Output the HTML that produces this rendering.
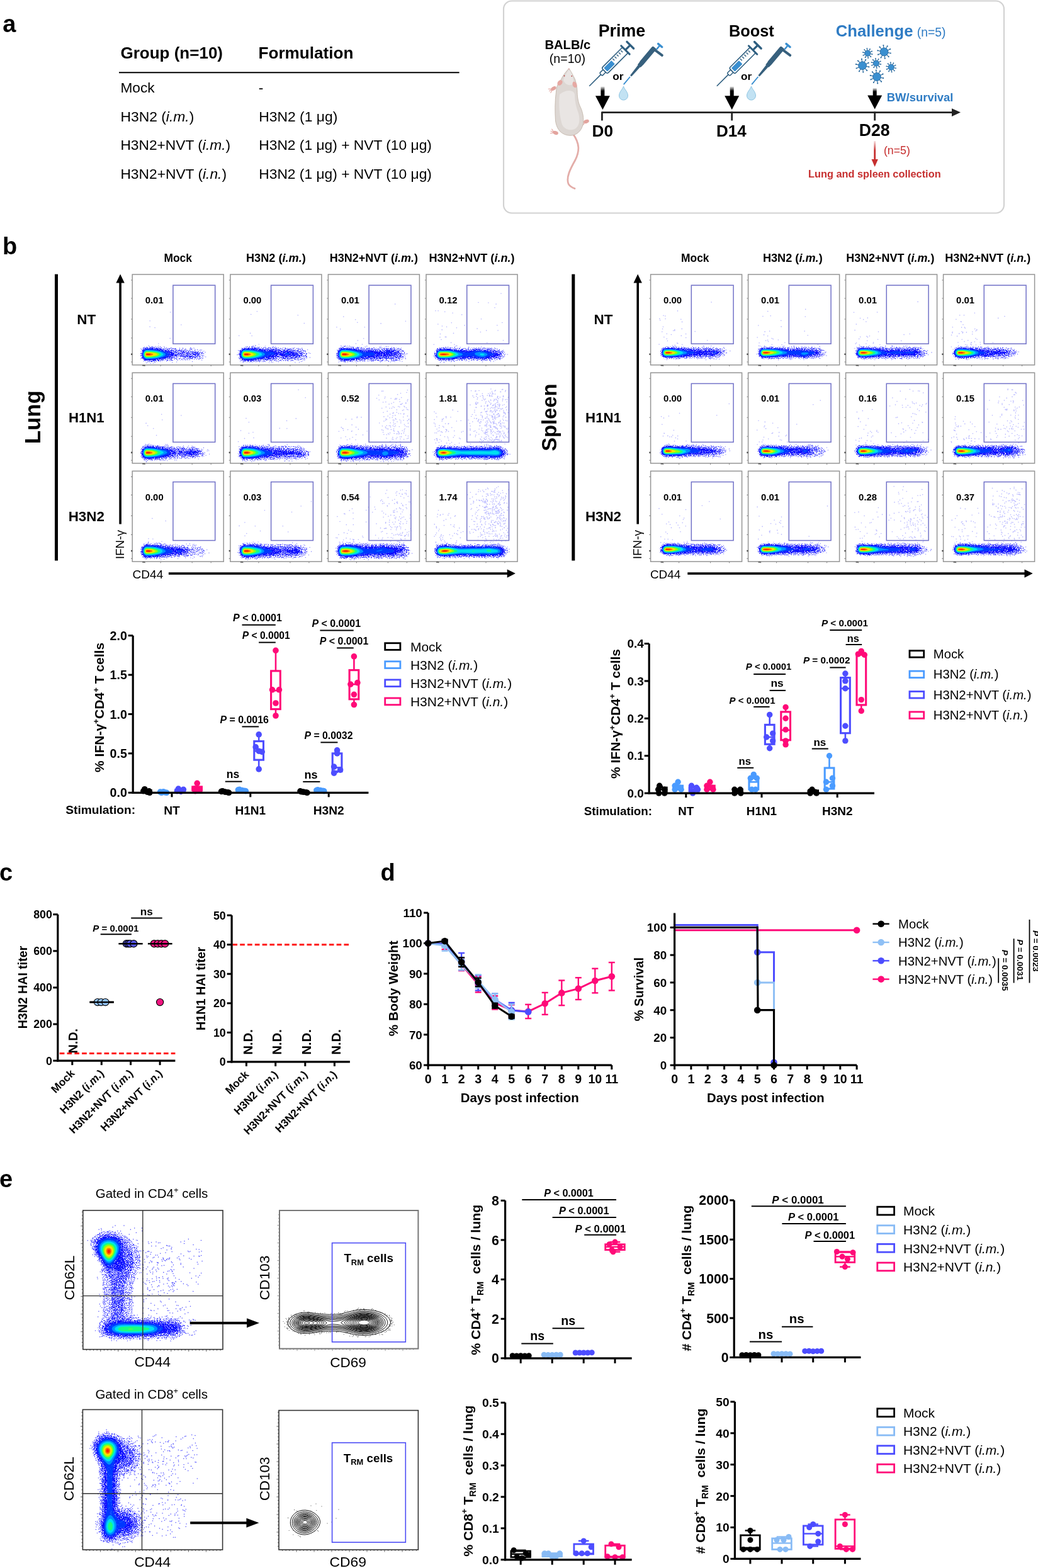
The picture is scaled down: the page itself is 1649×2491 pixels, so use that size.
<!DOCTYPE html>
<html><head><meta charset="utf-8"><title>Figure</title>
<style>html,body{margin:0;padding:0;background:#fff;}svg{display:block;}</style></head>
<body>
<svg width="1649" height="2491" viewBox="0 0 1649 2491" font-family="&quot;Liberation Sans&quot;, Arial, Helvetica, sans-serif">
<defs>
<linearGradient id="fadeDown" x1="0" y1="0" x2="0" y2="1"><stop offset="0" stop-color="#000" stop-opacity="0.1"/><stop offset="0.45" stop-color="#000" stop-opacity="1"/></linearGradient>
<linearGradient id="fadeRed" x1="0" y1="0" x2="0" y2="1"><stop offset="0" stop-color="#c62f2f" stop-opacity="0.15"/><stop offset="0.5" stop-color="#c62f2f" stop-opacity="1"/></linearGradient>
<filter id="spkA" x="0" y="0" width="1" height="1"><feTurbulence type="fractalNoise" baseFrequency="0.75" numOctaves="2" seed="5" result="n"/><feColorMatrix in="n" type="matrix" values="0 0 0 0 0 0 0 0 0 0 0 0 0 0 0 14 0 0 0 -7.6" result="m"/><feComposite in="SourceGraphic" in2="m" operator="in"/></filter>
<filter id="spkB" x="0" y="0" width="1" height="1"><feTurbulence type="fractalNoise" baseFrequency="0.75" numOctaves="2" seed="9" result="n"/><feColorMatrix in="n" type="matrix" values="0 0 0 0 0 0 0 0 0 0 0 0 0 0 0 14 0 0 0 -6.6" result="m"/><feComposite in="SourceGraphic" in2="m" operator="in"/></filter>
<filter id="spkC" x="0" y="0" width="1" height="1"><feTurbulence type="fractalNoise" baseFrequency="0.75" numOctaves="2" seed="13" result="n"/><feColorMatrix in="n" type="matrix" values="0 0 0 0 0 0 0 0 0 0 0 0 0 0 0 14 0 0 0 -5.6" result="m"/><feComposite in="SourceGraphic" in2="m" operator="in"/></filter>
<filter id="soft" x="-10%" y="-10%" width="120%" height="120%"><feGaussianBlur stdDeviation="0.6"/></filter>
</defs>
<rect width="1649" height="2491" fill="#fff"/>
<text x="4.2" y="51" font-size="38" font-weight="bold">a</text>
<text x="191.5" y="93" font-size="26.01" font-weight="bold">Group (n=10)</text>
<text x="410.5" y="93" font-size="26.11" font-weight="bold">Formulation</text>
<line x1="189" y1="115.3" x2="729.6" y2="115.3" stroke="#000" stroke-width="2"/>
<text x="191.4" y="146.5" font-size="22.7">Mock</text>
<text x="410.8" y="146.5" font-size="22.8">-</text>
<text x="191.4" y="192.5" font-size="22.89">H3N2 (<tspan font-style="italic">i.m.</tspan>)</text>
<text x="411.3" y="192.5" font-size="22.86">H3N2 (1 μg)</text>
<text x="191.4" y="238.4" font-size="22.75">H3N2+NVT (<tspan font-style="italic">i.m.</tspan>)</text>
<text x="411.3" y="238.4" font-size="22.79">H3N2 (1 μg) + NVT (10 μg)</text>
<text x="191.4" y="284.4" font-size="22.79">H3N2+NVT (<tspan font-style="italic">i.n.</tspan>)</text>
<text x="411.3" y="284.4" font-size="22.79">H3N2 (1 μg) + NVT (10 μg)</text>
<rect x="800" y="1.5" width="795" height="337" rx="13" fill="#fff" stroke="#d2d2d2" stroke-width="2.2"/>
<line x1="956.4" y1="178.6" x2="1514" y2="178.6" stroke="#222" stroke-width="2.8"/>
<path d="M1512 172.3 L1526 178.6 L1512 184.9 Z" fill="#222"/>
<line x1="956.4" y1="177.5" x2="956.4" y2="191.5" stroke="#222" stroke-width="2.8"/>
<line x1="1162.7" y1="177.5" x2="1162.7" y2="191.5" stroke="#222" stroke-width="2.8"/>
<line x1="1389.7" y1="177.5" x2="1389.7" y2="191.5" stroke="#222" stroke-width="2.8"/>
<text x="957.3" y="216.6" font-size="26.23" font-weight="bold" text-anchor="middle">D0</text>
<text x="1161.8" y="216.6" font-size="26.05" font-weight="bold" text-anchor="middle">D14</text>
<text x="1389.2" y="216.2" font-size="26.72" font-weight="bold" text-anchor="middle">D28</text>
<rect x="954.4" y="137.5" width="6" height="15.8" fill="url(#fadeDown)"/>
<path d="M945.9 152.3L968.9 152.3L957.4 174.3Z" fill="#000"/>
<rect x="1159.7" y="137.5" width="6" height="15.8" fill="url(#fadeDown)"/>
<path d="M1151.2 152.3L1174.2 152.3L1162.7 174.3Z" fill="#000"/>
<rect x="1386.7" y="140" width="6" height="12.6" fill="url(#fadeDown)"/>
<path d="M1378.2 151.6L1401.2 151.6L1389.7 173.6Z" fill="#000"/>
<text x="987.9" y="57.7" font-size="26.81" font-weight="bold" text-anchor="middle">Prime</text>
<text x="1193.8" y="57.7" font-size="25.35" font-weight="bold" text-anchor="middle">Boost</text>
<text x="1327.8" y="58.3" font-size="25.66" font-weight="bold" fill="#2f7cc4">Challenge</text>
<text x="1456.8" y="58.3" font-size="19.39" fill="#2f7cc4">(n=5)</text>
<text x="1408.8" y="160.7" font-size="18.47" font-weight="bold" fill="#2f7cc4">BW/survival</text>
<text x="901.9" y="78" font-size="20.14" font-weight="bold" text-anchor="middle">BALB/c</text>
<text x="901.4" y="100.4" font-size="19.57" text-anchor="middle">(n=10)</text>
<text x="981.8" y="127.2" font-size="17.23" font-weight="bold" text-anchor="middle">or</text>
<text x="1185.5" y="127.2" font-size="17.23" font-weight="bold" text-anchor="middle">or</text>
<rect x="1388.3" y="224" width="2.8" height="30" fill="url(#fadeRed)"/>
<path d="M1384.5 253 L1394.9 253 L1389.7 265 Z" fill="#c62f2f"/>
<text x="1403.9" y="244.8" font-size="17.74" fill="#c62f2f">(n=5)</text>
<text x="1389.3" y="281.8" font-size="16.35" font-weight="bold" text-anchor="middle" fill="#c62f2f">Lung and spleen collection</text>
<g transform="translate(936.2 136.7) rotate(-45)">
<line x1="0" y1="0" x2="26" y2="0" stroke="#2f5f80" stroke-width="1.6"/>
<rect x="26" y="-3" width="8" height="6" rx="1.5" fill="#fff" stroke="#2f5f80" stroke-width="1.5"/>
<rect x="34" y="-6.3" width="47" height="12.6" rx="2.5" fill="#fff" stroke="#2f5f80" stroke-width="1.6"/>
<rect x="36.5" y="-4" width="17" height="8" rx="1" fill="#3a8fd0"/>
<line x1="57" y1="-4.6" x2="57" y2="-0.5" stroke="#2f5f80" stroke-width="1.4"/>
<line x1="61.6" y1="-4.6" x2="61.6" y2="-0.5" stroke="#2f5f80" stroke-width="1.4"/>
<line x1="66.2" y1="-4.6" x2="66.2" y2="-0.5" stroke="#2f5f80" stroke-width="1.4"/>
<line x1="70.8" y1="-4.6" x2="70.8" y2="-0.5" stroke="#2f5f80" stroke-width="1.4"/>
<line x1="75.4" y1="-4.6" x2="75.4" y2="-0.5" stroke="#2f5f80" stroke-width="1.4"/>
<line x1="81" y1="-9.5" x2="81" y2="9.5" stroke="#2f5f80" stroke-width="3" stroke-linecap="round"/>
<line x1="81" y1="0" x2="92" y2="0" stroke="#2f5f80" stroke-width="3.2"/>
<line x1="92" y1="-7.5" x2="92" y2="7.5" stroke="#2f5f80" stroke-width="3.4" stroke-linecap="round"/>
</g>
<g transform="translate(1138.8 136.8) rotate(-45)">
<line x1="0" y1="0" x2="26" y2="0" stroke="#2f5f80" stroke-width="1.6"/>
<rect x="26" y="-3" width="8" height="6" rx="1.5" fill="#fff" stroke="#2f5f80" stroke-width="1.5"/>
<rect x="34" y="-6.3" width="47" height="12.6" rx="2.5" fill="#fff" stroke="#2f5f80" stroke-width="1.6"/>
<rect x="36.5" y="-4" width="17" height="8" rx="1" fill="#3a8fd0"/>
<line x1="57" y1="-4.6" x2="57" y2="-0.5" stroke="#2f5f80" stroke-width="1.4"/>
<line x1="61.6" y1="-4.6" x2="61.6" y2="-0.5" stroke="#2f5f80" stroke-width="1.4"/>
<line x1="66.2" y1="-4.6" x2="66.2" y2="-0.5" stroke="#2f5f80" stroke-width="1.4"/>
<line x1="70.8" y1="-4.6" x2="70.8" y2="-0.5" stroke="#2f5f80" stroke-width="1.4"/>
<line x1="75.4" y1="-4.6" x2="75.4" y2="-0.5" stroke="#2f5f80" stroke-width="1.4"/>
<line x1="81" y1="-9.5" x2="81" y2="9.5" stroke="#2f5f80" stroke-width="3" stroke-linecap="round"/>
<line x1="81" y1="0" x2="92" y2="0" stroke="#2f5f80" stroke-width="3.2"/>
<line x1="92" y1="-7.5" x2="92" y2="7.5" stroke="#2f5f80" stroke-width="3.4" stroke-linecap="round"/>
</g>
<g transform="translate(990.9 134) rotate(-50)">
<line x1="0.5" y1="0" x2="15" y2="0" stroke="#3a8fd0" stroke-width="1.9" stroke-linecap="round"/>
<path d="M17.5 -1.5 L38.5 -2.4 L38.5 2.4 L17.5 1.5 Z" fill="#37607d"/>
<path d="M38 -3.2 L44 -3.6 L44 -3.9 L74 -3.9 Q76.5 -3.9 76.5 -1.5 L76.5 3.9 L44 3.9 L38 3.2 Z" fill="#37607d"/>
<line x1="73.5" y1="2" x2="74.5" y2="17" stroke="#37607d" stroke-width="4" stroke-linecap="round"/>
<line x1="76" y1="4.2" x2="83.5" y2="4.2" stroke="#3a8fd0" stroke-width="2.6"/>
<line x1="84.5" y1="0.5" x2="84.5" y2="8.5" stroke="#3a8fd0" stroke-width="3.4" stroke-linecap="round"/>
</g>
<g transform="translate(1194.3 134) rotate(-50)">
<line x1="0.5" y1="0" x2="15" y2="0" stroke="#3a8fd0" stroke-width="1.9" stroke-linecap="round"/>
<path d="M17.5 -1.5 L38.5 -2.4 L38.5 2.4 L17.5 1.5 Z" fill="#37607d"/>
<path d="M38 -3.2 L44 -3.6 L44 -3.9 L74 -3.9 Q76.5 -3.9 76.5 -1.5 L76.5 3.9 L44 3.9 L38 3.2 Z" fill="#37607d"/>
<line x1="73.5" y1="2" x2="74.5" y2="17" stroke="#37607d" stroke-width="4" stroke-linecap="round"/>
<line x1="76" y1="4.2" x2="83.5" y2="4.2" stroke="#3a8fd0" stroke-width="2.6"/>
<line x1="84.5" y1="0.5" x2="84.5" y2="8.5" stroke="#3a8fd0" stroke-width="3.4" stroke-linecap="round"/>
</g>
<path d="M990.5 137 C989 142 983.5 146 983.5 152 A7 7 0 0 0 997.5 152 C997.5 146 992 142 990.5 137 Z" fill="#c2e2f3" stroke="#8fc5e2" stroke-width="1"/>
<path d="M1193.5 137 C1192 142 1186.5 146 1186.5 152 A7 7 0 0 0 1200.5 152 C1200.5 146 1195 142 1193.5 137 Z" fill="#c2e2f3" stroke="#8fc5e2" stroke-width="1"/>
<path d="M1382.6 85.5L1385.7 86.1M1381.3 87.8L1383.4 90.2M1378.8 89L1379.2 92.2M1376.1 88.4L1374.6 91.2M1374.3 86.4L1371.4 87.8M1374 83.7L1370.9 83.1M1375.3 81.4L1373.2 79M1377.8 80.2L1377.4 77M1380.5 80.8L1382 78M1382.3 82.8L1385.2 81.4" stroke="#2a6a9e" stroke-width="1.1"/>
<circle cx="1385.7" cy="86.1" r="0.9" fill="#2a6a9e"/>
<circle cx="1383.4" cy="90.2" r="0.9" fill="#2a6a9e"/>
<circle cx="1379.2" cy="92.2" r="0.9" fill="#2a6a9e"/>
<circle cx="1374.6" cy="91.2" r="0.9" fill="#2a6a9e"/>
<circle cx="1371.4" cy="87.8" r="0.9" fill="#2a6a9e"/>
<circle cx="1370.9" cy="83.1" r="0.9" fill="#2a6a9e"/>
<circle cx="1373.2" cy="79" r="0.9" fill="#2a6a9e"/>
<circle cx="1377.4" cy="77" r="0.9" fill="#2a6a9e"/>
<circle cx="1382" cy="78" r="0.9" fill="#2a6a9e"/>
<circle cx="1385.2" cy="81.4" r="0.9" fill="#2a6a9e"/>
<circle cx="1378.3" cy="84.6" r="4.6" fill="#3a8fd0" stroke="#2a6a9e" stroke-width="0.9"/>
<path d="M1410.5 83.6L1414.8 84.5M1408.7 86.9L1411.7 90.1M1405.3 88.4L1405.8 92.8M1401.6 87.7L1399.5 91.5M1399.1 84.9L1395.1 86.7M1398.7 81.2L1394.4 80.3M1400.5 77.9L1397.5 74.7M1403.9 76.4L1403.4 72M1407.6 77.1L1409.7 73.3M1410.1 79.9L1414.1 78.1" stroke="#2a6a9e" stroke-width="1.1"/>
<circle cx="1414.8" cy="84.5" r="1.1" fill="#2a6a9e"/>
<circle cx="1411.7" cy="90.1" r="1.1" fill="#2a6a9e"/>
<circle cx="1405.8" cy="92.8" r="1.1" fill="#2a6a9e"/>
<circle cx="1399.5" cy="91.5" r="1.1" fill="#2a6a9e"/>
<circle cx="1395.1" cy="86.7" r="1.1" fill="#2a6a9e"/>
<circle cx="1394.4" cy="80.3" r="1.1" fill="#2a6a9e"/>
<circle cx="1397.5" cy="74.7" r="1.1" fill="#2a6a9e"/>
<circle cx="1403.4" cy="72" r="1.1" fill="#2a6a9e"/>
<circle cx="1409.7" cy="73.3" r="1.1" fill="#2a6a9e"/>
<circle cx="1414.1" cy="78.1" r="1.1" fill="#2a6a9e"/>
<circle cx="1404.6" cy="82.4" r="6.4" fill="#3a8fd0" stroke="#2a6a9e" stroke-width="0.9"/>
<path d="M1376 105.4L1380.3 106.3M1374.2 108.7L1377.2 111.9M1370.8 110.2L1371.3 114.6M1367.1 109.5L1365 113.3M1364.6 106.7L1360.6 108.5M1364.2 103L1359.9 102.1M1366 99.7L1363 96.5M1369.4 98.2L1368.9 93.8M1373.1 98.9L1375.2 95.1M1375.6 101.7L1379.6 99.9" stroke="#2a6a9e" stroke-width="1.1"/>
<circle cx="1380.3" cy="106.3" r="1.1" fill="#2a6a9e"/>
<circle cx="1377.2" cy="111.9" r="1.1" fill="#2a6a9e"/>
<circle cx="1371.3" cy="114.6" r="1.1" fill="#2a6a9e"/>
<circle cx="1365" cy="113.3" r="1.1" fill="#2a6a9e"/>
<circle cx="1360.6" cy="108.5" r="1.1" fill="#2a6a9e"/>
<circle cx="1359.9" cy="102.1" r="1.1" fill="#2a6a9e"/>
<circle cx="1363" cy="96.5" r="1.1" fill="#2a6a9e"/>
<circle cx="1368.9" cy="93.8" r="1.1" fill="#2a6a9e"/>
<circle cx="1375.2" cy="95.1" r="1.1" fill="#2a6a9e"/>
<circle cx="1379.6" cy="99.9" r="1.1" fill="#2a6a9e"/>
<circle cx="1370.1" cy="104.2" r="6.4" fill="#3a8fd0" stroke="#2a6a9e" stroke-width="0.9"/>
<path d="M1396.2 101.5L1399.3 102.1M1394.9 103.8L1397 106.2M1392.4 105L1392.8 108.2M1389.7 104.4L1388.2 107.2M1387.9 102.4L1385 103.8M1387.6 99.7L1384.5 99.1M1388.9 97.4L1386.8 95M1391.4 96.2L1391 93M1394.1 96.8L1395.6 94M1395.9 98.8L1398.8 97.4" stroke="#2a6a9e" stroke-width="1.1"/>
<circle cx="1399.3" cy="102.1" r="0.9" fill="#2a6a9e"/>
<circle cx="1397" cy="106.2" r="0.9" fill="#2a6a9e"/>
<circle cx="1392.8" cy="108.2" r="0.9" fill="#2a6a9e"/>
<circle cx="1388.2" cy="107.2" r="0.9" fill="#2a6a9e"/>
<circle cx="1385" cy="103.8" r="0.9" fill="#2a6a9e"/>
<circle cx="1384.5" cy="99.1" r="0.9" fill="#2a6a9e"/>
<circle cx="1386.8" cy="95" r="0.9" fill="#2a6a9e"/>
<circle cx="1391" cy="93" r="0.9" fill="#2a6a9e"/>
<circle cx="1395.6" cy="94" r="0.9" fill="#2a6a9e"/>
<circle cx="1398.8" cy="97.4" r="0.9" fill="#2a6a9e"/>
<circle cx="1391.9" cy="100.6" r="4.6" fill="#3a8fd0" stroke="#2a6a9e" stroke-width="0.9"/>
<path d="M1420 107.7L1423.1 108.3M1418.7 110L1420.8 112.4M1416.2 111.2L1416.6 114.4M1413.5 110.6L1412 113.4M1411.7 108.6L1408.8 110M1411.4 105.9L1408.3 105.3M1412.7 103.6L1410.6 101.2M1415.2 102.4L1414.8 99.2M1417.9 103L1419.4 100.2M1419.7 105L1422.6 103.6" stroke="#2a6a9e" stroke-width="1.1"/>
<circle cx="1423.1" cy="108.3" r="0.9" fill="#2a6a9e"/>
<circle cx="1420.8" cy="112.4" r="0.9" fill="#2a6a9e"/>
<circle cx="1416.6" cy="114.4" r="0.9" fill="#2a6a9e"/>
<circle cx="1412" cy="113.4" r="0.9" fill="#2a6a9e"/>
<circle cx="1408.8" cy="110" r="0.9" fill="#2a6a9e"/>
<circle cx="1408.3" cy="105.3" r="0.9" fill="#2a6a9e"/>
<circle cx="1410.6" cy="101.2" r="0.9" fill="#2a6a9e"/>
<circle cx="1414.8" cy="99.2" r="0.9" fill="#2a6a9e"/>
<circle cx="1419.4" cy="100.2" r="0.9" fill="#2a6a9e"/>
<circle cx="1422.6" cy="103.6" r="0.9" fill="#2a6a9e"/>
<circle cx="1415.7" cy="106.8" r="4.6" fill="#3a8fd0" stroke="#2a6a9e" stroke-width="0.9"/>
<path d="M1398.9 123.2L1403.2 124.1M1397.1 126.5L1400.1 129.7M1393.7 128L1394.2 132.4M1390 127.3L1387.9 131.1M1387.5 124.5L1383.5 126.3M1387.1 120.8L1382.8 119.9M1388.9 117.5L1385.9 114.3M1392.3 116L1391.8 111.6M1396 116.7L1398.1 112.9M1398.5 119.5L1402.5 117.7" stroke="#2a6a9e" stroke-width="1.1"/>
<circle cx="1403.2" cy="124.1" r="1.1" fill="#2a6a9e"/>
<circle cx="1400.1" cy="129.7" r="1.1" fill="#2a6a9e"/>
<circle cx="1394.2" cy="132.4" r="1.1" fill="#2a6a9e"/>
<circle cx="1387.9" cy="131.1" r="1.1" fill="#2a6a9e"/>
<circle cx="1383.5" cy="126.3" r="1.1" fill="#2a6a9e"/>
<circle cx="1382.8" cy="119.9" r="1.1" fill="#2a6a9e"/>
<circle cx="1385.9" cy="114.3" r="1.1" fill="#2a6a9e"/>
<circle cx="1391.8" cy="111.6" r="1.1" fill="#2a6a9e"/>
<circle cx="1398.1" cy="112.9" r="1.1" fill="#2a6a9e"/>
<circle cx="1402.5" cy="117.7" r="1.1" fill="#2a6a9e"/>
<circle cx="1393" cy="122" r="6.4" fill="#3a8fd0" stroke="#2a6a9e" stroke-width="0.9"/>
<path d="M910.5 213 C921 228 921 240 914 254 C906 268 899 282 903 292 C905 296 909 298 913 299.5" fill="none" stroke="#dc9d98" stroke-width="2.6" stroke-linecap="round"/>
<path d="M910.5 213 C921 228 921 240 914 254 C906 268 899 282 903 292 C905 296 909 298 913 299.5" fill="none" stroke="#efc4c0" stroke-width="0.8"/>
<g transform="translate(879.5 140.5) rotate(-30)">
<ellipse cx="0" cy="0" rx="4.5" ry="2.8" fill="#e3a49e"/>
<path d="M-4 -1 L-7.5 -3.5 M-4 0.5 L-8 0 M-4 1.8 L-7.5 3.5" stroke="#e3a49e" stroke-width="1.1" stroke-linecap="round"/>
</g>
<g transform="translate(882.5 211) rotate(20)">
<ellipse cx="0" cy="0" rx="4.5" ry="2.8" fill="#e3a49e"/>
<path d="M-4 -1 L-7.5 -3.5 M-4 0.5 L-8 0 M-4 1.8 L-7.5 3.5" stroke="#e3a49e" stroke-width="1.1" stroke-linecap="round"/>
</g>
<g transform="translate(931.5 193) rotate(-20)">
<ellipse cx="0" cy="0" rx="4.5" ry="2.8" fill="#e3a49e"/>
<path d="M-4 -1 L-7.5 -3.5 M-4 0.5 L-8 0 M-4 1.8 L-7.5 3.5" stroke="#e3a49e" stroke-width="1.1" stroke-linecap="round"/>
</g>
<path d="M903.8 108.8 C899 114 894 120 891 127 C887 131 884 137 883.5 146 C881.5 160 881.5 178 882.5 192 C884 203 889 210 896 213 C902 216 910 216 915 213 C921 210 925 204 926.5 196 C927.5 188 926 178 922 170 C918 162 917 152 917 145 C917 138 915 131 913.5 126 C910 119 907 113 903.8 108.8 Z" fill="#ddd7d3" stroke="#c4b7ac" stroke-width="0.9"/>
<path d="M889 150 C887 165 889 185 893 198 C897 206 906 208 913 205 C920 201 922 192 919 180 C915 170 913 160 913 150 C912 143 900 141 889 150 Z" fill="#e9e5e3"/>
<path d="M903.8 110.5 C900 116 897 121 895 127 C897 134 904 137 910 134 C912 130 911 124 908.5 118 C907 114 905.5 112 903.8 110.5 Z" fill="#e9e5e3"/>
<ellipse cx="889.5" cy="131.5" rx="3.5" ry="4.8" fill="#e6a9a3" transform="rotate(40 889.5 131.5)"/>
<ellipse cx="913" cy="134.5" rx="3.3" ry="5" fill="#e6a9a3" transform="rotate(-20 913 134.5)"/>
<circle cx="896.5" cy="120.5" r="0.9" fill="#b03030"/>
<circle cx="908.3" cy="120.8" r="0.9" fill="#b03030"/>
<circle cx="903.8" cy="109.5" r="0.9" fill="#e0a0a0"/>
<text x="3.9" y="404.3" font-size="38" font-weight="bold">b</text>
<text x="282.7" y="415.8" font-size="17.43" font-weight="bold" text-anchor="middle">Mock</text>
<text x="438.4" y="415.8" font-size="18.15" font-weight="bold" text-anchor="middle">H3N2 (<tspan font-style="italic">i.m.</tspan>)</text>
<text x="593.9" y="415.8" font-size="17.97" font-weight="bold" text-anchor="middle">H3N2+NVT (<tspan font-style="italic">i.m.</tspan>)</text>
<text x="749.5" y="415.8" font-size="18.07" font-weight="bold" text-anchor="middle">H3N2+NVT (<tspan font-style="italic">i.n.</tspan>)</text>
<text x="1104.3" y="415.8" font-size="17.43" font-weight="bold" text-anchor="middle">Mock</text>
<text x="1259.3" y="415.8" font-size="18.15" font-weight="bold" text-anchor="middle">H3N2 (<tspan font-style="italic">i.m.</tspan>)</text>
<text x="1414.3" y="415.8" font-size="17.97" font-weight="bold" text-anchor="middle">H3N2+NVT (<tspan font-style="italic">i.m.</tspan>)</text>
<text x="1569.3" y="415.8" font-size="18.07" font-weight="bold" text-anchor="middle">H3N2+NVT (<tspan font-style="italic">i.n.</tspan>)</text>
<text x="137.3" y="515" font-size="22.46" font-weight="bold" text-anchor="middle">NT</text>
<text x="137.3" y="671.3" font-size="22.22" font-weight="bold" text-anchor="middle">H1N1</text>
<text x="137.3" y="827.6" font-size="22.33" font-weight="bold" text-anchor="middle">H3N2</text>
<text x="958.5" y="515" font-size="22.46" font-weight="bold" text-anchor="middle">NT</text>
<text x="958.5" y="671.3" font-size="22.22" font-weight="bold" text-anchor="middle">H1N1</text>
<text x="958.5" y="827.6" font-size="22.33" font-weight="bold" text-anchor="middle">H3N2</text>
<rect x="87" y="435.6" width="5" height="455" fill="#000"/>
<rect x="908.3" y="435.6" width="5" height="455" fill="#000"/>
<text x="63.6" y="662.7" font-size="34.81" font-weight="bold" text-anchor="middle" transform="rotate(-90 63.6 662.7)">Lung</text>
<text x="884" y="663.2" font-size="32.72" font-weight="bold" text-anchor="middle" transform="rotate(-90 884 663.2)">Spleen</text>
<rect x="189.3" y="447" width="3.6" height="385.6" fill="#000"/>
<path d="M191.1 435.6L184.4 449.5L197.8 449.5Z" fill="#000"/>
<text x="196.9" y="865.2" font-size="18.95" text-anchor="middle" transform="rotate(-90 196.9 865.2)">IFN-γ</text>
<rect x="1011.4" y="447" width="3.6" height="385.6" fill="#000"/>
<path d="M1013.2 435.6L1006.5 449.5L1019.9 449.5Z" fill="#000"/>
<text x="1019" y="865.2" font-size="18.95" text-anchor="middle" transform="rotate(-90 1019 865.2)">IFN-γ</text>
<text x="210.6" y="918.7" font-size="19.02">CD44</text>
<rect x="267.9" y="909.3" width="540" height="3.6" fill="#000"/>
<path d="M805.7 904.5L818.9 911.1L805.7 917.7Z" fill="#000"/>
<text x="1033" y="918.7" font-size="18.86">CD44</text>
<rect x="1092.3" y="909.3" width="536" height="3.6" fill="#000"/>
<path d="M1627.5 904.5L1640.7 911.1L1627.5 917.7Z" fill="#000"/>
<g>
<path d="M246.7 575.5L231.7 575.7L228.2 574.3L225.7 572L223.4 567.5L222.8 561.5L224.4 556L227.2 552.5L229.2 551.2L231.7 550.3L240.2 550.2L275.2 553L309.2 554.4L314.7 555.3L320.2 557.2L323.7 559.5L325.5 562.5L325 565L322.2 567.7L318.2 569.7L312.2 571.2L298.2 572.3L282.2 572.3L246.7 575.5Z" fill="#3c3cff" filter="url(#spkA)"/>
<path d="M246.7 573.5L232.2 573.8L229.7 573L227.6 571.5L225 567.5L224.2 563L225 558.5L227.6 554.5L229.2 553.2L231.7 552.2L241.7 552.2L254.2 553.2L282.7 557.2L310.2 558L315.3 559.5L317.1 561L317.9 562.5L317.5 564.5L316.2 565.9L314.2 567L311.2 567.9L292.7 567.9L289.7 567.3L285.2 565.4L283.2 565.3L281.2 566L277.2 568.5L273.7 569.6L258.7 572.2L246.7 573.5Z" fill="#1e1eff" filter="url(#spkB)"/>
<path d="M237.2 572.5L232.2 572.4L230.2 571.8L227.5 569.5L225.9 566.5L225.4 562.5L226.3 558.5L228.4 555.5L231.2 553.8L242.7 553.7L256.7 555.3L272.2 559.2L275.4 560.5L276.7 562L276 564L273.5 566L263.7 569.3L249.7 571.7L237.2 572.5ZM310.2 564.1L307.2 564L306 563L307.3 562L310.2 561.9L311.5 563L310.2 564.1Z" fill="#0808ff" filter="url(#spkC)"/>
<path d="M243.7 571L232.7 571.3L230.7 570.7L228.9 569.5L227 566.5L226.4 563L227 559.5L228.7 556.7L230.7 555.3L232.7 554.7L241.2 554.8L250.7 555.7L256.7 556.9L262.7 558.6L266.6 560.5L268.5 562.5L268.5 563.5L267.3 565L261.7 567.9L253.2 569.8L243.7 571Z" fill="#0038ff"/>
<path d="M240.7 570L232.2 570L229.2 568.3L227.7 565.5L227.3 562.5L228 559.5L229.7 557.2L231.7 556.1L234.2 555.8L241.7 556L249.7 556.9L254.7 557.9L259.2 559.5L261.9 561L263 562.5L262.9 564L262.1 565L258.3 567L250.7 568.9L240.7 570Z" fill="#0090ff"/>
<path d="M241.2 569L232.7 569.2L230.1 568L228.7 566L228.1 563.5L228.5 560.5L229.7 558.4L231.2 557.3L233.2 556.8L239.7 556.9L247.7 557.7L255.2 559.5L258 561L259.3 562.5L259.4 563.5L258.7 564.5L254.7 566.6L249.2 568L241.2 569Z" fill="#00e0f0"/>
<path d="M241.2 568L232.7 568.2L230.7 567.3L229.3 565.5L228.9 563.5L229 561.5L229.9 559.5L231.2 558.3L232.7 557.8L244.2 558.3L252.2 559.9L254.5 561L255.8 562.5L255.8 563.5L255 564.5L252.3 566L247.7 567.2L241.2 568Z" fill="#18ff80"/>
<path d="M240.7 567L234.7 567.3L231.7 566.9L230.3 565.5L229.7 564L229.7 562L230.3 560.5L231.2 559.4L232.7 558.8L240.7 558.9L249.2 560.3L251.7 561.5L252.5 562.5L252.1 564L249.7 565.4L240.7 567Z" fill="#90ff10"/>
<path d="M240.2 566.1L232.2 566.1L231.2 565.3L230.6 564L230.7 561.5L231.7 560.2L232.7 559.8L237.7 559.7L246.2 561L249.1 562.5L249.1 563.5L247.5 564.5L240.2 566.1Z" fill="#ffe000"/>
<path d="M237.2 565L232.2 564.7L231.5 563.5L231.7 562L232.7 561.1L237.7 561L242.4 562L243.5 563L241.7 564.2L237.2 565Z" fill="#ff7000"/>
<path d="M237.2 564.1L233.1 564L232.4 563.5L232.4 562.5L233.2 562L236.7 561.9L239.2 562.4L239.7 563L237.2 564.1Z" fill="#ff2000"/>
<path d="M271.8 557.5h0M246.8 550.4h0M311.4 559.6h0M316.5 565.8h0M280.6 575h0M291.3 559.7h0M297.5 569.5h0M326.3 559.6h0M255.7 551.8h0M288.6 566.5h0M309.7 559.1h0M320.7 571.9h0M273.1 553.6h0M261.2 554h0M321.6 559.9h0M312.8 568.7h0M321.3 568.9h0M291.9 558.1h0M290.4 552.9h0M270.9 573h0M285.8 563.9h0M298.2 560.8h0M273.9 575.5h0M265.6 573.1h0M254.4 553.8h0M234.4 552.9h0M254.3 550.6h0M315.1 562.3h0M248 553.1h0M278.7 565.6h0M282 560.5h0M227.3 553.1h0M271.9 552.4h0M269 572.1h0M320.4 561.1h0M301.5 567.5h0M238.9 577.3h0M274.7 553.9h0M280.6 564.2h0M304.7 567.8h0M305.1 554.1h0M254.9 553.5h0M254.3 572.4h0M324 557.8h0M308 552.9h0M289.9 558.8h0M224 553.9h0M296.6 566.6h0M289.6 563.3h0M287.1 561.6h0M270.6 571.5h0M275.6 558.1h0M256 554.1h0M285.1 569.7h0M288.7 562h0M243.3 576.9h0M300.3 566.1h0M251.7 549.9h0M302.6 552.5h0M322.5 569.2h0M296.4 561h0M303.8 566.4h0M301.7 568.5h0M316.8 570.2h0M243.4 552.2h0M223.3 570h0M301.3 569.9h0M321.1 560.8h0M275.6 554.8h0M267.8 569.5h0M225.7 568.6h0M289.4 560.9h0M276.9 567.4h0M281.7 572.7h0M299.8 558.1h0M317.6 569.4h0M320.8 560h0M262.6 571.8h0M274.6 568.4h0M242.6 550.7h0M298.5 571.6h0M282.3 563.8h0M295 571.9h0M266.7 570.6h0M316.7 567.5h0M308 566.4h0M310.2 555.9h0M224.2 562.5h0M320.6 556.1h0M223.6 564.3h0M290.5 561h0M315.8 571.1h0M225.5 555.7h0M260.9 550.6h0M290 554.5h0M299 560.2h0M246.9 575.5h0M273.2 555.5h0M298.9 568.5h0M302.6 553.4h0M236.2 549.4h0M279.9 565.7h0M232.8 551.8h0M239.4 552.4h0M248.7 553.1h0M318.8 557.9h0M316.9 561h0M277.8 565.4h0M237.2 574.6h0M305.1 569.8h0M301.5 565.8h0M295.2 556.9h0M232.7 576.6h0M278 569.5h0M299 560.4h0M321.5 568.8h0M288.9 562.8h0M286.9 567.4h0M305.6 574.3h0M318.8 555.6h0M316.7 562.1h0M289.5 564.4h0M285.5 552.8h0M292.9 570.2h0M303.3 552.7h0M295.7 554.9h0M300.9 557.4h0M301.9 568h0M326.8 566.9h0M268.2 555.8h0" stroke="#2a2aff" stroke-width="1.2" stroke-linecap="round" stroke-opacity="0.75"/>
<path d="M276.5 560.1h0M298.8 564.1h0M262.6 554.9h0M267.1 561.4h0M267.9 566.3h0M272.3 561.7h0M270.3 564.7h0M277.8 558.5h0M268.9 560.2h0M270.9 557.8h0M242.4 573h0M234.6 552.4h0M264 558.9h0M304.4 560.8h0M268.5 560.9h0M264.2 566.9h0M281.7 562.9h0M226.9 559.2h0M279.6 559.4h0M295.7 568h0M264.3 570.6h0M239.9 553.6h0M285.3 563.5h0M316.5 561.8h0M259 554.1h0M237.8 554.5h0M226.6 563.9h0M264.3 560h0M266 564.2h0M303.2 558.9h0M257.9 572.1h0M252.2 553.6h0M302.5 558.1h0M225.1 567.7h0M266.7 566.2h0M299.7 564.9h0M229 569.9h0M290.7 567.6h0M225.3 564.8h0M310.7 559h0" stroke="#4a7aff" stroke-width="1.1" stroke-linecap="round" stroke-opacity="0.9"/>
</g>
<path d="M287.9 516h0M238.1 519.1h0M251.9 546h0M246.1 520.6h0M238.2 509.7h0M270.2 537.6h0M270.7 496h0" stroke="#8c8cff" stroke-width="1.6" stroke-linecap="round" stroke-opacity="0.65"/>
<rect x="210.2" y="436" width="145" height="143.8" fill="none" stroke="#959595" stroke-width="1.5"/>
<path d="M210.2 445h-2.2M210.2 474h-2.2M210.2 507h-2.2M210.2 537h-2.2M210.2 562.5h-2.2M210.2 575h-2.2M230.2 579.8v2.2M255.2 579.8v2.2M305.2 579.8v2.2M335.2 579.8v2.2" stroke="#8c8c8c" stroke-width="1.1"/>
<rect x="208" y="561.5" width="2.2" height="2.5" fill="#555"/>
<rect x="226.2" y="579.8" width="4" height="1.6" fill="#555"/>
<rect x="274.9" y="453.2" width="66.8" height="93" fill="none" stroke="#7272c8" stroke-width="1.5"/>
<text x="230.7" y="482.2" font-size="15" font-weight="bold" textLength="29" lengthAdjust="spacingAndGlyphs">0.01</text>
<g>
<path d="M404.4 575.5L387.9 575.7L384.9 574.8L382.4 573L379.6 569L378.7 566L378.4 563L378.7 560L379.6 557L382.4 553L384.9 551.2L386.9 550.4L393.9 550.1L420.9 551.6L472.9 552.8L478.9 553.8L483.9 555.9L487.1 558.5L489 562L488.5 565.5L485.9 568.7L481.4 571.3L475.9 572.8L463.4 573.5L440.4 573.4L404.4 575.5Z" fill="#3c3cff" filter="url(#spkA)"/>
<path d="M403.4 573.5L388.4 573.9L385.9 573.3L383.4 571.6L381 568L380 563.5L380.6 559L382.9 554.9L384.9 553.2L386.9 552.4L393.4 552L402.4 552.4L419.9 554L433.4 554.4L444.9 555.5L459.4 555.1L476.4 557.5L480.2 559.5L481.5 561L482.1 562.5L481.5 565L479.6 567L476.9 568.3L472.9 569.3L463.4 570L451.9 570.1L447.9 569.6L442.4 567.7L437.4 569.7L434.4 570.4L403.4 573.5Z" fill="#1e1eff" filter="url(#spkB)"/>
<path d="M395.4 572.5L386.9 572.2L384.4 570.8L382.3 568L381.1 564L381.5 560L383.2 556.5L385.9 554.2L388.9 553.5L400.9 553.8L420.4 556.1L434.4 556.6L444.9 559L454.4 557.3L458.4 557.2L462.4 558.1L469.8 561L471.6 562L472.1 563L471.4 564.1L468.4 565.3L461.9 566.6L456.9 567.1L450.9 566.6L444.9 563.7L442.9 563.5L440.4 564.3L435.9 566.8L432.9 567.7L409.4 571.3L395.4 572.5Z" fill="#0808ff" filter="url(#spkC)"/>
<path d="M399.9 571L388.4 571.3L386.4 570.7L384.9 569.7L382.9 567L382.1 563.5L382.5 560L384.4 556.7L386.4 555.3L388.4 554.7L399.4 554.9L422.4 558.4L432.4 559.1L435.6 560L436.7 561L436.1 562.5L434.4 563.5L426.9 565.2L418.9 567.8L409.9 569.8L399.9 571ZM458.9 563.5L456.9 563.9L454.4 563.6L452.8 562.5L452.7 561.5L454.9 560L458.5 560L460.5 561.5L460.3 562.5L458.9 563.5Z" fill="#0038ff"/>
<path d="M397.4 570L388.4 570.1L386.4 569.5L384.9 568.2L383.4 565.5L383 562.5L383.8 559.5L385.4 557.2L386.9 556.3L388.9 555.9L395.9 555.9L403.4 556.6L415.9 559.2L419.2 560.5L420.8 562L420.9 563L419.8 564.5L415.4 566.7L406.9 568.8L397.4 570Z" fill="#0090ff"/>
<path d="M397.4 569L388.4 569.1L385.9 568L384.4 566L383.8 563.5L384.1 561L385.4 558.5L386.9 557.3L388.4 556.9L400.4 557.3L411.9 559.8L414.8 561L416.2 562.5L416 563.5L415.1 564.5L411.4 566.3L404.9 568L397.4 569Z" fill="#00e0f0"/>
<path d="M397.4 568L388.9 568.2L386.7 567.5L385.3 566L384.6 564L384.7 561.5L385.7 559.5L386.9 558.3L388.4 557.8L398.4 558.1L407.2 560L409.9 561.2L411.4 562.5L410.9 564L407.9 565.7L403.4 567L397.4 568Z" fill="#18ff80"/>
<path d="M396.9 567L390.9 567.3L387.4 566.8L386 565.5L385.5 564L385.5 562L386 560.5L386.9 559.5L388.4 558.8L395.9 558.9L403.4 560.4L405.8 561.5L406.7 562.5L406.4 564L404.9 565L401.4 566.2L396.9 567Z" fill="#90ff10"/>
<path d="M396.4 566L391.9 566.3L387.9 566L386.3 564L386.5 561.5L387.4 560.3L388.4 559.8L393.9 559.7L399.9 560.8L402.9 562.5L402.9 563.5L401.7 564.5L396.4 566Z" fill="#ffe000"/>
<path d="M393.4 565L388.4 564.8L387.4 563.8L387.5 562L388.4 561.2L392.9 560.9L396.4 561.5L398.3 562.5L398.3 563.5L397.7 564L393.4 565Z" fill="#ff7000"/>
<path d="M393.4 564.1L388.9 563.9L388.3 563.5L388.3 562.5L389.4 562L392.4 561.9L394.4 562.2L395.5 563L393.4 564.1Z" fill="#ff2000"/>
<path d="M465.3 555.9h0M443.9 568.7h0M472.3 567.4h0M422.2 571.5h0M437.2 550.1h0M433.9 570.9h0M430.4 573h0M487.5 567.7h0M437.9 573.3h0M452 555h0M396 575.5h0M490.7 560.6h0M475.1 567.9h0M456.8 572.4h0M431.2 575.7h0M386.4 573.4h0M427.5 576.3h0M381.5 570h0M439.1 552h0M477.2 570.8h0M440 555.3h0M412.4 552h0M427.5 553h0M492.7 561.4h0M402.3 549.7h0M464.9 570.3h0M403.6 552.6h0M378.7 556.5h0M443.5 555h0M432.6 552.3h0M464 554.6h0M424.7 553.5h0M401.1 550.6h0M438.8 568.7h0M433.3 551.3h0M453.4 572h0M487 569.3h0M478.5 574.2h0M480.9 570.1h0M468.1 557.2h0M474.3 554.2h0M413.5 573.7h0M434.5 571.2h0M381.5 570.2h0M473.8 553.2h0M484.2 571.7h0M418 554h0M449.7 556.5h0M480.3 573.6h0M403.7 553.3h0M419.1 574h0M479.4 565.1h0M435.8 572.6h0M392.8 573.8h0M379.9 562.3h0M381.9 574.3h0M437.3 552.3h0M441.8 555.4h0M432.4 555.3h0M424.2 555.2h0M439.5 573.3h0M472.7 568.8h0M470.6 567.9h0M433.6 570h0M488.7 555.6h0M434.8 569.9h0M438.2 571.1h0M404.4 553.1h0M406.3 552.1h0M434.3 550.5h0M478.9 560.2h0M439.7 570.1h0M410.4 552.1h0M418 572h0M387 574.8h0M439.7 554.7h0M440.7 556.3h0M406 549.4h0M403.1 550.6h0M409.7 551.3h0M418.5 574.6h0M474.4 557.2h0M472 556.9h0M401 550.2h0M476.9 557h0M469.2 567.8h0M449.3 567.8h0M432 554.5h0M445 572.4h0M445.3 567.4h0M424.8 571.4h0M480.2 563.8h0M438.3 554.8h0M468.6 570.9h0M419.4 571.7h0M441.7 556.4h0M412.4 574.7h0M437.6 553.7h0M475.5 575.3h0M405.7 572.9h0M479.7 552.8h0M473 572.4h0M442.4 574.7h0M482.2 568.1h0M431.5 570.9h0M437.8 570.9h0M457.4 573.7h0M492.4 567.9h0M483.7 565.5h0M419.2 554.5h0M479.5 563.4h0M456.6 571.4h0M440.1 569.4h0M474.8 555.1h0M433.4 575.5h0M442 555.9h0M386 575.3h0M463.8 568.5h0M376.9 563.7h0M482.8 571.9h0M484.6 564.4h0M420.7 570.9h0M437.1 570.2h0M392.5 550.6h0M468.9 576.2h0M402.1 552.1h0M441 556.1h0M452 552.9h0M379.6 568.6h0M480.7 560.2h0" stroke="#2a2aff" stroke-width="1.2" stroke-linecap="round" stroke-opacity="0.75"/>
<path d="M437.2 563.3h0M448.1 566.7h0M385.8 570.4h0M429.3 568.7h0M475.6 567.1h0M477.4 564.3h0M470.4 565.5h0M408.2 556.2h0M465.4 563.7h0M418.8 557.1h0M426.1 554.6h0M472.6 561.4h0M470.6 562.7h0M462.1 568.7h0M427.2 563h0M422.1 558.2h0M433.7 562.8h0M381.6 557.7h0M455.3 562.9h0M438.2 563.4h0M454.2 569.3h0M420.2 567.7h0M422.8 570.3h0M454.3 560.6h0M438.9 559.2h0M451.3 561.2h0M466.1 556.2h0M423.3 568.8h0M444.5 567.9h0M383.4 557.2h0M454.8 560.7h0M408.6 553.4h0M427.3 555.6h0M429.6 561.5h0M409.6 553.6h0M466.1 566.3h0M410.6 571.2h0M449.5 555.9h0M384 569.8h0M428.9 570.7h0" stroke="#4a7aff" stroke-width="1.1" stroke-linecap="round" stroke-opacity="0.9"/>
</g>
<path d="M473.3 500.8h0M483.3 513.6h0M398.7 499.5h0M421.5 550.1h0M379.7 533.2h0M405.6 548.6h0M397.6 529.4h0M400.2 533.5h0M411.3 547h0M408.4 494.8h0" stroke="#8c8cff" stroke-width="1.6" stroke-linecap="round" stroke-opacity="0.65"/>
<rect x="365.9" y="436" width="145" height="143.8" fill="none" stroke="#959595" stroke-width="1.5"/>
<path d="M365.9 445h-2.2M365.9 474h-2.2M365.9 507h-2.2M365.9 537h-2.2M365.9 562.5h-2.2M365.9 575h-2.2M385.9 579.8v2.2M410.9 579.8v2.2M460.9 579.8v2.2M490.9 579.8v2.2" stroke="#8c8c8c" stroke-width="1.1"/>
<rect x="363.7" y="561.5" width="2.2" height="2.5" fill="#555"/>
<rect x="381.9" y="579.8" width="4" height="1.6" fill="#555"/>
<rect x="430.6" y="453.2" width="66.8" height="93" fill="none" stroke="#7272c8" stroke-width="1.5"/>
<text x="386.4" y="482.2" font-size="15" font-weight="bold" textLength="29" lengthAdjust="spacingAndGlyphs">0.00</text>
<g>
<path d="M559.9 575.5L543.4 575.7L540.4 574.8L537.9 573L535.1 569L534.2 566L533.9 563L534.2 560L535.1 557L537.9 553L541.9 550.6L547.9 550.1L583.9 552L601.4 552.2L616.4 551.5L623.4 551.6L631.9 552.8L637.9 554.8L642.6 558L644.1 560L644.8 562L644.4 565.5L641.9 568.6L637.4 571.4L631.9 572.9L622.4 573.6L582.4 574L559.9 575.5Z" fill="#3c3cff" filter="url(#spkA)"/>
<path d="M559.4 573.5L543.9 573.9L541.4 573.3L538.9 571.6L536.5 568L535.5 563.5L536.1 559L538.3 555L541.9 552.5L547.4 552L557.9 552.4L579.4 554.6L599.9 555.5L605.4 555.3L615.4 553.9L620.4 553.9L627.4 555.1L633.4 557.3L636.6 559.5L638.2 562.5L637.6 565L635.8 567L632.9 568.5L628.4 569.6L584.4 571L559.4 573.5Z" fill="#1e1eff" filter="url(#spkB)"/>
<path d="M550.9 572.5L542.4 572.2L539.9 570.7L537.8 568L536.6 564L537 560L538.7 556.5L541.4 554.2L544.4 553.5L555.9 553.7L578.9 556.8L590.4 557.1L602.4 558.8L606.4 558.4L614.9 556.2L619.9 556L623.4 556.7L626.7 558L629.4 560L630.5 562L630.2 563.5L629.2 564.5L626.7 565.5L623.4 566.1L616.9 566.6L609.4 566L604.4 566.2L594.9 567.7L581.4 568.7L562.4 571.7L550.9 572.5Z" fill="#0808ff" filter="url(#spkC)"/>
<path d="M555.9 571L543.9 571.3L541.9 570.7L540.4 569.7L538.4 567L537.6 563.5L538 560L539.7 557L541.9 555.3L543.9 554.7L557.4 555.1L564.9 556.2L579.9 559.4L590.9 559.5L594.6 561L595.7 562.5L594.6 564L591.8 565L581.9 565.9L568.4 569.3L555.9 571ZM619.4 561.1L616.9 561.3L615.6 560.5L616.6 559.5L618.9 559.4L620.1 560L620.1 560.5L619.4 561.1Z" fill="#0038ff"/>
<path d="M552.9 570L543.9 570.1L541.9 569.5L540.4 568.2L538.9 565.5L538.5 562.5L539.3 559.5L540.9 557.3L542.9 556.1L545.4 555.8L551.9 555.9L559.9 556.7L570.9 559.5L574.3 561L575.8 562.5L575.9 563.5L574.5 565L569.4 567.4L562.9 568.9L552.9 570Z" fill="#0090ff"/>
<path d="M552.9 569L543.9 569.1L541.4 568L539.9 566L539.3 563.5L539.6 561L540.9 558.5L542.4 557.3L543.9 556.9L550.4 556.8L556.9 557.4L566.1 559.5L569.4 561L571 562.5L571.1 563.5L570.6 564.5L566.9 566.6L560.9 568.1L552.9 569Z" fill="#00e0f0"/>
<path d="M553.4 568L545.4 568.3L542.4 567.6L540.9 566.1L540.1 564L540.2 561.5L541.2 559.5L542.4 558.4L543.9 557.8L554.4 558.1L562.9 559.9L565.5 561L567.2 562.5L567.4 563.5L566.8 564.5L564.4 565.9L559.9 567.1L553.4 568Z" fill="#18ff80"/>
<path d="M552.9 567L546.9 567.3L542.9 566.8L541.6 565.5L541 564L541 562L541.6 560.5L542.4 559.5L543.9 558.8L551.4 558.9L559.4 560.3L562.4 561.5L563.5 562.5L563.4 564L561.9 565L558.4 566.1L552.9 567Z" fill="#90ff10"/>
<path d="M552.4 566L547.4 566.3L543.4 566L541.8 564L542 561.5L542.9 560.3L543.9 559.8L549.4 559.7L555.9 560.7L559.7 562.5L559.8 563.5L558.5 564.5L552.4 566Z" fill="#ffe000"/>
<path d="M548.9 565L543.9 564.8L542.9 563.8L543 562L544.4 561.1L549.3 561L553.4 561.9L554.7 563L552.9 564.3L548.9 565Z" fill="#ff7000"/>
<path d="M549.4 564L545 564L543.9 563.6L543.7 563L544.4 562.1L547.4 561.8L549.9 562.1L551.3 563L549.4 564Z" fill="#ff2000"/>
<path d="M605.3 552.3h0M573.8 552.6h0M625.9 574h0M627.3 554.2h0M611.8 554h0M566.1 576.8h0M561.1 552.8h0M634.3 568.6h0M596.5 571.7h0M621.5 552.3h0M622.1 572.3h0M582.8 549.9h0M624 573.6h0M643.3 564h0M628.3 571.3h0M627.7 572.2h0M623.6 568.3h0M604.3 575.2h0M633.7 568.2h0M595.4 569.5h0M624.3 553.9h0M637.5 555.1h0M535.6 565h0M630.5 572.4h0M634.5 556.7h0M614.4 571.1h0M555.1 549.3h0M626.4 572.5h0M622.9 553.5h0M593 571.8h0M604.5 573h0M606.9 574h0M602.3 569.3h0M548.7 549.2h0M617.6 574.3h0M562.3 572.6h0M632.3 556.8h0M537.4 569.2h0M612.5 568.2h0M603.9 572.9h0M628.4 568.1h0M634.7 565.7h0M642.7 560.1h0M591.2 555.1h0M585.7 553.6h0M613.5 550.4h0M594.1 569.9h0M645.7 562.1h0M636.2 569.8h0M587.7 572.6h0M616.1 554.7h0M638.9 574.1h0M632.9 572.5h0M567 572.8h0M603.4 551.2h0M578.1 553.9h0M555.9 574.5h0M536 561.8h0M616.4 550.9h0M560.6 553.3h0M574.9 571.9h0M586.2 554.4h0M641.3 562h0M636 567.8h0M579.7 555.8h0M631.2 557.9h0M643.6 568.8h0M632.1 566.3h0M576.7 552.5h0M578.6 572.4h0M637.3 567.2h0M598.9 572h0M627.3 574.3h0M631.8 558.9h0M574.4 553.2h0M538.1 575.1h0M546.7 549.9h0M637.2 552.8h0M636.8 561.3h0M542.4 574.3h0M607.5 572.4h0M623.1 571.1h0M639 557.4h0M616.8 554.1h0M629.4 553.1h0M572.8 552.9h0M579.9 573.7h0M625.4 571.4h0M605.2 549.8h0M607.6 556.3h0M552 549.8h0M587.7 570.2h0M580.2 551.2h0M567.4 551.9h0M633.9 565.4h0M644.5 569.9h0M591.3 573.5h0M586.3 555.7h0M574.7 572.2h0M598.7 555h0M635.4 573.3h0M639.3 562.3h0M601.2 572.5h0M633.7 565.3h0M622.7 554.4h0M535.6 556h0M595.8 570h0M535.2 567.2h0M589.1 571.5h0M627.9 568.5h0M590 573.1h0M558.3 551.4h0M551 574.1h0M541.9 549.1h0M544.6 551.9h0M638.8 568.1h0M589 554.5h0M609.5 554.1h0M620.4 575h0M642.5 563.8h0M621.2 553.7h0M579.5 571.1h0M647.2 561.8h0M569.1 554h0M567.4 552.5h0M626.2 553.6h0M635.4 561.4h0M636.8 561h0M580.4 570.7h0M641.8 558h0" stroke="#2a2aff" stroke-width="1.2" stroke-linecap="round" stroke-opacity="0.75"/>
<path d="M611.9 559.8h0M621.6 570h0M613.5 558h0M572.7 569.5h0M600.7 558.7h0M627.2 559.3h0M606.9 567.5h0M542.8 572.5h0M594.7 557.6h0M611 559.7h0M629 565.4h0M579.1 568.1h0M609.9 557.6h0M575 557.7h0M538.2 570h0M612.5 568.3h0M602.3 563.5h0M615 555.8h0M563 570h0M604.5 568.4h0M548.8 573.7h0M589.6 567.5h0M618.2 568.1h0M575.3 556.6h0M616.1 561.4h0M606.6 555.3h0M591.3 566.6h0M604.7 565.8h0M612.7 567h0M595.3 556.8h0M580.5 560.1h0M623.3 563.3h0M588.2 568.3h0M587.6 564.1h0M623.7 569.3h0M543.2 553.3h0M576.9 566.7h0M615.1 558.9h0M602.5 569.8h0M538.4 559.7h0" stroke="#4a7aff" stroke-width="1.1" stroke-linecap="round" stroke-opacity="0.9"/>
</g>
<path d="M644.4 510.2h0M627.7 483.1h0M605.1 513.9h0M567.8 512.3h0M575.5 547.1h0M568.4 540.9h0M579.3 519.8h0M577.7 537.8h0M540.7 522.8h0M545.8 503.1h0M565.4 545.9h0M564.7 507.8h0M534.9 519.7h0" stroke="#8c8cff" stroke-width="1.6" stroke-linecap="round" stroke-opacity="0.65"/>
<rect x="521.4" y="436" width="145" height="143.8" fill="none" stroke="#959595" stroke-width="1.5"/>
<path d="M521.4 445h-2.2M521.4 474h-2.2M521.4 507h-2.2M521.4 537h-2.2M521.4 562.5h-2.2M521.4 575h-2.2M541.4 579.8v2.2M566.4 579.8v2.2M616.4 579.8v2.2M646.4 579.8v2.2" stroke="#8c8c8c" stroke-width="1.1"/>
<rect x="519.2" y="561.5" width="2.2" height="2.5" fill="#555"/>
<rect x="537.4" y="579.8" width="4" height="1.6" fill="#555"/>
<rect x="586.1" y="453.2" width="66.8" height="93" fill="none" stroke="#7272c8" stroke-width="1.5"/>
<text x="541.9" y="482.2" font-size="15" font-weight="bold" textLength="29" lengthAdjust="spacingAndGlyphs">0.01</text>
<g>
<path d="M714 574L699 574.1L696 573.3L693.5 571.8L690.9 568.5L689.5 564L690.2 559L692.2 555.5L695.5 552.9L699.5 551.8L711.5 551.9L740 553.3L756.5 552.1L763.5 552.1L786.5 553.6L792.5 554.6L796.5 556.1L799.8 558L802 560L803.1 562.5L802.3 565.5L799 568.6L794 570.9L788 572.2L766.5 573.4L749.5 572.6L738.5 572.7L714 574Z" fill="#3c3cff" filter="url(#spkA)"/>
<path d="M708.5 572.5L698 572.3L695.5 571.2L693.1 569L691.4 565.5L691.1 562L692.1 558.5L694.5 555.5L698 553.7L702 553.5L714 553.7L741 555.6L746 555.4L756.5 554L763 554.1L789.5 556.9L792.5 557.9L795 559.4L796.5 561L797.1 562.5L796.5 565L794 567.3L790.5 568.8L785.5 569.8L766.5 571.4L750 570.3L739.5 570.4L708.5 572.5Z" fill="#1e1eff" filter="url(#spkB)"/>
<path d="M714.5 571L700 571.3L696.5 570.4L694.2 568.5L692.6 565.5L692.3 562L693.2 559L696 555.9L699.5 554.8L713.5 554.9L742 557.6L747 557.3L756 555.7L761 555.5L786.5 558.9L790.4 560.5L791.5 561.5L792 563L791 565L787.5 566.8L769 569.8L763.5 569.9L751.5 568.4L744.5 568.2L734 568.9L714.5 571Z" fill="#0808ff" filter="url(#spkC)"/>
<path d="M713 570L699.5 570.2L696.5 569.2L694.4 567L693.4 564.5L693.4 561.5L694.4 559L697 556.5L701 555.7L715.5 556.1L736 559.2L743 559.8L748 559.4L756.5 557.3L761.5 557.1L768.5 557.9L777.9 560L782.9 561.5L784.4 563L783.7 564L781.4 565L768 568.5L763 568.4L751.5 566.2L745.5 565.9L737.5 566.6L720.5 569.3L713 570Z" fill="#0038ff"/>
<path d="M712.5 569L701.5 569.2L697.5 568.6L695.6 567L694.5 565L694.2 562.5L694.9 560L696.5 558L699 556.9L712.5 556.9L719.5 557.8L728 559.7L733.6 561.5L735.4 563L733.6 564.5L726.5 566.7L719.5 568.3L712.5 569ZM769.5 566.6L765.5 567L760.5 566L755.7 564L754.4 563L754 562L754.5 561L756.5 559.9L762 559.1L769.5 559.9L774 562L774.5 563L773.7 564.5L769.5 566.6Z" fill="#0090ff"/>
<path d="M714 568L705 568.4L698.5 568.1L696.7 567L695.6 565.5L695 563.5L695.3 561L696.7 559L699 557.8L711 557.7L716.5 558.3L722 559.5L726.2 561L728.2 562.5L727.8 564L724.5 565.8L719.5 567.2L714 568ZM766.5 565L763 564L762.5 563.5L762.4 562.5L763.5 561.8L765.5 561.5L767.5 561.7L769.3 562.5L769.6 563L769.4 564L766.5 565Z" fill="#00e0f0"/>
<path d="M708.5 567.5L700 567.5L698 567L696.5 565.6L695.9 564L695.9 562L696.5 560.5L698 559L699.5 558.5L712 558.6L719.5 560L722.1 561L723.9 562.5L723.9 563.5L723 564.5L719.8 566L715 567L708.5 567.5Z" fill="#18ff80"/>
<path d="M710.5 566.5L699 566.5L696.9 564.5L696.6 563L696.9 561.5L698 560.1L699.5 559.4L709.5 559.3L716.5 560.3L719.4 561.5L720.5 562.5L720.2 564L718.5 565L715 566L710.5 566.5Z" fill="#90ff10"/>
<path d="M711.5 565.5L705 565.9L699.5 565.7L697.8 564.5L697.5 562.5L698 561.3L699 560.5L704.5 560.1L713 560.6L716.1 561.5L717.4 562.5L717.5 563.5L716.1 564.5L711.5 565.5Z" fill="#ffe000"/>
<path d="M709 564.5L700 564.5L699 564.1L698.6 563L699.5 561.6L704.5 561.2L711 561.6L712.5 562L713.6 563L712.1 564L709 564.5Z" fill="#ff7000"/>
<path d="M705 564L701.5 563.7L700 563L701 562.4L704.5 562L708.5 562.4L709.7 563L708.8 563.5L705 564Z" fill="#ff2000"/>
<path d="M729.4 554.6h0M715.4 571.7h0M690.9 562.6h0M803 562.6h0M731.1 551.6h0M735.5 555.6h0M705.5 575.7h0M786.7 569.1h0M691.9 564.5h0M716.5 552.6h0M782.2 555.7h0M794.2 559.2h0M791.5 557.6h0M722.3 552.8h0M781.4 569.6h0M697.3 572h0M734.5 572.1h0M759.7 554.7h0M733.5 569.9h0M798.5 568.7h0M695.7 555.2h0M737.5 571.7h0M766.7 574.8h0M748.9 556.1h0M793.8 569.1h0M785.8 552.3h0M786.3 570.4h0M716.3 553h0M708.1 571.9h0M781.2 555.9h0M774.2 553.2h0M740.7 571.2h0M796.7 566.4h0M786.6 570.1h0M688.8 565.3h0M744.8 551.4h0M705.1 575.1h0M767.3 571.9h0M736.1 570h0M722.6 551.6h0M701.1 573.2h0M795.3 567.6h0M716.9 554.4h0M724.5 555.1h0M768.3 553.7h0M751.5 554.9h0M730 571.9h0M797.3 564.9h0M723.3 553.6h0M794.7 571.2h0M706.3 553.5h0M711.8 573h0M758.5 572.4h0M784.1 574.1h0M699.6 575.7h0M711.1 551.7h0M744.9 574.2h0M699.1 571.8h0M722.7 555h0M759.7 571.2h0M798 559.2h0M767 572.6h0M776 554.2h0M718.4 552.4h0M772.5 572.5h0M712.1 551.7h0M748 555.4h0M709.3 553.1h0M737.2 569.9h0M781.2 570.8h0M748.8 572.7h0M743.7 553.3h0M748.8 570.9h0M732.6 570.2h0M740.7 570.3h0M691.7 568.8h0M786.2 556.3h0M768.6 572h0M782.9 555.7h0M704.5 571.9h0M694.5 555h0M798.2 560.2h0M778.8 554.2h0M743.7 554.3h0M690.2 567.3h0M695.4 554.5h0M773.4 572.5h0M775.3 555.7h0M776.8 552.7h0M778.6 572.2h0M713.4 573.1h0M767.4 572h0M799.7 556.3h0M708 550.8h0M800.2 567.4h0M800.8 559.8h0M793.7 570.7h0M733.7 571.5h0M740.1 573.2h0M764.2 572.5h0M780.5 553h0M734.7 570.6h0M779 569.4h0M694.3 556.4h0M707.2 572.4h0M755.6 554.1h0M776.5 556.2h0M716.7 574.7h0M750.2 572.3h0M703.8 554h0M698.6 552.6h0M779.4 574.2h0M770 570.7h0M770 571.4h0M765.7 570.9h0M794.6 563.4h0M792.3 568.7h0M719.9 572.7h0M806.3 563h0M794.8 569.6h0M779.8 570.2h0M720.8 573h0M703.8 572.1h0M787.3 568.4h0M717 572.5h0M752.8 569.5h0M744.3 552.2h0M721.9 574.4h0M764.7 551.1h0M694.2 554h0" stroke="#2a2aff" stroke-width="1.2" stroke-linecap="round" stroke-opacity="0.75"/>
<path d="M758.4 567.9h0M769.2 568.6h0M697.2 555.8h0M730.8 557.8h0M745.5 557h0M786.2 562.5h0M758.9 556.7h0M749.3 567.2h0M768.8 568.7h0M738.4 559.3h0M748.5 568.2h0M745.1 557.6h0M743.3 558.4h0M772 556.9h0M709 554.3h0M728.9 569.4h0M784.9 563.3h0M694.2 566.7h0M778.1 559.1h0M783.9 561.3h0M692.6 565.6h0M785.4 559.6h0M761.9 556.7h0M750.9 558.4h0M735.8 570.2h0M742.6 565h0M719.9 556.5h0M758.2 569.9h0M779.2 558.7h0M739.3 567.5h0M693.3 558.5h0M731.3 566.8h0M738.6 556.9h0M734.3 557.1h0M773 558.7h0M734.5 567.6h0M747.1 568.5h0M756.5 557.7h0M781.4 564.1h0M695.2 556.8h0" stroke="#4a7aff" stroke-width="1.1" stroke-linecap="round" stroke-opacity="0.9"/>
</g>
<path d="M758.1 522.1h0M799.5 540.8h0M791.1 525h0M788.1 483.1h0M775.9 481h0M760 480.5h0M797.8 512.5h0M764.5 506.7h0M772.7 525.1h0M773.7 544.6h0M796 466.2h0M789.8 516.8h0M763.4 527.5h0M786 488.8h0M701 539.5h0M719.1 497.3h0M723 550.3h0M702.2 523.9h0M702.4 518h0M738.9 553.5h0M716.6 544.4h0M695.8 515h0M706.7 495.3h0M717.3 512.7h0M689.3 547.2h0M733.7 499.9h0M699 535.8h0M738.2 516.9h0M720.5 529.4h0M696.1 493.7h0M708.7 535.4h0M709.5 519.3h0M725.9 549.6h0M721.9 547.4h0M725.4 520.7h0M699.4 530.6h0M692 493.8h0M724.8 549.2h0M707.3 535.2h0" stroke="#8c8cff" stroke-width="1.6" stroke-linecap="round" stroke-opacity="0.65"/>
<rect x="677" y="436" width="145" height="143.8" fill="none" stroke="#959595" stroke-width="1.5"/>
<path d="M677 445h-2.2M677 474h-2.2M677 507h-2.2M677 537h-2.2M677 562.5h-2.2M677 575h-2.2M697 579.8v2.2M722 579.8v2.2M772 579.8v2.2M802 579.8v2.2" stroke="#8c8c8c" stroke-width="1.1"/>
<rect x="674.8" y="561.5" width="2.2" height="2.5" fill="#555"/>
<rect x="693" y="579.8" width="4" height="1.6" fill="#555"/>
<rect x="741.7" y="453.2" width="66.8" height="93" fill="none" stroke="#7272c8" stroke-width="1.5"/>
<text x="697.5" y="482.2" font-size="15" font-weight="bold" textLength="29" lengthAdjust="spacingAndGlyphs">0.12</text>
<g>
<path d="M246.7 731.7L231.7 731.9L228.2 730.5L225.7 728.2L223.3 723.7L222.8 717.7L224.4 712.2L227.2 708.7L229.2 707.4L231.7 706.5L239.7 706.4L275.2 709.2L309.2 710.3L315.2 711.4L320.7 713.3L324.1 715.7L325.8 718.7L325.6 720.2L324.9 721.7L322.2 724.1L318.2 726L312.2 727.6L303.2 728.4L282.7 728.7L246.7 731.7Z" fill="#3c3cff" filter="url(#spkA)"/>
<path d="M246.2 729.7L232.2 730L229.7 729.2L227.6 727.7L225 723.7L224.2 719.2L225 714.7L227.7 710.6L229.7 709.2L231.7 708.4L240.2 708.3L255.7 709.5L276.7 712.7L285.7 712.3L294.2 713.5L308.2 713.1L312.7 713.9L315.7 715.1L317.9 716.7L318.9 718.7L318.4 720.7L316.2 722.7L313.2 724L309.2 725L303.2 725.3L289.7 724.6L283.2 722.8L279.7 724.7L277.2 725.5L257.7 728.5L246.2 729.7Z" fill="#1e1eff" filter="url(#spkB)"/>
<path d="M237.7 728.7L232.7 728.7L230.2 728L227.5 725.7L225.9 722.7L225.4 718.7L226.3 714.7L228.4 711.7L231.2 710L243.2 709.9L261.2 712L268.7 713.8L278.2 717.2L279.3 718.2L278 720.2L275.9 721.7L266.7 724.8L250.2 727.8L237.7 728.7ZM289.7 719.4L288.2 719.6L286.2 719.3L283.3 718.2L282 717.2L284.2 715.7L287.2 715.8L290.2 717.7L290.5 718.7L289.7 719.4ZM308.2 722.8L303.7 722.9L299.2 722.1L295.3 720.2L294.7 718.7L298.7 716.4L304.2 715.3L309.7 715.6L313.3 717.2L314.2 718.7L313.4 720.7L311.2 722L308.2 722.8Z" fill="#0808ff" filter="url(#spkC)"/>
<path d="M243.2 727.2L232.7 727.5L230.7 727L228.7 725.5L227 722.7L226.3 719.2L227 715.7L228.9 712.7L230.7 711.4L233.2 710.9L241.2 711L250.7 712L264.7 714.6L268.2 716.2L270 718.2L270 719.7L269.4 720.7L265.2 723L252.7 726L243.2 727.2ZM306.7 719.7L305.2 719.7L304.4 719.2L304.6 718.7L305.7 718.4L307.4 718.7L307.6 719.2L306.7 719.7Z" fill="#0038ff"/>
<path d="M240.7 726.2L232.2 726.3L229.2 724.5L227.7 721.7L227.3 718.7L228 715.7L229.7 713.4L231.2 712.5L233.2 712.1L240.2 712.2L247.7 712.9L261.2 715.7L263.7 716.7L265.3 718.2L265.4 719.2L264.7 720.2L260.4 722.2L250.2 725L240.7 726.2Z" fill="#0090ff"/>
<path d="M240.7 725.2L232.7 725.4L231.2 724.9L229.7 723.8L228.5 721.7L228.1 718.7L228.7 716.2L230.1 714.2L231.7 713.3L233.2 713L244.7 713.6L255 715.7L258.5 717.2L259.7 718.2L259.7 719.2L258.8 720.2L253.5 722.7L247.7 724.3L240.7 725.2Z" fill="#00e0f0"/>
<path d="M240.7 724.2L232.7 724.4L230.7 723.5L229.3 721.7L228.8 719.7L229.2 717.2L230.2 715.4L232.7 714L242.2 714.3L250.7 716L253.4 717.2L254.5 718.2L254.6 719.2L253.9 720.2L251.2 721.9L246.7 723.3L240.7 724.2Z" fill="#18ff80"/>
<path d="M240.2 723.3L233.2 723.5L231.2 722.8L230.2 721.5L229.7 719.7L229.8 717.7L230.6 716.2L232.7 715L241.2 715.3L247.6 716.7L249.6 717.7L250.4 718.7L249.9 720.2L248.2 721.3L244.7 722.5L240.2 723.3Z" fill="#90ff10"/>
<path d="M240.2 722.2L232.2 722.3L231.2 721.5L230.5 720.2L230.7 717.7L231.7 716.4L232.7 716L237.7 715.9L243.7 717L246.7 718.7L246.6 719.7L245.5 720.7L240.2 722.2Z" fill="#ffe000"/>
<path d="M237.2 721.2L232.2 720.9L231.5 719.7L231.7 718.2L232.7 717.3L236.7 717.2L240.1 717.7L242.1 718.7L242.1 719.7L241.4 720.2L237.2 721.2Z" fill="#ff7000"/>
<path d="M237.2 720.2L233 720.2L232.4 719.7L232.4 718.7L233.2 718.2L236.2 718.1L238.2 718.5L239.2 719.2L237.2 720.2Z" fill="#ff2000"/>
<path d="M281.5 722.5h0M290.9 714.6h0M267.1 707.6h0M315 724.7h0M317.8 721.7h0M236.8 705.1h0M298.2 727.3h0M240.3 708.3h0M277.9 730.9h0M225.2 712.1h0M285.4 723.6h0M286.7 710.6h0M250.5 708.2h0M294 714.6h0M224.6 719.5h0M232.1 732.7h0M224.1 725.8h0M225 721h0M306.6 711h0M260.5 731.2h0M289.7 712.4h0M257.6 728.3h0M323.2 721h0M288.4 726.9h0M321.9 720.3h0M324.3 721.5h0M309.3 710.2h0M301.9 725.2h0M227.7 708.7h0M262.5 731.1h0M290.7 726.7h0M315.1 725.4h0M321 717.1h0M259.6 729h0M303.5 725.7h0M305.1 708.7h0M267.4 710.1h0M329.2 716.5h0M301.2 713.8h0M330 714.4h0M320.7 715.1h0M256.9 728.4h0M253.9 730.6h0M306.6 709.9h0M252.7 728.2h0M230.6 709.1h0M271.5 727.4h0M224.8 712.9h0M227.8 728.8h0M264.4 728.4h0M316.6 717.3h0M265.7 706.2h0M321.4 725.2h0M250 707.6h0M292.3 713h0M255.4 710.3h0M321.8 719.7h0M270.6 710.8h0M289.4 713.7h0M266.4 710.8h0M226.1 713.8h0M277.7 713.5h0M294 722.6h0M264.2 707.1h0M292.2 711.2h0M299.5 708.5h0M223.8 714.6h0M331.7 716h0M235.4 730.4h0M266.3 710h0M315.3 729h0M255.4 730.7h0M262.8 706.1h0M258.6 710.6h0M313 722.8h0M298.5 726.4h0M308.4 725.3h0M232.7 733.7h0M231.2 705.8h0M320.8 715h0M296.4 727.5h0M281.2 712.1h0M270.8 728.2h0M224.4 720.8h0M275.8 725h0M283.8 726h0M327.1 723.3h0M229 728.4h0M287.5 712.8h0M227.1 709.6h0M310.4 713.2h0M235.1 708.3h0M291.6 708.1h0M274.1 725.3h0M308.7 714h0M239.8 729.8h0M241 708.9h0M285.3 712.2h0M272.5 728h0M316.1 714.8h0M307 712.2h0M323.5 711.4h0M273.6 711.4h0M294.1 714.3h0M263.3 710h0M323.7 724.6h0M298.8 711.1h0M314.6 715.6h0M268.4 725.6h0M286.6 710.5h0M318.3 721.6h0M291.9 724.8h0M297 725.8h0M276.2 726.1h0M280.6 730.8h0M292.4 724.3h0M252.9 728.2h0M250.4 709.7h0M285.6 722.7h0M265.8 731.8h0M290.9 711.5h0M332.7 721.3h0M290.1 711.4h0M253 729.5h0M282.3 722.4h0M297.9 710.5h0M318.7 716.1h0M303.9 711.6h0M292 715.3h0M291 712.9h0" stroke="#2a2aff" stroke-width="1.2" stroke-linecap="round" stroke-opacity="0.75"/>
<path d="M284.7 722.5h0M274.9 722.8h0M268.5 721.9h0M297 718.9h0M259.9 711h0M241.6 728.9h0M296 718.1h0M314.2 722.8h0M250.4 711.8h0M257.5 727.3h0M283.5 715.1h0M280 722.2h0M271.5 718h0M299.3 718.9h0M254.1 711.8h0M271.3 716.7h0M264.6 710.9h0M305.2 714.2h0M240.7 728h0M263.9 714.8h0M255.9 726.8h0M268.7 715.4h0M250.6 712.4h0M311.6 721.9h0M233 709.4h0M263.5 714h0M246.4 727.8h0M267.8 712.3h0M255.3 712.8h0M261.6 713.8h0M312.5 714.8h0M296.3 719.4h0M280.9 717.5h0M228.2 712.6h0M303.4 719.2h0M292 719.6h0M276.1 715h0M277.8 723.1h0M305.3 717h0M306.1 715.3h0" stroke="#4a7aff" stroke-width="1.1" stroke-linecap="round" stroke-opacity="0.9"/>
</g>
<path d="M287.9 660h0M234.7 676.3h0M256.7 658.2h0M248.6 691.6h0M257.8 667h0M243.8 680.7h0M232.1 672.4h0" stroke="#8c8cff" stroke-width="1.6" stroke-linecap="round" stroke-opacity="0.65"/>
<rect x="210.2" y="592.2" width="145" height="143.8" fill="none" stroke="#959595" stroke-width="1.5"/>
<path d="M210.2 601.2h-2.2M210.2 630.2h-2.2M210.2 663.2h-2.2M210.2 693.2h-2.2M210.2 718.7h-2.2M210.2 731.2h-2.2M230.2 736v2.2M255.2 736v2.2M305.2 736v2.2M335.2 736v2.2" stroke="#8c8c8c" stroke-width="1.1"/>
<rect x="208" y="717.7" width="2.2" height="2.5" fill="#555"/>
<rect x="226.2" y="736" width="4" height="1.6" fill="#555"/>
<rect x="274.9" y="609.4" width="66.8" height="93" fill="none" stroke="#7272c8" stroke-width="1.5"/>
<text x="230.7" y="638.4" font-size="15" font-weight="bold" textLength="29" lengthAdjust="spacingAndGlyphs">0.01</text>
<g>
<path d="M403.9 731.7L387.9 731.9L384.9 731L381.9 728.7L379.2 724.2L378.4 718.7L379.6 713.2L382.4 709.2L384.9 707.4L386.9 706.6L393.9 706.3L428.4 708.3L473.9 709.1L479.9 710.3L484.9 712.6L489.6 716.7L491.3 720.2L490.6 723.2L487.9 725.7L482.9 727.9L477.4 729.1L469.9 729.6L427.9 730.2L403.9 731.7Z" fill="#3c3cff" filter="url(#spkA)"/>
<path d="M402.9 729.7L387.9 730L385.9 729.5L383.4 727.8L381 724.2L380 719.7L380.6 715.2L382.9 711.1L384.9 709.4L387.4 708.5L395.4 708.2L406.9 709L429.9 711.5L461.9 712.2L472.9 713L477.4 713.9L481.4 715.7L484.5 718.2L485.7 720.7L485 722.7L483.1 724.2L479.9 725.5L476.4 726.1L437.5 726.7L402.9 729.7Z" fill="#1e1eff" filter="url(#spkB)"/>
<path d="M394.9 728.7L386.9 728.4L384.4 727L382.3 724.2L381.1 720.2L381.5 716.2L383.2 712.7L385.9 710.4L388.9 709.7L400.9 710L440.9 715.5L461.4 716.3L464.4 716.9L468.4 718.8L472.9 717.8L475.4 717.9L478.3 719.2L479.2 720.7L477.9 722.2L475.4 722.8L472.4 722.6L467.9 721.4L461.9 722.2L442.4 723L409.4 727.5L394.9 728.7Z" fill="#0808ff" filter="url(#spkC)"/>
<path d="M398.9 727.2L388.4 727.5L386.4 726.9L384.4 725.5L382.7 722.7L382.1 719.2L382.7 715.7L384.6 712.7L386.4 711.5L388.9 710.9L396.9 710.9L405.9 711.8L425.4 716L432.4 718.2L433.7 719.2L433.5 720.2L432.1 721.2L427.5 722.7L409.9 725.9L398.9 727.2Z" fill="#0038ff"/>
<path d="M396.4 726.2L388.4 726.3L386.4 725.7L384.9 724.5L383.4 721.7L383 718.7L383.8 715.7L385.4 713.4L387.4 712.3L390.9 712L397.9 712.2L404.9 713.1L415.4 715.7L419.4 717.7L421.1 719.2L420.6 720.2L419 721.2L412.9 723.5L406.4 724.9L396.4 726.2Z" fill="#0090ff"/>
<path d="M396.4 725.2L388.4 725.3L386.9 724.9L385.4 723.7L384.1 721.2L383.8 718.7L384.4 716.2L385.9 714.2L387.9 713.1L390.4 713L402.4 713.8L410.9 715.9L413.4 717.2L414.8 718.7L414.8 719.7L414 720.7L410.9 722.4L404.9 723.9L396.4 725.2Z" fill="#00e0f0"/>
<path d="M396.4 724.2L388.4 724.4L386.4 723.5L385.1 721.7L384.6 719.7L384.9 717.2L385.9 715.4L388.4 714L398.9 714.4L406.9 716.2L409 717.2L410.4 718.7L410.1 720.2L407.6 721.7L402.4 723.2L396.4 724.2Z" fill="#18ff80"/>
<path d="M395.9 723.3L388.9 723.4L386.9 722.7L385.9 721.4L385.4 719.7L385.6 717.7L386.4 716.2L388.4 715L396.9 715.2L403.5 716.7L405.4 717.7L406.2 718.7L405.7 720.2L404 721.2L395.9 723.3Z" fill="#90ff10"/>
<path d="M395.9 722.2L391.9 722.5L387.9 722.2L386.3 720.2L386.5 717.7L387.4 716.5L388.4 716L393.9 715.9L399.4 716.9L401.4 717.7L402.4 718.7L402.3 719.7L401 720.7L395.9 722.2Z" fill="#ffe000"/>
<path d="M392.9 721.2L388.4 721.1L387.4 720L387.5 718.2L388.4 717.3L392.9 717.1L396.3 717.7L398 718.7L397.9 719.7L397.2 720.2L392.9 721.2Z" fill="#ff7000"/>
<path d="M393.4 720.2L389.3 720.2L388.4 719.9L388.1 719.2L388.4 718.5L390.4 718.1L393.4 718.2L395 718.7L395.3 719.2L394.9 719.7L393.4 720.2Z" fill="#ff2000"/>
<path d="M423.8 710.2h0M440.2 713.4h0M404.6 732.1h0M427.7 711.3h0M474.3 725.9h0M448.3 712.8h0M382.7 726.3h0M427.4 706.9h0M479.4 715.3h0M422.9 727.4h0M492.3 717.6h0M413.2 730h0M476.4 712h0M469.4 713.5h0M447.2 708.8h0M482 725.5h0M428.4 726.9h0M490.5 722.2h0M486.3 722h0M451.9 732.4h0M440.1 725.6h0M484.3 723.3h0M419.6 727.9h0M411 728.6h0M453.8 708.3h0M422.1 731.9h0M422.8 730.2h0M431.5 727.3h0M447 710.6h0M468.7 727.6h0M441.1 711.9h0M438.8 726.9h0M444.1 730.1h0M449 709.3h0M388.9 732.5h0M379.9 709.7h0M448 710.5h0M452 728.5h0M415.4 708.6h0M472 714.5h0M456.2 706.3h0M397.1 707.9h0M445.2 724.8h0M428 707.4h0M449.6 710.2h0M427.2 729.1h0M451.5 724.7h0M462.9 728.1h0M477.7 712.5h0M472.7 724.7h0M477.2 715.7h0M421 727.5h0M470 727.6h0M424.2 727.4h0M457.9 712.2h0M381.5 713.9h0M444.7 725.6h0M438.4 729.8h0M430.2 712.6h0M436 730.2h0M476 708.7h0M434 709.6h0M467.8 725.6h0M435.8 709.5h0M453.9 725h0M378.5 720.3h0M473.5 729.5h0M438.5 725h0M442.5 726.9h0M490.8 718.6h0M456.7 712.8h0M459.3 732.1h0M452.2 708.1h0M461.3 725.5h0M456.2 730.2h0M433.6 727.8h0M459.2 732.4h0M490.7 723.9h0M470.8 730.2h0M431 711.1h0M467 727.7h0M383.1 711.7h0M432.2 726.1h0M383 728.1h0M413 728.7h0M444.8 724.9h0M455.9 727.3h0M385.4 731.3h0M443 713.3h0M388 730.2h0M397.5 708.8h0M457.8 713.4h0M418.1 706.9h0M485 721.9h0M490.6 721.2h0M451.3 728.6h0M466.4 725.1h0M385.6 731.9h0M409.1 729.9h0M388.6 730.8h0M473.6 707.6h0M390.9 732.9h0M472.8 712.6h0M422.1 730.3h0M462.2 724.8h0M378.9 725.2h0M425.6 706.6h0M399.2 708h0M482.3 721.9h0M423.4 730h0M453.1 732h0M475.5 727.9h0M426.3 709.8h0M402.4 732.5h0M485.6 729.2h0M399.8 733.3h0M488.3 728.1h0M382.3 725.5h0M447.9 713.3h0M463.9 732.4h0M397.6 706.8h0M478.6 713.7h0M423.8 727h0M478.3 724.6h0M450.2 726.5h0M461.7 724.3h0M468.7 712h0M398.5 731.8h0M446.8 728h0M426 709.1h0" stroke="#2a2aff" stroke-width="1.2" stroke-linecap="round" stroke-opacity="0.75"/>
<path d="M383.8 726.8h0M390.4 728.5h0M422.1 711.2h0M478.9 723.6h0M430.4 721.3h0M445 723h0M458.9 721.3h0M434.2 716h0M463 724.5h0M456.4 713.3h0M446 719.4h0M426.9 716.8h0M461.4 714h0M479.5 723.2h0M440.1 718.7h0M446.6 720.9h0M401.8 709.2h0M452 716.7h0M384.1 710.7h0M466.7 721.6h0M470.1 717.8h0M447.9 717.6h0M453.2 717.7h0M418 725.3h0M383.5 713.3h0M457.7 720.6h0M442.6 719.4h0M448.7 724.5h0M462.6 714.5h0M430.6 717.2h0M412.9 712.9h0M477.4 721h0M394.9 710.3h0M391.1 729.3h0M404.1 728.9h0M428.2 726.6h0M431.1 723h0M473.8 720.7h0M467.1 716.5h0M457.9 717.9h0" stroke="#4a7aff" stroke-width="1.1" stroke-linecap="round" stroke-opacity="0.9"/>
</g>
<path d="M444.3 680.4h0M455.8 680.7h0M474.1 619.2h0M455.5 668.4h0M470.3 664.9h0M485.2 631.7h0M395.4 670.7h0M378.6 701.6h0M402 686.7h0M391 664.6h0M405.7 706.6h0M395.4 688.2h0M388.5 696.6h0M427 705.7h0M393.3 710.1h0M382.5 684.1h0M403 695.6h0M397.1 706.6h0" stroke="#8c8cff" stroke-width="1.6" stroke-linecap="round" stroke-opacity="0.65"/>
<rect x="365.9" y="592.2" width="145" height="143.8" fill="none" stroke="#959595" stroke-width="1.5"/>
<path d="M365.9 601.2h-2.2M365.9 630.2h-2.2M365.9 663.2h-2.2M365.9 693.2h-2.2M365.9 718.7h-2.2M365.9 731.2h-2.2M385.9 736v2.2M410.9 736v2.2M460.9 736v2.2M490.9 736v2.2" stroke="#8c8c8c" stroke-width="1.1"/>
<rect x="363.7" y="717.7" width="2.2" height="2.5" fill="#555"/>
<rect x="381.9" y="736" width="4" height="1.6" fill="#555"/>
<rect x="430.6" y="609.4" width="66.8" height="93" fill="none" stroke="#7272c8" stroke-width="1.5"/>
<text x="386.4" y="638.4" font-size="15" font-weight="bold" textLength="29" lengthAdjust="spacingAndGlyphs">0.03</text>
<g>
<path d="M563.4 731.7L552.4 732.2L543.9 732L541.4 731.4L538.9 730.1L535.6 726.2L533.9 720.7L533.9 717.7L534.5 714.7L537 710.2L538.9 708.3L541.4 707L547.9 706.2L583.4 707.5L635.4 707.5L641.4 708.4L646.4 710.6L650.4 714.2L652.2 718.2L651.6 722.2L649 725.7L644.4 728.8L638.9 730.5L629.4 731.1L582.4 730.9L563.4 731.7Z" fill="#3c3cff" filter="url(#spkA)"/>
<path d="M552.4 730.2L542.4 729.8L539.4 728.2L537.2 725.7L535.6 721.2L535.7 716.7L537.2 712.7L540.4 709.5L543.4 708.4L550.9 708.2L585.9 710.3L634.4 710.6L639.4 711.3L642.9 712.8L645.6 715.2L646.9 718.2L646.5 721.2L644.4 724.3L640.9 726.5L636.4 727.6L611.9 728.6L601.9 728L583.9 728.2L552.4 730.2Z" fill="#1e1eff" filter="url(#spkB)"/>
<path d="M553.4 728.7L542.9 728.5L540.4 727.3L538.8 725.7L537 722.2L536.7 718.2L537.8 714.2L540.4 711.1L543.4 709.8L551.4 709.6L588.4 712.7L632.4 713.3L636.4 713.8L639.4 714.9L641.5 716.7L642.2 718.7L641.5 721.2L639.9 722.9L637.1 724.2L632.9 725L620.4 725.6L611.9 726.8L602.4 725.5L587.1 725.7L553.4 728.7Z" fill="#0808ff" filter="url(#spkC)"/>
<path d="M556.9 727.2L544.4 727.5L540.9 726.3L538.7 723.7L537.7 720.2L537.9 716.7L539.4 713.6L541.4 711.8L543.4 711L553.4 710.9L591.4 715.5L602.4 715.8L610.4 714.9L614.4 715L629.8 716.7L632.9 717.7L633.8 718.7L633 720.2L630.8 721.2L620.9 722.7L612.9 725.2L609.4 725L602.4 722.7L594.4 722.7L586.4 723.3L556.9 727.2Z" fill="#0038ff"/>
<path d="M554.4 726.2L543.9 726.3L540.9 724.9L539.3 722.7L538.6 719.7L538.9 716.7L540.4 714L541.9 712.8L543.9 712.1L556.9 712.4L576.9 715.4L582.1 717.2L583.9 718.7L583.8 719.7L582.5 720.7L577.4 722.5L563.9 725L554.4 726.2ZM613.4 723.3L610.4 723.4L608.1 722.2L607 720.2L607.5 718.7L609 717.7L611.4 717.1L613.9 717.3L615.9 718.2L616.7 719.2L616.8 720.7L615.6 722.2L613.4 723.3Z" fill="#0090ff"/>
<path d="M553.9 725.2L544.4 725.3L541.9 724.5L540.3 722.7L539.4 720.2L539.5 717.7L540.6 715.2L541.9 713.9L543.9 713.1L554.9 713.3L572.9 716.5L575.9 717.5L577.1 718.7L576.3 720.2L572.5 721.7L562.4 724L553.9 725.2Z" fill="#00e0f0"/>
<path d="M553.9 724.2L546.4 724.5L542.4 723.8L540.9 722.2L540.2 720.2L540.2 718.2L540.9 716.2L542.3 714.7L543.9 714.1L552.9 714.1L562.1 715.7L568.4 717.7L569.9 718.7L570 719.2L569.1 720.2L565.6 721.7L559.9 723.3L553.9 724.2Z" fill="#18ff80"/>
<path d="M553.4 723.2L547.4 723.5L542.9 722.9L541.6 721.7L541.1 720.2L541.4 717.2L542.4 715.8L543.9 715.1L550.9 714.9L558.5 716.2L561.4 717.2L563.5 718.7L563.5 719.7L561.5 721.2L553.4 723.2Z" fill="#90ff10"/>
<path d="M552.9 722.2L547.9 722.6L543.4 722.1L541.9 720.2L542.1 717.7L543.9 716.1L549.9 715.9L555.9 716.9L559.3 718.7L559.3 719.7L558.1 720.7L552.9 722.2Z" fill="#ffe000"/>
<path d="M549.9 721.2L543.9 720.9L543.2 720.2L543 718.7L543.9 717.5L548.4 717.1L552.4 717.6L554.6 718.7L554.6 719.7L554 720.2L549.9 721.2Z" fill="#ff7000"/>
<path d="M549.9 720.2L546.1 720.2L544.4 719.7L544.1 719.2L544.4 718.7L547.4 718.1L551.5 718.7L551.8 719.2L551.5 719.7L549.9 720.2Z" fill="#ff2000"/>
<path d="M634.1 711.9h0M586.7 710.2h0M583.1 729.7h0M568.3 731.1h0M600.7 710.9h0M635.5 707.1h0M622 729.8h0M632.1 711.6h0M638.4 711.4h0M595.5 709.4h0M615.5 728h0M560.2 707.6h0M616.9 733.3h0M605.8 727h0M633.4 707.3h0M549.1 708.2h0M636.8 730.1h0M639.1 725.3h0M622.7 706.9h0M560.6 732.4h0M566.8 707.5h0M637.2 726.5h0M589.8 728.6h0M654.9 714.3h0M608.3 710.3h0M637.1 729h0M592.2 708.5h0M597.3 729.5h0M587 710.2h0M625.5 732.6h0M545.8 729.4h0M595.1 726.7h0M589.4 727.4h0M628.6 706.2h0M558.8 709.4h0M563.9 707.9h0M639.3 731h0M609.4 731.3h0M606.9 709.6h0M637.7 726.2h0M563.4 708.7h0M586.8 731h0M602.6 708.5h0M560 708.9h0M607.5 729.4h0M609.6 733.4h0M571.4 733.1h0M557.1 708.2h0M544.8 707.8h0M550 732.3h0M606.7 709.5h0M580.8 710.5h0M642.3 714h0M612.5 706.1h0M571.3 729h0M577.4 728.7h0M604.6 728.3h0M543.9 708.6h0M613.1 705.8h0M596.5 708.4h0M639.6 725.2h0M573.1 709.9h0M647.5 725.6h0M621.7 710.5h0M612 728.7h0M646.8 724.9h0M607.8 706h0M576.1 727.5h0M596.8 711.5h0M550.4 732.5h0M550.8 732.9h0M600.4 727.6h0M580.7 705.5h0M583.4 709.8h0M637 726.6h0M598.8 728.3h0M618 710.9h0M625.9 708.7h0M581.1 708.2h0M567.8 707.8h0M636.4 706.6h0M644.5 725.3h0M616.6 710.8h0M593.3 726.7h0M641.4 729.3h0M641 724.7h0M542.3 733.4h0M537.1 728.4h0M539.5 707h0M604.8 727.1h0M589.1 710.3h0M632.5 730.9h0M568.3 729.2h0M593.8 730h0M564.8 730.1h0M607.2 706.4h0M614.2 730.2h0M579.5 731.7h0M555.4 708.7h0M547.7 730.9h0M652 723.7h0M577.7 707.3h0M542.1 731.6h0M624.2 705.5h0M622.2 733.1h0M625.8 711.4h0M590.1 711.2h0M618.1 728.4h0M606.5 710.1h0M603.4 728.9h0M646.1 710h0M593.8 727.4h0M584.4 710.7h0M603 710.3h0M605.6 709.3h0M572.2 709.8h0M605.6 707.7h0M636.6 711.5h0M584.9 708.5h0M580.2 710.8h0M605.1 733h0M561.8 733.4h0M642.6 725.5h0M647.2 725.6h0M588.1 708h0M551.5 706.4h0M574 710.5h0M564.9 729.3h0M557.6 732.9h0M602.1 711.3h0" stroke="#2a2aff" stroke-width="1.2" stroke-linecap="round" stroke-opacity="0.75"/>
<path d="M609.4 715.5h0M606.8 723.5h0M603.1 726.6h0M539.1 713.4h0M636.6 715.5h0M637.9 723.7h0M571.1 725.8h0M600.2 716.5h0M583.3 714.9h0M560 709.6h0M582.3 715.1h0M594.6 723.3h0M629.5 720.8h0M625.3 720.5h0M632.6 711.8h0M598.8 725.1h0M636.6 721.2h0M589 721.8h0M616.2 725h0M582.9 712.6h0M571.2 713.1h0M638.2 718.7h0M639.9 720.3h0M583.9 713.5h0M597.3 722.8h0M617.8 725.2h0M636.7 714.2h0M538.5 715.3h0M567.6 727.1h0M625.9 716.8h0M641.7 717.2h0M617.7 714.9h0M571.3 726.4h0M593.6 715.3h0M601.6 716h0M632.5 721.9h0M641.2 712.6h0M586.3 715.3h0M637 720.2h0M595 727.6h0" stroke="#4a7aff" stroke-width="1.1" stroke-linecap="round" stroke-opacity="0.9"/>
</g>
<path d="M629.5 703.2h0M615 681.2h0M627 634.3h0M632.8 645.8h0M643.6 676.5h0M625.2 670.6h0M648.5 692.7h0M646 623.5h0M602.8 672h0M648.6 678h0M641.5 658.1h0M608.9 683.7h0M602.3 635.2h0M613.9 696.1h0M624.1 660.5h0M626.5 647.2h0M637.1 642.3h0M623.1 697.5h0M608.6 639h0M629.1 634.4h0M625.1 655.9h0M613 665.6h0M620.2 671.8h0M617.9 690.2h0M647.3 619.8h0M628 673.2h0M642.1 685.2h0M636.3 642.5h0M613.3 646.6h0M628.5 632.9h0M619.8 701.5h0M637.6 642.4h0M648.1 651h0M646.8 696.7h0M636.5 624.7h0M625.5 681.4h0M614.4 666.4h0M647.7 634.9h0M606.6 621.4h0M606.7 648.5h0M642 645.3h0M630.8 695h0M637 702.7h0M614.3 676.3h0M647.4 660.9h0M634.8 646.5h0M634.6 634.5h0M616.1 661h0M639.4 652.1h0M639.1 684.1h0M626.2 684.9h0M618.3 676.2h0M645.4 647.8h0M624.4 646.3h0M618.1 642.1h0M648.7 696h0M612.4 678.4h0M626 667.6h0M616.7 681.5h0M612.9 638.6h0M634.3 677.8h0M609 655.2h0M641.3 651.2h0M630.4 633h0M628.3 676.6h0M616.9 688.6h0M637.7 631.6h0M643.1 681h0M627.8 659.9h0M641.8 657h0M620.5 678.4h0M640.7 662.5h0M630.8 688.8h0M637.6 688.9h0M642.3 682.8h0M644.5 691.5h0M619.6 658h0M624 656.5h0M626.2 688.5h0M606.7 682.9h0M626.3 677.8h0M623.3 663.3h0M601.8 627.7h0M648.4 672.4h0M635.1 667h0M641.6 698h0M624.6 698h0M633.7 689.6h0M629.2 666.3h0M614.4 690.5h0M646.6 650.3h0M636.4 705.5h0M647.1 637.1h0M611.2 632.7h0M641.1 667.7h0M642.4 674.2h0M622 641h0M609.9 661.9h0M650 665.9h0M644.8 640.9h0M608.6 686.8h0M611.8 630.6h0M621.4 682.4h0M624.4 667.3h0M644.9 639.9h0M610 669.1h0M613.1 680h0M630.6 689.5h0M607.4 676.7h0M633.3 686.6h0M619 648.5h0M623.9 694.9h0M636.5 657.3h0M631 670h0M642.8 646.5h0M635.5 694h0M628.3 664.9h0M621.1 633h0M639.1 641.1h0M637.7 693.9h0M619.6 687.7h0M641.4 687.9h0M631.6 626.8h0M636.9 669h0M632.2 685.4h0M633.3 657h0M635.1 638.1h0M629.4 697.1h0M630.3 651.1h0M636.8 671.8h0M625.2 683.7h0M630.2 655.1h0M649.1 666.7h0M635.6 701.9h0M651.6 668.3h0M615.2 653.4h0M634 688.4h0M635.9 697.3h0M622.4 648.5h0M625.4 639.3h0M620.2 676.2h0M647.3 668.4h0M609.8 690.2h0M608.6 621.3h0M625.7 673.6h0M619.1 663.7h0M612.6 667.8h0M646.2 677.7h0M598.5 632.7h0M624.3 676.3h0M549.1 693.7h0M550.1 709.6h0M541.7 695.8h0M565 698.8h0M565.7 690.6h0M559.1 684.8h0M567.1 663.8h0M544.2 680.5h0M543.9 708.7h0M545.6 683.7h0M565.6 678.6h0M549.4 666.1h0M576.5 690.9h0M583.3 685h0M569.4 681.9h0M558.7 704.8h0M555.6 697.2h0M573.2 708.1h0M558.5 685.2h0M538.4 685.3h0M574 662.9h0M552.6 682.6h0M567.4 662.4h0M568.2 705.5h0M542.3 678.9h0M559 665.9h0M560.1 694.8h0M545.1 681h0M559.1 674.9h0M551.5 698.8h0" stroke="#8c8cff" stroke-width="1.6" stroke-linecap="round" stroke-opacity="0.65"/>
<rect x="521.4" y="592.2" width="145" height="143.8" fill="none" stroke="#959595" stroke-width="1.5"/>
<path d="M521.4 601.2h-2.2M521.4 630.2h-2.2M521.4 663.2h-2.2M521.4 693.2h-2.2M521.4 718.7h-2.2M521.4 731.2h-2.2M541.4 736v2.2M566.4 736v2.2M616.4 736v2.2M646.4 736v2.2" stroke="#8c8c8c" stroke-width="1.1"/>
<rect x="519.2" y="717.7" width="2.2" height="2.5" fill="#555"/>
<rect x="537.4" y="736" width="4" height="1.6" fill="#555"/>
<rect x="586.1" y="609.4" width="66.8" height="93" fill="none" stroke="#7272c8" stroke-width="1.5"/>
<text x="541.9" y="638.4" font-size="15" font-weight="bold" textLength="29" lengthAdjust="spacingAndGlyphs">0.52</text>
<g>
<path d="M711.5 730.2L698.5 730.1L695.5 729.1L692.8 727.2L690.2 723.2L689.4 719.2L690.4 714.7L693 711L695 709.5L697.5 708.5L702.5 708L730.5 708.8L787.5 707.9L795 708.9L800.5 710.9L805.6 714.7L806.9 716.7L807.5 718.7L806.7 722.2L803 726L798.5 728.5L792.5 730L730.5 729.6L711.5 730.2Z" fill="#3c3cff" filter="url(#spkA)"/>
<path d="M707.5 728.7L698 728.3L695 726.9L692.9 724.7L691.3 721.2L691.2 717.7L692.5 714.2L695 711.5L698.5 710L704 709.7L731.5 710.7L776.5 710.4L787 709.9L794 710.9L798 712.4L801.7 715.2L803.4 718.7L802.9 721.7L800 725L796 727.1L791.5 728L731 727.6L707.5 728.7Z" fill="#1e1eff" filter="url(#spkB)"/>
<path d="M711.5 727.2L699.5 727.3L697.5 726.9L695.5 725.7L693.4 723.2L692.4 720.2L692.6 717.2L694 714.2L695.5 712.7L697.5 711.5L703 710.9L732 712.3L776.5 712.1L786 711.3L791.5 712.1L796 713.5L799.1 715.7L800.6 718.7L800.3 721.2L798 724L795 725.6L791 726.5L732 725.9L711.5 727.2Z" fill="#0808ff" filter="url(#spkC)"/>
<path d="M710.5 726.2L700 726.3L696.5 725.2L694.6 723.2L693.5 720.7L693.5 717.7L694.6 715.2L696 713.6L698 712.5L703.5 711.9L732 713.7L776.5 713.6L786 712.7L791 713.5L795 714.9L797.3 716.7L798.3 719.2L797.9 721.2L796 723.3L793.5 724.5L790 725.2L732 724.5L710.5 726.2Z" fill="#0038ff"/>
<path d="M710 725.2L701 725.3L698.5 725L697 724.3L695.4 722.7L694.4 720.2L694.6 717.7L695.4 715.7L696.9 714.2L698.5 713.4L704 712.9L732.5 715.3L777 715.3L786 714.2L789.5 714.8L793 716L795 717.4L795.8 719.2L795.5 720.7L794 722.3L792 723.2L789 723.7L732 722.8L710 725.2Z" fill="#0090ff"/>
<path d="M711 724.2L703.5 724.6L698 723.9L696.5 722.7L695.4 720.7L695.2 718.7L695.8 716.7L697 715.2L698.5 714.3L704.5 713.8L712 714.3L733 717.3L765 716.7L777 717.2L786 715.8L791 717.1L792.5 718.2L793 719.2L792.9 720.2L791.9 721.2L788 722.2L777 721.5L743.5 721.5L732.5 720.7L711 724.2Z" fill="#00e0f0"/>
<path d="M707.5 723.7L701.5 723.7L698 722.9L696.8 721.7L696.1 720.2L696.1 718.2L696.8 716.7L698 715.5L699.5 714.9L708.5 714.8L720.9 717.2L723.5 718.2L724.3 719.2L723.3 720.2L720.6 721.2L707.5 723.7Z" fill="#18ff80"/>
<path d="M708.5 722.7L703.5 722.9L699 722.3L698 721.7L697.1 720.2L697.3 717.7L698 716.7L699.5 715.9L706 715.5L713.6 716.7L717.9 718.7L717.8 719.7L716.2 720.7L708.5 722.7Z" fill="#90ff10"/>
<path d="M708.5 721.8L704 722.1L699.5 721.5L698.1 720.2L698 718.4L699.5 716.9L705 716.3L710.5 717L713.8 718.7L713.7 719.7L713.2 720.2L708.5 721.8Z" fill="#ffe000"/>
<path d="M707.5 720.7L702 720.7L700.3 720.2L699.4 719.2L700.3 718.2L704 717.4L707.6 717.7L709.7 718.7L709.7 719.7L707.5 720.7Z" fill="#ff7000"/>
<path d="M705 720.2L703 720L701.8 719.2L702.5 718.6L704.5 718.2L706.5 718.4L707.5 719.2L707 719.8L705 720.2Z" fill="#ff2000"/>
<path d="M770.2 730.4h0M775.8 707.1h0M768 729.6h0M802 713.3h0M769.7 706.8h0M730 726.7h0M773 730.4h0M752 709.5h0M785.8 728.8h0M693.4 724.8h0M792.1 730.7h0M771.2 729h0M785.7 729.2h0M748.1 709.8h0M795.5 727.8h0M690.8 723.7h0M798.1 726.2h0M739.3 727.4h0M697.6 728.8h0M806.6 722.3h0M777.1 708.4h0M749.8 710.8h0M772.8 706.7h0M800.6 728.2h0M801.3 729h0M727.3 709.9h0M783.2 728.3h0M770.4 710.2h0M697.7 707.5h0M783.4 710.4h0M792.6 709.8h0M769.5 727.1h0M742.1 709.1h0M742.2 711.5h0M752.1 727.8h0M714.1 709.7h0M731.9 711.5h0M705.3 730.1h0M749.9 728.3h0M803.3 719.1h0M778.4 728.2h0M689.7 723.5h0M730 710.1h0M799.3 711.3h0M778.9 710.2h0M724.1 727.6h0M793.1 728.1h0M762.8 708.6h0M741.1 730.1h0M792.5 709.9h0M737.8 728.7h0M703.7 731h0M757.1 727.3h0M776 727.4h0M794.9 710h0M718.1 728h0M761.5 709.1h0M711.8 709.7h0M749.3 727.1h0M788.3 708.1h0M730.2 726.7h0M762.8 728.8h0M807.6 721.2h0M773.4 728.1h0M739 727.1h0M748.5 728.9h0M773.9 728h0M690.5 717.5h0M737.9 708.3h0M698.5 730.3h0M786.6 729.6h0M693.2 729.1h0M773.1 727.7h0M777.3 710.4h0M733.7 729.6h0M793.9 711.6h0M734.5 730.2h0M791.2 708.7h0M788.5 707.4h0M714.1 710.7h0M759.8 729.2h0M785.4 728.6h0M794 708.1h0M762 729.1h0M781.1 709.9h0M703.1 728.7h0M810.1 721.6h0M699.9 729.2h0M785.2 710.4h0M750.5 709.1h0M805.7 720.2h0M750.6 727.7h0M771 729.1h0M756.1 710.6h0M790.1 730.4h0M796.4 726.8h0M780.7 710.1h0M739.5 710.6h0M698.1 728.7h0M695.5 712h0M802.6 715.9h0M746 729.7h0M801.7 716.6h0M800.7 714.5h0M693.6 713.3h0M689.5 721.9h0M753.3 728h0M688 718.1h0M698 730.9h0M690.9 720.6h0M770.7 729.2h0M780.7 729.2h0M785.8 709.7h0M793.5 711.6h0M702 729.3h0M702.5 731h0M757.7 728.3h0M738.9 710.4h0M780.1 710.8h0M755 710.1h0M788.3 730.2h0M763 727h0M756 708.9h0M745.6 708.3h0M691.4 715.3h0M714.7 710.8h0M782.7 727.3h0M690.9 721.1h0M695.1 710.8h0M803.1 718.6h0" stroke="#2a2aff" stroke-width="1.2" stroke-linecap="round" stroke-opacity="0.75"/>
<path d="M794.4 713.7h0M726.5 713.3h0M789 726.5h0M718.9 726.1h0M767.4 727.3h0M758.4 711.1h0M734.3 712.6h0M741.3 712.5h0M759.2 713.8h0M803.1 718h0M782.9 724.9h0M745.6 725.7h0M715.6 727.2h0M733.9 727.5h0M722.8 724.8h0M748.8 712.3h0M778.3 712.5h0M784 711.4h0M794 713.4h0M783.7 712.8h0M734 723.9h0M794.5 715.2h0M746.9 714.2h0M780.4 710.5h0M715.4 727.1h0M738.3 711.3h0M799.5 713.7h0M770 726.1h0M774.1 725.9h0M792.5 726.4h0M731.8 712.5h0M753.5 725.6h0M756 724.7h0M764.2 724.5h0M781.7 710.4h0M768.4 726h0M744.7 725.9h0M744.7 725.6h0M759.9 726.8h0M739.8 713.5h0" stroke="#4a7aff" stroke-width="1.1" stroke-linecap="round" stroke-opacity="0.9"/>
</g>
<path d="M755.9 641.9h0M794.7 673h0M782.3 697.6h0M787.2 665.6h0M766.9 684.7h0M778.3 629.3h0M758.1 626.2h0M782.9 625.3h0M753.8 654.8h0M798.7 635h0M755.7 691.4h0M785.1 647.8h0M802.8 678.6h0M796.7 699.6h0M773 653.6h0M773.4 673.2h0M775.2 649.6h0M775 700.1h0M794.9 622.5h0M755.5 640.2h0M792.1 633.4h0M791 639.5h0M783.9 672.4h0M789.2 639.8h0M798.3 637h0M806.3 695.1h0M784.8 671.8h0M782.9 670.4h0M781.1 647.4h0M800.4 660.4h0M792.9 643.8h0M786.3 650.1h0M796.3 676.7h0M770.7 664.6h0M760.7 666.3h0M772.5 697.2h0M755 621.4h0M804.5 680.9h0M788.3 695h0M797 678.7h0M793 685.6h0M787.5 653.9h0M790.8 689.5h0M779.9 618h0M789.3 675h0M795.4 686h0M800.4 654.1h0M790.7 636.2h0M773 682.3h0M784.5 677.2h0M747.2 676.8h0M785.3 652h0M803.3 620.4h0M779.4 682.9h0M770.8 689.4h0M763.9 659.2h0M801.1 642.8h0M790.1 632.1h0M805.6 634.5h0M784.5 677.9h0M780.4 684.8h0M799.4 676.6h0M793.2 645.9h0M766.3 625.3h0M793.5 686.2h0M788.8 698.6h0M774.4 643.6h0M788.2 673.1h0M794.4 693h0M764.3 670.2h0M754.8 684.5h0M783.3 654h0M790.6 637.8h0M792.3 657.5h0M761.6 671.5h0M792 672h0M786.1 621.1h0M776.3 692.9h0M756.9 626.3h0M780.4 629.1h0M791.6 656.9h0M778.8 624.6h0M790.7 698.8h0M799.8 630.3h0M770.8 686.2h0M762.4 676.1h0M783.1 648.3h0M772.2 686.4h0M799.9 667.9h0M782.8 662.9h0M801.1 678.2h0M786.9 645.4h0M792.9 670.9h0M800.2 695.2h0M794.3 631.1h0M802.7 658h0M761 620.5h0M780.3 695h0M772.1 638.1h0M779.4 635.3h0M756 621h0M808.4 651.3h0M747 691.3h0M793.8 694.6h0M793.7 661.3h0M764.5 704.3h0M744.3 667.3h0M790.2 697.8h0M781.6 627h0M772.8 654.5h0M782 703.5h0M778.8 624.5h0M767.6 667.1h0M779.7 677h0M774.3 628.2h0M765 699.4h0M798.1 671.8h0M798.5 643.8h0M773.1 657.5h0M786.4 662.7h0M782 629.6h0M765.4 680.2h0M771.2 653.9h0M758.9 640.4h0M752.8 685.2h0M783.5 666.7h0M747 643.2h0M782.2 662.1h0M786.8 647.4h0M746.3 672.7h0M769.9 697.6h0M756.5 639h0M763 629.5h0M787.2 644.1h0M786.5 626.1h0M794.9 668.1h0M783.8 657.9h0M774.7 659h0M788.7 693.1h0M800.5 689.3h0M773.9 662.4h0M783.2 691.3h0M803 691.1h0M799.8 652h0M758.2 634.2h0M786.9 642h0M765 683.3h0M800.6 672.1h0M785.8 662.4h0M785.1 634.3h0M777.5 629.3h0M767.4 631.9h0M793.9 652.7h0M763.1 697.3h0M804.6 651.1h0M792.8 689.5h0M780.3 683h0M763.4 697.9h0M784.7 643.1h0M757.3 641.9h0M765 694.3h0M773.4 678h0M782.5 644.4h0M794.5 692h0M805.2 638.5h0M789.7 652.1h0M802.8 657.3h0M772 683.8h0M793.8 675.8h0M798.6 692h0M760.3 667.4h0M779.3 670.7h0M768.4 634h0M785.8 635.6h0M782 624.1h0M780.7 652.9h0M773.7 662.4h0M784.7 701.4h0M792.5 661.5h0M762.9 672.3h0M794.7 670h0M769.8 648.9h0M793 685h0M756 642.3h0M780.4 688.9h0M752.7 631.3h0M780.4 685.3h0M763.8 655.8h0M788.9 679.7h0M802.4 656.1h0M802.7 622h0M793 702.5h0M776.7 666h0M770.2 676.5h0M782.3 686.8h0M747.6 705.2h0M784.3 699.3h0M772.7 690.5h0M773.6 683.5h0M771 698.5h0M762.3 676.6h0M790.6 642.9h0M759.2 668.7h0M771.1 633.9h0M784.2 685.2h0M789.4 680.4h0M803.5 667.9h0M773.6 668.7h0M774.8 681.6h0M754 651.8h0M785.6 698.9h0M792.8 660.8h0M770.5 688.8h0M773.2 675.4h0M786.2 660.5h0M790.8 662.8h0M761.1 681.8h0M788.5 702.1h0M763.5 669.8h0M770.9 675h0M781.6 621.7h0M806.9 680.3h0M755.3 693.7h0M807.2 655.5h0M785.2 669h0M773.2 673.6h0M765.8 660.8h0M791.4 684.5h0M790.3 682h0M778.5 669.2h0M746.9 681.4h0M760.8 689.7h0M771.8 670.7h0M748.6 620.7h0M805.8 668.7h0M772 676.6h0M782.5 681.7h0M756 647.3h0M804.9 646h0M776.8 681.5h0M774.7 685.6h0M792.9 648.6h0M748.8 661.5h0M758.7 631.9h0M784.3 670.5h0M789.1 694.8h0M802 676.7h0M802.1 705.2h0M792.8 687h0M778.7 653.9h0M787.3 678.6h0M792.9 641.7h0M779.1 678.6h0M783.5 625.7h0M765.9 701.5h0M765.3 655.1h0M800.2 655.9h0M764.3 666.7h0M794.6 701h0M756.8 629.6h0M808.5 662.6h0M784.9 702.4h0M759 639.6h0M784.3 636.9h0M793.7 659.2h0M782.7 665.5h0M790.7 658.8h0M767.5 629.4h0M803.7 662.8h0M777.1 667.7h0M756.8 665.1h0M782.2 660.7h0M779.4 642.4h0M803.5 663h0M786.5 687.4h0M777.7 698.9h0M780.1 679.2h0M775.3 664.7h0M791 701.6h0M747 683.4h0M793.5 700.4h0M806.2 682h0M776.3 637.4h0M774 644.1h0M786.6 698.8h0M747.1 690.1h0M801.3 696h0M762.1 701h0M779.8 636h0M753.6 664.5h0M792.8 697.9h0M794.3 643.1h0M798.5 648.9h0M774.2 645.8h0M788.9 658.7h0M799.4 693.8h0M783.8 692h0M772.6 686.7h0M790.1 685.6h0M782.7 661.1h0M797.5 619h0M794.8 677.1h0M767.7 700.1h0M785.3 678.4h0M756.7 647.4h0M799.5 628.8h0M795.9 680.5h0M788.2 663.4h0M769.5 650.8h0M777.9 639.1h0M756.1 659.7h0M786.6 654.6h0M783.5 644h0M776.7 702.1h0M780.3 671.9h0M786.1 665.3h0M779.2 651.8h0M777.9 659.5h0M787.9 697.8h0M796.8 700.9h0M766.5 661.9h0M791 657h0M769.7 635.2h0M795.2 686.5h0M764.8 645.1h0M778.6 678.1h0M779.6 699h0M788.6 689.6h0M769.4 645h0M787.2 620.1h0M790 681.8h0M781.2 699.9h0M786.7 678h0M768.1 700h0M769 696.3h0M787.7 645.8h0M778.7 675.6h0M750.8 670h0M783.8 673.4h0M794.8 686.5h0M793.4 644.7h0M790.6 629.6h0M750.3 658.5h0M798.9 633.5h0M787.6 695.6h0M764.3 645.4h0M781.5 662.7h0M790.8 629.9h0M801.4 655.7h0M791.2 648.9h0M779.7 686.2h0M798.8 665.7h0M787 641.3h0M772.9 693.9h0M799.2 662.3h0M803.9 693.9h0M803.4 647.5h0M777.6 628.4h0M783 701.4h0M790.5 630.9h0M779.2 651.9h0M795.3 672.8h0M798.8 684.7h0M798.8 618.6h0M776.9 696.4h0M789.8 694.1h0M788.9 635.1h0M766.3 663.8h0M789.9 686h0M807.5 685.3h0M771.5 640.4h0M792.3 660.8h0M785 657.9h0M795.8 673.9h0M789.1 651.2h0M799.3 630.3h0M785.1 664h0M787.3 680.4h0M780.1 640.7h0M775.2 643.9h0M773.9 653h0M774.7 645.1h0M807 687.1h0M779.1 648.5h0M787.7 634h0M771 694.5h0M773.6 705.3h0M759.6 669.6h0M757.4 664.7h0M796 689.4h0M774.8 671.4h0M803 634.9h0M751.1 628.9h0M807.2 631.3h0M765.9 636.1h0M786.1 672.5h0M775.8 625.3h0M796.7 649.9h0M800.9 688.5h0M787.2 652.2h0M769 687.7h0M795.6 622.5h0M790.5 681.5h0M781.7 655.1h0M777.8 627.2h0M800.8 687.1h0M771.4 687.8h0M774.8 691h0M773.8 687.6h0M802.3 692.1h0M774.2 669h0M794 692.8h0M772.2 664.3h0M780.5 660.5h0M791.5 699.3h0M776.8 675.8h0M794.9 649.7h0M757.1 687h0M766.3 628.3h0M789.7 646.5h0M719.2 651.4h0M735.7 685.3h0M733.5 709.4h0M712.7 699.4h0M691 687.8h0M695.8 685h0M697.6 679.5h0M697.3 702.9h0M700.7 686h0M702.7 686.8h0M714.7 704.9h0M712.7 672.7h0M698 676.1h0M722.1 692h0M702.5 666.5h0M692.2 703.7h0M716 662.7h0M708.8 663.7h0M720.3 694.7h0M694.5 697.4h0M690.1 666.5h0M693.3 696.9h0M708.4 682.3h0M729.7 696h0M722.6 706.3h0M733.2 686.4h0M717.7 679.2h0M690.5 698.5h0M708.9 661.7h0M701 685.9h0M721.7 684.6h0M711.1 694h0M708.2 686h0M709.6 682.9h0M703.1 666.7h0M712.2 673.4h0M690 654.3h0M725.3 669h0M704.5 665.1h0M731.2 697.1h0M693.6 687.8h0M712.5 685.4h0M702.6 666.1h0M699.7 691.6h0M691.5 677.1h0M698 684.5h0M694.5 699.9h0M706.5 693.8h0M709.6 684.2h0M711.7 708h0M717.5 702.8h0M702.2 669.1h0M727.3 653.6h0M708.3 662h0M698.7 698.3h0M732.2 668.3h0M689.6 672h0M701.1 700.7h0M706.4 707.2h0M729.6 704h0M707.6 673h0M692.6 656.6h0M712 696h0M694.1 681.8h0M693.8 662.3h0M691.3 673.8h0M704.9 678.6h0M694.3 699.3h0M703.6 677.3h0M709.6 703.9h0" stroke="#8c8cff" stroke-width="1.6" stroke-linecap="round" stroke-opacity="0.65"/>
<rect x="677" y="592.2" width="145" height="143.8" fill="none" stroke="#959595" stroke-width="1.5"/>
<path d="M677 601.2h-2.2M677 630.2h-2.2M677 663.2h-2.2M677 693.2h-2.2M677 718.7h-2.2M677 731.2h-2.2M697 736v2.2M722 736v2.2M772 736v2.2M802 736v2.2" stroke="#8c8c8c" stroke-width="1.1"/>
<rect x="674.8" y="717.7" width="2.2" height="2.5" fill="#555"/>
<rect x="693" y="736" width="4" height="1.6" fill="#555"/>
<rect x="741.7" y="609.4" width="66.8" height="93" fill="none" stroke="#7272c8" stroke-width="1.5"/>
<text x="697.5" y="638.4" font-size="15" font-weight="bold" textLength="29" lengthAdjust="spacingAndGlyphs">1.81</text>
<g>
<path d="M246.7 887.9L231.7 888.1L228.2 886.7L225.7 884.4L223.3 879.9L222.8 873.9L224.4 868.4L227.2 864.9L229.2 863.6L231.7 862.7L240.2 862.6L275.2 865.4L306.2 866.7L313.2 867.8L319.7 869.9L323.5 872.4L324.9 874.9L324.2 877.4L321.7 879.6L318.2 881.2L312.2 882.7L296.7 884.6L275.7 885.5L246.7 887.9Z" fill="#3c3cff" filter="url(#spkA)"/>
<path d="M246.7 885.9L232.2 886.2L229.7 885.4L227.6 883.9L225 879.9L224.2 875.4L225 870.9L227.6 866.9L229.7 865.4L232.2 864.6L245.2 864.8L276.2 868.7L292.2 869.3L299.3 870.9L301.8 872.4L301.5 873.9L297.8 878.9L295.7 880.3L293.2 881.1L286.7 882.2L276.8 882.4L246.7 885.9Z" fill="#1e1eff" filter="url(#spkB)"/>
<path d="M237.7 884.9L232.7 884.9L230.2 884.2L227.5 881.9L225.9 878.9L225.4 874.9L226.3 870.9L228.4 867.9L231.2 866.2L239.2 865.9L249.7 866.7L269.2 870L276.7 871.8L284.2 871.2L288.7 871.5L293.2 872.9L294.6 874.9L294.2 876.4L292.6 877.9L286.7 879.9L283.2 880.1L277.2 879.7L271.2 881L263.2 881.8L252.7 883.7L237.7 884.9Z" fill="#0808ff" filter="url(#spkC)"/>
<path d="M243.2 883.4L232.7 883.7L230.7 883.2L228.7 881.7L227 878.9L226.3 875.4L227 871.9L228.9 868.9L230.7 867.6L233.2 867.1L241.2 867.2L250.2 868.2L269.7 872.4L272.9 873.9L274.4 875.9L274.1 876.9L273 877.9L270.2 879L263.2 879.8L253.2 882.2L243.2 883.4ZM285.2 877.4L281.8 876.9L281.2 876.4L281.1 875.4L282.4 874.4L284.2 874L286.7 874.2L288 874.9L288.3 875.4L287.7 876.4L285.2 877.4Z" fill="#0038ff"/>
<path d="M240.7 882.4L232.2 882.5L229.2 880.7L227.7 877.9L227.3 874.9L228 871.9L229.7 869.6L231.7 868.5L234.2 868.2L241.7 868.5L248.7 869.3L258.2 871.8L262 873.9L263.4 875.4L262.8 876.4L260.6 877.9L255.2 880.2L248.7 881.5L240.7 882.4Z" fill="#0090ff"/>
<path d="M240.7 881.4L232.7 881.6L231.2 881.1L229.7 880L228.5 877.9L228.1 874.9L228.7 872.4L230.1 870.4L231.7 869.5L233.7 869.2L246.2 870L254.7 872.2L257 873.4L258.2 874.9L257.7 876.9L254.2 879.1L249.2 880.3L240.7 881.4Z" fill="#00e0f0"/>
<path d="M240.7 880.4L232.7 880.6L230.7 879.7L229.3 877.9L228.8 875.9L229.2 873.4L230.2 871.6L232.7 870.2L242.7 870.6L250.8 872.4L253.2 873.5L254.7 874.9L254.6 876.4L252.2 878.1L246.7 879.5L240.7 880.4Z" fill="#18ff80"/>
<path d="M240.2 879.5L233.2 879.7L231.2 879L230.2 877.7L229.7 875.9L229.8 873.9L230.6 872.4L232.7 871.2L240.7 871.4L247.4 872.9L250.7 874.9L250.4 876.4L248.8 877.4L244.7 878.7L240.2 879.5Z" fill="#90ff10"/>
<path d="M240.2 878.4L232.2 878.5L231.2 877.7L230.5 876.4L230.7 873.9L231.7 872.6L232.7 872.2L237.7 872.1L243.7 873.2L246.6 874.9L246.7 875.9L245.5 876.9L240.2 878.4Z" fill="#ffe000"/>
<path d="M237.2 877.4L232.2 877.1L231.5 875.9L231.7 874.4L232.7 873.5L236.7 873.4L240.1 873.9L242 874.9L242 875.9L241.4 876.4L237.2 877.4Z" fill="#ff7000"/>
<path d="M237.2 876.4L233 876.4L232.4 875.9L232.4 874.9L233.2 874.4L236.2 874.3L238.2 874.7L239.2 875.4L237.2 876.4Z" fill="#ff2000"/>
<path d="M255.7 863.9h0M235.3 863h0M229.2 887h0M302.7 872.8h0M298 876.3h0M283.2 881.9h0M294.8 886.1h0M297.4 874.3h0M261.2 884.7h0M325.6 879.7h0M314.4 872.8h0M257.7 865.4h0M295.9 879.1h0M235.9 862h0M310.9 875.3h0M238.1 865.1h0M307.5 877.2h0M314.8 881.6h0M281.7 865.5h0M288 869.1h0M265 865.9h0M306.6 880h0M274.6 867h0M300.8 875.5h0M271.7 882h0M319 884.1h0M311.2 873.6h0M298.5 877h0M306.2 887h0M309.6 867.4h0M318.8 868.4h0M254.5 886.6h0M253.3 862.7h0M291.8 879.9h0M225.8 868.8h0M235.9 885.9h0M298.8 869.5h0M305.1 873.4h0M304.3 874.2h0M289.1 866.1h0M263.6 866.8h0M315.1 871h0M281 882.8h0M284.3 868.6h0M234.5 865.2h0M282.7 887.5h0M299.3 878.4h0M308.6 885.2h0M266 866.4h0M269.9 866h0M332 878.4h0M298.3 878h0M299.7 881.1h0M266 885h0M239.6 885.7h0M294 870.1h0M302.9 886h0M312.9 873.2h0M294.5 882.8h0M291.9 880.8h0M255.9 864.3h0M284.5 870.2h0M235.9 860.9h0M278.8 864.5h0M321.5 884.3h0M232.8 887.7h0M323 874.6h0M285.5 881.6h0M317.1 878.2h0M308.3 864.8h0M250.6 886.5h0M253.6 863.3h0M281.3 869.6h0M261.6 863.8h0M255.8 889h0M263.7 883.2h0M303 876.9h0M231 886.6h0M291.1 869.7h0M248.4 862.4h0M311.3 865.9h0M293.7 871.1h0M269 882.9h0M309.1 866.6h0M251.1 862.7h0M322.9 880.3h0M317.8 883.7h0M296.1 864.2h0M226.2 868.3h0M297.6 882.2h0M256 884.3h0M254.4 863.3h0M294 879.6h0M268.1 866.5h0M297.9 881.3h0M225.4 879.6h0M263.7 866h0M314.6 876h0M322.1 882.4h0M295.2 880.3h0M305.3 877.2h0M294.4 880.7h0M235.5 864.6h0M263.7 882.8h0M308.2 874.7h0M304.9 876.6h0M296.2 879.1h0M284.3 867.8h0M302.7 882.6h0M278.8 869.9h0M328.8 873.3h0M307.1 876.6h0M301.3 863.9h0M260.2 864.2h0M231.9 888.6h0M291.8 883.8h0M264.6 884.7h0M306.6 865.1h0M282.9 868.1h0M279.3 883.1h0M301.2 879.3h0M279.5 867.9h0M260.2 885.4h0M298.4 867h0M320.2 883h0M318.4 879.1h0M285 869.8h0M265.3 886h0M278.6 883.2h0M260.6 888.3h0" stroke="#2a2aff" stroke-width="1.2" stroke-linecap="round" stroke-opacity="0.75"/>
<path d="M277.5 873h0M266.2 880.3h0M226.4 879.3h0M225.7 871.3h0M283.3 876.9h0M250.4 866.4h0M239.5 867.3h0M280 873.3h0M261.7 883.4h0M287.6 873h0M293.5 874.3h0M256.9 867.3h0M243.5 867.3h0M269.2 883.3h0M271.1 879.9h0M246.4 883.2h0M280.9 879.2h0M260.1 870.3h0M230.8 867.1h0M241.6 867.4h0M271.7 873.6h0M244.5 883.1h0M276.9 873.7h0M224.9 872.6h0M286.9 875.6h0M281 870h0M268.3 872.9h0M257.2 869.3h0M275 876.8h0M271.3 868.5h0M289.5 881.8h0M282.4 876.5h0M240.6 885.4h0M257.2 880.9h0M284.2 877.3h0M263.9 879.7h0M259.1 884.2h0M227.6 880h0M274.1 874.3h0M289.7 875.9h0" stroke="#4a7aff" stroke-width="1.1" stroke-linecap="round" stroke-opacity="0.9"/>
</g>
<path d="M257 860.2h0M263.2 827.6h0M242.9 856.2h0M236 855.7h0M241.9 823.6h0" stroke="#8c8cff" stroke-width="1.6" stroke-linecap="round" stroke-opacity="0.65"/>
<rect x="210.2" y="748.4" width="145" height="143.8" fill="none" stroke="#959595" stroke-width="1.5"/>
<path d="M210.2 757.4h-2.2M210.2 786.4h-2.2M210.2 819.4h-2.2M210.2 849.4h-2.2M210.2 874.9h-2.2M210.2 887.4h-2.2M230.2 892.2v2.2M255.2 892.2v2.2M305.2 892.2v2.2M335.2 892.2v2.2" stroke="#8c8c8c" stroke-width="1.1"/>
<rect x="208" y="873.9" width="2.2" height="2.5" fill="#555"/>
<rect x="226.2" y="892.2" width="4" height="1.6" fill="#555"/>
<rect x="274.9" y="765.6" width="66.8" height="93" fill="none" stroke="#7272c8" stroke-width="1.5"/>
<text x="230.7" y="794.6" font-size="15" font-weight="bold" textLength="29" lengthAdjust="spacingAndGlyphs">0.00</text>
<g>
<path d="M404.4 887.9L387.9 888.1L384.9 887.2L382.4 885.4L379.6 881.4L378.7 878.4L378.4 875.4L378.7 872.4L379.6 869.4L382.4 865.4L384.9 863.6L386.9 862.8L393.9 862.5L428.4 864.5L472.9 865.2L478.9 866.2L483.9 868.3L487.1 870.9L489 874.4L488.5 877.9L485.9 881.1L481.4 883.8L475.9 885.3L468.9 885.8L426.9 886.4L404.4 887.9Z" fill="#3c3cff" filter="url(#spkA)"/>
<path d="M403.4 885.9L388.4 886.3L385.9 885.7L383.4 884L381 880.4L380 875.9L380.6 871.4L382.9 867.3L384.9 865.6L387.4 864.7L394.9 864.4L405.9 865.1L432.4 867.7L450.4 868.6L459.9 868.2L470.9 868.5L475.4 869.3L478.9 870.8L481.3 872.9L482.2 874.9L481.7 877.4L479.9 879.4L476.9 881.2L472.9 882.3L450.9 882.4L434.9 883L403.4 885.9Z" fill="#1e1eff" filter="url(#spkB)"/>
<path d="M395.4 884.9L386.9 884.6L384.4 883.2L382.3 880.4L381.1 876.4L381.5 872.4L383.2 868.9L385.9 866.6L387.9 866L390.9 865.9L401.9 866.3L441.4 871.5L445.4 872.8L446.5 873.9L447.1 875.4L447 876.9L446.3 877.9L442.9 879.2L423.4 881.5L409.9 883.7L395.4 884.9ZM470.9 879.9L456.9 878.2L455 876.9L454.9 874.4L456.4 872.6L458.9 871.8L469.4 871.3L473.1 871.9L476.1 873.9L476.5 876.4L475.7 877.9L474.4 878.9L470.9 879.9Z" fill="#0808ff" filter="url(#spkC)"/>
<path d="M399.9 883.4L388.4 883.7L386.4 883.1L384.9 882.1L382.9 879.4L382.1 875.9L382.5 872.4L384.4 869.1L386.4 867.7L388.4 867.1L396.9 867.1L405.9 868L413.9 869.3L428.9 873.3L431.8 874.4L432.8 875.4L431.6 876.9L428.7 877.9L412.9 881.7L399.9 883.4Z" fill="#0038ff"/>
<path d="M397.4 882.4L388.4 882.5L386.4 881.9L384.9 880.6L383.4 877.9L383 874.9L383.8 871.9L385.4 869.6L387.4 868.5L390.4 868.2L396.9 868.3L404.4 869.2L414.4 871.2L417.7 872.9L419.7 874.9L419.7 875.9L418.5 877.4L413.9 879.8L404.9 881.5L397.4 882.4Z" fill="#0090ff"/>
<path d="M397.4 881.4L388.4 881.5L385.9 880.4L384.4 878.4L383.8 875.9L384.1 873.4L385.4 870.9L386.9 869.7L388.4 869.3L400.4 869.7L411.9 872L414.6 873.4L415.7 874.9L415.1 876.9L412.4 878.6L403.9 880.5L397.4 881.4Z" fill="#00e0f0"/>
<path d="M397.4 880.4L388.9 880.6L386.7 879.9L385.3 878.4L384.6 876.4L384.7 873.9L385.7 871.9L386.9 870.7L388.4 870.2L397.9 870.4L409 872.9L411.4 873.9L412.4 874.9L412.1 876.4L410.4 877.4L402.9 879.5L397.4 880.4Z" fill="#18ff80"/>
<path d="M396.9 879.4L390.9 879.7L387.4 879.2L386 877.9L385.5 876.4L385.5 874.4L386 872.9L386.9 871.9L388.4 871.2L395.9 871.3L402.9 872.7L406.7 874.9L406.7 875.9L404.7 877.4L401.4 878.6L396.9 879.4Z" fill="#90ff10"/>
<path d="M396.4 878.4L391.9 878.7L387.9 878.4L386.3 876.4L386.5 873.9L387.4 872.7L388.4 872.2L393.9 872.1L399.4 873L401.6 873.9L402.7 874.9L402.7 875.9L401.6 876.9L396.4 878.4Z" fill="#ffe000"/>
<path d="M393.4 877.4L388.4 877.2L387.4 876.2L387.5 874.4L388.4 873.6L392.9 873.3L396.4 873.9L398.3 874.9L398.3 875.9L397.6 876.4L393.4 877.4Z" fill="#ff7000"/>
<path d="M393.4 876.5L388.9 876.3L388.3 875.9L388.3 874.9L389.4 874.4L392.4 874.3L394.4 874.6L395.5 875.4L393.4 876.5Z" fill="#ff2000"/>
<path d="M459.3 866.4h0M404.2 863.2h0M407.3 864.4h0M440.4 884h0M458.2 881.5h0M460.4 880.6h0M403.4 864.6h0M391.5 888h0M492.1 869.6h0M487.1 870.4h0M443 866.2h0M448.8 867.7h0M392.4 862.3h0M385.4 864h0M451.8 867.3h0M395.9 888.3h0M467 869.6h0M393.5 889.2h0M447.2 884.3h0M473.9 866.8h0M480.3 872.5h0M424.3 883.2h0M380.1 877.3h0M421.4 885.5h0M474.9 880.8h0M433 882.3h0M453.1 880.9h0M445.8 864.9h0M435.7 882.1h0M478.7 867.4h0M452.3 882.5h0M406.1 887.3h0M382 867.9h0M452.4 868.4h0M449.2 870.8h0M458.6 868.5h0M440.3 864.8h0M425.9 868.6h0M468.5 885.7h0M494.6 876.2h0M463.1 883.4h0M471.7 882.8h0M443.9 885.6h0M447.1 886.3h0M385.1 884.4h0M485.3 885.6h0M441 882.7h0M461.1 882.4h0M452 881.1h0M409.8 864.9h0M463.5 867.3h0M390.7 887.9h0M437.2 866.3h0M451.2 887.4h0M426.7 865.9h0M377.6 877.5h0M379.6 867.2h0M464.8 862.2h0M471.5 863.9h0M389.9 887.6h0M418.6 884.4h0M445.4 884.4h0M412.4 865.9h0M448.8 864.2h0M451.5 871h0M379.5 875h0M448 884h0M408.5 865.6h0M388.7 864.8h0M436.2 866.9h0M450.4 870.2h0M396.2 862.7h0M405.1 862.9h0M414.4 865.6h0M410.6 865.4h0M454.6 880.5h0M469.1 866.6h0M432.5 867.5h0M473.1 869.9h0M450 882.3h0M462.6 885.3h0M486.4 871.8h0M381.6 881.8h0M483.5 871.3h0M407.7 887.4h0M458.4 867.9h0M434 868.9h0M477.7 883.3h0M428.3 884.8h0M490.4 881.6h0M466.7 868.9h0M405.5 865.7h0M398 887.9h0M483 865.6h0M474.9 880.5h0M438.4 884.5h0M407.2 888.6h0M484.4 877.9h0M433.1 865.2h0M480 873h0M448.2 880.8h0M454.3 886.7h0M404.9 884.9h0M393.9 885.9h0M392.8 864h0M480.1 882.7h0M454 884.7h0M433.8 868.5h0M394.1 864.1h0M457.9 880.8h0M413.7 884.8h0M453.9 870.9h0M480.4 878.7h0M469.4 884.5h0M465.5 887.5h0M483.8 871.1h0M460.2 868.6h0M484.1 866.6h0M445.4 867.1h0M436.8 888.3h0M480.7 870.5h0M402 864.5h0M417 886.5h0M437.1 869.6h0M426.9 886.6h0M482.4 869.1h0M432.9 869.3h0M455.4 868.5h0M484.8 874.7h0M460.9 881h0" stroke="#2a2aff" stroke-width="1.2" stroke-linecap="round" stroke-opacity="0.75"/>
<path d="M412.5 883.6h0M431.6 871.7h0M476.9 879.5h0M440.7 869.9h0M453.1 876.7h0M382.8 880.6h0M382 878.8h0M410.1 867.6h0M477.8 876.1h0M436.9 869.4h0M380.9 871.6h0M438.1 869.9h0M449.9 869.2h0M380.6 877.9h0M444 876.8h0M424.7 880.3h0M382.2 873.5h0M430.9 876.8h0M450.4 870.4h0M399.3 864.7h0M415.3 868.4h0M415.4 870.1h0M480 879h0M438.6 872.6h0M391.1 866.4h0M408.1 883.2h0M462.3 881.5h0M427.4 878.8h0M406 884.7h0M460.6 880.8h0M441 879h0M451.2 877.5h0M436.6 879.7h0M428.2 869.4h0M477 878.2h0M458 877.7h0M453 878.9h0M460.3 879.6h0M417.2 882.2h0M474.6 872.7h0" stroke="#4a7aff" stroke-width="1.1" stroke-linecap="round" stroke-opacity="0.9"/>
</g>
<path d="M478.2 804h0M457.7 845h0M494.5 796.8h0M449.3 835.8h0M463.5 813.5h0M410.1 861.1h0M413.6 843.6h0M391.8 847.5h0M402.3 861.1h0M389 851.2h0M405.4 835.8h0M386.4 863.1h0M420.4 810.7h0M388.9 830h0M380.1 835.4h0" stroke="#8c8cff" stroke-width="1.6" stroke-linecap="round" stroke-opacity="0.65"/>
<rect x="365.9" y="748.4" width="145" height="143.8" fill="none" stroke="#959595" stroke-width="1.5"/>
<path d="M365.9 757.4h-2.2M365.9 786.4h-2.2M365.9 819.4h-2.2M365.9 849.4h-2.2M365.9 874.9h-2.2M365.9 887.4h-2.2M385.9 892.2v2.2M410.9 892.2v2.2M460.9 892.2v2.2M490.9 892.2v2.2" stroke="#8c8c8c" stroke-width="1.1"/>
<rect x="363.7" y="873.9" width="2.2" height="2.5" fill="#555"/>
<rect x="381.9" y="892.2" width="4" height="1.6" fill="#555"/>
<rect x="430.6" y="765.6" width="66.8" height="93" fill="none" stroke="#7272c8" stroke-width="1.5"/>
<text x="386.4" y="794.6" font-size="15" font-weight="bold" textLength="29" lengthAdjust="spacingAndGlyphs">0.03</text>
<g>
<path d="M562.9 887.9L552.4 888.3L543.9 888.1L541.4 887.6L538.4 885.8L536.6 883.9L535.1 881.4L533.9 876.9L533.9 873.9L534.6 870.9L537 866.4L538.9 864.6L541.4 863.2L547.9 862.5L582.4 863.8L607.9 863.4L635.4 863.7L641.4 864.7L646.4 866.9L650.3 870.4L652.1 874.4L652.1 876.4L651.5 878.4L648.4 882.3L643.9 885.2L638.4 886.7L628.4 887.2L582.4 887.1L562.9 887.9Z" fill="#3c3cff" filter="url(#spkA)"/>
<path d="M560.9 885.9L543.9 886.2L541.4 885.6L539.4 884.3L536.7 880.9L535.5 876.4L536 871.9L538 867.9L539.9 866.1L541.9 865L548.9 864.4L557.9 864.7L582.4 866.6L595.9 866.6L607.4 865.8L617.9 866.5L633.4 866.8L638.9 867.6L642.4 868.9L645.3 871.4L646.5 874.4L646 877.4L643.8 880.4L640.4 882.4L635.9 883.5L624.4 884.2L582.9 884.3L560.9 885.9Z" fill="#1e1eff" filter="url(#spkB)"/>
<path d="M552.9 884.9L542.9 884.6L540.4 883.4L538.5 881.4L537 877.9L536.8 873.9L538.1 869.9L540.9 867L543.9 866L553.9 866L563.4 866.7L578.9 868.8L585.9 869.1L596.4 868.9L604.9 867.8L608.9 867.7L617.9 869.1L634.9 870.2L638.4 871.4L640 873.4L639.8 874.4L638.9 875.3L634.7 876.9L630.9 879.8L625.9 881.2L583.9 881.9L552.9 884.9Z" fill="#0808ff" filter="url(#spkC)"/>
<path d="M557.4 883.4L544.4 883.6L540.9 882.4L538.8 879.9L537.7 876.4L538 872.9L539.4 869.9L540.9 868.4L542.9 867.4L548.9 867.1L563.4 868.1L578.4 871.2L583.4 871.8L596.9 871.2L607.9 869.5L610.9 870L617.4 872.1L624.4 873.1L625.9 873.9L626.3 874.9L625.1 876.9L621.9 878L600.9 879.7L583.4 879.4L557.4 883.4Z" fill="#0038ff"/>
<path d="M554.9 882.4L543.9 882.4L540.9 881L539.4 878.9L538.6 875.9L539 872.9L540.4 870.4L541.9 869.1L543.9 868.4L551.4 868.3L559.9 869L565.9 870.1L570.9 871.5L574.9 873.4L577.2 875.4L577.1 876.4L576.1 877.4L571.5 879.4L563.9 881.3L554.9 882.4ZM600.4 875.9L598.1 875.9L597.6 875.4L602.4 874.5L605.4 873.4L607.4 873.4L607.6 873.9L606.8 874.4L600.4 875.9Z" fill="#0090ff"/>
<path d="M554.9 881.4L544.9 881.5L541.9 880.6L540.3 878.9L539.5 876.4L539.6 873.9L540.7 871.4L541.9 870.2L543.9 869.4L549.9 869.2L556.4 869.7L566.4 871.7L569.9 873.4L571.4 874.9L571.6 875.9L571 876.9L567.6 878.9L561.9 880.5L554.9 881.4Z" fill="#00e0f0"/>
<path d="M555.4 880.4L548.4 880.7L542.9 880.2L541.4 878.9L540.4 876.9L540.2 874.9L540.9 872.6L542.4 870.9L543.9 870.4L552.9 870.3L562.4 872L565.8 873.4L567.4 874.9L567.3 876.4L564.9 878.2L560.9 879.5L555.4 880.4Z" fill="#18ff80"/>
<path d="M554.9 879.4L548.9 879.7L543.4 879.3L542.1 878.4L541.3 876.9L541.1 874.9L541.5 873.4L542.4 872.2L543.9 871.4L551.4 871.2L559.4 872.6L561.9 873.5L563.6 874.9L563.5 876.4L562.3 877.4L559.4 878.6L554.9 879.4Z" fill="#90ff10"/>
<path d="M554.4 878.4L549.4 878.8L543.9 878.4L542.2 876.9L542.1 874.4L542.9 873L543.9 872.5L549.9 872.2L556.4 873.1L558.8 873.9L560.1 874.9L560.3 875.9L559.4 876.9L554.4 878.4Z" fill="#ffe000"/>
<path d="M551.9 877.4L547.9 877.5L544.1 876.9L543.4 876.4L543.2 874.9L544.4 873.9L549.9 873.4L553.9 874.1L556.1 875.4L555.4 876.4L551.9 877.4Z" fill="#ff7000"/>
<path d="M551.4 876.5L546.9 876.4L545.2 875.4L546.4 874.7L548.9 874.3L551.4 874.6L553 875.4L552.9 875.9L551.4 876.5Z" fill="#ff2000"/>
<path d="M638.9 882.9h0M571.5 862.4h0M580.5 885.5h0M549.2 863.4h0M601 887h0M558.6 886.2h0M596.8 867.6h0M536.3 877.9h0M582.5 864.6h0M538.1 867.4h0M615.8 887.2h0M582.8 886.6h0M650.2 874.6h0M638.8 864.3h0M640.4 867.6h0M613.3 864.9h0M535.1 880.7h0M586.9 867.3h0M625.6 864.4h0M593.7 865.7h0M654.7 879.1h0M634 866.5h0M538.7 867.3h0M612 865.9h0M643.3 873.4h0M594 883.1h0M623.5 885.7h0M626.3 867.7h0M640.9 881.3h0M533 875.8h0M573.7 864.1h0M622 885.5h0M641.5 862h0M559.1 865.2h0M644.9 873.6h0M631.4 864.9h0M643.6 888.2h0M602.4 887.7h0M556.9 865.2h0M598.2 865.9h0M635 861.4h0M609 863.3h0M623.7 884.6h0M641.4 864h0M581.3 863.2h0M540.6 885.3h0M585.2 883.7h0M570.1 865.3h0M590.5 886h0M567.3 865.4h0M575.8 866.3h0M546.4 885.9h0M640.8 887.4h0M536.3 869.1h0M594.6 886.1h0M634.7 865.4h0M648.7 869.8h0M645.1 873.6h0M557.2 865.5h0M607.1 866.3h0M592.8 883.3h0M596.7 865h0M583.9 862.8h0M548.2 886.2h0M644.5 871h0M562.5 889.3h0M648.6 875.2h0M565.1 887.4h0M551 861.3h0M641.7 886.2h0M630.4 867.4h0M545 885.7h0M555.7 888.3h0M649.4 874.5h0M646.9 884.2h0M544.1 864.4h0M637.9 884.6h0M602.3 884.7h0M648.2 874h0M542.4 886.7h0M533.4 870.8h0M605.6 885.7h0M637.7 868.2h0M547.5 886.4h0M645.5 869.4h0M629.8 886.9h0M557.3 889.4h0M641.3 870.4h0M644.2 873.4h0M621.3 883.4h0M622.6 885.5h0M565.2 864.6h0M643.2 872.2h0M567.2 864.9h0M576.4 885.7h0M563.6 887.9h0M556.8 885.6h0M554.4 862.1h0M556.3 861.9h0M572.4 865.1h0M574.6 885.4h0M544.6 861.2h0M625.3 867.7h0M641.6 882.7h0M610 883.7h0M610.4 883.3h0M641.8 881.9h0M562.8 885.6h0M624.7 885.1h0M564.1 863.7h0M578.6 888.3h0M570.8 866.8h0M547.7 887.2h0M646.8 874h0M632.6 884.2h0M597.9 887.1h0M593 883.9h0M603.2 884.2h0M580.1 884.3h0M615.7 863.5h0M585.2 889h0M591.2 865.4h0M585.1 889.2h0M628.9 887.3h0M563 865.7h0M637.4 883h0M640.7 864.7h0M635.8 868.4h0M596 884h0M536.2 872h0" stroke="#2a2aff" stroke-width="1.2" stroke-linecap="round" stroke-opacity="0.75"/>
<path d="M564.3 867.4h0M589.1 879.9h0M642.7 873.3h0M594.2 868.2h0M595.6 868.6h0M548.1 867.5h0M635.8 881.3h0M632.7 877.7h0M607.4 866.3h0M579.4 879.7h0M547.5 883.6h0M614.1 882.6h0M620.8 868.6h0M617.3 877.5h0M594.3 872.2h0M625.3 880h0M597.1 884h0M601.1 881.4h0M544.6 885.1h0M572.4 880.7h0M638.7 870.7h0M611.5 879.8h0M614.4 877.7h0M625 875.2h0M625.2 869.6h0M620.1 866.8h0M633.1 877.1h0M547.7 884.2h0M603.5 879.7h0M567.8 883.9h0M595.2 880.9h0M597.7 884h0M562.8 868.2h0M579.6 869.7h0M598.5 882.2h0M580 880.5h0M552.6 866.7h0M585.6 868.1h0M610.3 880.7h0M633.2 870.6h0" stroke="#4a7aff" stroke-width="1.1" stroke-linecap="round" stroke-opacity="0.9"/>
</g>
<path d="M650.9 823.2h0M626.9 793.2h0M628.7 849.6h0M625 811.2h0M652.7 800.2h0M633 849.9h0M588.4 789.5h0M651.5 818h0M615.5 804.1h0M649.8 797.3h0M645.5 779.5h0M649.8 844.8h0M648.3 788.6h0M629.9 786.8h0M604.7 795.6h0M641.4 821.3h0M636 832.6h0M606.4 794.1h0M614.6 847.6h0M591.8 813.7h0M617 820.3h0M612.8 784h0M613.7 839.3h0M618.6 833.9h0M634.7 821.1h0M633.4 826.4h0M624 855.1h0M625.8 832.8h0M612.7 817h0M634.8 849.3h0M642.6 852.1h0M628 829.3h0M640.4 832.1h0M639.4 778h0M641.7 791h0M639.6 802.4h0M623.9 829.8h0M631.4 799.7h0M620.4 836.6h0M626.2 818.9h0M636.8 823.9h0M652.8 843.3h0M625.1 813.2h0M596.2 809.1h0M606.9 856.8h0M630.9 813.1h0M646.3 828.3h0M612.1 839.6h0M629.6 841.7h0M633.3 860.1h0M634.5 784.1h0M646.8 845.8h0M648.6 851.2h0M631.2 848.5h0M636.5 856h0M627.2 823h0M637.4 856.9h0M645.8 831.2h0M616.3 854h0M634.9 835.7h0M612.6 831.1h0M626.7 799.9h0M610.5 839.6h0M639.1 813.3h0M646.2 808h0M625.7 850.1h0M643.5 856h0M636.5 828.9h0M616.5 790.4h0M628.5 824.1h0M636 847.2h0M621 841.3h0M618.8 826.4h0M609.4 815h0M640.4 810.1h0M607.6 844.2h0M651.6 797.5h0M618.5 829.5h0M601.4 855h0M585.2 805.7h0M614.5 778.7h0M621.4 854h0M630.9 813h0M623.4 794.8h0M598 832.1h0M630.3 798.3h0M644 825.3h0M636.3 778.8h0M620.6 860.1h0M626.9 810.7h0M636.7 837.5h0M630.4 837.6h0M631.5 799.3h0M644.4 851.1h0M634.6 806.9h0M645.5 785.8h0M635 807.1h0M629 821.6h0M622.4 838.1h0M609.1 821.5h0M607.9 796.6h0M631.4 860.4h0M636.5 850.3h0M612.7 839.1h0M595.2 805.5h0M631.1 797.2h0M605.7 845h0M627.7 837h0M645.1 801.8h0M625.1 813.9h0M620.8 818.4h0M638.7 785h0M636.6 816.5h0M631.6 836.8h0M607 812.1h0M635.1 861.7h0M643.2 850.6h0M639 847.3h0M649.1 848.8h0M639.3 785.2h0M643.5 783.6h0M645.3 806.2h0M637.8 799.8h0M607.9 854.6h0M630.5 781.1h0M637.5 857.3h0M636.6 840h0M636.7 808.4h0M629.1 783.2h0M645.9 849h0M622.7 847.5h0M615.2 803.3h0M636.7 788.5h0M640.3 803.7h0M629.9 839.5h0M604.5 838.9h0M634.8 831.5h0M612.8 829.7h0M607.6 800.1h0M652.2 839.8h0M626.9 813.8h0M644.1 841.3h0M638.8 822.1h0M610 799.4h0M618.1 800.3h0M645.5 783.7h0M596.6 850.2h0M638.1 850.4h0M639.7 845.7h0M629.8 808.4h0M561.1 824h0M535.8 854.6h0M561 815.1h0M576.8 853.7h0M562.4 857.5h0M581.7 810.5h0M581.6 829.2h0M557.7 844.3h0M556.4 856.3h0M561.4 860.4h0M559.5 808.3h0M562.4 861.1h0M546.8 816.1h0M577.5 863.2h0M560.7 856.7h0M561.4 858h0M545.7 857.7h0M535.9 820.6h0M553.7 842.3h0M540.2 861.7h0M533.9 854.3h0M540 828.5h0M546.6 846.4h0M559.7 862.8h0M548 816.6h0M555.2 811.1h0M550.1 854.9h0M551.7 847.5h0M561.3 833.6h0M538 849.2h0M550.3 833.6h0M553 864.9h0M575.9 851.8h0M539.1 861.3h0M569.3 857.2h0" stroke="#8c8cff" stroke-width="1.6" stroke-linecap="round" stroke-opacity="0.65"/>
<rect x="521.4" y="748.4" width="145" height="143.8" fill="none" stroke="#959595" stroke-width="1.5"/>
<path d="M521.4 757.4h-2.2M521.4 786.4h-2.2M521.4 819.4h-2.2M521.4 849.4h-2.2M521.4 874.9h-2.2M521.4 887.4h-2.2M541.4 892.2v2.2M566.4 892.2v2.2M616.4 892.2v2.2M646.4 892.2v2.2" stroke="#8c8c8c" stroke-width="1.1"/>
<rect x="519.2" y="873.9" width="2.2" height="2.5" fill="#555"/>
<rect x="537.4" y="892.2" width="4" height="1.6" fill="#555"/>
<rect x="586.1" y="765.6" width="66.8" height="93" fill="none" stroke="#7272c8" stroke-width="1.5"/>
<text x="541.9" y="794.6" font-size="15" font-weight="bold" textLength="29" lengthAdjust="spacingAndGlyphs">0.54</text>
<g>
<path d="M711 886.4L698 886.2L695 885L692.5 883L690.2 879.4L689.4 874.9L690.7 870.4L693 867.3L695 865.8L697.5 864.7L703.5 864.2L729.5 865L791 864.7L797 865.7L802 868.1L805.8 871.4L807.4 874.9L806.5 878.4L803.2 881.9L798 884.7L792.5 886L783.5 886.3L729 885.8L711 886.4Z" fill="#3c3cff" filter="url(#spkA)"/>
<path d="M716 884.4L702 884.8L698.5 884.6L696 883.7L692.9 880.9L691.4 877.4L691.3 873.9L692.6 870.4L694.5 868.2L696.5 866.9L699 866.1L702 865.9L712.5 865.9L730.5 867L788.5 866.6L794 867.2L798 868.7L801.6 871.4L803.2 874.9L802.6 877.9L800 880.9L796 883L791.5 884L781.5 884.2L731 883.8L716 884.4Z" fill="#1e1eff" filter="url(#spkB)"/>
<path d="M711.5 883.4L699.5 883.4L697.5 883L695.6 881.9L693.4 879.4L692.5 876.4L692.7 873.4L694.1 870.4L696 868.6L698 867.6L705 867.1L713.5 867.2L730.5 868.5L776 867.9L787.5 868.2L792.5 868.7L796.5 870.1L799.3 872.4L800.3 874.9L799.9 877.4L797.8 879.9L794.5 881.6L790.5 882.4L779 882.7L731 882.3L711.5 883.4Z" fill="#0808ff" filter="url(#spkC)"/>
<path d="M710.5 882.4L700 882.4L696.5 881.3L694.6 879.4L693.6 876.9L693.6 873.9L694.6 871.4L696.5 869.5L698.5 868.6L705.5 868.1L713.5 868.2L732 869.9L778 869.2L789 869.8L793 870.5L796.5 872.4L797.9 874.9L797.3 877.4L795.5 879.2L793 880.3L789 881L752.5 881.3L731.5 880.9L710.5 882.4Z" fill="#0038ff"/>
<path d="M709.5 881.4L700 881.4L697 880.4L695.2 878.4L694.5 876.4L694.6 873.9L695.5 871.9L697 870.4L699 869.6L707 869L714 869.2L726 871L732.5 871.4L762 871.2L777.5 870.6L791.5 872L794.1 873.4L795.1 875.4L794.5 876.9L793 878.2L787.5 879.4L778 879.8L769 879.4L752 879.9L732 879.4L709.5 881.4Z" fill="#0090ff"/>
<path d="M711.5 880.4L704.5 880.8L698.5 880.2L697 879.3L695.7 877.4L695.3 875.4L695.7 873.4L697 871.5L699 870.5L710.5 869.9L716 870.3L728 872.7L733.5 873.1L751 872.5L763.5 872.7L777.5 871.8L788.5 873.5L790.7 874.4L791.3 875.4L790.7 876.4L788.5 877.3L778.5 878.5L768.5 877.8L751 878.5L733.5 877.7L711.5 880.4Z" fill="#00e0f0"/>
<path d="M706.5 879.9L700 879.6L698 878.9L696.6 877.4L696.2 875.9L696.9 872.9L698.5 871.6L700 871.2L712.5 870.8L722.3 872.9L726 874.4L726.8 875.4L724.9 876.9L721 878.1L706.5 879.9ZM779 876.4L775 876.5L773.3 875.9L772.5 874.9L775 873.6L778 873.6L780.5 874.9L780.1 875.9L779 876.4ZM754 875.9L750.5 876.1L749.2 875.4L752.5 874.9L754.6 875.4L754 875.9Z" fill="#18ff80"/>
<path d="M709 878.9L703.5 879L699 878.4L697.2 876.4L697.4 873.9L698.5 872.7L700 872.2L710.5 871.5L717 872.6L720.3 873.9L721.4 874.9L721.3 875.9L719 877.1L709 878.9Z" fill="#90ff10"/>
<path d="M710 877.9L704.5 878.2L700 877.6L698.5 876.7L698.1 874.9L698.7 873.9L700 873.2L708.5 872.3L714.1 872.9L716.7 873.9L717.7 874.9L717.2 875.9L716 876.6L710 877.9Z" fill="#ffe000"/>
<path d="M708.5 877L703.2 876.9L701.4 876.4L700.3 875.4L702.5 874L706.5 873.5L711.5 873.7L713.7 874.9L712.5 876.1L708.5 877Z" fill="#ff7000"/>
<path d="M709.5 875.9L705.5 876.3L703.5 875.9L703 875.4L703.5 874.8L706 874.3L709.5 874.4L710.7 874.9L710.6 875.4L709.5 875.9Z" fill="#ff2000"/>
<path d="M761.5 865.6h0M706.2 865.1h0M792.8 863.3h0M706.1 866.4h0M727.3 884.2h0M772.9 884h0M693 865.9h0M745.9 887.5h0M799.9 884.3h0M800.5 867.4h0M705.9 887.4h0M719.1 885.6h0M703.5 864.2h0M728.4 867.2h0M711.6 884.5h0M801.5 882.7h0M792.2 885.5h0M774.6 883.9h0M786.5 864.1h0M696.4 867.7h0M696.3 883.3h0M716.1 885.8h0M798.5 881.3h0M753.6 867.4h0M700.7 866h0M691.6 875.1h0M747.1 867h0M779.9 866.2h0M776.3 866.1h0M769.5 884.7h0M744.5 867.4h0M802.4 877.5h0M794.9 867.7h0M749.4 866.7h0M708.7 866.3h0M761 865.3h0M801.3 873h0M719.4 886h0M731.8 884.4h0M795.1 866.2h0M713.9 865h0M748.8 883.7h0M799.8 867.9h0M706.6 866.2h0M790.8 865.2h0M770.4 867.2h0M805.1 871.6h0M791.1 863.2h0M708.8 865.9h0M761.6 884.1h0M767.7 867h0M791.5 867.6h0M767.9 883.5h0M751.7 884.4h0M735.5 866.2h0M724.1 886.7h0M791.1 887.6h0M700.7 864h0M800 883.3h0M801.1 884.3h0M784.4 885.8h0M702.2 865.1h0M753 884.8h0M727.7 884.3h0M759.7 866h0M702.9 864.8h0M741.2 884.6h0M776.5 866h0M739.6 884h0M778.3 865.6h0M714.1 865.4h0M784.8 867.3h0M729.2 884.4h0M759.8 864.5h0M798.9 869.7h0M782.9 866.1h0M714.3 865.5h0M751.7 884.8h0M694.9 885.9h0M721.2 866.1h0M809 876.7h0M712.2 885.4h0M710.6 862.9h0M774.1 864.5h0M724.5 884.1h0M809 872.4h0M806.2 869h0M760.1 884.4h0M744.4 884.4h0M709.5 863.3h0M736.8 883.5h0M708.8 864.2h0M802.8 878.3h0M722.5 885.2h0M769.5 885.5h0M775.2 885.4h0M784.1 864.4h0M790.3 865.2h0M790.3 866h0M772.1 887.1h0M713.7 865.2h0M805.8 877.8h0M769.3 864h0M787 883.7h0M754.3 863.3h0M763.8 886h0M754.3 883.2h0M747.3 865.4h0M749.8 884.4h0M780.9 865.8h0M692.5 871.7h0M732.6 864.4h0M700.6 884.7h0M730.5 864.5h0M795.3 868.7h0M729 866.5h0M769.7 885.9h0M793.6 883.9h0M713.7 884.2h0M793.4 865.5h0M780.6 864.7h0M695.3 884.8h0M690.8 871.5h0M691.6 871.2h0M694.2 865.1h0M748 864.7h0M703.7 864.1h0M771.8 887.3h0M800.3 882.7h0M737.3 887.5h0" stroke="#2a2aff" stroke-width="1.2" stroke-linecap="round" stroke-opacity="0.75"/>
<path d="M800.4 873.9h0M774.9 880.7h0M733.6 870.1h0M756.7 881.7h0M787.1 868.6h0M692.5 874.4h0M790.1 870.3h0M753.6 881.5h0M715.6 866.7h0M798.3 879.7h0M797.7 869.8h0M712 867.5h0M703.9 868.4h0M797.1 877.9h0M761.4 867.5h0M762.9 868.3h0M786.4 869.5h0M720.9 881.8h0M734.5 869.3h0M759.3 881.5h0M793 868h0M800 873.7h0M767.9 867.5h0M719 867h0M766.8 868.9h0M701 882.7h0M734.3 880.6h0M796.9 876.7h0M781.6 868.7h0M770.5 881.8h0M777.7 867.3h0M800.3 878.4h0M801.9 878.2h0M780.4 868.5h0M790.4 881.9h0M735.5 869.2h0M730 867.6h0M730.3 869.1h0M769.1 882.3h0M715.7 867.5h0" stroke="#4a7aff" stroke-width="1.1" stroke-linecap="round" stroke-opacity="0.9"/>
</g>
<path d="M776.3 839.1h0M793.4 819.8h0M770.2 845.8h0M758.7 811.2h0M762.1 803.5h0M741.5 845.1h0M766.9 778.7h0M805.9 810.4h0M762.9 825.3h0M782.7 800.9h0M790.2 832.1h0M766.7 849.8h0M795.4 832.8h0M803.2 826.7h0M789.1 791.5h0M793.2 786.9h0M801 814.4h0M753.4 833.2h0M793.9 799.1h0M788.2 813h0M786.4 776.9h0M796.2 792.6h0M749.7 841.1h0M748.1 801.1h0M770 848.5h0M789.1 797.1h0M798.7 855h0M805.4 799.4h0M796.5 808.1h0M799.2 792.1h0M784.6 856.5h0M770.6 831h0M788.9 774.8h0M794.1 830h0M798.2 779.2h0M774.2 795.1h0M765.1 820.5h0M802.9 787.8h0M800.1 795h0M753.3 840.9h0M800.2 846.2h0M771.9 810.1h0M766.5 797.1h0M755.4 841.9h0M791.4 811.6h0M806.3 839.4h0M781.5 792.6h0M787.2 834.9h0M802.8 827.7h0M768.2 844.5h0M779.9 796.7h0M796.7 851.6h0M779.2 841.1h0M774 846.9h0M790.3 786h0M779.2 815.2h0M771 795.3h0M784.8 843.9h0M768.4 822.7h0M772.1 805.4h0M797 850.9h0M795 836.1h0M781.6 848h0M790.3 814.5h0M765.8 795.3h0M795.3 824.9h0M792.9 813.9h0M755.2 816.5h0M799.1 828.6h0M780.6 829.9h0M790.4 822.1h0M782.4 844.4h0M787 848.3h0M783.6 806h0M792.4 799.6h0M779.6 835.3h0M774.5 795.4h0M764.5 823.6h0M806.5 845.4h0M789.4 824.7h0M799.6 790.2h0M778.5 808h0M800.1 822.8h0M775.2 824.5h0M801.6 832.3h0M747.4 782.2h0M775.3 815.2h0M792.7 822.3h0M782.2 809.6h0M771.5 814.7h0M779.2 814.5h0M796.9 790h0M784.7 786.2h0M791.7 812.1h0M785.2 809.6h0M764.5 794.8h0M768.5 780.7h0M800.9 822.9h0M790.5 821.9h0M786.3 782.3h0M770.2 798.9h0M778.8 861.9h0M746.6 792.1h0M795.2 841.9h0M787.5 815.8h0M795.9 854.8h0M758.8 836.3h0M770.4 860.5h0M799 782.8h0M796.7 815.6h0M771.2 814.6h0M780.8 826.7h0M804.3 824.5h0M796.1 827.2h0M774.8 786h0M776.6 844.7h0M787.2 804.9h0M793.4 797h0M779.1 783.9h0M783.2 826.8h0M776.7 832.3h0M793.6 813.1h0M758.7 819.3h0M804.5 842.5h0M790.4 853h0M788.1 813.8h0M768.6 781.3h0M778 816.6h0M771.2 852.6h0M803.5 789h0M769.4 797.4h0M802.2 831h0M788.6 803.2h0M791.9 832.8h0M771.7 797.4h0M792.5 857h0M788 843.5h0M792 782.2h0M772.6 857h0M758.2 832.6h0M770.5 825.3h0M757.3 794.4h0M783.4 796.5h0M772 798.8h0M792.1 858.5h0M760.6 777.8h0M791.6 815.4h0M770.4 814.7h0M779.5 786.5h0M774.9 812.6h0M795.1 801.7h0M783.3 842.7h0M797.4 836.4h0M792.4 828.1h0M768.2 820.6h0M797.1 811.1h0M774.8 784.3h0M760.8 794.5h0M787.3 795.9h0M791.5 831.9h0M749.4 825.3h0M757.6 806.3h0M786.3 850.7h0M774.2 822.9h0M765.6 833.9h0M789 807.1h0M788.3 858.9h0M761.7 803h0M776.8 851.9h0M774.5 775.3h0M804.4 784.4h0M806.3 810.7h0M754.4 828.6h0M771.2 805.6h0M789.3 815.6h0M750.6 789.6h0M757.2 837h0M798.4 840.6h0M760.6 839.7h0M770.8 806.9h0M763.9 827.5h0M768.3 797.2h0M783.2 861h0M770.2 822.9h0M751.8 799.3h0M772.3 792.8h0M782.5 840.5h0M752 845.7h0M777.7 838.6h0M779.9 821.3h0M773.1 800.6h0M794.7 821.6h0M778.8 838.3h0M789 789.4h0M793.9 823.9h0M782.2 798.2h0M792.3 811h0M784.9 809.9h0M752.6 828.2h0M787.6 851.9h0M782.9 832.8h0M801.7 793.8h0M797 859.9h0M807.1 850.9h0M800.7 799.5h0M760.6 809.7h0M808.5 850.1h0M783.7 852.3h0M749.3 807.8h0M783.5 834h0M766.5 788.3h0M759.2 858.4h0M782.3 813.5h0M769.2 806.4h0M783.4 795.4h0M780.1 859.7h0M770.7 796.5h0M767.9 792.5h0M773.1 859.3h0M756.4 785.1h0M752.6 797.4h0M785.8 779.5h0M745.6 836.6h0M787.6 828.4h0M772.6 816.8h0M782.5 833h0M770.3 805.8h0M763.2 829.4h0M799.9 818.5h0M792.8 809.8h0M794.8 834.8h0M786.9 792.6h0M776.7 848h0M793.6 802.6h0M768 844h0M772.6 814.1h0M781.7 807.8h0M789.6 851.5h0M785.1 800.6h0M777.5 822.6h0M760 841.4h0M756.4 813.9h0M770.3 858.9h0M760 781.1h0M803.7 835.7h0M772.5 803.8h0M785.2 830.1h0M777.3 818.8h0M794.5 855h0M804.2 853.6h0M802.2 848.8h0M794.7 818.4h0M756.4 822h0M764.5 840h0M746.1 845h0M773.5 821.1h0M773.8 805.2h0M787.1 812h0M795 794.2h0M786.8 807.8h0M757.4 823.9h0M769.1 810.8h0M774.3 796.7h0M794.8 858.5h0M764.3 848.9h0M776.4 815h0M766.9 854.3h0M789.7 850.4h0M800.8 838.4h0M756.2 842.8h0M766.9 804.5h0M772.5 812.2h0M742.9 785.9h0M789.3 812.4h0M763.1 837.1h0M786.1 779.4h0M771.3 833.3h0M789.8 829.8h0M771.6 828.7h0M788.7 819h0M799.9 832.4h0M792.3 788.7h0M799.9 822.5h0M783.8 806.7h0M799.4 826.7h0M778.7 848.3h0M792.7 786.5h0M788.9 857.2h0M790 784.7h0M762.3 795.5h0M787 838.6h0M799.2 818.8h0M802.7 791.4h0M772.6 788.9h0M773.8 805.7h0M773.5 846h0M768.4 843.3h0M775.8 816.7h0M773.2 793.6h0M783.2 816h0M801.5 851.5h0M764.7 850.4h0M781.7 816.1h0M806.8 805.9h0M786.5 829.9h0M787.7 848.8h0M763.2 852.1h0M791.4 800.9h0M763.3 780.3h0M795.2 783.8h0M763.3 846.5h0M779.3 833.7h0M773.7 840h0M772.7 784.8h0M761.4 794.8h0M784.6 782.3h0M793.4 848.5h0M791 811.6h0M775.5 787.1h0M756.2 785.4h0M806.4 845.9h0M799 809.7h0M777.3 823.6h0M764.9 833h0M785.9 789.4h0M774.5 801.3h0M788.5 806.6h0M796.3 816.1h0M797.5 824.3h0M781.6 785.9h0M794.5 830.9h0M807.9 778h0M746.8 847.2h0M769.5 837.4h0M787 837.7h0M781 780.5h0M784.8 780.5h0M783.7 804.2h0M800.4 813.6h0M779.2 808.3h0M775 809.1h0M771.6 855.7h0M784.7 816.9h0M801.5 798.4h0M791.6 773h0M765.7 820.9h0M752.1 796.1h0M795.2 852h0M776.7 808.3h0M801.6 838.3h0M780.6 828.9h0M774 847.1h0M777.7 801.1h0M796.4 818.9h0M775.4 776.7h0M782.1 811.2h0M803.2 859.2h0M771.9 777.6h0M796.6 790h0M784.1 792.9h0M768.2 794.2h0M748.2 809.2h0M804.9 851.1h0M790.2 807.2h0M791.4 801.1h0M785.2 834.7h0M769.1 824.4h0M750.4 819.4h0M759.7 852.8h0M768.5 841.3h0M782.7 806h0M769.7 810.8h0M781.9 837h0M785.5 801h0M788 804.3h0M790.1 822.9h0M801.1 827.5h0M795.2 806.4h0M794 801.6h0M782.3 780.8h0M700.3 851.8h0M725 865.1h0M695.3 817.1h0M715.5 865h0M723.5 819.2h0M732.3 846h0M729.8 838.9h0M727.1 842.9h0M700.7 851.4h0M693.3 838.4h0M690.2 832.9h0M697.9 840.7h0M717.1 864.5h0M693.5 846.8h0M725.1 861.6h0M716.1 833.6h0M721.8 837.3h0M721.7 834h0M723.7 862.7h0M694.7 821h0M705 827.1h0M693.5 838.7h0M701.2 858.9h0M705.5 834.7h0M703.8 817.1h0M707.1 861.4h0M716.2 855.5h0M699.2 818.6h0M725.4 859.1h0M706.2 859.2h0M692.4 861h0M715.8 823h0M713.1 815.7h0M704.1 851h0M722 847.4h0M696.6 864.5h0M727.1 849.2h0M714.3 849.5h0M708.5 825.1h0M701.1 849.4h0M692.1 849.6h0M696.5 864.7h0M692.4 862.2h0M719 851.3h0M699.7 817.9h0M735.6 844.5h0M696.5 810.7h0M731.3 854.4h0M700.1 857.5h0M722.4 820.3h0M725.6 847.9h0M698.8 853.7h0M703.1 853.7h0M693.3 836.6h0M690.1 852.1h0M696.8 843.2h0M720.3 836.3h0M711.9 818.4h0M703.4 856.7h0M699.9 855.8h0" stroke="#8c8cff" stroke-width="1.6" stroke-linecap="round" stroke-opacity="0.65"/>
<rect x="677" y="748.4" width="145" height="143.8" fill="none" stroke="#959595" stroke-width="1.5"/>
<path d="M677 757.4h-2.2M677 786.4h-2.2M677 819.4h-2.2M677 849.4h-2.2M677 874.9h-2.2M677 887.4h-2.2M697 892.2v2.2M722 892.2v2.2M772 892.2v2.2M802 892.2v2.2" stroke="#8c8c8c" stroke-width="1.1"/>
<rect x="674.8" y="873.9" width="2.2" height="2.5" fill="#555"/>
<rect x="693" y="892.2" width="4" height="1.6" fill="#555"/>
<rect x="741.7" y="765.6" width="66.8" height="93" fill="none" stroke="#7272c8" stroke-width="1.5"/>
<text x="697.5" y="794.6" font-size="15" font-weight="bold" textLength="29" lengthAdjust="spacingAndGlyphs">1.74</text>
<g>
<path d="M1064.6 570.5L1057.6 570.4L1055.1 569.9L1052.1 568.2L1049.8 565.5L1048.4 561.5L1048.6 558L1050.3 554.5L1053.1 551.9L1056.6 550.6L1064.1 550.3L1093.6 551.3L1136.6 551.6L1143.1 552.7L1148.6 554.7L1152.6 557.5L1153.9 560L1153.8 561.5L1152.9 563L1149.6 565.5L1144.1 567.7L1138.1 568.9L1128.1 569.5L1093.6 569.5L1064.6 570.5Z" fill="#3c3cff" filter="url(#spkA)"/>
<path d="M1075.6 568.5L1059.1 568.9L1054.6 568L1052 566L1050.3 563L1049.9 559.5L1050.8 556.5L1052.6 554.1L1054.6 552.7L1056.6 552.1L1059.6 551.9L1069.6 551.9L1105.1 553.9L1135.6 554.2L1139.6 554.7L1143 556L1145.7 558L1146.8 560L1146.2 562L1144.1 563.8L1140.6 565.3L1136.1 566.2L1099.1 567L1075.6 568.5Z" fill="#1e1eff" filter="url(#spkB)"/>
<path d="M1072.1 567.5L1058.1 567.8L1055.1 567.1L1052.6 565.1L1051.3 562.5L1051 560L1051.8 557L1053.6 554.7L1056.1 553.3L1066.1 553L1115.6 557L1126.1 557.2L1136.6 556.3L1140.5 557.5L1141.6 558.5L1142.2 560L1141.6 561.5L1140.5 562.5L1136.1 563.9L1125.6 563.7L1106.1 564.4L1072.1 567.5Z" fill="#0808ff" filter="url(#spkC)"/>
<path d="M1072.1 566.5L1060.6 566.9L1055.6 566.3L1053.8 565L1052.4 563L1051.9 560.5L1052.3 558L1054.1 555.5L1056.6 554.2L1066.1 553.9L1078.1 554.9L1096.6 557.7L1100.7 558.5L1103.6 560L1103.7 560.5L1102.6 561.3L1098.5 562.5L1083.6 565.2L1072.1 566.5ZM1135.1 561.5L1133 561L1132.5 560.5L1132.7 559.5L1135.6 558.6L1137.8 559.5L1137.8 560.5L1137.2 561L1135.1 561.5Z" fill="#0038ff"/>
<path d="M1064.1 566L1057.6 565.9L1054.5 564.5L1053.2 562.5L1052.8 560.5L1053.1 558.5L1054.3 556.5L1056.1 555.3L1058.1 554.8L1071.6 555.2L1085.2 557.5L1089.9 559L1091.3 560L1091.1 561L1089.4 562L1083.1 563.8L1074.1 565.3L1064.1 566Z" fill="#0090ff"/>
<path d="M1068.1 565L1059.1 565.2L1056.1 564.7L1054.6 563.5L1053.8 562L1053.5 560L1053.9 558.5L1055.1 556.8L1057.1 555.7L1065.6 555.6L1078.6 557.3L1082.8 558.5L1085.1 560L1085.2 560.5L1084.4 561.5L1080.7 563L1075.1 564.2L1068.1 565Z" fill="#00e0f0"/>
<path d="M1063.6 564.5L1057.6 564.4L1055.6 563.5L1054.3 561L1054.3 559.5L1055 558L1056.1 557L1057.6 556.4L1066.6 556.4L1076.1 557.9L1079.2 559L1080.4 560L1080.2 561L1079.7 561.5L1076.1 562.9L1070.1 564L1063.6 564.5Z" fill="#18ff80"/>
<path d="M1066.6 563.5L1057.1 563.5L1055.2 561.5L1055.3 559L1056.1 557.9L1057.6 557.2L1064.1 557.1L1072.1 558.1L1074.9 559L1076.2 560L1076.1 561L1074.4 562L1066.6 563.5Z" fill="#90ff10"/>
<path d="M1062.6 563L1056.9 562.5L1055.8 561L1056.2 559L1058.1 557.9L1064.1 557.9L1069.1 558.5L1072.5 560L1072.3 561L1070.1 562L1062.6 563Z" fill="#ffe000"/>
<path d="M1062.6 562L1057.6 561.7L1056.9 561L1056.8 560L1058.1 558.9L1062.6 558.8L1067 559.5L1068.1 560.5L1066.4 561.5L1062.6 562Z" fill="#ff7000"/>
<path d="M1064.1 561L1060.1 561.2L1058.1 561L1057.6 560.5L1058.1 559.8L1062.3 559.5L1064.8 560L1065.2 560.5L1064.1 561Z" fill="#ff2000"/>
<path d="M1103.3 553.8h0M1102.9 568.9h0M1111.3 554.6h0M1142 563.3h0M1096.1 568.7h0M1062.6 568.6h0M1159.9 557.6h0M1149 557h0M1050.9 554.5h0M1143.5 556.5h0M1117.7 549.5h0M1141.4 564.7h0M1127.1 553.6h0M1118.1 553.1h0M1131.5 553.6h0M1078.9 569.8h0M1093.1 552.9h0M1092.8 567.6h0M1141.5 563.8h0M1146.5 560.3h0M1057.3 552.6h0M1114.7 568.7h0M1144.5 559.3h0M1136.8 554.1h0M1088.3 553.2h0M1128.9 570.1h0M1137.7 553h0M1149.7 558.1h0M1128.2 566.4h0M1128.1 570.1h0M1072.3 568.2h0M1149.3 552.1h0M1127.7 568.3h0M1148.6 560.2h0M1073.5 570.8h0M1060.1 569.6h0M1056.3 552.5h0M1118.7 552.5h0M1148.6 560.2h0M1115.6 551.6h0M1143.8 564.5h0M1106.9 554.9h0M1077.9 570h0M1086 568.1h0M1054.4 552.9h0M1118.6 550h0M1109.6 552h0M1058.9 569.1h0M1102.6 565.9h0M1068.9 550.9h0M1087.5 568.7h0M1124.5 553.6h0M1103.6 566.6h0M1072.5 568.7h0M1050.9 556.3h0M1121.5 571.6h0M1142.8 567.1h0M1129.1 552.1h0M1100.1 550.6h0M1072.6 550.2h0M1075.2 552.4h0M1085.4 567h0M1108.6 570.1h0M1061.4 551.8h0M1078.9 568.6h0M1116.3 567.9h0M1070.4 550.8h0M1109.3 552.5h0M1089.7 552.7h0M1116.6 566.6h0M1144 559.7h0M1146.7 556h0M1114.9 566.5h0M1095.6 568.8h0M1133.8 552.3h0M1124 554.2h0M1049.9 564.7h0M1135.2 565.5h0M1059.3 571.4h0M1086.1 551.2h0M1134.2 570.3h0M1127.1 565.7h0M1128.3 568.3h0M1050.6 562.2h0M1070.4 552.5h0M1052.1 566.3h0M1067.9 568.3h0M1138.4 568.2h0M1150.6 553.7h0M1144.3 553.5h0M1105.6 554.7h0M1143.4 561.8h0M1113.8 569.1h0M1142.8 570.5h0M1141.4 567.2h0M1132.7 566.6h0M1066.4 569.2h0M1118.7 565.8h0M1076.3 567.8h0M1067.9 551.8h0M1150.1 552h0M1123.1 565.2h0M1144.5 556.6h0M1146 559.1h0M1133.7 552.4h0M1153.2 555.9h0M1091.3 568.1h0M1084.2 552.8h0M1117.8 553.6h0M1137.7 570.8h0M1072.2 568.1h0M1075.5 569.9h0M1129.8 549.3h0M1154.7 560.5h0M1151.3 564h0M1104.4 567h0M1070.2 569.7h0M1131.5 565.7h0M1148 565h0M1141.9 556.6h0" stroke="#2a2aff" stroke-width="1.2" stroke-linecap="round" stroke-opacity="0.75"/>
<path d="M1130.1 557h0M1121.6 559.8h0M1136.6 560.1h0M1117 559.9h0M1137.2 558h0M1104.8 561.2h0M1094.7 555.6h0M1065.7 568.1h0M1052.9 564.3h0M1052.9 556.6h0M1121.2 563h0M1144.1 560.7h0M1099.2 554h0M1101 559.3h0M1090.1 566.4h0M1062 567.8h0M1091.4 554.9h0M1085.2 567.3h0M1063.8 554h0M1098.2 558.4h0M1104.6 554.8h0M1054.6 554.8h0M1106.9 560.2h0M1128.3 564.3h0M1124 565.8h0M1079.9 565.7h0M1103 566.9h0M1102.1 555h0M1135.6 563.2h0M1130.1 554.5h0M1098.1 562.4h0M1102.2 554.9h0M1108.8 558.9h0M1138.5 561.9h0M1054.9 566.8h0M1103.1 565h0M1130.4 560.3h0M1132.6 557.9h0M1062.5 566.8h0M1091.8 556.5h0" stroke="#4a7aff" stroke-width="1.1" stroke-linecap="round" stroke-opacity="0.9"/>
</g>
<path d="M1104.2 526.6h0M1130.1 480.1h0M1123.8 540.8h0M1054 501.2h0M1048.7 508.8h0M1081.8 507.3h0M1082.3 533.4h0M1076.5 493.9h0M1071.8 525.3h0M1047.1 547.1h0M1076.8 545.6h0M1089.7 536.5h0M1057.1 506.5h0M1066.4 531.5h0M1060.4 541.5h0M1075.7 545h0M1054.9 535.5h0M1059.3 538.2h0M1059.3 530.2h0M1068.4 548.7h0M1057 553.4h0M1053.5 519.2h0M1047.9 506.4h0M1083.6 511.4h0M1069.7 525.2h0M1051.8 527h0M1056.9 502h0M1072.2 548.4h0M1071.8 523.9h0M1052.6 522.5h0M1089.6 530.5h0M1083.3 522.4h0M1083.8 547.2h0" stroke="#8c8cff" stroke-width="1.6" stroke-linecap="round" stroke-opacity="0.65"/>
<rect x="1033.6" y="436" width="145" height="143.8" fill="none" stroke="#959595" stroke-width="1.5"/>
<path d="M1033.6 445h-2.2M1033.6 474h-2.2M1033.6 507h-2.2M1033.6 537h-2.2M1033.6 562.5h-2.2M1033.6 575h-2.2M1053.6 579.8v2.2M1078.6 579.8v2.2M1128.6 579.8v2.2M1158.6 579.8v2.2" stroke="#8c8c8c" stroke-width="1.1"/>
<rect x="1031.4" y="561.5" width="2.2" height="2.5" fill="#555"/>
<rect x="1049.6" y="579.8" width="4" height="1.6" fill="#555"/>
<rect x="1098.3" y="453.2" width="66.8" height="93" fill="none" stroke="#7272c8" stroke-width="1.5"/>
<text x="1054.1" y="482.2" font-size="15" font-weight="bold" textLength="29" lengthAdjust="spacingAndGlyphs">0.00</text>
<g>
<path d="M1277.6 570.5L1258.6 569.6L1221.6 570.5L1211.6 570.2L1208.1 568.9L1205.5 566.5L1203.7 563L1203.4 559L1205.3 554.5L1207.1 552.6L1209.1 551.4L1212.6 550.4L1220.6 550.2L1248.6 551.1L1284.1 551.1L1294.6 551.6L1300.6 552.6L1305.6 554.4L1309.6 557L1311.2 559.5L1310.9 562L1309.3 564L1306.1 566.1L1302.1 567.7L1294.6 569.2L1277.6 570.5Z" fill="#3c3cff" filter="url(#spkA)"/>
<path d="M1219.1 569L1211.1 568.6L1208.1 567.1L1206.2 565L1205 562L1205 559L1206.4 555.5L1208.6 553.3L1212.6 551.9L1220.6 551.8L1233.6 552.1L1252.1 553.5L1291.6 554.1L1296.6 554.7L1300.6 555.9L1303.6 557.9L1304.6 560L1304.3 561.5L1303.2 563L1298.6 565.4L1293.6 566.6L1278.6 568.7L1274.1 568.6L1266.1 567.3L1259.1 567.2L1219.1 569Z" fill="#1e1eff" filter="url(#spkB)"/>
<path d="M1228.1 567.5L1214.6 567.8L1210.1 567L1207.6 565L1206.3 562.5L1206 560L1206.8 557L1209.1 554.3L1212.1 553.1L1229.1 553.1L1252.6 555.3L1266.1 555.3L1292.6 556.4L1298.1 557.7L1299.6 558.8L1300.2 560L1299.2 562L1295.6 563.8L1278.1 567.3L1274.1 567.1L1266.6 565.4L1259.1 565.2L1228.1 567.5Z" fill="#0808ff" filter="url(#spkC)"/>
<path d="M1227.6 566.5L1216.1 566.9L1212.6 566.8L1210.6 566.3L1208.8 565L1207.4 563L1206.9 560.5L1207.3 558L1209.1 555.5L1211.6 554.2L1222.6 553.9L1235.6 554.6L1253.6 557.2L1264.1 557L1285.1 557.8L1293 559L1294.2 559.5L1294.8 560.5L1293.9 561.5L1290.6 562.9L1277.6 565.9L1274.1 565.7L1267.6 563.5L1256.6 563.2L1227.6 566.5Z" fill="#0038ff"/>
<path d="M1219.6 566L1212.6 565.9L1209.6 564.5L1208.2 562.5L1207.8 560.5L1208.1 558.5L1209.4 556.5L1211.1 555.3L1213.1 554.8L1232.1 555.3L1237.6 556L1245.9 558L1248.9 559L1250.4 560L1250.4 560.5L1249.3 561.5L1244.2 563L1230.6 565.2L1219.6 566ZM1277.6 564L1274.1 563.3L1272.7 562L1272.7 561L1275.1 560.1L1279.1 559.7L1282.9 560L1284.9 561L1282.8 562.5L1277.6 564Z" fill="#0090ff"/>
<path d="M1223.6 565L1214.6 565.2L1211.1 564.7L1209.6 563.5L1208.8 562L1208.5 560L1208.9 558.5L1210.5 556.5L1212.6 555.6L1223.6 555.7L1235.6 556.7L1241.3 558.5L1243.5 560L1243.1 561L1242.2 561.5L1238.1 562.8L1231.1 564.2L1223.6 565Z" fill="#00e0f0"/>
<path d="M1219.1 564.5L1213.1 564.4L1211.1 563.8L1209.8 562.5L1209.3 561L1209.3 559.5L1210 558L1211.6 556.7L1213.1 556.4L1227.6 556.7L1235.1 557.8L1237.6 559L1238.3 560L1236.7 561.5L1232.6 562.8L1226.1 563.9L1219.1 564.5Z" fill="#18ff80"/>
<path d="M1222.1 563.5L1212.1 563.5L1210.4 562L1210.1 559.5L1211.1 558L1212.1 557.3L1217.1 557L1229.6 557.9L1232.1 558.5L1233.8 559.5L1233.7 560.5L1231.1 561.8L1222.1 563.5Z" fill="#90ff10"/>
<path d="M1218.1 563L1212.1 562.6L1210.9 561L1211.1 559.2L1212.6 558L1219.1 557.8L1226.6 558.7L1229.5 560L1228.7 561L1225.8 562L1218.1 563Z" fill="#ffe000"/>
<path d="M1218.1 562L1212.6 561.7L1212 561L1211.9 560L1213.1 559L1217.1 558.8L1221.1 559.1L1223.8 560L1223.9 560.5L1222.6 561.2L1218.1 562Z" fill="#ff7000"/>
<path d="M1219.6 561L1215.6 561.3L1212.8 560.5L1213.1 559.9L1214.1 559.7L1217.9 559.5L1220.3 560L1220.6 560.5L1219.6 561Z" fill="#ff2000"/>
<path d="M1296 554.5h0M1261.4 566.2h0M1305.2 563.6h0M1252.8 553.8h0M1306.8 566.4h0M1293.8 553.4h0M1221 570.5h0M1257.3 566.2h0M1251.8 567.3h0M1306.2 562.6h0M1269.8 569.3h0M1302 569.1h0M1292.5 569.7h0M1257.3 551.2h0M1234.8 552.2h0M1270 554.6h0M1253.9 570.6h0M1279 551.2h0M1302.3 551h0M1299.2 564.9h0M1256.2 566.4h0M1245.6 549.8h0M1257.6 567h0M1312.9 564.9h0M1302.5 564.1h0M1214.7 549.5h0M1285.5 554.8h0M1267.4 566.4h0M1312 559.1h0M1247.1 553.4h0M1304.3 560h0M1202.1 562.6h0M1289 552.5h0M1296.1 565.1h0M1302.1 562h0M1258.8 570h0M1304.5 564.7h0M1279.6 568.4h0M1300.5 554h0M1260.8 550.2h0M1224.5 569.9h0M1222.7 552.3h0M1205.2 558.8h0M1238.7 552.8h0M1289.6 551.1h0M1240.2 553.1h0M1217.5 551.8h0M1266.9 553.7h0M1302.9 555.3h0M1243.7 550.4h0M1226.4 551.7h0M1289 553.3h0M1286.6 566.4h0M1270.3 568.8h0M1301.8 562.6h0M1292.6 553.7h0M1247.8 553.9h0M1264 567h0M1297.7 567.2h0M1256.3 571.2h0M1301 562.7h0M1254.7 568.6h0M1273.5 553.9h0M1277.1 571.2h0M1296.8 565.3h0M1283.3 554.8h0M1301.4 566.6h0M1216.2 568.6h0M1233.2 568.6h0M1302 550.6h0M1290 552.1h0M1275.2 551h0M1311.8 559.6h0M1276.9 553h0M1274 569.2h0M1301.3 556.3h0M1267.6 566.8h0M1304.1 564.1h0M1235 568.6h0M1260.2 567.6h0M1238.1 568.7h0M1298.2 566.6h0M1214.4 550.8h0M1243.8 552.7h0M1219.6 552.3h0M1272.4 554h0M1272.6 551.8h0M1306.1 556.2h0M1302.5 560.6h0M1292.2 553.4h0M1284.5 567.6h0M1245.5 553.2h0M1302.7 569.3h0M1265.5 567.5h0M1282.1 554h0M1261.6 549.6h0M1293.2 566.4h0M1255 567h0M1281.3 551.8h0M1236.6 571.6h0M1270.5 553.5h0M1238 568.8h0M1268.6 554.3h0M1282.3 569.4h0M1244.6 552.1h0M1288.6 569.4h0M1224 568.2h0M1242.6 553.7h0M1206.1 555.7h0M1256.4 569.9h0M1288.9 553h0M1278.7 553h0M1267.3 567h0M1204.7 554.7h0M1309.3 557.5h0M1247 566.9h0M1309.8 563.9h0M1279.2 553h0M1273.6 568.1h0M1206.1 563.9h0" stroke="#2a2aff" stroke-width="1.2" stroke-linecap="round" stroke-opacity="0.75"/>
<path d="M1288.9 557.5h0M1241.7 565.4h0M1268.9 555.7h0M1205.9 561.9h0M1265.9 563.4h0M1215.2 553.6h0M1232.7 553.8h0M1270 557.7h0M1283.9 567.4h0M1281.3 565.9h0M1275.3 566.4h0M1247.8 566.4h0M1219.2 568.4h0M1286.6 565.9h0M1234.7 554.1h0M1288.3 557.9h0M1230.4 566h0M1234.8 567.3h0M1229.3 553.9h0M1292.4 562.4h0M1250.1 563.2h0M1272.2 567.4h0M1285.5 555.5h0M1289.9 555.5h0M1291.4 562.3h0M1235.6 553.3h0M1271.9 566.4h0M1265.3 563.9h0M1245.7 566.4h0M1280.7 554.2h0M1240.5 564.6h0M1216.8 552.1h0M1280.5 565.9h0M1265.5 566.2h0M1266.9 565h0M1249.6 565.6h0M1278.2 557.1h0M1246.7 566.2h0M1291.3 557.2h0M1293.8 560.6h0" stroke="#4a7aff" stroke-width="1.1" stroke-linecap="round" stroke-opacity="0.9"/>
</g>
<path d="M1279.7 491.4h0M1278.1 526.1h0M1279.3 503h0M1283.3 532.8h0M1299.4 547.5h0M1205.5 549.4h0M1211.9 502.5h0M1206.9 553.5h0M1246.9 544.3h0M1204.8 517h0M1206.1 544.8h0M1219.6 540.4h0M1236.4 540h0M1228.2 538.6h0M1219.6 533.8h0M1216.6 541.1h0M1226.2 537.6h0M1240.8 509.2h0M1203.1 536h0M1241.1 518.9h0M1224.2 501.8h0M1219.8 494.6h0M1215.1 526.9h0M1213.6 531.9h0M1222.7 526.1h0M1207.6 549.8h0M1226.4 547.3h0M1242.1 547.6h0M1218.8 554h0M1220.5 542.6h0" stroke="#8c8cff" stroke-width="1.6" stroke-linecap="round" stroke-opacity="0.65"/>
<rect x="1188.6" y="436" width="145" height="143.8" fill="none" stroke="#959595" stroke-width="1.5"/>
<path d="M1188.6 445h-2.2M1188.6 474h-2.2M1188.6 507h-2.2M1188.6 537h-2.2M1188.6 562.5h-2.2M1188.6 575h-2.2M1208.6 579.8v2.2M1233.6 579.8v2.2M1283.6 579.8v2.2M1313.6 579.8v2.2" stroke="#8c8c8c" stroke-width="1.1"/>
<rect x="1186.4" y="561.5" width="2.2" height="2.5" fill="#555"/>
<rect x="1204.6" y="579.8" width="4" height="1.6" fill="#555"/>
<rect x="1253.3" y="453.2" width="66.8" height="93" fill="none" stroke="#7272c8" stroke-width="1.5"/>
<text x="1209.1" y="482.2" font-size="15" font-weight="bold" textLength="29" lengthAdjust="spacingAndGlyphs">0.01</text>
<g>
<path d="M1377.1 570.5L1366.6 570.2L1363.6 569.2L1360.9 567L1358.8 563.5L1358.4 559.5L1359.4 556L1362.1 552.6L1366.1 550.7L1372.6 550.3L1402.1 551.2L1453.1 551.1L1460.6 552.1L1466.6 554.1L1471.3 557L1472.6 558.5L1473.1 560L1472.9 561.5L1472.1 563L1468.6 565.7L1462.6 568.1L1456.1 569.4L1445.1 569.9L1403.6 569.7L1377.1 570.5Z" fill="#3c3cff" filter="url(#spkA)"/>
<path d="M1374.6 569L1366.1 568.6L1363.1 567.1L1361.2 565L1360 562L1360 559L1361.4 555.5L1363.6 553.3L1367.1 552L1374.1 551.8L1403.1 553.5L1450.6 553.6L1456.1 554.3L1460.6 555.6L1463.8 557.5L1465.3 560L1464.6 562.3L1462.1 564.3L1458.1 565.9L1452.6 566.8L1407.6 567.3L1374.6 569Z" fill="#1e1eff" filter="url(#spkB)"/>
<path d="M1383.1 567.5L1369.6 567.8L1365.1 567L1362.6 565L1361.3 562.5L1361 560L1361.8 557L1363.6 554.7L1366.1 553.3L1376.1 553L1388.6 553.7L1401.6 555.5L1409.1 556L1423.6 555.4L1433.6 555.9L1450.1 555.8L1453.6 556.3L1456.6 557.4L1458.2 558.5L1458.9 560L1458.4 561.5L1456.6 562.9L1450.6 564.5L1410.6 565.1L1383.1 567.5Z" fill="#0808ff" filter="url(#spkC)"/>
<path d="M1382.6 566.5L1371.1 566.9L1367.6 566.8L1365.6 566.3L1363.8 565L1362.4 563L1361.9 560.5L1362.3 558L1363.6 556L1366.1 554.3L1375.1 553.9L1392.6 555.4L1405.7 558.5L1411.1 560.3L1419.6 558L1423.6 557.5L1427.1 557.8L1435.1 559.7L1444.1 558.4L1448.6 558.2L1451.6 559L1452.3 560L1451.5 561L1448.6 561.7L1435.6 561L1424.1 562.7L1411.6 561.2L1401.1 564.1L1382.6 566.5Z" fill="#0038ff"/>
<path d="M1374.6 566L1367.6 565.9L1364.6 564.5L1363.2 562.5L1362.8 560.5L1363.1 558.5L1364.4 556.5L1366.1 555.3L1368.1 554.8L1375.6 554.8L1383.6 555.4L1394.1 557.3L1398.2 559L1399.9 560.5L1399.7 561.5L1398.6 562.2L1393.1 563.9L1384.1 565.3L1374.6 566Z" fill="#0090ff"/>
<path d="M1378.6 565L1369.6 565.2L1366.1 564.7L1364.6 563.5L1363.8 562L1363.5 560L1363.9 558.5L1365.1 556.8L1367.1 555.7L1377.6 555.7L1390.1 557.5L1393.9 559L1395.1 560.5L1393.8 562L1391.1 563L1378.6 565Z" fill="#00e0f0"/>
<path d="M1374.1 564.5L1368.1 564.4L1366.1 563.8L1364.8 562.5L1364.3 561L1364.3 559.5L1365 558L1367.6 556.4L1377.1 556.4L1386.6 557.9L1389.6 559L1390.8 560L1390.7 561L1390.1 561.5L1386.6 562.9L1381.1 563.9L1374.1 564.5Z" fill="#18ff80"/>
<path d="M1377.1 563.5L1367.1 563.5L1365.4 562L1365.1 559.5L1366.1 558L1367.1 557.3L1373.1 557L1381.9 558L1385.2 559L1386.6 560L1386.5 561L1384.7 562L1377.1 563.5Z" fill="#90ff10"/>
<path d="M1373.1 563L1367.1 562.6L1365.9 561L1366.1 559.2L1367.6 558L1373.6 557.8L1379.2 558.5L1382.8 560L1382.6 561L1380.4 562L1373.1 563Z" fill="#ffe000"/>
<path d="M1373.1 562L1367.6 561.7L1367 561L1366.9 560L1368.1 559L1373.1 558.8L1377.3 559.5L1378.4 560.5L1376.6 561.5L1373.1 562Z" fill="#ff7000"/>
<path d="M1374.1 561.1L1370.1 561.2L1367.8 560.5L1368.1 559.9L1370.8 559.5L1375.1 560L1375.4 560.5L1374.1 561.1Z" fill="#ff2000"/>
<path d="M1367.7 551.5h0M1460.3 569.4h0M1471.6 558.5h0M1462.9 551.1h0M1463.2 562.1h0M1438.5 549.7h0M1407 571.1h0M1410 553.2h0M1376.7 570.5h0M1454.4 553.2h0M1368.4 569.8h0M1407 549.6h0M1444.7 554.1h0M1427.5 554.6h0M1388.4 551h0M1413.1 566.3h0M1422.6 569.4h0M1361.7 552.4h0M1360.6 563.1h0M1433 566.3h0M1464.3 565.9h0M1474.6 563.6h0M1422.4 569.9h0M1426.2 553.4h0M1432.7 569.1h0M1422 553.7h0M1458.3 553.6h0M1380.8 568.4h0M1460.6 558.1h0M1465.3 562.9h0M1423.7 551.8h0M1447.4 568.3h0M1469 564.7h0M1362.7 567.1h0M1389.8 571.5h0M1480 559.9h0M1461.5 562.1h0M1371.4 552.1h0M1407.1 571.2h0M1458.3 567h0M1418.3 570.4h0M1435.5 549.9h0M1417.1 550.1h0M1441.1 553.2h0M1374.5 569.3h0M1373 571.3h0M1439 566.5h0M1428.1 566h0M1442.6 570.6h0M1432.8 570.6h0M1396.6 568.4h0M1458.2 564.8h0M1473.6 556.9h0M1406.6 567.5h0M1463.4 563.9h0M1444.2 566.6h0M1359.8 561.9h0M1406.7 552.4h0M1440.4 551.3h0M1440.4 568.2h0M1445 568.1h0M1445.4 551.2h0M1382.2 552.5h0M1363.8 567.8h0M1466 567.4h0M1449.4 554.7h0M1370.9 569.9h0M1360.7 562h0M1426.9 554.1h0M1418.1 549.5h0M1472.3 561.4h0M1401.9 551.2h0M1399 553.1h0M1416.6 552.4h0M1420.2 566.1h0M1375.1 570h0M1360.7 557.3h0M1380.7 568.3h0M1464.6 564.7h0M1407.9 553.1h0M1452.1 566.1h0M1441.7 566.2h0M1453.1 554.4h0M1424.5 552h0M1419.8 567h0M1467.1 560.4h0M1412.2 567.3h0M1391.5 551.2h0M1464.8 566h0M1416.9 549.4h0M1463.9 560.4h0M1447.7 567h0M1389.2 551.7h0M1427.8 567h0M1406.5 550.2h0M1462.9 562.1h0M1444.9 569.1h0M1440.9 549.1h0M1399.5 550.7h0M1360.6 556.8h0M1408.2 566.5h0M1379.6 550.6h0M1464 558.9h0M1414.6 568.1h0M1403.4 553.1h0M1461.6 556.2h0M1467.4 562.7h0M1462.8 552.3h0M1464.9 558.6h0M1391.8 552.3h0M1424.1 566.8h0M1384.3 570.5h0M1362.8 568.2h0M1410.3 553.4h0M1467.4 559.5h0M1442.7 554.6h0M1412.3 567.1h0M1472.6 560.9h0M1456.5 569.2h0M1416.3 571.3h0" stroke="#2a2aff" stroke-width="1.2" stroke-linecap="round" stroke-opacity="0.75"/>
<path d="M1434.1 567h0M1449.7 563.7h0M1360.7 560.4h0M1403 564.7h0M1415.8 566.3h0M1440.7 561.2h0M1361.9 557.9h0M1455.4 562.5h0M1375.6 554h0M1444.1 560h0M1455.1 555.4h0M1452.4 565.7h0M1400 556.8h0M1399.2 557.4h0M1462.3 562.5h0M1413.7 561.4h0M1413.3 556.1h0M1428.5 560.2h0M1402.7 563.5h0M1463.9 562.7h0M1444.7 558.4h0M1429.5 558h0M1400.4 558h0M1437.4 557h0M1409.9 564.4h0M1435.7 566.6h0M1414.5 562.6h0M1426.5 565.8h0M1384.6 566.5h0M1448 554.8h0M1433 556.4h0M1406.1 566.4h0M1413.4 558h0M1449.4 556.7h0M1364.1 554.4h0M1408.5 554.4h0M1406.5 556.1h0M1444.7 565.2h0M1382 553.9h0M1442.7 558.6h0" stroke="#4a7aff" stroke-width="1.1" stroke-linecap="round" stroke-opacity="0.9"/>
</g>
<path d="M1431.8 541.4h0M1436.1 531.6h0M1447.1 546.2h0M1445.2 530.5h0M1458.1 479.4h0M1378.3 505.1h0M1371.7 507.6h0M1366.6 505.5h0M1364.7 538.4h0M1377.1 534.4h0M1395.5 527.1h0M1378.4 535.7h0M1357.5 553.5h0M1359.1 546.1h0M1365.2 547.8h0M1375.9 511h0M1356.5 496.3h0M1366.7 535.3h0M1361.4 551.4h0M1375 552.8h0M1394.6 539.2h0M1375.9 546h0M1365.1 551.3h0M1381.4 533.8h0M1397.8 547.5h0M1387.6 544.1h0M1358.1 524.6h0M1377.7 541.2h0M1387.3 545.5h0M1360.3 515.1h0M1366 549.3h0M1378.4 551.4h0M1381.2 549.3h0M1393.6 496h0M1360.5 544.7h0" stroke="#8c8cff" stroke-width="1.6" stroke-linecap="round" stroke-opacity="0.65"/>
<rect x="1343.6" y="436" width="145" height="143.8" fill="none" stroke="#959595" stroke-width="1.5"/>
<path d="M1343.6 445h-2.2M1343.6 474h-2.2M1343.6 507h-2.2M1343.6 537h-2.2M1343.6 562.5h-2.2M1343.6 575h-2.2M1363.6 579.8v2.2M1388.6 579.8v2.2M1438.6 579.8v2.2M1468.6 579.8v2.2" stroke="#8c8c8c" stroke-width="1.1"/>
<rect x="1341.4" y="561.5" width="2.2" height="2.5" fill="#555"/>
<rect x="1359.6" y="579.8" width="4" height="1.6" fill="#555"/>
<rect x="1408.3" y="453.2" width="66.8" height="93" fill="none" stroke="#7272c8" stroke-width="1.5"/>
<text x="1364.1" y="482.2" font-size="15" font-weight="bold" textLength="29" lengthAdjust="spacingAndGlyphs">0.01</text>
<g>
<path d="M1543.6 570L1523.1 570.4L1519.1 569.4L1515.9 567L1513.8 563.5L1513.4 559.5L1514.4 556L1516.1 553.6L1518.1 551.9L1520.6 550.8L1523.1 550.4L1533.6 550.4L1560.9 551.5L1593.1 551.7L1601.6 552.6L1607.6 554.3L1612.2 557L1613.4 558.5L1614 560L1613.3 562.5L1610.1 565.3L1605.6 567.3L1600.1 568.6L1590.6 569.2L1559.6 569.4L1543.6 570Z" fill="#3c3cff" filter="url(#spkA)"/>
<path d="M1541.1 568.5L1526.6 569L1522.6 568.9L1520.1 568.3L1517.4 566.5L1515.4 563.5L1514.9 560L1515.8 556.5L1518.1 553.7L1521.1 552.2L1533.6 551.9L1563.1 554L1596.1 555.1L1600.6 555.9L1603.6 557L1605.6 558.5L1606.5 560.5L1605.8 562.5L1604.1 564L1601.6 565.1L1598.6 565.6L1571.6 567L1560.1 567L1541.1 568.5Z" fill="#1e1eff" filter="url(#spkB)"/>
<path d="M1537.6 567.5L1523.1 567.8L1520.1 567.1L1517.6 565.1L1516.3 562.5L1516 560L1516.8 557L1518.6 554.7L1521.6 553.2L1533.1 553.1L1546.1 554.1L1564.1 556.3L1588.6 557.9L1598.1 559.3L1600.2 560.5L1599.9 561.5L1598.1 562.1L1593.1 562.3L1572.1 564.8L1560.1 565L1537.6 567.5Z" fill="#0808ff" filter="url(#spkC)"/>
<path d="M1537.6 566.5L1525.6 566.9L1520.6 566.3L1518.8 565L1517.4 563L1516.9 560.5L1517.3 558L1519.1 555.5L1521.6 554.1L1533.6 554.1L1549.6 555.9L1569.8 561L1565.6 561.2L1547.6 565.4L1537.6 566.5Z" fill="#0038ff"/>
<path d="M1528.6 566L1522.1 565.8L1519.1 564L1518 562L1517.8 560L1518.3 558L1519.6 556.2L1521.1 555.3L1523.1 554.8L1537.6 555.4L1548.6 557.1L1552.4 558.5L1554.3 560L1554.3 561L1553.1 562L1546.6 564.3L1539.6 565.4L1528.6 566Z" fill="#0090ff"/>
<path d="M1534.1 565L1526.1 565.3L1521.6 564.9L1520.1 564L1519 562.5L1518.5 560.5L1518.9 558.5L1520.1 556.8L1522.1 555.7L1530.6 555.6L1544.6 557.3L1548.1 558.5L1549.9 560L1549.5 561.5L1546.1 563.2L1541.6 564.3L1534.1 565Z" fill="#00e0f0"/>
<path d="M1528.6 564.5L1522.6 564.4L1520.6 563.5L1519.3 561L1519.3 559.5L1520 558L1521.1 556.9L1522.6 556.4L1533.1 556.6L1543.6 558.3L1546.1 559.5L1546.6 560.5L1545.4 562L1542.1 563.2L1528.6 564.5Z" fill="#18ff80"/>
<path d="M1532.1 563.5L1522.1 563.5L1520.4 562L1520.1 559.5L1521 558L1522.6 557.2L1529.1 557.1L1539.3 558.5L1542.4 559.5L1543.2 560.5L1542.6 561.5L1540.6 562.3L1532.1 563.5Z" fill="#90ff10"/>
<path d="M1527.6 563L1523.1 562.9L1521.8 562.5L1520.8 561L1521.1 559L1523.1 557.9L1530.1 557.9L1536.3 559L1539.2 560.5L1538.1 561.5L1536.4 562L1527.6 563Z" fill="#ffe000"/>
<path d="M1527.6 562L1522.6 561.7L1521.9 561L1521.8 560L1523.1 558.9L1527.6 558.8L1532.2 559.5L1533.7 560.5L1531.8 561.5L1527.6 562Z" fill="#ff7000"/>
<path d="M1529.1 561.1L1524.6 561.2L1523.1 561L1522.6 560.5L1523.1 559.8L1527.1 559.5L1529.9 560L1530.3 560.5L1529.1 561.1Z" fill="#ff2000"/>
<path d="M1584.8 567.1h0M1612.9 562.6h0M1599.4 567.7h0M1533.2 551.9h0M1560.3 553.8h0M1586.8 565.5h0M1594.2 566.9h0M1598.7 552.9h0M1550.6 567h0M1612.3 561.6h0M1597.8 569.7h0M1603.6 563.5h0M1611.6 555h0M1565 566.3h0M1611.1 564.9h0M1599.2 564.3h0M1528.3 551.4h0M1542 568.3h0M1593.8 564.6h0M1604.5 557.4h0M1569 566.3h0M1559.7 567.7h0M1556.6 552.8h0M1603.3 563.4h0M1577.1 555.6h0M1513.3 562.9h0M1563.7 553.3h0M1579.5 553.7h0M1596.2 569.3h0M1584.8 569.1h0M1556.1 567h0M1601.8 554.6h0M1554.6 550.6h0M1612.6 561.1h0M1518.6 570.4h0M1535.6 570h0M1550.3 552.3h0M1618.2 558.9h0M1545.6 551.9h0M1587.3 555.4h0M1556.9 570h0M1513.7 560.9h0M1542.2 552.5h0M1535.3 571.2h0M1606.1 553.9h0M1583 565.6h0M1600.7 557.6h0M1544.9 568.6h0M1564.4 566.5h0M1537.4 571.3h0M1569.1 566.7h0M1611.1 555.5h0M1581.2 554.4h0M1548.7 568h0M1601.8 565.8h0M1567.2 552.1h0M1599.2 564.6h0M1577.3 567.1h0M1582.5 565.6h0M1575.3 555.1h0M1539.3 570.1h0M1566.3 553.6h0M1614.7 557.3h0M1616.6 562.7h0M1545.1 568.8h0M1607 560.7h0M1590.2 553.5h0M1608.9 560.5h0M1601.7 566.1h0M1564.6 570.4h0M1551.7 553.9h0M1594 567.5h0M1527 552h0M1548.8 552h0M1591 567.7h0M1536.7 550.6h0M1588.7 564.8h0M1578 570.7h0M1563.7 567.4h0M1615.2 559.2h0M1577.4 555.3h0M1575.6 553.5h0M1595 569.9h0M1526.4 551.6h0M1585.7 569.4h0M1607 552.9h0M1607.3 561.5h0M1602.7 566.7h0M1608.9 555h0M1514.2 555h0M1555.1 566.4h0M1586 566.8h0M1568.9 570.1h0M1535 551.4h0M1601.2 569.1h0M1605.9 553.1h0M1578.7 566.5h0M1577.8 555.6h0M1591.3 567.4h0M1558.7 551.4h0M1562 566.5h0M1569.9 551.2h0M1614 560.2h0M1584.3 554.9h0M1558.1 550.7h0M1554.7 552.8h0M1571.9 553h0M1613.1 560h0M1517.1 553.8h0M1523.1 570.8h0M1596.8 566.3h0M1596.5 564.6h0M1595 566.9h0M1587 567.7h0M1560.2 571h0M1605.1 556.5h0M1579.4 552h0M1517.9 567.1h0M1585.4 570.6h0M1515.8 562.6h0" stroke="#2a2aff" stroke-width="1.2" stroke-linecap="round" stroke-opacity="0.75"/>
<path d="M1566.5 557.2h0M1578.3 561.8h0M1561.7 565.4h0M1570.9 560.1h0M1571.2 561h0M1530.9 568.2h0M1604.9 558.2h0M1562.3 558.6h0M1548.7 555.8h0M1570.1 565h0M1597.4 556.4h0M1535.1 554.4h0M1597.1 557.2h0M1579.2 560.5h0M1577 562.9h0M1571.2 558.2h0M1549.7 554.6h0M1578.1 556.5h0M1588.4 564.5h0M1558.1 563.2h0M1595.9 556h0M1550.2 565.3h0M1527.1 551.9h0M1563.6 559h0M1555.5 564.5h0M1577.9 559.6h0M1571 556.6h0M1577.6 558.1h0M1524.7 554h0M1557.6 564h0M1580.8 556.7h0M1586.2 560.6h0M1554.2 555.6h0M1593 561.4h0M1579.1 562.6h0M1574.8 560h0M1579.4 563h0M1597.1 556.2h0M1563.2 564.1h0M1519.9 566.4h0" stroke="#4a7aff" stroke-width="1.1" stroke-linecap="round" stroke-opacity="0.9"/>
</g>
<path d="M1596 502.6h0M1585.8 505.4h0M1577.4 544.3h0M1543.5 547.8h0M1550.1 525.7h0M1548.4 497.3h0M1522.7 549.1h0M1544.8 530.7h0M1557.2 543.8h0M1513.1 527.5h0M1533.7 547.5h0M1524.7 500.8h0M1535.4 527.9h0M1542.5 545h0M1518.9 507.2h0M1533.3 521.3h0M1548.8 522.6h0M1528.3 539.2h0M1550.4 548h0M1542.1 547.4h0M1513.3 519.7h0M1531.5 500.7h0M1511.6 532.3h0M1544.9 527.2h0M1552.1 539.2h0M1527.9 526.7h0M1527.6 520.1h0M1530 515.7h0M1546.2 550.2h0M1529.2 529h0M1512.9 529h0M1527.1 511.3h0M1520.6 534.1h0M1557.5 547h0M1551.8 523.5h0M1522 544h0M1543.4 544.1h0M1550 537.6h0M1537.8 540.7h0M1511.4 551h0M1536.2 548.4h0M1548.3 543h0M1532.1 542.6h0M1523.8 529.9h0M1532.3 520h0M1526.5 510.9h0M1529.6 527.9h0M1551.7 524.7h0" stroke="#8c8cff" stroke-width="1.6" stroke-linecap="round" stroke-opacity="0.65"/>
<rect x="1498.6" y="436" width="145" height="143.8" fill="none" stroke="#959595" stroke-width="1.5"/>
<path d="M1498.6 445h-2.2M1498.6 474h-2.2M1498.6 507h-2.2M1498.6 537h-2.2M1498.6 562.5h-2.2M1498.6 575h-2.2M1518.6 579.8v2.2M1543.6 579.8v2.2M1593.6 579.8v2.2M1623.6 579.8v2.2" stroke="#8c8c8c" stroke-width="1.1"/>
<rect x="1496.4" y="561.5" width="2.2" height="2.5" fill="#555"/>
<rect x="1514.6" y="579.8" width="4" height="1.6" fill="#555"/>
<rect x="1563.3" y="453.2" width="66.8" height="93" fill="none" stroke="#7272c8" stroke-width="1.5"/>
<text x="1519.1" y="482.2" font-size="15" font-weight="bold" textLength="29" lengthAdjust="spacingAndGlyphs">0.01</text>
<g>
<path d="M1082.1 726.7L1058.1 726.6L1054.6 725.9L1051.6 724L1049.2 720.7L1048.3 717.2L1048.9 713.2L1050.3 710.7L1052.6 708.4L1054.6 707.3L1057.6 706.6L1082.6 707L1092.6 706.6L1104.1 707.5L1130.1 707.6L1139.6 708.3L1146.1 710L1151.3 712.7L1152.8 714.2L1153.7 716.2L1153 718.7L1150.1 721.3L1145.1 723.6L1139.1 725L1129.1 725.7L1099.1 725.7L1082.1 726.7Z" fill="#3c3cff" filter="url(#spkA)"/>
<path d="M1081.1 725.2L1058.1 725.1L1055.1 724.5L1052.4 722.7L1050.4 719.7L1049.8 716.7L1050.4 713.7L1051.4 711.7L1053.1 709.9L1055.6 708.5L1057.6 708.1L1066.6 708L1083.1 708.8L1092.6 708.3L1103.6 709.8L1128.1 710.4L1135.6 711L1139.6 711.9L1142.6 713.1L1144.8 714.7L1145.5 716.2L1145 718.2L1143.1 719.9L1139.6 721.3L1135.1 722.3L1100.1 723.4L1081.1 725.2Z" fill="#1e1eff" filter="url(#spkB)"/>
<path d="M1084.6 723.7L1079.6 724.1L1056.6 723.8L1053.6 722.3L1051.9 720.2L1051 717.2L1051.2 714.7L1053.3 711.2L1055.1 709.9L1057.1 709.3L1067.6 709.2L1083.6 710.3L1092.1 709.7L1102.6 711.5L1131.1 713.8L1135.6 715.2L1136.7 716.7L1135.1 718.3L1130.1 719.5L1098.6 721.7L1084.6 723.7Z" fill="#0808ff" filter="url(#spkC)"/>
<path d="M1084.1 722.7L1079.6 723.1L1056.6 722.9L1054.6 721.9L1052.9 720.2L1052 717.7L1052 715.2L1053.2 712.7L1055.6 710.7L1057.6 710.2L1063.6 710.1L1083.6 711.5L1093.6 711.2L1100.1 712.9L1108.6 714L1111.6 715.2L1112.7 716.2L1112 717.7L1108.1 719.2L1097.6 720L1084.1 722.7Z" fill="#0038ff"/>
<path d="M1064.1 722.2L1057.6 722.1L1054.5 720.7L1053.2 718.7L1052.8 716.7L1053.1 714.7L1054.3 712.7L1057.1 711.2L1062.6 711L1085.1 713L1091.6 712.9L1094.6 713.7L1097.3 716.2L1095.4 717.7L1091.6 719.6L1083.6 721.6L1064.1 722.2Z" fill="#0090ff"/>
<path d="M1068.6 721.2L1059.1 721.5L1056.1 720.9L1054.6 719.7L1053.8 718.2L1053.5 716.2L1053.9 714.7L1055.1 713L1057.1 711.9L1065.6 711.8L1082.1 713.9L1087.8 715.2L1089 715.7L1089.8 716.7L1089.5 717.7L1088.3 718.7L1082.7 720.7L1068.6 721.2Z" fill="#00e0f0"/>
<path d="M1064.1 720.7L1058.1 720.7L1056.1 720.1L1054.8 718.7L1054.3 717.2L1054.3 715.7L1055 714.2L1056.1 713.1L1057.6 712.6L1067.6 712.8L1080.2 714.7L1083.1 715.7L1084.8 717.2L1083.9 718.7L1080.6 719.9L1064.1 720.7Z" fill="#18ff80"/>
<path d="M1066.6 719.7L1057.1 719.7L1055.2 717.7L1055.3 715.2L1056.1 714.1L1057.6 713.4L1065.1 713.4L1076.6 715.3L1079.5 716.2L1080.6 717.2L1080 718.2L1078.4 718.7L1066.6 719.7Z" fill="#90ff10"/>
<path d="M1062.6 719.2L1058.1 719.1L1056.8 718.7L1055.8 717.2L1056.1 715.2L1058.1 714.1L1064.1 714.1L1070.1 715.2L1073.6 716.7L1073.4 717.2L1070.3 718.2L1062.6 719.2Z" fill="#ffe000"/>
<path d="M1062.1 718.2L1057.6 718L1056.9 717.2L1056.8 716.2L1058.1 715.1L1062.1 715L1066.2 715.7L1067.5 716.7L1065.8 717.7L1062.1 718.2Z" fill="#ff7000"/>
<path d="M1063.6 717.2L1059.6 717.4L1058.1 717.3L1057.6 716.7L1058.1 716L1062.1 715.7L1064.2 716.2L1064.5 716.7L1063.6 717.2Z" fill="#ff2000"/>
<path d="M1062.6 707h0M1148.9 715.1h0M1084.4 726.4h0M1048.6 719.3h0M1146.9 709.7h0M1148.3 719.1h0M1134 721.5h0M1145.4 719.4h0M1100.6 710.1h0M1080.7 708.4h0M1117 722.5h0M1147.8 716.1h0M1050.6 721.6h0M1111.6 709.3h0M1146.4 719.6h0M1150.6 713.7h0M1141.4 725.7h0M1099.2 725.5h0M1135 712.6h0M1146.3 713.8h0M1106.7 710.8h0M1144.5 716.4h0M1132.1 727.7h0M1104 707.8h0M1080.3 727.8h0M1143.1 721.6h0M1142.9 714.4h0M1092.1 726.5h0M1110.8 710.5h0M1067.9 724.7h0M1061.8 725.7h0M1071.9 725.3h0M1143.4 722h0M1090 724.8h0M1143.5 725.1h0M1101.2 722.6h0M1148.8 723.3h0M1122.8 723.1h0M1121.1 726.3h0M1149.6 711h0M1158.4 713.2h0M1142.1 722.6h0M1100.8 724.3h0M1109.4 723.6h0M1159.3 716.1h0M1114.2 709h0M1103.9 725.1h0M1059.1 706.9h0M1110.6 724h0M1079.8 728.1h0M1117.3 707.5h0M1101.6 706.7h0M1058.2 727.3h0M1091.4 706.9h0M1129.2 707.9h0M1114.9 709.2h0M1146.8 713.4h0M1104.4 725.7h0M1144.7 708.6h0M1126.6 721.6h0M1122.6 722.2h0M1129.8 723.1h0M1091.9 706.8h0M1109.5 708.9h0M1117.8 711h0M1049.8 719.1h0M1124.1 726.5h0M1132 724.1h0M1143.8 721.1h0M1051.7 722.4h0M1051.7 711.3h0M1134.7 710.5h0M1152.2 709.3h0M1065.5 724.6h0M1144.2 714.2h0M1145.6 719.2h0M1097.4 723.7h0M1138.1 724.1h0M1064.4 708.4h0M1132.6 725h0M1102.3 708.2h0M1153 714.6h0M1076 725.1h0M1134.2 725.8h0M1106.5 706.6h0M1144.1 726.1h0M1118.5 724.3h0M1102.4 709h0M1116.5 706.6h0M1114.2 709.9h0M1096.8 707.6h0M1143.7 717.9h0M1099.8 706.9h0M1140.1 724.9h0M1112.5 724.7h0M1078.4 725.9h0M1115 711.3h0M1141 717.3h0M1066.7 708h0M1150.5 712h0M1082.7 725.3h0M1066 725.2h0M1120.1 711.4h0M1069.7 724.6h0M1101.4 723.3h0M1103.2 722.4h0M1078.9 727.8h0M1079.1 708.1h0M1062.5 705.2h0M1072.4 707.6h0M1138 720.6h0M1110 710h0M1086.7 724.6h0M1121 724.1h0M1069.6 724.7h0M1055 725.4h0M1152.9 722h0M1145.4 715.9h0M1054 709.3h0M1127.8 711.1h0" stroke="#2a2aff" stroke-width="1.2" stroke-linecap="round" stroke-opacity="0.75"/>
<path d="M1135.9 714.9h0M1126.5 720.1h0M1101 719.7h0M1097.1 719.4h0M1119.6 710.4h0M1108.8 721.5h0M1057.1 709.4h0M1108 722h0M1131.4 718.5h0M1072.1 723.8h0M1107.4 713.2h0M1091.3 721.1h0M1133.7 713.4h0M1117.5 721.8h0M1127 716.7h0M1119.4 716.6h0M1102.8 721.5h0M1124.3 713.9h0M1127.7 721.5h0M1094.7 723.5h0M1097.4 712.6h0M1119.4 720.3h0M1056.9 709.2h0M1126.9 714.8h0M1116 717.1h0M1079.4 709.9h0M1103.4 719.2h0M1131.1 718.7h0M1102.8 712.1h0M1104.4 718.9h0M1129.5 710.9h0M1106.3 711.9h0M1126.8 722.7h0M1060.2 724.7h0M1128.9 717.5h0M1109.6 720h0M1123.7 720.4h0M1105.5 712.2h0M1138.9 715.5h0M1107.7 721h0" stroke="#4a7aff" stroke-width="1.1" stroke-linecap="round" stroke-opacity="0.9"/>
</g>
<path d="M1138.7 659.8h0M1158.3 641.5h0M1063.9 694h0M1060.8 692.4h0M1071.5 700.9h0M1050.6 661.7h0M1076.7 692.6h0M1054.4 664.1h0M1070.4 683.5h0M1062.4 661h0M1073.3 695.6h0M1055.4 688.5h0M1090 700.8h0M1055 688.3h0M1087.5 710h0M1068.7 691.5h0M1076.5 697.3h0M1053.5 692.8h0M1079.5 656.5h0M1070.9 706.8h0M1067 693.9h0M1051.8 674.3h0" stroke="#8c8cff" stroke-width="1.6" stroke-linecap="round" stroke-opacity="0.65"/>
<rect x="1033.6" y="592.2" width="145" height="143.8" fill="none" stroke="#959595" stroke-width="1.5"/>
<path d="M1033.6 601.2h-2.2M1033.6 630.2h-2.2M1033.6 663.2h-2.2M1033.6 693.2h-2.2M1033.6 718.7h-2.2M1033.6 731.2h-2.2M1053.6 736v2.2M1078.6 736v2.2M1128.6 736v2.2M1158.6 736v2.2" stroke="#8c8c8c" stroke-width="1.1"/>
<rect x="1031.4" y="717.7" width="2.2" height="2.5" fill="#555"/>
<rect x="1049.6" y="736" width="4" height="1.6" fill="#555"/>
<rect x="1098.3" y="609.4" width="66.8" height="93" fill="none" stroke="#7272c8" stroke-width="1.5"/>
<text x="1054.1" y="638.4" font-size="15" font-weight="bold" textLength="29" lengthAdjust="spacingAndGlyphs">0.00</text>
<g>
<path d="M1231.1 726.7L1223.1 727L1212.6 726.6L1208.6 725.4L1205.9 723.2L1203.8 719.7L1203.4 715.7L1204.4 712.2L1206.1 709.8L1208.1 708.1L1210.6 707L1213.1 706.6L1223.1 706.5L1250.6 707.4L1288.6 707.4L1297.6 708.3L1303.6 710L1308.6 712.7L1310.1 714.2L1310.9 716.2L1310.7 717.7L1309.8 719.2L1306.6 721.7L1301.6 723.9L1295.6 725.2L1283.6 725.9L1247.1 725.8L1231.1 726.7Z" fill="#3c3cff" filter="url(#spkA)"/>
<path d="M1230.1 725.2L1223.1 725.5L1213.1 725.1L1209.1 724L1207 722.2L1205.3 719.2L1204.9 715.7L1205.8 712.7L1207.8 710.2L1210.6 708.6L1213.1 708.1L1220.6 708L1252.1 709.8L1286.1 710.3L1295.4 711.7L1297.7 712.7L1298.7 714.2L1297.9 715.2L1293.6 716.3L1292.1 717.2L1292.1 718.2L1293.8 719.7L1293.8 720.7L1291.8 721.7L1288.1 722.5L1281.1 723.2L1255.6 723.2L1230.1 725.2Z" fill="#1e1eff" filter="url(#spkB)"/>
<path d="M1228.6 724.2L1213.1 724L1210.1 723.3L1207.6 721.2L1206.3 718.7L1206 716.2L1206.8 713.2L1208.6 710.9L1211.1 709.6L1220.1 709.1L1259.1 712.3L1280.6 712.1L1285.1 713.1L1286.8 714.7L1286.6 717.2L1285.6 719.2L1284.3 720.2L1282.1 720.9L1279.1 721L1273.6 720.4L1259.1 720.3L1228.6 724.2Z" fill="#0808ff" filter="url(#spkC)"/>
<path d="M1228.6 723.2L1219.1 723.4L1212.6 723L1210.6 722.5L1208.8 721.2L1207.4 719.2L1206.9 716.7L1207.4 714.2L1209.1 711.7L1211.6 710.4L1221.6 710.1L1233.1 711.1L1247.2 713.2L1253.4 714.7L1255.2 716.2L1254 717.7L1249.6 719.4L1228.6 723.2ZM1281.1 718.7L1279.1 718.9L1276.7 718.2L1274.5 716.7L1274.5 715.7L1277.6 714.3L1281.6 714.6L1282.9 715.7L1283.1 716.7L1282.6 717.8L1281.1 718.7Z" fill="#0038ff"/>
<path d="M1228.6 722.2L1221.1 722.5L1211.6 721.9L1209.6 720.7L1208.4 719.2L1207.8 717.2L1208.1 714.7L1209.4 712.7L1211.6 711.3L1220.6 711L1229.6 711.8L1237.1 713L1243.4 714.7L1245.7 716.2L1245.6 717.2L1243 718.7L1228.6 722.2Z" fill="#0090ff"/>
<path d="M1224.6 721.7L1211.6 721.1L1210.1 720.2L1209 718.7L1208.5 716.7L1208.9 714.7L1210.1 713.1L1212.1 712L1221.1 711.8L1233.6 713.5L1237.8 714.7L1240 716.2L1239.4 717.7L1235.6 719.5L1230.1 721.1L1224.6 721.7Z" fill="#00e0f0"/>
<path d="M1226.6 720.7L1220.1 721L1212.1 720.5L1210.6 719.6L1209.6 718.2L1209.5 715.2L1210.5 713.7L1212.1 712.8L1219.6 712.5L1230.1 713.8L1233.6 714.9L1235.5 716.2L1235.5 717.2L1233.6 718.7L1226.6 720.7Z" fill="#18ff80"/>
<path d="M1226.6 719.7L1220.6 720.2L1212.6 719.8L1210.5 718.2L1210.2 715.7L1211.1 714.2L1212.1 713.6L1218.1 713.3L1226.7 714.2L1230.1 715.2L1231.6 716.2L1231.8 717.2L1230.8 718.2L1226.6 719.7Z" fill="#90ff10"/>
<path d="M1223.1 719.2L1212.6 719L1211.1 717.7L1210.9 716.2L1211.6 714.8L1212.6 714.3L1218.1 714L1225.1 714.9L1227.4 715.7L1228.5 716.7L1228.1 717.7L1227.3 718.2L1223.1 719.2Z" fill="#ffe000"/>
<path d="M1221.1 718.2L1213.1 718L1212.1 717.3L1212 716.2L1213.1 715.3L1218.1 715.1L1222.5 715.7L1224.2 716.7L1223.4 717.7L1221.1 718.2Z" fill="#ff7000"/>
<path d="M1220.6 717.3L1216.6 717.6L1213 716.7L1214.6 716L1218.1 715.8L1220.4 716.2L1221.2 716.7L1220.6 717.3Z" fill="#ff2000"/>
<path d="M1252.5 724.6h0M1304.3 714.3h0M1240.1 709.7h0M1298.9 716.9h0M1279.2 724.6h0M1231.5 709.2h0M1285.4 708.9h0M1262.2 722h0M1274.6 722h0M1247.4 708.2h0M1294.7 723.2h0M1301.9 725.8h0M1278.2 723.5h0M1264.7 705.9h0M1285.8 721.4h0M1315.4 715h0M1227.2 707.5h0M1213.5 726.3h0M1287 705.9h0M1300.3 714.6h0M1298.8 716.5h0M1295.2 712.4h0M1273.7 711.1h0M1216.2 706.7h0M1289.7 708.8h0M1288 726.7h0M1284.2 721.9h0M1211.8 706.5h0M1205.3 716h0M1225.2 707.3h0M1298.4 713.5h0M1248.1 710.3h0M1295.3 715.7h0M1218.3 707.6h0M1213.3 727.6h0M1267.2 709.6h0M1307.5 719.3h0M1217.4 725.2h0M1296.5 720.7h0M1306.1 723.7h0M1291.5 708.7h0M1310.4 716.7h0M1295 714.7h0M1300 712.6h0M1256.7 722.9h0M1281.6 726h0M1273.7 726.6h0M1310.3 717.4h0M1291.6 718.4h0M1222.5 726.2h0M1298 710.1h0M1313.5 711h0M1298.1 715.7h0M1252.6 709.5h0M1302.3 712.4h0M1275.2 709h0M1292.1 720h0M1296.3 722.9h0M1307.8 722.3h0M1244.7 708.7h0M1270.4 724h0M1264.3 723.5h0M1269.6 722.3h0M1282.8 724.8h0M1296.4 717.8h0M1283.2 722.7h0M1268.5 709.6h0M1239 708.3h0M1304.6 720h0M1297.2 713.5h0M1310.9 717.4h0M1259.4 723.4h0M1282.7 727.9h0M1214.8 726.6h0M1270 709.9h0M1246.8 725h0M1286.8 706.5h0M1297.5 718.9h0M1269.6 722.2h0M1290.2 706.9h0M1281.7 709h0M1293.3 724.7h0M1255.7 726.9h0M1309.7 715.9h0M1305 716.1h0M1293.3 719.7h0M1287.4 723h0M1282.1 723.3h0M1296.8 723.4h0M1284.5 706.5h0M1291.4 712.4h0M1257.2 722.7h0M1232.6 706.8h0M1268.2 710.8h0M1293.3 713.9h0M1275.5 709.4h0M1279.9 724h0M1240.8 723.4h0M1220.6 725.5h0M1291 714.7h0M1284.1 707.6h0M1205.2 713.3h0M1220.9 724.8h0M1242.4 724.2h0M1304.4 724.4h0M1288.8 707.6h0M1204.2 713.8h0M1309.4 716.5h0M1270.6 710.9h0M1306 721.1h0M1226.9 726.5h0M1288.2 721.5h0M1231.6 708.3h0M1225 727.6h0M1301.6 720.3h0M1299.6 707.7h0M1289.2 723h0M1253.5 707.8h0M1271.9 722.1h0M1255.6 706.5h0" stroke="#2a2aff" stroke-width="1.2" stroke-linecap="round" stroke-opacity="0.75"/>
<path d="M1290 718.1h0M1218.5 710.2h0M1217.6 709.2h0M1266.1 718h0M1270 716.5h0M1287.6 719.9h0M1267.3 712.9h0M1279.1 717.8h0M1241.3 709.5h0M1233.7 722.4h0M1262.1 711.7h0M1238.4 711.9h0M1283.8 713.4h0M1264.1 715.4h0M1248.2 719.4h0M1289.1 713h0M1262.7 714.2h0M1281.2 720.6h0M1251.3 715.9h0M1260.4 717.1h0M1253.1 721h0M1271.3 715.8h0M1251.7 721.7h0M1279.4 715h0M1233.5 723h0M1248.7 719.6h0M1252.5 712.9h0M1284.3 718.3h0M1212.7 708.3h0M1258.4 716.8h0M1259.9 712.3h0M1277.5 715.1h0M1258.9 716.9h0M1281.5 713.9h0M1216.9 709.4h0M1244.5 721.8h0M1292.9 712.1h0M1210.4 723.7h0M1259 710.5h0M1207 714.4h0" stroke="#4a7aff" stroke-width="1.1" stroke-linecap="round" stroke-opacity="0.9"/>
</g>
<path d="M1303.2 636.1h0M1265.7 674h0M1291.8 642.7h0M1250.8 702.3h0M1214.8 676.5h0M1202.7 683.2h0M1216.6 680.9h0M1227.6 687.8h0M1213.8 705.7h0M1214 678.3h0M1226.2 707.8h0M1237.2 692.9h0M1213.5 694.5h0M1241.6 699.2h0M1226.3 688.5h0M1205 668.2h0M1227.6 672.2h0M1249.6 691.3h0M1206.2 702.1h0M1220.7 697.3h0M1248.2 692.6h0M1235.8 679.5h0M1215.3 670.4h0M1239.4 698.7h0M1212 699h0M1203.2 706.3h0M1237.7 686.9h0M1210.7 702.1h0" stroke="#8c8cff" stroke-width="1.6" stroke-linecap="round" stroke-opacity="0.65"/>
<rect x="1188.6" y="592.2" width="145" height="143.8" fill="none" stroke="#959595" stroke-width="1.5"/>
<path d="M1188.6 601.2h-2.2M1188.6 630.2h-2.2M1188.6 663.2h-2.2M1188.6 693.2h-2.2M1188.6 718.7h-2.2M1188.6 731.2h-2.2M1208.6 736v2.2M1233.6 736v2.2M1283.6 736v2.2M1313.6 736v2.2" stroke="#8c8c8c" stroke-width="1.1"/>
<rect x="1186.4" y="717.7" width="2.2" height="2.5" fill="#555"/>
<rect x="1204.6" y="736" width="4" height="1.6" fill="#555"/>
<rect x="1253.3" y="609.4" width="66.8" height="93" fill="none" stroke="#7272c8" stroke-width="1.5"/>
<text x="1209.1" y="638.4" font-size="15" font-weight="bold" textLength="29" lengthAdjust="spacingAndGlyphs">0.01</text>
<g>
<path d="M1377.6 726.7L1366.6 726.5L1363.6 725.4L1360.9 723.2L1358.8 719.7L1358.3 716.2L1359.4 712.2L1361.6 709.3L1365.6 707L1372.1 706.5L1403.6 707.3L1454.6 707.3L1462.1 708.4L1467.6 710.3L1471.8 713.2L1473.3 716.2L1473.1 717.7L1472.2 719.2L1468.6 722L1462.6 724.4L1456.1 725.6L1444.6 726.1L1403.6 725.9L1377.6 726.7Z" fill="#3c3cff" filter="url(#spkA)"/>
<path d="M1375.1 725.2L1366.1 724.8L1363.6 723.7L1361.6 721.7L1360.3 719.2L1359.9 715.7L1360.8 712.7L1363.1 709.9L1366.6 708.3L1373.6 708L1415.1 709.8L1453.6 709.6L1459.1 710.3L1463.1 711.6L1466.1 713.7L1466.9 715.7L1465.9 718.2L1463.1 720.3L1458.6 722L1453.1 723L1441.6 723.5L1406.1 723.6L1375.1 725.2Z" fill="#1e1eff" filter="url(#spkB)"/>
<path d="M1383.1 723.7L1369.6 724L1365.1 723.3L1362.6 721.2L1361.3 718.7L1361 716.2L1361.8 713.2L1363.6 710.9L1366.1 709.5L1375.1 709.1L1416.1 712.1L1429.6 712L1440.1 711.3L1454.1 711.5L1459.7 712.7L1461.4 713.7L1462.4 715.2L1461.7 717.2L1459.1 718.9L1455.1 720.1L1449.1 720.9L1440.6 721.5L1414.6 721.2L1383.1 723.7Z" fill="#0808ff" filter="url(#spkC)"/>
<path d="M1382.6 722.7L1371.1 723.1L1367.6 723L1365.6 722.5L1363.8 721.2L1362.4 719.2L1361.9 716.7L1362.3 714.2L1363.6 712.2L1366.1 710.5L1373.6 710L1382.6 710.5L1402.1 713L1409.6 713.3L1416.6 715.9L1428.6 715.4L1436.6 713.3L1440.6 712.9L1454.1 713.6L1456.3 714.2L1457.4 715.2L1457.1 716.2L1455.1 717.2L1442.6 719.6L1437.1 719.5L1428.6 717.8L1417.1 717.6L1410.1 719.4L1382.6 722.7Z" fill="#0038ff"/>
<path d="M1374.6 722.2L1367.6 722.1L1364.6 720.7L1363.2 718.7L1362.8 716.7L1363.1 714.7L1364.4 712.7L1366.1 711.5L1368.1 711L1382.1 711.5L1397.2 714.2L1401.3 715.7L1402.1 716.7L1400 718.2L1392.6 720.2L1384.1 721.5L1374.6 722.2ZM1441.6 716.8L1439.6 716.9L1438.8 716.2L1439.6 715.6L1441.6 715.6L1442.3 716.2L1441.6 716.8Z" fill="#0090ff"/>
<path d="M1378.6 721.2L1370.1 721.5L1366.1 720.9L1364.6 719.7L1363.8 718.2L1363.5 716.2L1363.9 714.7L1365.1 713L1367.1 711.9L1376.6 711.8L1389.6 713.8L1393.8 715.2L1395.3 716.7L1393.8 718.2L1390.6 719.3L1378.6 721.2Z" fill="#00e0f0"/>
<path d="M1374.1 720.7L1368.1 720.7L1366.1 720L1364.8 718.7L1364.3 717.2L1364.3 715.7L1365 714.2L1367.6 712.6L1378.1 712.8L1387.1 714.5L1389.8 715.7L1390.5 716.7L1388.9 718.2L1385.9 719.2L1374.1 720.7Z" fill="#18ff80"/>
<path d="M1376.6 719.7L1367.1 719.7L1365.2 717.7L1365.3 715.2L1366.1 714.1L1367.6 713.4L1374.1 713.3L1381.6 714.3L1384.5 715.2L1386 716.2L1385.9 717.2L1384.3 718.2L1376.6 719.7Z" fill="#90ff10"/>
<path d="M1372.6 719.2L1366.9 718.7L1365.8 717.2L1366.2 715.2L1368.1 714.1L1375.1 714.1L1380.4 715.2L1382.3 716.7L1381.2 717.7L1379.6 718.3L1372.6 719.2Z" fill="#ffe000"/>
<path d="M1372.6 718.2L1367.6 717.9L1366.9 717.2L1366.9 716.2L1368.1 715.2L1372.6 715L1376.8 715.7L1377.8 716.7L1376.2 717.7L1372.6 718.2Z" fill="#ff7000"/>
<path d="M1374.1 717.2L1370.1 717.4L1368.3 717.2L1367.7 716.7L1368.1 716.1L1372.3 715.7L1374.7 716.2L1375 716.7L1374.1 717.2Z" fill="#ff2000"/>
<path d="M1433.5 725h0M1407.7 724.7h0M1457.3 724.2h0M1464.5 718h0M1471.6 710h0M1463.5 713.7h0M1401.1 708.8h0M1454.5 723.1h0M1375.6 706.2h0M1434.9 709.1h0M1406.7 722.8h0M1447.8 722.1h0M1393.7 725.8h0M1451.7 723.6h0M1378.2 726.4h0M1422.2 709.8h0M1460.1 722.2h0M1454.4 725.2h0M1391.7 723.8h0M1410.1 726.5h0M1462.1 720.9h0M1399.8 709.7h0M1412.9 725.9h0M1462.7 710h0M1416.7 723.2h0M1437.8 709.7h0M1357.5 716.4h0M1472.2 711.7h0M1387.9 724.7h0M1451.7 709h0M1473.8 710h0M1470.3 712.5h0M1401.1 707.6h0M1364.5 725.2h0M1363.6 724.9h0M1411.9 707.9h0M1406.1 725.9h0M1438.5 708.5h0M1379.1 708.8h0M1370.2 708h0M1457.4 710.4h0M1394.8 706.7h0M1437.7 709.6h0M1363.1 722.6h0M1412.5 708.8h0M1470.6 717.3h0M1421.5 722.2h0M1462.4 718.9h0M1470.9 723.1h0M1460.8 721.9h0M1418.3 706.5h0M1432.1 709.8h0M1462.6 723.1h0M1423.7 722.6h0M1462.4 709.2h0M1431.4 724.6h0M1381.6 708.9h0M1426.8 725.5h0M1452.9 726.2h0M1364.2 709.1h0M1439.3 725.7h0M1455.1 722.2h0M1364.1 707.6h0M1459.4 711.1h0M1459.1 723.3h0M1408.5 723.3h0M1464.9 721.7h0M1438.3 709.8h0M1434.6 710.7h0M1405 709.6h0M1456.6 723h0M1424.4 724.3h0M1365.6 707.4h0M1429.9 708.8h0M1472.3 715h0M1425.9 706.5h0M1442.2 708.4h0M1376 726.1h0M1443.2 723.4h0M1448.9 706.2h0M1358.8 719.2h0M1464.6 714.2h0M1439.4 726.5h0M1370.5 708h0M1377.3 706.5h0M1424.4 724.2h0M1409.2 710.5h0M1403.3 708.9h0M1470.4 718.1h0M1444.5 723.5h0M1375 707.6h0M1472.3 721.4h0M1415.4 709.4h0M1409.2 722.4h0M1432.5 724h0M1461.9 711.5h0M1451.1 706.9h0M1468.3 713.9h0M1415.6 723.1h0M1466.2 718.7h0M1426 708.4h0M1457.8 706.9h0M1389.9 724.3h0M1375.7 724.7h0M1413.7 708.6h0M1467.5 715.9h0M1391.2 724.2h0M1471.1 715.9h0M1382.5 708.8h0M1465.5 714.1h0M1394.2 725h0M1371.7 726.4h0M1456.9 707.8h0M1416.3 724.9h0M1463.4 706.5h0M1479 714.9h0M1380.6 725.2h0M1417.5 710.6h0M1474.8 718.3h0M1414.4 709.4h0" stroke="#2a2aff" stroke-width="1.2" stroke-linecap="round" stroke-opacity="0.75"/>
<path d="M1411.6 712.4h0M1431.7 714.3h0M1451.2 717.1h0M1408.4 713.2h0M1414.8 714.2h0M1447.3 711.1h0M1417.8 719.1h0M1395.4 710.1h0M1387.4 709.6h0M1438.3 722.8h0M1452.4 716.7h0M1432.9 716.4h0M1437.6 712.5h0M1391.2 722.2h0M1440.3 710.4h0M1375.6 724.9h0M1462 712.5h0M1434 713.6h0M1428.8 718.3h0M1394.6 711.1h0M1362.1 716.2h0M1399.1 720h0M1419.8 713.3h0M1442.8 713.6h0M1451.7 713.8h0M1426.3 718.4h0M1391.5 721.6h0M1453.2 717h0M1427.7 713.7h0M1431.4 713.2h0M1458.2 715.7h0M1403.1 711.3h0M1447.4 719.4h0M1442.1 711.8h0M1392.1 721.7h0M1406.7 721.6h0M1442.2 722.2h0M1454.4 722.3h0M1446.9 718.5h0M1410.5 714h0" stroke="#4a7aff" stroke-width="1.1" stroke-linecap="round" stroke-opacity="0.9"/>
</g>
<path d="M1433.9 647.2h0M1471.9 640.7h0M1450.4 640.6h0M1422.5 643.1h0M1460.4 652.5h0M1435.7 686.4h0M1465 670.8h0M1425 637.8h0M1438.7 633.9h0M1449.3 638.5h0M1442.3 644.1h0M1439.4 647h0M1450.5 621.2h0M1466.5 700.2h0M1461.1 644.1h0M1447.9 662.1h0M1446.4 694.7h0M1448.2 682.6h0M1445.8 647.1h0M1423 693.6h0M1455 683.8h0M1433.5 643.7h0M1435.2 682h0M1464.2 645.5h0M1432.4 671.8h0M1452.5 667.9h0M1425.6 662.9h0M1466.7 624.1h0M1457.6 650h0M1450.3 656.9h0M1423.5 663.4h0M1413.6 645h0M1417.9 632.1h0M1450 672.3h0M1465.5 643.1h0M1444.9 679.8h0M1460.8 621.3h0M1458.8 621h0M1457.2 679.5h0M1465.7 671.2h0M1442.7 676.3h0M1455.7 640.2h0M1452.7 641.4h0M1430.3 621.4h0M1427.5 673.1h0M1453.3 657.5h0M1438.8 684h0M1466.2 687.5h0M1453.2 688.4h0M1431.4 689.3h0M1436 703.3h0M1470.9 654.8h0M1471 642h0M1416 687.6h0M1474.8 697.9h0M1445.4 618.6h0M1459.4 675.1h0M1434.4 681.3h0M1440.5 700.4h0M1455.5 658.5h0M1392.8 685.5h0M1359.7 699.2h0M1385.7 650.5h0M1360 707h0M1379.3 665h0M1393 683.7h0M1378.3 691.9h0M1361.4 654.6h0M1394.9 686.7h0M1386.5 692.6h0M1364.1 664.4h0M1364.7 700.9h0M1363.2 677.6h0M1370.3 652.6h0M1387.8 704.6h0M1382.9 709h0M1372.4 682h0M1379 688.1h0M1383.6 700.7h0M1384.4 694.3h0M1365.4 696.6h0M1366.9 670.1h0M1384.6 687h0M1368.5 695.9h0M1364.1 665.5h0M1375.2 703.4h0M1377.5 699.9h0M1375.7 675.6h0M1382.7 685.2h0M1375.5 706h0" stroke="#8c8cff" stroke-width="1.6" stroke-linecap="round" stroke-opacity="0.65"/>
<rect x="1343.6" y="592.2" width="145" height="143.8" fill="none" stroke="#959595" stroke-width="1.5"/>
<path d="M1343.6 601.2h-2.2M1343.6 630.2h-2.2M1343.6 663.2h-2.2M1343.6 693.2h-2.2M1343.6 718.7h-2.2M1343.6 731.2h-2.2M1363.6 736v2.2M1388.6 736v2.2M1438.6 736v2.2M1468.6 736v2.2" stroke="#8c8c8c" stroke-width="1.1"/>
<rect x="1341.4" y="717.7" width="2.2" height="2.5" fill="#555"/>
<rect x="1359.6" y="736" width="4" height="1.6" fill="#555"/>
<rect x="1408.3" y="609.4" width="66.8" height="93" fill="none" stroke="#7272c8" stroke-width="1.5"/>
<text x="1364.1" y="638.4" font-size="15" font-weight="bold" textLength="29" lengthAdjust="spacingAndGlyphs">0.16</text>
<g>
<path d="M1533.1 726.7L1521.6 726.4L1518.6 725.4L1516.1 723.4L1513.8 719.7L1513.3 716.2L1514.4 712.2L1516.6 709.3L1520.6 707L1526.6 706.5L1559.6 707.3L1607.1 706.8L1615.1 708L1621.6 710.1L1626.6 713.2L1627.8 714.7L1628.3 716.2L1628.2 717.7L1627.3 719.2L1623.6 722.1L1617.6 724.4L1611.1 725.7L1600.1 726.2L1558.1 726L1533.1 726.7Z" fill="#3c3cff" filter="url(#spkA)"/>
<path d="M1530.6 725.2L1521.6 724.9L1519.1 724L1517 722.2L1515.3 719.2L1514.9 715.7L1515.8 712.7L1518.1 709.9L1521.6 708.3L1527.6 708L1558.6 709.4L1570.6 709.2L1580.6 709.7L1605.1 708.7L1610.6 709.6L1615.6 711.3L1619.2 713.7L1620.6 716.2L1620 718.2L1617.3 720.2L1609.6 722.6L1605.1 723.3L1562.1 723.6L1530.6 725.2Z" fill="#1e1eff" filter="url(#spkB)"/>
<path d="M1539.1 723.7L1525.1 724.1L1522.1 723.9L1520.1 723.2L1517.6 721.2L1516.3 718.7L1516 716.2L1516.8 713.2L1518.6 710.9L1521.1 709.5L1528.6 709.1L1538.6 709.5L1559.6 711.3L1571.1 710.9L1580.6 712.2L1589.6 711.8L1599.6 710.4L1604.1 710.2L1609 711.2L1610.8 712.2L1611.6 713.2L1611.5 714.2L1607.6 719.6L1606.1 720.6L1604.1 721.1L1574.1 721.1L1559.6 721.9L1539.1 723.7Z" fill="#0808ff" filter="url(#spkC)"/>
<path d="M1538.6 722.7L1526.6 723.1L1522.6 723L1520.6 722.5L1518.8 721.2L1517.4 719.2L1516.9 716.7L1517.3 714.2L1518.6 712.2L1521.1 710.5L1529.6 710.1L1542.6 710.9L1560.6 713.3L1570.6 712.6L1574 713.7L1575.4 715.2L1575.4 716.2L1574.7 717.2L1571.1 718.6L1538.6 722.7ZM1604.6 718.8L1601.1 719L1595.1 717.8L1588.1 717.3L1586.9 716.7L1587.2 716.2L1598.6 712.3L1604.1 711.7L1607.1 712.5L1608.2 714.2L1606.8 717.2L1604.6 718.8Z" fill="#0038ff"/>
<path d="M1530.1 722.2L1522.6 722.1L1520.1 721.1L1518.4 719.2L1517.8 717.2L1518 715.2L1518.9 713.2L1520.6 711.8L1522.6 711.1L1537.1 711.4L1551.3 713.7L1556 715.2L1557.5 716.7L1556.5 717.7L1554.1 718.7L1547.1 720.4L1540.1 721.6L1530.1 722.2ZM1603.1 716.2L1601.4 715.7L1601.2 714.7L1602.6 714L1604.1 714.3L1604.5 715.2L1603.1 716.2Z" fill="#0090ff"/>
<path d="M1534.1 721.2L1526.6 721.5L1521.6 721.1L1520.1 720.2L1519 718.7L1518.5 716.7L1518.9 714.7L1520.1 713L1522.1 712L1531.1 711.8L1544.6 713.5L1548.6 714.7L1550.9 716.2L1550.2 717.7L1546.7 719.2L1541.1 720.5L1534.1 721.2Z" fill="#00e0f0"/>
<path d="M1529.6 720.7L1523.1 720.6L1521.1 720L1519.8 718.7L1519.3 717.2L1519.4 715.7L1520 714.2L1522.6 712.6L1532.1 712.6L1541.6 714L1545 715.2L1546.2 716.2L1545.6 717.7L1542 719.2L1529.6 720.7Z" fill="#18ff80"/>
<path d="M1532.6 719.7L1526.6 720L1522.1 719.6L1520.4 718.2L1520.2 715.7L1521.1 714.2L1522.1 713.6L1528.1 713.2L1537.1 714.2L1540.6 715.2L1542.1 716.2L1542.1 717.2L1540.5 718.2L1532.6 719.7Z" fill="#90ff10"/>
<path d="M1528.1 719.2L1522.1 718.8L1520.9 717.2L1521.1 715.4L1522.1 714.4L1523.1 714.1L1530.1 714.1L1536.3 715.2L1537.6 715.8L1538.4 716.7L1537.3 717.7L1535.9 718.2L1528.1 719.2Z" fill="#ffe000"/>
<path d="M1528.1 718.2L1522.6 717.8L1522 717.2L1521.9 716.2L1523.1 715.2L1528.1 715L1532.4 715.7L1533.6 716.7L1531.8 717.7L1528.1 718.2Z" fill="#ff7000"/>
<path d="M1529.6 717.2L1525.6 717.4L1522.9 716.7L1523.1 716.2L1524.1 716L1527.8 715.7L1530.2 716.2L1530.6 716.7L1529.6 717.2Z" fill="#ff2000"/>
<path d="M1579 709.6h0M1516.9 722.9h0M1611.7 719.9h0M1624.9 713.2h0M1611.2 726.6h0M1577.6 708.9h0M1577.6 722.8h0M1586.3 710h0M1621.8 713.9h0M1569.5 708.9h0M1609.7 719.9h0M1532.8 707.8h0M1609.7 705.3h0M1616.4 721.8h0M1534.4 708.5h0M1610.6 721.6h0M1615.1 711.5h0M1613.8 705.9h0M1531.7 725.4h0M1610.2 727h0M1576.2 707.2h0M1537 724.5h0M1568.3 724h0M1583.9 708.7h0M1585.7 724.9h0M1592.9 710.1h0M1613.5 721.2h0M1607.6 709h0M1517.6 723.2h0M1515 713.8h0M1570.9 707.6h0M1561.4 708.3h0M1579.8 725.8h0M1593.5 705.6h0M1586.5 710.9h0M1559.4 723h0M1616.8 719.4h0M1598.7 709.7h0M1549.5 709.4h0M1578.9 722.6h0M1551.1 724h0M1591.1 706.3h0M1623.6 708.9h0M1612.1 711.2h0M1592.2 710h0M1589 710.5h0M1553.8 706.4h0M1618.2 712.8h0M1523.9 708h0M1569.7 727.1h0M1618.5 726.4h0M1614.2 721.1h0M1617.7 713.4h0M1598 726.8h0M1623.6 719.7h0M1532.4 724.8h0M1581.7 710.8h0M1560.9 708.6h0M1620.9 723.5h0M1611.3 724.7h0M1598 709.6h0M1520.5 724.2h0M1607.7 723.2h0M1620.2 716.3h0M1515.1 719h0M1586.8 722.9h0M1625.7 717.5h0M1594.3 706.6h0M1616.6 717.9h0M1577.5 710.8h0M1515.5 711.8h0M1611.5 718.9h0M1608.1 725h0M1554.7 724.1h0M1573 709.8h0M1623.8 718.1h0M1622.8 708.9h0M1617.2 718.5h0M1626 717.7h0M1617 711h0M1613.1 716.7h0M1610.7 721.4h0M1595.7 723.4h0M1579.5 708.7h0M1540.3 727.2h0M1604.8 726.9h0M1534.8 725.9h0M1552.4 709.1h0M1588.8 722.7h0M1599.8 724.9h0M1610.7 728h0M1541.8 707.5h0M1516 725.1h0M1521.7 726.3h0M1556.9 707.8h0M1602.3 727.2h0M1514.8 713.9h0M1551.7 724.5h0M1573.7 708.4h0M1593 708.4h0M1627.8 715.7h0M1596 709.9h0M1618.2 718.2h0M1531.7 725.5h0M1610 723.6h0M1575.9 709.3h0M1559.9 723.9h0M1625 722.7h0M1621 708.9h0M1607.7 709.6h0M1591.8 709.4h0M1550.5 708.7h0M1585.2 723.5h0M1567.2 709.8h0M1594.3 727.7h0M1581.3 710.4h0M1617.8 723.8h0M1520.3 708.5h0M1609.2 723.1h0M1628.6 722.2h0" stroke="#2a2aff" stroke-width="1.2" stroke-linecap="round" stroke-opacity="0.75"/>
<path d="M1586 712.3h0M1594.7 717.9h0M1517.2 717h0M1518.2 711h0M1611.6 716.3h0M1576.5 718.1h0M1553.3 721.8h0M1576.6 718.7h0M1574.7 710.8h0M1610.9 720.3h0M1587.8 717.3h0M1551.3 720.8h0M1585.5 712.2h0M1566 720.2h0M1583.8 712.7h0M1552.3 710.3h0M1543.4 722.3h0M1591.8 715.5h0M1616.2 715.4h0M1613.5 719.7h0M1528.4 722.9h0M1556.8 713.5h0M1532.6 709.1h0M1598.2 722.5h0M1566.4 711.6h0M1587.2 714.8h0M1552.2 722.2h0M1556.3 721.8h0M1579 720.5h0M1524.6 709.9h0M1556.9 712.3h0M1575.5 712.9h0M1540.4 709.9h0M1542.2 722.2h0M1525.1 709.3h0M1536.5 710.2h0M1609.9 710h0M1604.6 708.7h0M1614.5 719.8h0M1607.2 714.5h0" stroke="#4a7aff" stroke-width="1.1" stroke-linecap="round" stroke-opacity="0.9"/>
</g>
<path d="M1591.6 658.1h0M1585.7 681.6h0M1613.4 655.9h0M1607.3 670h0M1581.2 685.1h0M1608.5 678h0M1602.1 685.8h0M1624.7 636.3h0M1571.2 670.6h0M1614.2 677.2h0M1597.2 650.4h0M1617.9 659.5h0M1589 662.2h0M1594.4 675.8h0M1595.3 680.5h0M1598.3 651.2h0M1610.8 651.4h0M1627.4 671.1h0M1600.5 668.6h0M1618.8 692h0M1616.2 690.5h0M1574.4 698.6h0M1591.5 659.7h0M1609.4 637.1h0M1582.6 688.6h0M1612.2 684.5h0M1606 668.6h0M1584.7 692.2h0M1604.4 672.1h0M1610.1 637.5h0M1626.8 681.9h0M1583.4 694.7h0M1617.8 697h0M1599.7 651.3h0M1626.3 643.5h0M1613.9 650h0M1597 694.7h0M1614.2 653h0M1595.2 647.1h0M1619.3 695.3h0M1603.3 642.8h0M1622.5 682h0M1610.8 627.1h0M1599.2 632.4h0M1597.3 689.9h0M1607.8 688.6h0M1572.6 688h0M1617.4 678.8h0M1609.9 674.6h0M1600.5 684.6h0M1616 648.3h0M1607.1 680.3h0M1597.5 681h0M1583.8 673.8h0M1581.6 680h0M1607.3 681.6h0M1602.3 702.8h0M1595.4 636.1h0M1603.8 681.2h0M1585.8 682.5h0M1608.8 619.3h0M1601 619.2h0M1566.6 693.9h0M1592.1 642.7h0M1606 637.2h0M1576.5 659.8h0M1623.6 692.5h0M1619.3 646.6h0M1590 682.1h0M1571.9 636h0M1612.6 662.8h0M1586.6 637.2h0M1568.9 650h0M1599.3 678.2h0M1603.1 692.9h0M1609.4 681.5h0M1613.1 623.4h0M1613.2 660h0M1586 639.9h0M1613.1 664.7h0M1601.2 618h0M1625.4 677.4h0M1607.5 619.2h0M1605.3 676.8h0M1573.8 697.3h0M1612.2 692.2h0M1612.7 646.8h0M1618.5 703.5h0M1599.6 649.9h0M1612.8 699.3h0M1608 630.4h0M1587.9 630.5h0M1617.9 672.8h0M1609.6 639.6h0M1611 652.7h0M1612.1 627h0M1592 641h0M1617.7 666.2h0M1614.4 624.5h0M1605.8 659.5h0M1522.3 678.1h0M1531.9 698.8h0M1548.6 701.6h0M1521.1 697.9h0M1517.3 680h0M1517.2 684.4h0M1535.3 695.9h0M1537.9 703.2h0M1555.2 697.3h0M1517.8 672.1h0M1531.5 698.1h0M1521.4 709.3h0M1515.5 683.2h0M1518.6 675h0M1535.4 696.2h0M1522.6 676.6h0M1518.9 709.1h0M1530.5 669.2h0M1545.4 688.7h0M1540 696.3h0M1515.4 694.1h0M1539.2 682.7h0M1511.6 703h0M1519.6 689.7h0M1544.6 673.5h0M1542.8 700.8h0M1511.2 701.5h0M1519.9 694.9h0M1545.5 707.5h0M1517.1 665.8h0M1516.7 683.8h0M1517.6 662h0M1543.3 696.6h0M1524.1 707.8h0M1520.2 677.6h0M1511.7 695.6h0M1538.9 695.9h0M1526.4 677.1h0M1542.4 704.8h0M1548.8 696.9h0M1548.7 677.8h0M1532.8 673.4h0M1543.7 700.2h0M1539 693.3h0M1558.6 687.2h0M1540 692.4h0M1551.3 685.7h0M1560.2 706.1h0M1530.9 697h0M1541.6 670.6h0" stroke="#8c8cff" stroke-width="1.6" stroke-linecap="round" stroke-opacity="0.65"/>
<rect x="1498.6" y="592.2" width="145" height="143.8" fill="none" stroke="#959595" stroke-width="1.5"/>
<path d="M1498.6 601.2h-2.2M1498.6 630.2h-2.2M1498.6 663.2h-2.2M1498.6 693.2h-2.2M1498.6 718.7h-2.2M1498.6 731.2h-2.2M1518.6 736v2.2M1543.6 736v2.2M1593.6 736v2.2M1623.6 736v2.2" stroke="#8c8c8c" stroke-width="1.1"/>
<rect x="1496.4" y="717.7" width="2.2" height="2.5" fill="#555"/>
<rect x="1514.6" y="736" width="4" height="1.6" fill="#555"/>
<rect x="1563.3" y="609.4" width="66.8" height="93" fill="none" stroke="#7272c8" stroke-width="1.5"/>
<text x="1519.1" y="638.4" font-size="15" font-weight="bold" textLength="29" lengthAdjust="spacingAndGlyphs">0.15</text>
<g>
<path d="M1079.1 882.4L1060.1 882.8L1056.6 882.7L1054.1 881.8L1050.9 879.4L1048.8 875.9L1048.4 871.9L1049.4 868.4L1051.1 866L1053.1 864.3L1055.6 863.2L1058.1 862.8L1071.1 862.6L1096.6 863.7L1131.1 863.7L1139.6 864.5L1146.1 866.2L1151.3 868.9L1152.8 870.4L1153.7 872.4L1153.5 873.9L1152.6 875.4L1149.6 877.8L1144.6 879.9L1138.6 881.3L1128.1 881.9L1097.1 881.8L1079.1 882.4Z" fill="#3c3cff" filter="url(#spkA)"/>
<path d="M1074.6 880.9L1058.6 881.3L1054.6 880.4L1052 878.4L1050.3 875.4L1049.9 871.9L1050.8 868.9L1053.6 865.7L1055.6 864.7L1058.1 864.3L1071.6 864.1L1101.6 866.3L1129.1 866.1L1135.1 866.7L1140.6 868.1L1144.1 870L1145.7 872.4L1145.2 874.4L1142.6 876.6L1138.6 878.1L1133.1 879.1L1124.6 879.5L1099.1 879.4L1074.6 880.9Z" fill="#1e1eff" filter="url(#spkB)"/>
<path d="M1071.1 879.9L1058.1 880.2L1054.6 879.2L1052.6 877.4L1051.3 874.9L1051 872.4L1051.8 869.4L1053.6 867.1L1056.6 865.6L1070.6 865.2L1104.1 868.7L1111.1 868.9L1125.1 868L1130.6 868.2L1136.6 869.7L1138.4 870.9L1139.3 872.4L1139 873.9L1137.2 875.4L1134.1 876.5L1130.1 877.3L1121.1 877.6L1110.6 876.8L1104.1 876.9L1071.1 879.9Z" fill="#0808ff" filter="url(#spkC)"/>
<path d="M1071.1 878.9L1060.6 879.3L1055.6 878.7L1053.6 877.2L1052.2 874.9L1051.9 872.4L1052.6 869.9L1054.6 867.5L1057.1 866.4L1071.1 866.2L1082.1 867.6L1093.6 869.9L1099.6 871.4L1102 872.4L1102.2 872.9L1099 874.4L1090.1 876.4L1071.1 878.9ZM1128.1 875.4L1117.6 875.3L1114.5 874.4L1113 872.9L1113.9 871.9L1116.5 870.9L1125.6 870L1130.6 870.3L1133.5 871.9L1133.7 872.9L1132.9 873.9L1130.8 874.9L1128.1 875.4Z" fill="#0038ff"/>
<path d="M1063.6 878.4L1057.1 878.2L1054.1 876.4L1053 874.4L1052.8 872.4L1053.3 870.4L1054.6 868.7L1056.1 867.7L1058.1 867.2L1072.1 867.2L1083.6 869.3L1088.1 870.9L1090.1 872.4L1090 873.4L1088.6 874.4L1083.1 876.2L1072.6 877.8L1063.6 878.4Z" fill="#0090ff"/>
<path d="M1067.6 877.4L1058.6 877.6L1056.1 877.1L1054.6 875.9L1053.8 874.4L1053.5 872.4L1053.9 870.9L1055.5 868.9L1057.6 868L1069.6 867.9L1081.1 869.8L1083.8 870.9L1085.3 872.4L1084.6 873.9L1081.6 875.2L1067.6 877.4Z" fill="#00e0f0"/>
<path d="M1063.6 876.9L1057.6 876.8L1055.7 875.9L1054.3 873.4L1054.3 871.9L1055 870.4L1056.1 869.4L1057.6 868.8L1070.1 868.8L1079.1 870.6L1081 871.4L1081.8 872.4L1080.6 873.9L1077.6 874.9L1070.6 876.3L1063.6 876.9Z" fill="#18ff80"/>
<path d="M1066.6 875.9L1057.1 875.9L1055.2 873.9L1055.3 871.4L1056.1 870.3L1057.6 869.6L1067.6 869.5L1073.5 870.4L1076.1 871.4L1077.3 872.4L1076.6 873.4L1074.2 874.4L1066.6 875.9Z" fill="#90ff10"/>
<path d="M1062.1 875.4L1056.9 874.9L1055.8 873.4L1056.2 871.4L1058.1 870.3L1066.1 870.3L1070.7 870.9L1073.1 872.4L1072.5 873.4L1070 874.4L1062.1 875.4Z" fill="#ffe000"/>
<path d="M1062.6 874.4L1057.6 874.1L1056.9 873.4L1056.8 872.4L1058.1 871.3L1062.1 871.2L1066.1 871.4L1068.6 872.4L1068.6 872.9L1067.1 873.7L1062.6 874.4Z" fill="#ff7000"/>
<path d="M1064.1 873.5L1060.1 873.6L1058.2 873.4L1057.7 872.9L1058.1 872.3L1060.4 871.9L1065.3 872.4L1065.4 872.9L1064.1 873.5Z" fill="#ff2000"/>
<path d="M1078.5 864.1h0M1126.4 866.6h0M1100.3 864.2h0M1115.3 865.9h0M1145.6 876.3h0M1107.4 878.3h0M1117.5 879.9h0M1049.5 870.5h0M1086.3 865.8h0M1129.2 879.9h0M1082.9 880.5h0M1142.3 881.5h0M1148.3 871.5h0M1129.9 881.1h0M1146.4 869.4h0M1133.6 866.4h0M1078 865.1h0M1135.8 878.7h0M1142 876.3h0M1098.7 867.3h0M1099.6 864.9h0M1090.3 880h0M1142.5 877.2h0M1110.8 865.7h0M1055.1 862.3h0M1125.8 866.5h0M1148 874.3h0M1116.4 878.8h0M1116 878.3h0M1137.2 877.2h0M1092.2 880.5h0M1098.8 865.4h0M1091.7 862.9h0M1134.5 877.6h0M1143 872.8h0M1119.3 862.2h0M1144.1 865.1h0M1068.1 864.5h0M1109.5 878.8h0M1087.3 863.1h0M1128.7 864.6h0M1149.2 874.5h0M1102.6 864.5h0M1127.8 879.7h0M1116.1 878.8h0M1049.7 873.2h0M1062.5 882.1h0M1128.4 866.8h0M1127.5 878.5h0M1081 881.4h0M1132.2 878.6h0M1088.8 882.3h0M1135.6 867.1h0M1066.9 883h0M1111.7 865.6h0M1141.8 875.7h0M1073.7 880.4h0M1101.3 881h0M1113.2 866.3h0M1109.2 878.2h0M1120.8 864.5h0M1129.6 863h0M1080.7 864.9h0M1136.9 879.2h0M1060.6 863.5h0M1144.5 878.6h0M1143.5 875.8h0M1077.6 882.1h0M1077.6 863.4h0M1121.9 866.2h0M1105.3 878.3h0M1091.6 862.1h0M1067.5 864.7h0M1112.7 866.1h0M1128.9 878.3h0M1131 880.7h0M1105.4 865.9h0M1146 877.6h0M1146 874.2h0M1067.9 863h0M1127.8 878.7h0M1060 882.6h0M1127.8 867.2h0M1070.8 863.2h0M1080.1 864.8h0M1105.2 866.2h0M1088.9 865.6h0M1059.8 863h0M1123 882.9h0M1140.5 879.4h0M1050.8 875h0M1048.9 877.6h0M1133 879.3h0M1115.2 879.4h0M1086.9 879.8h0M1138.9 877.9h0M1139.8 868.1h0M1078.5 882.2h0M1092.5 878.7h0M1112.5 865.4h0M1111 865.9h0M1149.4 866.7h0M1116.3 863h0M1109.6 879.3h0M1143.5 873.9h0M1067.9 862.8h0M1074.2 864h0M1143.6 875.2h0M1131.8 863.6h0M1064 883.2h0M1093.7 863.5h0M1102.7 880.7h0M1105.1 883.1h0M1132.3 878.4h0M1105.7 879h0M1154.3 874.2h0M1149.7 879.8h0M1112.3 881.5h0M1087.6 866.2h0M1117.9 867.4h0" stroke="#2a2aff" stroke-width="1.2" stroke-linecap="round" stroke-opacity="0.75"/>
<path d="M1098.9 877.3h0M1105 873.3h0M1062.9 879.5h0M1103.2 867h0M1111.8 870.7h0M1073.5 866.6h0M1091.6 879.7h0M1064 880h0M1113.8 867.5h0M1110.6 871.2h0M1056.9 866.3h0M1102.9 875.3h0M1085.1 877.2h0M1138.3 868.6h0M1117.3 879.1h0M1073 864.6h0M1079.7 879.3h0M1137.4 873.7h0M1127.1 879.1h0M1110.7 876.8h0M1109.3 870.5h0M1129.1 867.5h0M1095.9 870.5h0M1098.1 878h0M1067.9 879.6h0M1116.7 869.4h0M1135.8 874.7h0M1106.1 867h0M1097.9 872.8h0M1129.9 869.6h0M1113.2 870.6h0M1085.3 877.8h0M1106.1 876.4h0M1113.6 876.8h0M1086 866.4h0M1089.2 875.9h0M1107.8 878.5h0M1073.8 879.6h0M1098.5 867.8h0M1113.4 874.3h0" stroke="#4a7aff" stroke-width="1.1" stroke-linecap="round" stroke-opacity="0.9"/>
</g>
<path d="M1115.4 803.3h0M1144.2 824.5h0M1126.8 796.7h0M1064.6 833.3h0M1089.5 809.6h0M1079.8 819.5h0M1066.5 838.4h0M1076.5 863.9h0M1086.7 823h0M1079.5 838.5h0M1069 864.6h0M1077.2 834.3h0M1058.7 832.3h0M1062.5 829.2h0M1089.3 835.8h0M1066.8 863.7h0M1047 807.9h0M1085.5 825.3h0M1074.6 830.6h0M1051.7 817h0M1084.2 830.5h0M1091.8 860h0M1049.7 861.9h0M1064.8 862.6h0M1068.3 857.5h0M1049.8 852.8h0M1060.2 847.8h0M1081 844.8h0M1086.6 861.2h0M1057.7 845.2h0M1076.7 862h0M1056 856.5h0M1061.2 856.6h0" stroke="#8c8cff" stroke-width="1.6" stroke-linecap="round" stroke-opacity="0.65"/>
<rect x="1033.6" y="748.4" width="145" height="143.8" fill="none" stroke="#959595" stroke-width="1.5"/>
<path d="M1033.6 757.4h-2.2M1033.6 786.4h-2.2M1033.6 819.4h-2.2M1033.6 849.4h-2.2M1033.6 874.9h-2.2M1033.6 887.4h-2.2M1053.6 892.2v2.2M1078.6 892.2v2.2M1128.6 892.2v2.2M1158.6 892.2v2.2" stroke="#8c8c8c" stroke-width="1.1"/>
<rect x="1031.4" y="873.9" width="2.2" height="2.5" fill="#555"/>
<rect x="1049.6" y="892.2" width="4" height="1.6" fill="#555"/>
<rect x="1098.3" y="765.6" width="66.8" height="93" fill="none" stroke="#7272c8" stroke-width="1.5"/>
<text x="1054.1" y="794.6" font-size="15" font-weight="bold" textLength="29" lengthAdjust="spacingAndGlyphs">0.01</text>
<g>
<path d="M1221.6 882.9L1211.1 882.5L1208.1 881.3L1205.5 878.9L1203.8 875.9L1203.4 871.9L1204.4 868.4L1207.1 865L1211.1 863.1L1217.6 862.7L1254.1 863.6L1291.6 863.7L1298.6 864.7L1305.1 866.7L1309.4 869.4L1310.7 870.9L1311.2 872.4L1311.1 873.9L1310.2 875.4L1306.6 878.2L1301.6 880.2L1294.6 881.6L1283.6 882.1L1247.6 882L1221.6 882.9Z" fill="#3c3cff" filter="url(#spkA)"/>
<path d="M1231.1 880.9L1217.1 881.4L1212.6 881.3L1210.1 880.7L1207.4 878.9L1205.5 875.9L1204.9 872.4L1205.8 868.9L1208.6 865.8L1210.6 864.8L1213.1 864.3L1229.1 864.3L1258.1 866.1L1285.1 866L1292.1 866.6L1297.6 867.9L1301.6 869.9L1303.3 872.4L1302.8 874.4L1300.4 876.4L1297.1 877.8L1292.1 878.8L1283.1 879.3L1250.1 879.7L1231.1 880.9Z" fill="#1e1eff" filter="url(#spkB)"/>
<path d="M1227.6 879.9L1214.1 880.2L1210.1 879.4L1207.6 877.4L1206.3 874.9L1206 872.4L1206.8 869.4L1209.1 866.7L1212.1 865.5L1229.1 865.5L1246.1 866.7L1259.6 868.4L1286.6 868.3L1293.5 869.9L1295.2 870.9L1296.1 872.4L1295.5 873.9L1294.1 874.9L1287.1 876.6L1256.1 877.4L1227.6 879.9Z" fill="#0808ff" filter="url(#spkC)"/>
<path d="M1227.6 878.9L1216.1 879.3L1212.6 879.2L1210.6 878.7L1208.8 877.4L1207.4 875.4L1206.9 872.9L1207.3 870.4L1209.1 867.9L1212.1 866.5L1229.1 866.4L1247.6 868.3L1261.1 871.9L1263.1 872.9L1260.1 873.9L1251.6 875.6L1227.6 878.9ZM1284.1 873.9L1277.6 873.9L1274.9 873.4L1273.4 872.9L1273.2 872.4L1277.3 870.9L1281.2 870.4L1285.6 870.8L1287.6 871.9L1287.1 873L1284.1 873.9Z" fill="#0038ff"/>
<path d="M1219.6 878.4L1212.6 878.3L1209.6 876.9L1208.2 874.9L1207.8 872.9L1208.1 870.9L1209.4 868.9L1211.1 867.7L1213.1 867.3L1229.1 867.4L1245.6 869.7L1248.1 870.7L1249.3 871.9L1248.9 872.9L1247.6 873.6L1236.6 876.5L1228.6 877.8L1219.6 878.4Z" fill="#0090ff"/>
<path d="M1224.6 877.4L1216.6 877.7L1211.6 877.3L1210.1 876.4L1209 874.9L1208.5 872.9L1208.9 870.9L1210.5 868.9L1212.6 868.1L1227.6 868.1L1232.6 868.8L1240.3 870.9L1241.7 871.9L1240.5 873.4L1236 875.4L1224.6 877.4Z" fill="#00e0f0"/>
<path d="M1219.6 876.9L1213.1 876.8L1211.1 876.2L1209.8 874.9L1209.3 873.4L1209.4 871.9L1210 870.4L1211.6 869.1L1213.1 868.8L1228.6 868.9L1233.6 870.2L1235.7 871.4L1236.5 872.4L1235.5 873.9L1231.6 875.4L1226.1 876.5L1219.6 876.9Z" fill="#18ff80"/>
<path d="M1223.6 875.9L1212.3 875.9L1210.5 874.4L1210.2 871.9L1211.1 870.4L1212.1 869.8L1217.6 869.4L1229.1 869.9L1231.6 870.7L1233 871.9L1232.7 873.4L1231 874.4L1223.6 875.9Z" fill="#90ff10"/>
<path d="M1218.6 875.4L1212.1 875L1211.1 873.9L1211 871.9L1212.6 870.4L1219.1 870.2L1228.1 870.8L1229.9 871.4L1230.6 872.4L1229.9 873.4L1227.5 874.4L1218.6 875.4Z" fill="#ffe000"/>
<path d="M1218.6 874.4L1212.6 874L1212 873.4L1211.9 872.4L1213.1 871.4L1217.6 871.2L1223.6 871.5L1226.6 872.4L1225.7 873.4L1224.1 873.8L1218.6 874.4Z" fill="#ff7000"/>
<path d="M1221.1 873.4L1216.1 873.6L1213 872.9L1213.6 872.3L1217.6 871.9L1222.1 872.4L1222.7 872.9L1221.1 873.4Z" fill="#ff2000"/>
<path d="M1302.3 866.2h0M1295.9 880.2h0M1298.7 877.5h0M1303.3 863.5h0M1298.5 863.7h0M1258.6 866.5h0M1263.8 878.4h0M1287.7 861.6h0M1277.7 867h0M1304.1 875.8h0M1288 866.8h0M1274.6 867h0M1301.5 868.5h0M1296.5 867.1h0M1299.1 878.3h0M1246.8 879.5h0M1273.7 879.4h0M1312.7 867.1h0M1306.6 869.6h0M1257.2 881h0M1253.3 866.3h0M1222.3 884h0M1219.9 882.2h0M1296 882.6h0M1309 871.3h0M1305.5 867.8h0M1218.2 883h0M1246.1 862.4h0M1263.8 878.6h0M1297.7 865.8h0M1278.7 863.7h0M1284.1 883.6h0M1311.5 869h0M1230.1 880.7h0M1245.9 881.4h0M1252.4 881.3h0M1298 879.7h0M1235.9 865.1h0M1273.9 865.6h0M1287.5 864.8h0M1272.4 866.6h0M1220 882.7h0M1245.5 881.4h0M1202.9 869.6h0M1238.5 862.9h0M1269.4 866.8h0M1289.3 862.9h0M1221 863.6h0M1299.8 865.5h0M1281.9 864.1h0M1295.9 865.1h0M1297.9 866.5h0M1289.6 866.2h0M1217.1 880.8h0M1208 866.3h0M1217.6 881.7h0M1274.5 882.2h0M1216 864.2h0M1257.4 880.5h0M1276.5 882.2h0M1217.4 864.5h0M1300.3 862.8h0M1301.8 874.9h0M1303.9 868.9h0M1268 864.1h0M1265 866h0M1288.5 878.8h0M1309.5 875.1h0M1300.8 866.5h0M1310.5 866h0M1290.9 862.2h0M1301.8 874.6h0M1242.7 864.7h0M1270.2 865.4h0M1282.6 865.1h0M1268.6 867.3h0M1206.1 869.9h0M1210.2 882.7h0M1309.9 866.9h0M1312.9 878h0M1288.6 867h0M1253.2 883.8h0M1293.5 867.7h0M1246.9 863h0M1287.3 865.7h0M1242.6 864.6h0M1287.1 866.7h0M1307.5 876.5h0M1216.7 881.1h0M1308.8 876.2h0M1296.6 877.9h0M1262.3 865.7h0M1252.7 879.7h0M1254.7 879.5h0M1310.9 875.3h0M1227.4 880.5h0M1226.2 864.4h0M1308.7 873h0M1261.1 865.3h0M1262.4 865.5h0M1294.9 878.3h0M1291.1 877.9h0M1300.1 874.1h0M1256.1 864.6h0M1225.3 882.9h0M1206 867.3h0M1247.8 881.3h0M1242.6 881.5h0M1303.1 877.4h0M1213.9 881h0M1287.8 864.8h0M1274.7 863.6h0M1315.8 868.8h0M1299.9 866.6h0M1222.6 864.8h0M1206.3 877.9h0M1266.3 879.1h0M1279 865.7h0M1204.7 876.3h0M1306.4 875.3h0" stroke="#2a2aff" stroke-width="1.2" stroke-linecap="round" stroke-opacity="0.75"/>
<path d="M1268.9 872.1h0M1254.4 866.4h0M1228.9 879.7h0M1288.7 876.6h0M1286.4 873.4h0M1264.4 872.2h0M1259.6 876.5h0M1233.6 880.4h0M1260.3 867h0M1296.6 872.2h0M1281 866.3h0M1272.5 871.8h0M1279.8 871.9h0M1225.8 879.2h0M1234 879.1h0M1266.6 870.5h0M1292.8 874.3h0M1287.4 874.4h0M1264.7 873h0M1242 867.8h0M1262.2 872.9h0M1244.5 878h0M1225.4 866.3h0M1247.2 879.3h0M1284.6 870.2h0M1251 879.2h0M1287.7 875.6h0M1273.8 877.9h0M1280.8 873.1h0M1300.8 873.1h0M1290.5 872.1h0M1252.6 875h0M1263.9 868.6h0M1211.9 866.5h0M1272.1 874.7h0M1229.4 866.5h0M1273.1 870.3h0M1226.2 879h0M1295.5 869.2h0M1223.1 866.3h0" stroke="#4a7aff" stroke-width="1.1" stroke-linecap="round" stroke-opacity="0.9"/>
</g>
<path d="M1301.2 859.3h0M1285.2 852.1h0M1314.5 803.9h0M1232.4 832.8h0M1234.8 842.4h0M1223.2 843.6h0M1220.3 861.2h0M1240.1 831.3h0M1243.7 836.7h0M1222.9 846.1h0M1236.6 865.5h0M1238.4 829.9h0M1229 861.6h0M1210 850.3h0M1235.7 847h0M1240.4 827.3h0M1241.5 821.3h0M1204.7 856.4h0M1206.3 841.9h0M1222.4 844.4h0M1211.1 836.4h0M1203.1 805.4h0M1241.5 848.9h0M1224.6 831.8h0M1206 820h0M1232.6 863.3h0M1242.9 866.3h0M1230.1 826.2h0" stroke="#8c8cff" stroke-width="1.6" stroke-linecap="round" stroke-opacity="0.65"/>
<rect x="1188.6" y="748.4" width="145" height="143.8" fill="none" stroke="#959595" stroke-width="1.5"/>
<path d="M1188.6 757.4h-2.2M1188.6 786.4h-2.2M1188.6 819.4h-2.2M1188.6 849.4h-2.2M1188.6 874.9h-2.2M1188.6 887.4h-2.2M1208.6 892.2v2.2M1233.6 892.2v2.2M1283.6 892.2v2.2M1313.6 892.2v2.2" stroke="#8c8c8c" stroke-width="1.1"/>
<rect x="1186.4" y="873.9" width="2.2" height="2.5" fill="#555"/>
<rect x="1204.6" y="892.2" width="4" height="1.6" fill="#555"/>
<rect x="1253.3" y="765.6" width="66.8" height="93" fill="none" stroke="#7272c8" stroke-width="1.5"/>
<text x="1209.1" y="794.6" font-size="15" font-weight="bold" textLength="29" lengthAdjust="spacingAndGlyphs">0.01</text>
<g>
<path d="M1377.1 882.9L1366.6 882.6L1363.6 881.6L1360.9 879.4L1358.8 875.9L1358.4 871.9L1359.4 868.4L1362.1 865L1366.1 863.1L1372.6 862.7L1404.1 863.5L1453.6 863.5L1461.1 864.6L1467.1 866.7L1471.3 869.4L1472.6 870.9L1473.1 872.4L1472.9 873.9L1472.1 875.4L1468.6 878.1L1462.6 880.6L1456.1 881.8L1445.1 882.3L1402.1 882.1L1377.1 882.9Z" fill="#3c3cff" filter="url(#spkA)"/>
<path d="M1374.6 881.4L1366.1 881L1363.1 879.5L1361.2 877.4L1360 874.4L1360 871.4L1361.4 867.9L1363.6 865.7L1367.1 864.4L1374.1 864.2L1407.6 865.8L1452.1 866L1456.6 866.6L1461.1 868.2L1464.3 870.4L1465.4 872.4L1464.5 874.9L1462.1 876.8L1458.1 878.3L1453.1 879.2L1403.1 880L1374.6 881.4Z" fill="#1e1eff" filter="url(#spkB)"/>
<path d="M1383.1 879.9L1369.6 880.2L1365.1 879.4L1362.6 877.4L1361.3 874.9L1361 872.4L1361.8 869.4L1363.6 867.1L1366.1 865.7L1376.1 865.4L1408.6 867.7L1440.1 868.4L1452.1 867.9L1457.2 869.4L1459 870.9L1459.6 872.4L1459.2 873.9L1457.5 875.4L1454.6 876.6L1451.6 877L1402.1 878.4L1383.1 879.9Z" fill="#0808ff" filter="url(#spkC)"/>
<path d="M1382.6 878.9L1371.1 879.3L1367.6 879.2L1365.6 878.7L1363.8 877.4L1362.4 875.4L1361.9 872.9L1362.3 870.4L1364.1 867.9L1366.6 866.6L1376.1 866.3L1387.1 867.1L1404.6 869.3L1425.1 870.4L1432.9 872.4L1433.5 872.9L1424.6 876L1401.6 876.8L1382.6 878.9ZM1453.1 874.5L1450.6 874.9L1447.6 874.6L1444.3 873.4L1443.7 872.4L1445 871.4L1448.1 870.1L1452.6 870L1454.7 870.9L1455.5 872.4L1454.6 873.8L1453.1 874.5Z" fill="#0038ff"/>
<path d="M1374.6 878.4L1367.6 878.3L1364.6 876.9L1363.2 874.9L1362.8 872.9L1363.1 870.9L1364.4 868.9L1366.1 867.7L1368.1 867.2L1382.1 867.6L1392.6 869.1L1403.6 871.8L1411.1 872.7L1412.1 873.4L1410.6 873.9L1402.1 874.5L1387.6 877.3L1374.6 878.4Z" fill="#0090ff"/>
<path d="M1378.6 877.4L1369.6 877.6L1366.1 877.1L1364.6 875.9L1363.8 874.4L1363.5 872.4L1363.9 870.9L1365.1 869.2L1367.1 868.1L1377.1 868.1L1390.2 869.9L1394.6 871.4L1396.1 872.9L1394.4 874.4L1391.1 875.5L1378.6 877.4Z" fill="#00e0f0"/>
<path d="M1374.1 876.9L1368.1 876.8L1366.1 876.2L1364.8 874.9L1364.3 873.4L1364.3 871.9L1365 870.4L1367.6 868.8L1377.1 868.8L1386.6 870.3L1389.8 871.4L1391 872.4L1390.9 873.4L1390.4 873.9L1386.6 875.3L1380.6 876.4L1374.1 876.9Z" fill="#18ff80"/>
<path d="M1377.1 875.9L1367.1 875.9L1365.4 874.4L1365.1 871.9L1366.1 870.4L1367.1 869.7L1373.1 869.4L1381.9 870.4L1385.3 871.4L1386.7 872.4L1386.6 873.4L1384.8 874.4L1377.1 875.9Z" fill="#90ff10"/>
<path d="M1373.1 875.4L1367.1 875L1365.9 873.4L1366.1 871.6L1367.6 870.4L1373.6 870.2L1379.3 870.9L1382.8 872.4L1382.6 873.4L1380.5 874.4L1373.1 875.4Z" fill="#ffe000"/>
<path d="M1373.1 874.4L1367.6 874.1L1367 873.4L1366.9 872.4L1368.1 871.4L1373.1 871.2L1377.3 871.9L1378.4 872.9L1376.6 873.9L1373.1 874.4Z" fill="#ff7000"/>
<path d="M1374.1 873.5L1370.1 873.6L1367.8 872.9L1368.1 872.3L1370.8 871.9L1375.1 872.4L1375.4 872.9L1374.1 873.5Z" fill="#ff2000"/>
<path d="M1448.7 883.1h0M1430.8 883.9h0M1451.5 880.3h0M1461.3 866.2h0M1390.2 881.4h0M1404.6 880.2h0M1425.2 862.6h0M1379.9 881.4h0M1462 881.2h0M1445.4 879.6h0M1450.8 880.2h0M1453.8 883h0M1426.8 879.2h0M1441.8 863h0M1436.4 863.6h0M1399.8 880.2h0M1418.5 882.7h0M1431.6 880.2h0M1436.5 881.7h0M1451.4 883.9h0M1374.6 881.8h0M1419.6 866.4h0M1460.1 864.4h0M1411.7 879.3h0M1408.8 881.5h0M1465.1 874.2h0M1441.7 883.8h0M1400.2 863.4h0M1467.2 879h0M1437.5 864.3h0M1419.5 864.7h0M1418.1 879.5h0M1479.2 872.5h0M1441.2 883.8h0M1448.3 879.4h0M1443.9 882.5h0M1470.6 880.5h0M1396.4 881.7h0M1433.2 866.9h0M1446.3 883.5h0M1381.1 882.5h0M1361.6 880.1h0M1378.6 863.1h0M1458.1 880.7h0M1460.6 865.4h0M1399.3 864.8h0M1377.6 883.3h0M1430.7 878.5h0M1427.1 862.7h0M1361.7 877.8h0M1472.3 874.1h0M1455.2 878.3h0M1458.8 866.9h0M1458.4 877.1h0M1455.7 877.5h0M1461.1 878.3h0M1471.4 875.3h0M1456.9 877.1h0M1415.4 864.2h0M1468.9 870.4h0M1417.5 879.5h0M1436.1 862.1h0M1445.1 865.7h0M1421.9 864.2h0M1434 862.3h0M1396.5 865h0M1392.4 865.7h0M1474.6 876h0M1411.8 862.6h0M1465 876.6h0M1435.6 864.5h0M1429.2 881.7h0M1412.1 882h0M1385.3 863.6h0M1430 867.1h0M1478.2 874.7h0M1358.1 868.6h0M1453.3 878.9h0M1401.7 865.8h0M1367.1 863.7h0M1458.3 877.3h0M1426.1 866.4h0M1456 866.6h0M1387.2 880.8h0M1469.3 874.5h0M1359.9 868.8h0M1457.6 862.1h0M1422.2 864.1h0M1413.1 882.2h0M1400.1 864h0M1416.5 879.7h0M1434.7 879.2h0M1424.3 866.4h0M1393.8 880.1h0M1415.6 862.5h0M1431 863.6h0M1466.4 877.9h0M1479.3 873.1h0M1459.5 864.6h0M1406.3 865.9h0M1451 879.5h0M1429.5 882.2h0M1419.9 883.3h0M1370.5 863.2h0M1444 879.1h0M1395.7 864.9h0M1463.3 871.1h0M1425.6 866.6h0M1418.7 865.9h0M1464 879.9h0M1361.3 876.6h0M1472.2 870h0M1450.1 878.6h0M1425.7 879.8h0M1360.3 865.7h0M1466.5 877.5h0M1426.8 866.2h0M1453.7 866.3h0M1429.4 882h0M1449.2 878.2h0" stroke="#2a2aff" stroke-width="1.2" stroke-linecap="round" stroke-opacity="0.75"/>
<path d="M1391.6 878h0M1460.9 872.8h0M1448.1 876.5h0M1444.9 871.6h0M1442.9 879h0M1424.8 875.9h0M1445 869.2h0M1380.2 864.4h0M1426.9 874h0M1445.1 872.4h0M1364.3 865.7h0M1444.7 869.3h0M1401.2 878.2h0M1409.4 879.6h0M1453.6 878h0M1435.8 871.2h0M1421.6 866.1h0M1414.5 866.1h0M1439 878.3h0M1369.2 865.6h0M1435.1 879.2h0M1426.1 868.4h0M1434.3 876.8h0M1409.8 875.9h0M1403.8 876.9h0M1460 875.8h0M1374.5 865.4h0M1412.6 865.9h0M1442.9 870.7h0M1440 871.8h0M1459.3 872.3h0M1404.2 870h0M1451.6 867.2h0M1393.5 867.6h0M1433.9 866.6h0M1431.9 872h0M1394.7 866.8h0M1411.5 869.8h0M1361.5 875.7h0M1428.4 872.7h0" stroke="#4a7aff" stroke-width="1.1" stroke-linecap="round" stroke-opacity="0.9"/>
</g>
<path d="M1431.2 841h0M1438.7 812.6h0M1470.1 844.1h0M1436.8 823.9h0M1428.3 800.2h0M1466.1 823.2h0M1451.2 811.4h0M1434 778.2h0M1448.6 854.3h0M1463.8 817.6h0M1425.2 852.5h0M1457.1 827.2h0M1420.7 826.1h0M1447.1 826.2h0M1429.9 856.2h0M1457.7 822.2h0M1434.1 791.7h0M1450.1 855h0M1434.8 804.4h0M1428.1 814.1h0M1436.5 822.4h0M1465.1 821.3h0M1450.4 833.3h0M1428 784.7h0M1463.1 850.5h0M1466.5 856h0M1440.2 780.7h0M1447.5 834.7h0M1469.2 834.3h0M1467 859.3h0M1453.8 832.6h0M1443.2 804.1h0M1439.5 813.2h0M1441.1 829.6h0M1463.5 827.4h0M1427.3 855.1h0M1460.4 810.3h0M1447.1 852.6h0M1427.5 782.3h0M1460.7 808h0M1452.1 823.4h0M1468.5 843.3h0M1444.7 853.5h0M1442.2 837.2h0M1445.6 811.8h0M1437.6 853.8h0M1429.6 794.3h0M1469.7 818.6h0M1446.2 829.5h0M1445.5 807.2h0M1437.4 803.1h0M1462.3 847h0M1417.4 844.8h0M1442.8 799.3h0M1463.7 802h0M1466.3 861.1h0M1434 850.9h0M1444.1 808.8h0M1458.9 829.4h0M1458.4 839h0M1451.4 834.5h0M1449.4 791.4h0M1443 837.2h0M1446.3 824.2h0M1432.4 819.7h0M1446.2 832.3h0M1460.8 804.6h0M1471.5 838h0M1443.8 840.3h0M1454.7 818.3h0M1441.4 832.8h0M1435.3 856.1h0M1461.1 825.2h0M1447.5 824.7h0M1462 787.1h0M1473.3 821.7h0M1466.3 831.4h0M1412.1 826.4h0M1427.2 797.3h0M1463.2 810.5h0M1449.4 844.9h0M1465.7 785.7h0M1421 797.9h0M1458.7 796.7h0M1415.4 823.2h0M1436.6 838.6h0M1453.9 840.3h0M1454 809.3h0M1448 797.3h0M1443.6 826.6h0M1432 799.7h0M1461.1 812.2h0M1452.2 810.1h0M1435.2 773.1h0M1458 787.3h0M1439.7 837.8h0M1438.5 846.9h0M1459 841.4h0M1464.7 777.6h0M1463 833.8h0M1445.4 814.1h0M1458.4 843.2h0M1436.9 830.7h0M1450.4 830.9h0M1413.1 818.3h0M1462.8 852.8h0M1454.4 835.6h0M1440.9 835.2h0M1420.2 772.8h0M1446.1 828h0M1457.2 797h0M1454.4 805.5h0M1465.1 816.3h0M1442.2 812.3h0M1430.9 827.9h0M1420.5 815.4h0M1453.9 853.9h0M1457.9 832.7h0M1452.8 852.9h0M1455 858.1h0M1393.2 813.5h0M1386.9 825.1h0M1363.3 841h0M1392.9 843.4h0M1377.5 847.3h0M1404.9 865.4h0M1357.9 814.2h0M1390.4 849h0M1401.6 817.4h0M1375 837.2h0M1373.1 819.5h0M1397.2 852.9h0M1358.4 837.4h0M1394.8 821.4h0M1392 841.9h0M1397.3 866.3h0M1369.5 860.1h0M1366.5 855.2h0M1360 841.2h0M1381.9 830.7h0M1392.3 847.7h0M1366.6 844.5h0M1399.7 847.6h0M1364 813.4h0M1373.2 851.6h0M1397.4 863.3h0M1368.4 830.8h0M1370 855h0M1384.1 830.1h0M1395.4 806.5h0" stroke="#8c8cff" stroke-width="1.6" stroke-linecap="round" stroke-opacity="0.65"/>
<rect x="1343.6" y="748.4" width="145" height="143.8" fill="none" stroke="#959595" stroke-width="1.5"/>
<path d="M1343.6 757.4h-2.2M1343.6 786.4h-2.2M1343.6 819.4h-2.2M1343.6 849.4h-2.2M1343.6 874.9h-2.2M1343.6 887.4h-2.2M1363.6 892.2v2.2M1388.6 892.2v2.2M1438.6 892.2v2.2M1468.6 892.2v2.2" stroke="#8c8c8c" stroke-width="1.1"/>
<rect x="1341.4" y="873.9" width="2.2" height="2.5" fill="#555"/>
<rect x="1359.6" y="892.2" width="4" height="1.6" fill="#555"/>
<rect x="1408.3" y="765.6" width="66.8" height="93" fill="none" stroke="#7272c8" stroke-width="1.5"/>
<text x="1364.1" y="794.6" font-size="15" font-weight="bold" textLength="29" lengthAdjust="spacingAndGlyphs">0.28</text>
<g>
<path d="M1532.6 882.9L1521.6 882.6L1518.6 881.6L1515.9 879.4L1513.8 875.9L1513.3 872.4L1514.4 868.4L1516.6 865.5L1520.6 863.2L1527.1 862.7L1558.1 863.4L1608.1 863.5L1616.1 864.6L1622.1 866.6L1626.6 869.4L1627.8 870.9L1628.3 872.4L1628.2 873.9L1627.3 875.4L1623.6 878.3L1618.1 880.5L1611.6 881.8L1599.6 882.4L1557.6 882.1L1553.6 881.7L1547.1 880.2L1540.1 882.3L1532.6 882.9Z" fill="#3c3cff" filter="url(#spkA)"/>
<path d="M1530.1 881.4L1521.1 881L1518.6 879.8L1516.6 877.9L1515.3 875.4L1514.9 871.9L1515.8 868.9L1518.1 866.1L1521.6 864.5L1529.1 864.2L1568.1 865.8L1605.1 866.1L1611.1 866.8L1616.1 868.2L1619.1 870L1620.6 872.4L1619.8 874.9L1617.1 876.9L1613.1 878.4L1607.6 879.2L1597.6 879.7L1557.6 879.9L1547.6 879L1538.1 881L1530.1 881.4Z" fill="#1e1eff" filter="url(#spkB)"/>
<path d="M1536.6 879.9L1523.1 880.2L1519.6 879.2L1517.6 877.4L1516.3 874.9L1516 872.4L1516.8 869.4L1518.6 867.1L1521.6 865.6L1531.6 865.4L1571.1 867.9L1603.1 868.6L1610.1 869.9L1612.2 870.9L1613.4 872.4L1612.9 873.9L1610.6 875.3L1602.1 876.9L1556.1 878.2L1547.6 878L1536.6 879.9Z" fill="#0808ff" filter="url(#spkC)"/>
<path d="M1536.6 878.9L1526.1 879.3L1522.6 879.2L1520.6 878.7L1518.8 877.4L1517.4 875.4L1516.9 872.9L1517.3 870.4L1519.1 867.9L1521.6 866.6L1531.1 866.3L1561.6 868.9L1574.1 870.7L1592 871.9L1594.8 872.4L1595.3 872.9L1589.9 873.9L1547.1 877.1L1536.6 878.9Z" fill="#0038ff"/>
<path d="M1530.1 878.4L1522.6 878.3L1520.1 877.3L1518.4 875.4L1517.8 873.4L1518 871.4L1518.9 869.4L1520.6 868L1522.6 867.3L1533.6 867.4L1557.6 870.5L1561.5 871.4L1562.5 872.4L1561.2 873.4L1554.6 875.1L1546.1 876.1L1537.6 877.8L1530.1 878.4Z" fill="#0090ff"/>
<path d="M1533.6 877.4L1525.1 877.7L1521.1 877.1L1519.7 875.9L1518.8 874.4L1518.5 872.4L1518.9 870.9L1520.1 869.2L1522.1 868.2L1531.1 868L1544.6 869.7L1551.1 871.3L1553 872.4L1552.3 873.4L1550.1 874.2L1539.6 876.6L1533.6 877.4Z" fill="#00e0f0"/>
<path d="M1529.6 876.9L1523.1 876.8L1521.1 876.2L1519.8 874.9L1519.3 873.4L1519.4 871.9L1520 870.4L1522.6 868.8L1532.1 868.8L1542.1 870.4L1545.1 871.4L1546.4 872.4L1546.3 872.9L1544.9 873.9L1540.6 875.4L1535.6 876.4L1529.6 876.9Z" fill="#18ff80"/>
<path d="M1532.1 875.9L1522.1 875.8L1520.4 874.4L1520.2 871.9L1521.1 870.4L1522.1 869.8L1528.1 869.4L1537.1 870.4L1540.4 871.4L1541.7 872.4L1541.4 873.4L1539.6 874.4L1532.1 875.9Z" fill="#90ff10"/>
<path d="M1528.1 875.4L1522.1 875L1520.9 873.4L1521.1 871.6L1522.7 870.4L1529.1 870.2L1534.6 871L1537.9 872.4L1537.7 873.4L1535.5 874.4L1528.1 875.4Z" fill="#ffe000"/>
<path d="M1528.1 874.4L1522.6 874L1522 873.4L1521.9 872.4L1523.1 871.4L1528.1 871.2L1532.4 871.9L1533.5 872.9L1531.8 873.9L1528.1 874.4Z" fill="#ff7000"/>
<path d="M1529.6 873.4L1525.6 873.6L1522.9 872.9L1523.1 872.4L1524.1 872.2L1527.8 871.9L1530.2 872.4L1530.6 872.9L1529.6 873.4Z" fill="#ff2000"/>
<path d="M1607.2 878.2h0M1619.4 870.9h0M1627.4 876h0M1596.7 865.6h0M1629.3 877.6h0M1607.8 881.1h0M1594 864.3h0M1613.1 862h0M1567 866h0M1622 871.1h0M1584.9 865.9h0M1628.3 873.7h0M1620.7 868.3h0M1615.7 864.1h0M1515.3 879.9h0M1598.2 867.2h0M1598.7 881.3h0M1574.4 880.6h0M1597.9 864h0M1550.8 881h0M1543.9 880.3h0M1517.6 865.6h0M1551.7 865.8h0M1614 877.7h0M1611.8 866.2h0M1585.7 864.3h0M1609.9 877.7h0M1618.1 879.2h0M1614.6 863.9h0M1623.6 871.5h0M1620.8 876.3h0M1613.7 861.9h0M1513.4 874h0M1611.8 881.9h0M1572.8 866.3h0M1612.4 880.5h0M1617.9 869.6h0M1570.4 861.5h0M1615.6 879.7h0M1580.6 880.2h0M1601 880.3h0M1571.7 864.8h0M1562.9 882.8h0M1605.5 879.5h0M1605.1 864.3h0M1525.9 862.1h0M1571.9 878.6h0M1618.6 875.4h0M1617.2 874.8h0M1570.3 865.1h0M1571.4 864.8h0M1539.2 881.9h0M1578.6 879.1h0M1520.4 880.7h0M1561.5 880.6h0M1572.7 863.7h0M1519.7 880.9h0M1578.9 879.8h0M1540.5 862.2h0M1559.4 865.8h0M1613.3 878h0M1599.8 883.1h0M1553.6 880.2h0M1603.1 866.7h0M1590.2 880.3h0M1576.8 866.8h0M1596.9 866.3h0M1570.4 881.2h0M1575.3 879h0M1592.7 863.8h0M1606.4 878.2h0M1612.1 865.6h0M1607.5 867.4h0M1535.5 864.7h0M1578.2 879.6h0M1515.6 874.8h0M1595.6 879.8h0M1608.2 877.6h0M1567.4 864.8h0M1629.7 868.8h0M1617.2 869h0M1586 879.4h0M1588 878.9h0M1605 883.2h0M1546.6 864.3h0M1521.3 882h0M1614.4 878.8h0M1587.3 865.1h0M1585.9 862h0M1607.8 879.9h0M1538.9 862.1h0M1565.1 879.6h0M1528 864.1h0M1610.1 867.4h0M1573.7 881.9h0M1580.8 881.3h0M1524.8 880.8h0M1547.7 880.4h0M1590.8 862h0M1575.9 878.9h0M1583.4 864h0M1553.2 882.3h0M1522.5 880.8h0M1570.8 864.1h0M1611.4 867.7h0M1577.7 878.6h0M1515.6 866.7h0M1611.8 878.3h0M1623.3 877h0M1561.4 879h0M1603.1 879.1h0M1581.9 880.6h0M1547 880.5h0M1618.1 868.1h0M1611.2 863.9h0M1558.1 879.7h0M1571.7 879.5h0M1525 862h0M1631.1 875.3h0M1572.8 880.2h0" stroke="#2a2aff" stroke-width="1.2" stroke-linecap="round" stroke-opacity="0.75"/>
<path d="M1601.8 869.4h0M1594.6 869.2h0M1592.5 873.5h0M1580.4 875.1h0M1598.2 873.5h0M1567.1 875.5h0M1611.1 873.9h0M1617.6 872h0M1576 872.7h0M1522.2 866.3h0M1564.7 876.2h0M1552.1 878.7h0M1576.7 868.1h0M1612.9 868.2h0M1516.6 874.4h0M1608.2 867.8h0M1531 880.7h0M1575.6 877.9h0M1579.3 876.1h0M1545.6 865.2h0M1567.6 867.6h0M1613.5 873.1h0M1561.6 868.9h0M1584.5 868.2h0M1541.5 864.7h0M1570.2 867.8h0M1585.1 875.7h0M1563.7 866.9h0M1547.2 877.3h0M1604.2 878h0M1598.2 877.8h0M1600.2 876.8h0M1619.2 872.6h0M1571.2 873.9h0M1553.7 867.2h0M1597.7 872h0M1546.5 866.7h0M1579.9 872.7h0M1593.1 870.4h0M1606.7 875.6h0" stroke="#4a7aff" stroke-width="1.1" stroke-linecap="round" stroke-opacity="0.9"/>
</g>
<path d="M1598.3 797.1h0M1611 776.2h0M1619.6 854.8h0M1605.2 841.3h0M1620.1 813.6h0M1627.6 801.5h0M1571.9 817.9h0M1600.4 831h0M1618 822.7h0M1609 829.9h0M1625.2 828.8h0M1602.1 784.7h0M1599.7 830.7h0M1576.9 794.2h0M1601.2 813.5h0M1604.2 852.3h0M1580.5 857h0M1608.4 804.7h0M1576.8 801.6h0M1612.2 837.2h0M1615.8 785h0M1620.3 841.2h0M1603.5 823.2h0M1588.7 828.8h0M1603.2 806.2h0M1616.9 812.3h0M1579 821.2h0M1589.4 820.9h0M1611.9 803.4h0M1614.4 807.2h0M1610.5 810.9h0M1616.7 850.3h0M1615.6 792.7h0M1597.9 838.8h0M1588.9 813.9h0M1592.7 852.1h0M1618.9 854.7h0M1594.5 814.2h0M1624.7 852.9h0M1595.8 828h0M1606.1 806.6h0M1622.4 850.2h0M1616.5 800.9h0M1617.3 806.8h0M1596.1 799.2h0M1608.1 795.8h0M1612.2 842.7h0M1588.8 817.7h0M1613.6 796.8h0M1591.3 784.8h0M1571.4 847.8h0M1596.3 835.4h0M1572.1 855.6h0M1577.8 788.1h0M1625.2 821h0M1592.8 820.7h0M1590.9 845.2h0M1569 837.2h0M1607 829.8h0M1585.8 806.5h0M1623.3 806.4h0M1619.4 785.5h0M1607.3 859.3h0M1581.6 832.5h0M1617.1 846.2h0M1620.6 785.9h0M1601.9 847.8h0M1591.3 821.3h0M1623.2 834.1h0M1614.9 817.2h0M1596.2 815.9h0M1604.1 795.4h0M1595.7 820.4h0M1601 825.3h0M1622.9 833.3h0M1599.5 783h0M1596.4 804.5h0M1606.1 831.8h0M1590.5 788.9h0M1605.5 836.3h0M1615.2 823.2h0M1614 778.6h0M1606.2 798h0M1592.9 829.7h0M1577.3 799.6h0M1574.7 820.3h0M1612.4 796.4h0M1611.7 856.7h0M1611.7 812.3h0M1577.7 801.9h0M1618.5 817.4h0M1606.9 807.4h0M1619.8 782.7h0M1611.5 833h0M1612.4 801.8h0M1584.1 780.5h0M1619.2 799.5h0M1592.2 832.7h0M1622.3 837.5h0M1592.6 818.7h0M1611 818.8h0M1579.5 820.8h0M1591.9 846.5h0M1613 806.4h0M1609.8 794.2h0M1595.4 790.3h0M1594.4 860.8h0M1612.4 844h0M1602.5 854h0M1622.2 861.3h0M1608.5 823.2h0M1592.2 779.1h0M1597 828h0M1597.6 807h0M1623.9 831.8h0M1584.7 812.6h0M1585.8 812.6h0M1582.6 804.4h0M1605.5 817.7h0M1621.4 843.4h0M1580.8 821.8h0M1594.4 837.2h0M1616 825.5h0M1603.6 784h0M1627.9 837.5h0M1585.7 822.3h0M1585.8 807.5h0M1611.2 824h0M1611.3 795.2h0M1600 828.7h0M1576.5 775.6h0M1611.1 774.1h0M1588.9 811.8h0M1602.3 810.6h0M1592.7 804.4h0M1573.1 834.1h0M1603.7 826h0M1611.1 799.2h0M1590.3 842.1h0M1587.6 788h0M1609.5 787.9h0M1616.7 819.4h0M1587.9 822.1h0M1593.4 794.7h0M1617.9 829.5h0M1590.9 849h0M1614.8 817.6h0M1617.4 782.3h0M1568.6 844.8h0M1579.3 800.8h0M1608.9 785.9h0M1594.7 812.3h0M1605 776.4h0M1594.8 835.7h0M1621.2 820.5h0M1625.7 832.1h0M1614.6 802.1h0M1625.5 809.1h0M1619.4 794.7h0M1595.4 780.7h0M1605.3 851.1h0M1583.1 834.5h0M1611.3 855.2h0M1602.1 795.6h0M1618.6 820.3h0M1606.7 820.9h0M1595.3 856.6h0M1604.6 824.1h0M1598.6 790.9h0M1609.2 845.2h0M1615.3 841.5h0M1619.1 785.3h0M1579.2 851.2h0M1617.7 785.2h0M1615.7 793.3h0M1613.5 825.4h0M1586.8 824.6h0M1609.5 794.7h0M1596.5 850.6h0M1582 839.7h0M1597.5 831.3h0M1608 792.6h0M1615.2 824.6h0M1623.7 776.6h0M1602.8 855.3h0M1591.2 808.5h0M1607.2 794.3h0M1610.4 844.5h0M1586.1 800.8h0M1589.8 803.4h0M1526.1 856.5h0M1532 864.3h0M1517.2 837.5h0M1528.4 828.5h0M1528.5 841.7h0M1516.8 863h0M1524.1 864.1h0M1525.6 852.9h0M1538.6 851.2h0M1542.8 827.9h0M1544.2 818.3h0M1531.8 834.5h0M1553.3 807.5h0M1533 839.6h0M1536.8 864.8h0M1525.9 807.4h0M1534.8 827.6h0M1529.4 831.5h0M1549 837.4h0M1554.7 815.3h0M1517.7 823.8h0M1549 830.6h0M1541.8 863.1h0M1528.6 844.8h0M1536.5 851.3h0M1550.9 852.5h0M1544.6 860.7h0M1523.2 841.8h0M1512.3 826.4h0M1527.4 830h0M1514.6 852.6h0M1546.5 828.8h0M1519.7 860.7h0M1535.3 828.8h0M1551.8 847.1h0M1537.4 856.8h0M1511.9 852.2h0M1520.4 819.2h0M1529.8 832.6h0M1532.7 858.4h0M1544.8 844.4h0M1530.6 851.7h0M1519.1 856.2h0M1524.2 851.5h0M1533.4 808.4h0" stroke="#8c8cff" stroke-width="1.6" stroke-linecap="round" stroke-opacity="0.65"/>
<rect x="1498.6" y="748.4" width="145" height="143.8" fill="none" stroke="#959595" stroke-width="1.5"/>
<path d="M1498.6 757.4h-2.2M1498.6 786.4h-2.2M1498.6 819.4h-2.2M1498.6 849.4h-2.2M1498.6 874.9h-2.2M1498.6 887.4h-2.2M1518.6 892.2v2.2M1543.6 892.2v2.2M1593.6 892.2v2.2M1623.6 892.2v2.2" stroke="#8c8c8c" stroke-width="1.1"/>
<rect x="1496.4" y="873.9" width="2.2" height="2.5" fill="#555"/>
<rect x="1514.6" y="892.2" width="4" height="1.6" fill="#555"/>
<rect x="1563.3" y="765.6" width="66.8" height="93" fill="none" stroke="#7272c8" stroke-width="1.5"/>
<text x="1519.1" y="794.6" font-size="15" font-weight="bold" textLength="29" lengthAdjust="spacingAndGlyphs">0.37</text>
<line x1="232.8" y1="1253.7" x2="232.8" y2="1255.6" stroke="#000000" stroke-width="2.6"/>
<line x1="232.8" y1="1258.1" x2="232.8" y2="1259.3" stroke="#000000" stroke-width="2.6"/>
<rect x="225.5" y="1255.6" width="14.7" height="2.5" fill="none" stroke="#000000" stroke-width="3.1"/>
<line x1="225.5" y1="1256.8" x2="240.2" y2="1256.8" stroke="#000000" stroke-width="2.6"/>
<circle cx="229.8" cy="1253.7" r="4.8" fill="#000000"/>
<circle cx="227.8" cy="1256.8" r="4.8" fill="#000000"/>
<circle cx="236.8" cy="1256.8" r="4.8" fill="#000000"/>
<circle cx="233.8" cy="1258.1" r="4.8" fill="#000000"/>
<circle cx="237.8" cy="1259.3" r="4.8" fill="#000000"/>
<line x1="259.6" y1="1257.8" x2="259.6" y2="1258.1" stroke="#4a9bff" stroke-width="2.6"/>
<line x1="259.6" y1="1259.3" x2="259.6" y2="1259.3" stroke="#4a9bff" stroke-width="2.6"/>
<rect x="252.3" y="1258.1" width="14.7" height="1.2" fill="none" stroke="#4a9bff" stroke-width="3.1"/>
<line x1="252.3" y1="1258.7" x2="267" y2="1258.7" stroke="#4a9bff" stroke-width="2.6"/>
<circle cx="254.6" cy="1258.1" r="4.8" fill="#4a9bff"/>
<circle cx="256.6" cy="1259.3" r="4.8" fill="#4a9bff"/>
<circle cx="261.6" cy="1258.7" r="4.8" fill="#4a9bff"/>
<circle cx="264.6" cy="1259.3" r="4.8" fill="#4a9bff"/>
<circle cx="259.6" cy="1257.8" r="4.8" fill="#4a9bff"/>
<line x1="286.4" y1="1253.1" x2="286.4" y2="1254.3" stroke="#4d4dff" stroke-width="2.6"/>
<line x1="286.4" y1="1257.4" x2="286.4" y2="1258.1" stroke="#4d4dff" stroke-width="2.6"/>
<rect x="279" y="1254.3" width="14.7" height="3.1" fill="none" stroke="#4d4dff" stroke-width="3.1"/>
<line x1="279" y1="1256.2" x2="293.8" y2="1256.2" stroke="#4d4dff" stroke-width="2.6"/>
<circle cx="283.4" cy="1253.1" r="4.8" fill="#4d4dff"/>
<circle cx="290.4" cy="1255.6" r="4.8" fill="#4d4dff"/>
<circle cx="281.4" cy="1256.8" r="4.8" fill="#4d4dff"/>
<circle cx="287.4" cy="1257.4" r="4.8" fill="#4d4dff"/>
<circle cx="291.4" cy="1254.3" r="4.8" fill="#4d4dff"/>
<line x1="313.2" y1="1244.3" x2="313.2" y2="1249.9" stroke="#ff0a78" stroke-width="2.6"/>
<line x1="313.2" y1="1255.6" x2="313.2" y2="1256.8" stroke="#ff0a78" stroke-width="2.6"/>
<rect x="305.8" y="1249.9" width="14.7" height="5.6" fill="none" stroke="#ff0a78" stroke-width="3.1"/>
<line x1="305.8" y1="1254.3" x2="320.6" y2="1254.3" stroke="#ff0a78" stroke-width="2.6"/>
<circle cx="313.2" cy="1244.3" r="4.8" fill="#ff0a78"/>
<circle cx="309.2" cy="1253.1" r="4.8" fill="#ff0a78"/>
<circle cx="317.2" cy="1255.6" r="4.8" fill="#ff0a78"/>
<circle cx="313.2" cy="1254.3" r="4.8" fill="#ff0a78"/>
<circle cx="310.2" cy="1256.8" r="4.8" fill="#ff0a78"/>
<line x1="357.6" y1="1256.8" x2="357.6" y2="1257.4" stroke="#000000" stroke-width="2.6"/>
<line x1="357.6" y1="1258.7" x2="357.6" y2="1259.3" stroke="#000000" stroke-width="2.6"/>
<rect x="350.2" y="1257.4" width="14.7" height="1.2" fill="none" stroke="#000000" stroke-width="3.1"/>
<line x1="350.2" y1="1258.1" x2="365" y2="1258.1" stroke="#000000" stroke-width="2.6"/>
<circle cx="353.6" cy="1256.8" r="4.8" fill="#000000"/>
<circle cx="357.6" cy="1258.1" r="4.8" fill="#000000"/>
<circle cx="361.6" cy="1258.7" r="4.8" fill="#000000"/>
<circle cx="363.6" cy="1259.3" r="4.8" fill="#000000"/>
<circle cx="351.6" cy="1257.4" r="4.8" fill="#000000"/>
<line x1="384.4" y1="1254.3" x2="384.4" y2="1254.9" stroke="#4a9bff" stroke-width="2.6"/>
<line x1="384.4" y1="1256.2" x2="384.4" y2="1256.8" stroke="#4a9bff" stroke-width="2.6"/>
<rect x="377.1" y="1254.9" width="14.7" height="1.2" fill="none" stroke="#4a9bff" stroke-width="3.1"/>
<line x1="377.1" y1="1255.6" x2="391.8" y2="1255.6" stroke="#4a9bff" stroke-width="2.6"/>
<circle cx="380.4" cy="1254.3" r="4.8" fill="#4a9bff"/>
<circle cx="384.4" cy="1255.6" r="4.8" fill="#4a9bff"/>
<circle cx="388.4" cy="1256.2" r="4.8" fill="#4a9bff"/>
<circle cx="390.4" cy="1256.8" r="4.8" fill="#4a9bff"/>
<circle cx="378.4" cy="1254.9" r="4.8" fill="#4a9bff"/>
<line x1="411.2" y1="1166.9" x2="411.2" y2="1177.6" stroke="#4d4dff" stroke-width="2.6"/>
<line x1="411.2" y1="1207.1" x2="411.2" y2="1221.9" stroke="#4d4dff" stroke-width="2.6"/>
<rect x="403.8" y="1177.6" width="14.7" height="29.6" fill="none" stroke="#4d4dff" stroke-width="3.1"/>
<line x1="403.8" y1="1193.2" x2="418.6" y2="1193.2" stroke="#4d4dff" stroke-width="2.6"/>
<circle cx="411.2" cy="1166.9" r="4.8" fill="#4d4dff"/>
<circle cx="406.2" cy="1186.9" r="4.8" fill="#4d4dff"/>
<circle cx="411.2" cy="1193.2" r="4.8" fill="#4d4dff"/>
<circle cx="416.2" cy="1194.4" r="4.8" fill="#4d4dff"/>
<circle cx="411.2" cy="1221.9" r="4.8" fill="#4d4dff"/>
<line x1="438" y1="1033.4" x2="438" y2="1065.9" stroke="#ff0a78" stroke-width="2.6"/>
<line x1="438" y1="1126.5" x2="438" y2="1137" stroke="#ff0a78" stroke-width="2.6"/>
<rect x="430.6" y="1065.9" width="14.7" height="60.7" fill="none" stroke="#ff0a78" stroke-width="3.1"/>
<line x1="430.6" y1="1097.1" x2="445.4" y2="1097.1" stroke="#ff0a78" stroke-width="2.6"/>
<circle cx="438" cy="1033.4" r="4.8" fill="#ff0a78"/>
<circle cx="432.5" cy="1095.8" r="4.8" fill="#ff0a78"/>
<circle cx="443.5" cy="1095.8" r="4.8" fill="#ff0a78"/>
<circle cx="438" cy="1117" r="4.8" fill="#ff0a78"/>
<circle cx="438" cy="1137" r="4.8" fill="#ff0a78"/>
<line x1="482" y1="1256.8" x2="482" y2="1257.4" stroke="#000000" stroke-width="2.6"/>
<line x1="482" y1="1258.7" x2="482" y2="1259.3" stroke="#000000" stroke-width="2.6"/>
<rect x="474.7" y="1257.4" width="14.7" height="1.2" fill="none" stroke="#000000" stroke-width="3.1"/>
<line x1="474.7" y1="1258.1" x2="489.4" y2="1258.1" stroke="#000000" stroke-width="2.6"/>
<circle cx="477" cy="1256.8" r="4.8" fill="#000000"/>
<circle cx="482" cy="1258.1" r="4.8" fill="#000000"/>
<circle cx="486" cy="1258.7" r="4.8" fill="#000000"/>
<circle cx="488" cy="1259.3" r="4.8" fill="#000000"/>
<circle cx="479" cy="1257.8" r="4.8" fill="#000000"/>
<line x1="508.8" y1="1254.9" x2="508.8" y2="1255.6" stroke="#4a9bff" stroke-width="2.6"/>
<line x1="508.8" y1="1256.6" x2="508.8" y2="1256.8" stroke="#4a9bff" stroke-width="2.6"/>
<rect x="501.5" y="1255.6" width="14.7" height="1" fill="none" stroke="#4a9bff" stroke-width="3.1"/>
<line x1="501.5" y1="1256.2" x2="516.2" y2="1256.2" stroke="#4a9bff" stroke-width="2.6"/>
<circle cx="504.8" cy="1254.9" r="4.8" fill="#4a9bff"/>
<circle cx="508.8" cy="1255.6" r="4.8" fill="#4a9bff"/>
<circle cx="512.8" cy="1256.2" r="4.8" fill="#4a9bff"/>
<circle cx="514.8" cy="1256.8" r="4.8" fill="#4a9bff"/>
<circle cx="502.8" cy="1255.6" r="4.8" fill="#4a9bff"/>
<line x1="535.6" y1="1191.9" x2="535.6" y2="1196.9" stroke="#4d4dff" stroke-width="2.6"/>
<line x1="535.6" y1="1225.6" x2="535.6" y2="1228.1" stroke="#4d4dff" stroke-width="2.6"/>
<rect x="528.2" y="1196.9" width="14.7" height="28.7" fill="none" stroke="#4d4dff" stroke-width="3.1"/>
<line x1="528.2" y1="1219.4" x2="543" y2="1219.4" stroke="#4d4dff" stroke-width="2.6"/>
<circle cx="535.6" cy="1191.9" r="4.8" fill="#4d4dff"/>
<circle cx="535.6" cy="1196.9" r="4.8" fill="#4d4dff"/>
<circle cx="530.6" cy="1218.1" r="4.8" fill="#4d4dff"/>
<circle cx="540.6" cy="1223.1" r="4.8" fill="#4d4dff"/>
<circle cx="530.6" cy="1228.1" r="4.8" fill="#4d4dff"/>
<line x1="562.4" y1="1042.9" x2="562.4" y2="1064.6" stroke="#ff0a78" stroke-width="2.6"/>
<line x1="562.4" y1="1110.8" x2="562.4" y2="1119.5" stroke="#ff0a78" stroke-width="2.6"/>
<rect x="555.1" y="1064.6" width="14.7" height="46.2" fill="none" stroke="#ff0a78" stroke-width="3.1"/>
<line x1="555.1" y1="1087.1" x2="569.8" y2="1087.1" stroke="#ff0a78" stroke-width="2.6"/>
<circle cx="562.4" cy="1042.9" r="4.8" fill="#ff0a78"/>
<circle cx="556.9" cy="1087.1" r="4.8" fill="#ff0a78"/>
<circle cx="567.9" cy="1084.6" r="4.8" fill="#ff0a78"/>
<circle cx="562.4" cy="1103.3" r="4.8" fill="#ff0a78"/>
<circle cx="562.4" cy="1119.5" r="4.8" fill="#ff0a78"/>
<line x1="211.2" y1="1260.8" x2="211.2" y2="1009.7" stroke="#000" stroke-width="3.2"/>
<line x1="203.7" y1="1259.3" x2="211.2" y2="1259.3" stroke="#000" stroke-width="3"/>
<text x="201.8" y="1266.3" font-size="19.6" font-weight="bold" text-anchor="end">0.0</text>
<line x1="203.7" y1="1196.9" x2="211.2" y2="1196.9" stroke="#000" stroke-width="3"/>
<text x="201.8" y="1203.9" font-size="19.6" font-weight="bold" text-anchor="end">0.5</text>
<line x1="203.7" y1="1134.5" x2="211.2" y2="1134.5" stroke="#000" stroke-width="3"/>
<text x="201.8" y="1141.5" font-size="19.6" font-weight="bold" text-anchor="end">1.0</text>
<line x1="203.7" y1="1072.1" x2="211.2" y2="1072.1" stroke="#000" stroke-width="3"/>
<text x="201.8" y="1079.1" font-size="19.6" font-weight="bold" text-anchor="end">1.5</text>
<line x1="203.7" y1="1009.7" x2="211.2" y2="1009.7" stroke="#000" stroke-width="3"/>
<text x="201.8" y="1016.7" font-size="19.6" font-weight="bold" text-anchor="end">2.0</text>
<line x1="209.7" y1="1259.3" x2="585.4" y2="1259.3" stroke="#000" stroke-width="3.2"/>
<line x1="273" y1="1259.3" x2="273" y2="1266.3" stroke="#000" stroke-width="3"/>
<line x1="397.8" y1="1259.3" x2="397.8" y2="1266.3" stroke="#000" stroke-width="3"/>
<line x1="522.2" y1="1259.3" x2="522.2" y2="1266.3" stroke="#000" stroke-width="3"/>
<text x="104.2" y="1293.2" font-size="19.2" font-weight="bold">Stimulation:</text>
<text x="273" y="1293.5" font-size="19.28" font-weight="bold" text-anchor="middle">NT</text>
<text x="397.8" y="1293.5" font-size="19.09" font-weight="bold" text-anchor="middle">H1N1</text>
<text x="522.2" y="1293.5" font-size="19.19" font-weight="bold" text-anchor="middle">H3N2</text>
<text x="165.1" y="1123.9" font-size="21" font-weight="bold" text-anchor="middle" transform="rotate(-90 165.1 1123.9)">% IFN-γ<tspan dy="-8.5" font-size="13.5">+</tspan><tspan dy="8.5">CD4</tspan><tspan dy="-8.5" font-size="13.5">+</tspan><tspan dy="8.5"> T cells</tspan></text>
<text x="370" y="986.7" font-size="16.02" font-weight="bold"><tspan font-style="italic">P</tspan> &lt; 0.0001</text>
<line x1="384.5" y1="992.7" x2="437.8" y2="992.7" stroke="#000" stroke-width="2"/>
<text x="384.7" y="1014.5" font-size="15.64" font-weight="bold"><tspan font-style="italic">P</tspan> &lt; 0.0001</text>
<line x1="411.1" y1="1020.6" x2="437.8" y2="1020.6" stroke="#000" stroke-width="2"/>
<text x="349.4" y="1148.6" font-size="15.94" font-weight="bold"><tspan font-style="italic">P</tspan> = 0.0016</text>
<line x1="384.5" y1="1154.4" x2="411.1" y2="1154.4" stroke="#000" stroke-width="2"/>
<text x="359.8" y="1236.3" font-size="17.55" font-weight="bold">ns</text>
<line x1="357.8" y1="1241.6" x2="384.5" y2="1241.6" stroke="#000" stroke-width="2"/>
<text x="495.5" y="995.7" font-size="15.95" font-weight="bold"><tspan font-style="italic">P</tspan> &lt; 0.0001</text>
<line x1="508.4" y1="1001.6" x2="561.7" y2="1001.6" stroke="#000" stroke-width="2"/>
<text x="507.8" y="1023.8" font-size="15.93" font-weight="bold"><tspan font-style="italic">P</tspan> &lt; 0.0001</text>
<line x1="535.2" y1="1029.4" x2="561.7" y2="1029.4" stroke="#000" stroke-width="2"/>
<text x="483.5" y="1173.8" font-size="15.82" font-weight="bold"><tspan font-style="italic">P</tspan> = 0.0032</text>
<line x1="509.4" y1="1179.4" x2="536.4" y2="1179.4" stroke="#000" stroke-width="2"/>
<text x="483.4" y="1236.8" font-size="18.11" font-weight="bold">ns</text>
<line x1="481.3" y1="1241.9" x2="508.4" y2="1241.9" stroke="#000" stroke-width="2"/>
<rect x="611.7" y="1021.7" width="24.2" height="10.7" fill="none" stroke="#000000" stroke-width="2.8"/>
<text x="651.9" y="1034.5" font-size="21">Mock</text>
<rect x="611.7" y="1050.8" width="24.2" height="10.7" fill="none" stroke="#4a9bff" stroke-width="2.8"/>
<text x="651.9" y="1063.6" font-size="21">H3N2 (<tspan font-style="italic">i.m.</tspan>)</text>
<rect x="611.7" y="1079.9" width="24.2" height="10.7" fill="none" stroke="#4d4dff" stroke-width="2.8"/>
<text x="651.9" y="1092.6" font-size="21">H3N2+NVT (<tspan font-style="italic">i.m.</tspan>)</text>
<rect x="611.7" y="1109" width="24.2" height="10.7" fill="none" stroke="#ff0a78" stroke-width="2.8"/>
<text x="651.9" y="1121.7" font-size="21">H3N2+NVT (<tspan font-style="italic">i.n.</tspan>)</text>
<line x1="1051.7" y1="1248.2" x2="1051.7" y2="1251.2" stroke="#000000" stroke-width="2.6"/>
<line x1="1051.7" y1="1260.1" x2="1051.7" y2="1260.1" stroke="#000000" stroke-width="2.6"/>
<rect x="1044.4" y="1251.2" width="14.7" height="8.9" fill="none" stroke="#000000" stroke-width="3.1"/>
<line x1="1044.4" y1="1254.2" x2="1059" y2="1254.2" stroke="#000000" stroke-width="2.6"/>
<circle cx="1047.7" cy="1248.2" r="4.7" fill="#000000"/>
<circle cx="1055.7" cy="1254.2" r="4.7" fill="#000000"/>
<circle cx="1046.7" cy="1260.1" r="4.7" fill="#000000"/>
<circle cx="1055.7" cy="1260.1" r="4.7" fill="#000000"/>
<circle cx="1045.7" cy="1254.2" r="4.7" fill="#000000"/>
<line x1="1077.1" y1="1242.3" x2="1077.1" y2="1248.2" stroke="#4a9bff" stroke-width="2.6"/>
<line x1="1077.1" y1="1254.2" x2="1077.1" y2="1254.2" stroke="#4a9bff" stroke-width="2.6"/>
<rect x="1069.8" y="1248.2" width="14.7" height="5.9" fill="none" stroke="#4a9bff" stroke-width="3.1"/>
<line x1="1069.8" y1="1254.2" x2="1084.4" y2="1254.2" stroke="#4a9bff" stroke-width="2.6"/>
<circle cx="1077.1" cy="1242.3" r="4.7" fill="#4a9bff"/>
<circle cx="1072.1" cy="1248.2" r="4.7" fill="#4a9bff"/>
<circle cx="1082.1" cy="1254.2" r="4.7" fill="#4a9bff"/>
<circle cx="1072.1" cy="1254.2" r="4.7" fill="#4a9bff"/>
<circle cx="1080.1" cy="1251.2" r="4.7" fill="#4a9bff"/>
<line x1="1102.5" y1="1248.2" x2="1102.5" y2="1251.2" stroke="#4d4dff" stroke-width="2.6"/>
<line x1="1102.5" y1="1257.1" x2="1102.5" y2="1260.1" stroke="#4d4dff" stroke-width="2.6"/>
<rect x="1095.2" y="1251.2" width="14.7" height="5.9" fill="none" stroke="#4d4dff" stroke-width="3.1"/>
<line x1="1095.2" y1="1254.2" x2="1109.8" y2="1254.2" stroke="#4d4dff" stroke-width="2.6"/>
<circle cx="1098.5" cy="1248.2" r="4.7" fill="#4d4dff"/>
<circle cx="1108.5" cy="1254.2" r="4.7" fill="#4d4dff"/>
<circle cx="1099.5" cy="1257.1" r="4.7" fill="#4d4dff"/>
<circle cx="1100.5" cy="1260.1" r="4.7" fill="#4d4dff"/>
<circle cx="1106.5" cy="1251.2" r="4.7" fill="#4d4dff"/>
<line x1="1127.9" y1="1242.3" x2="1127.9" y2="1248.2" stroke="#ff0a78" stroke-width="2.6"/>
<line x1="1127.9" y1="1254.2" x2="1127.9" y2="1254.2" stroke="#ff0a78" stroke-width="2.6"/>
<rect x="1120.5" y="1248.2" width="14.7" height="5.9" fill="none" stroke="#ff0a78" stroke-width="3.1"/>
<line x1="1120.5" y1="1254.2" x2="1135.2" y2="1254.2" stroke="#ff0a78" stroke-width="2.6"/>
<circle cx="1127.9" cy="1242.3" r="4.7" fill="#ff0a78"/>
<circle cx="1122.9" cy="1248.2" r="4.7" fill="#ff0a78"/>
<circle cx="1132.9" cy="1254.2" r="4.7" fill="#ff0a78"/>
<circle cx="1122.9" cy="1254.2" r="4.7" fill="#ff0a78"/>
<circle cx="1130.9" cy="1251.2" r="4.7" fill="#ff0a78"/>
<line x1="1171.9" y1="1254.2" x2="1171.9" y2="1254.2" stroke="#000000" stroke-width="2.6"/>
<line x1="1171.9" y1="1260.1" x2="1171.9" y2="1260.1" stroke="#000000" stroke-width="2.6"/>
<rect x="1164.6" y="1254.2" width="14.7" height="5.9" fill="none" stroke="#000000" stroke-width="3.1"/>
<line x1="1164.6" y1="1257.1" x2="1179.2" y2="1257.1" stroke="#000000" stroke-width="2.6"/>
<circle cx="1166.9" cy="1254.2" r="4.7" fill="#000000"/>
<circle cx="1175.9" cy="1254.2" r="4.7" fill="#000000"/>
<circle cx="1166.9" cy="1260.1" r="4.7" fill="#000000"/>
<circle cx="1176.9" cy="1260.1" r="4.7" fill="#000000"/>
<circle cx="1171.9" cy="1257.1" r="4.7" fill="#000000"/>
<line x1="1197.3" y1="1230.4" x2="1197.3" y2="1236.3" stroke="#4a9bff" stroke-width="2.6"/>
<line x1="1197.3" y1="1254.2" x2="1197.3" y2="1254.2" stroke="#4a9bff" stroke-width="2.6"/>
<rect x="1190" y="1236.3" width="14.7" height="17.8" fill="none" stroke="#4a9bff" stroke-width="3.1"/>
<line x1="1190" y1="1242.3" x2="1204.6" y2="1242.3" stroke="#4a9bff" stroke-width="2.6"/>
<circle cx="1197.3" cy="1230.4" r="4.7" fill="#4a9bff"/>
<circle cx="1192.3" cy="1236.3" r="4.7" fill="#4a9bff"/>
<circle cx="1202.3" cy="1236.3" r="4.7" fill="#4a9bff"/>
<circle cx="1194.3" cy="1254.2" r="4.7" fill="#4a9bff"/>
<circle cx="1200.3" cy="1254.2" r="4.7" fill="#4a9bff"/>
<line x1="1222.7" y1="1135.4" x2="1222.7" y2="1151.4" stroke="#4d4dff" stroke-width="2.6"/>
<line x1="1222.7" y1="1182.3" x2="1222.7" y2="1188.8" stroke="#4d4dff" stroke-width="2.6"/>
<rect x="1215.4" y="1151.4" width="14.7" height="30.9" fill="none" stroke="#4d4dff" stroke-width="3.1"/>
<line x1="1215.4" y1="1171" x2="1230" y2="1171" stroke="#4d4dff" stroke-width="2.6"/>
<circle cx="1222.7" cy="1135.4" r="4.7" fill="#4d4dff"/>
<circle cx="1227.7" cy="1165.1" r="4.7" fill="#4d4dff"/>
<circle cx="1217.7" cy="1171" r="4.7" fill="#4d4dff"/>
<circle cx="1227.7" cy="1176.9" r="4.7" fill="#4d4dff"/>
<circle cx="1222.7" cy="1188.8" r="4.7" fill="#4d4dff"/>
<line x1="1248.1" y1="1123.5" x2="1248.1" y2="1130.9" stroke="#ff0a78" stroke-width="2.6"/>
<line x1="1248.1" y1="1175.8" x2="1248.1" y2="1182.9" stroke="#ff0a78" stroke-width="2.6"/>
<rect x="1240.8" y="1130.9" width="14.7" height="44.8" fill="none" stroke="#ff0a78" stroke-width="3.1"/>
<line x1="1240.8" y1="1160" x2="1255.4" y2="1160" stroke="#ff0a78" stroke-width="2.6"/>
<circle cx="1248.1" cy="1123.5" r="4.7" fill="#ff0a78"/>
<circle cx="1248.1" cy="1141.3" r="4.7" fill="#ff0a78"/>
<circle cx="1248.1" cy="1159.1" r="4.7" fill="#ff0a78"/>
<circle cx="1248.1" cy="1176.9" r="4.7" fill="#ff0a78"/>
<circle cx="1248.1" cy="1182.9" r="4.7" fill="#ff0a78"/>
<line x1="1292.1" y1="1254.2" x2="1292.1" y2="1255.9" stroke="#000000" stroke-width="2.6"/>
<line x1="1292.1" y1="1260.1" x2="1292.1" y2="1260.1" stroke="#000000" stroke-width="2.6"/>
<rect x="1284.8" y="1255.9" width="14.7" height="4.2" fill="none" stroke="#000000" stroke-width="3.1"/>
<line x1="1284.8" y1="1258.3" x2="1299.5" y2="1258.3" stroke="#000000" stroke-width="2.6"/>
<circle cx="1290.1" cy="1254.2" r="4.7" fill="#000000"/>
<circle cx="1287.1" cy="1257.1" r="4.7" fill="#000000"/>
<circle cx="1287.1" cy="1260.1" r="4.7" fill="#000000"/>
<circle cx="1297.1" cy="1260.1" r="4.7" fill="#000000"/>
<circle cx="1295.1" cy="1258.3" r="4.7" fill="#000000"/>
<line x1="1317.5" y1="1200.7" x2="1317.5" y2="1220" stroke="#4a9bff" stroke-width="2.6"/>
<line x1="1317.5" y1="1253" x2="1317.5" y2="1254.2" stroke="#4a9bff" stroke-width="2.6"/>
<rect x="1310.2" y="1220" width="14.7" height="33" fill="none" stroke="#4a9bff" stroke-width="3.1"/>
<line x1="1310.2" y1="1242.3" x2="1324.8" y2="1242.3" stroke="#4a9bff" stroke-width="2.6"/>
<circle cx="1317.5" cy="1200.7" r="4.7" fill="#4a9bff"/>
<circle cx="1322.5" cy="1236.3" r="4.7" fill="#4a9bff"/>
<circle cx="1312.5" cy="1242.3" r="4.7" fill="#4a9bff"/>
<circle cx="1322.5" cy="1248.2" r="4.7" fill="#4a9bff"/>
<circle cx="1312.5" cy="1254.2" r="4.7" fill="#4a9bff"/>
<line x1="1342.9" y1="1070" x2="1342.9" y2="1076.6" stroke="#4d4dff" stroke-width="2.6"/>
<line x1="1342.9" y1="1164.7" x2="1342.9" y2="1176.9" stroke="#4d4dff" stroke-width="2.6"/>
<rect x="1335.6" y="1076.6" width="14.7" height="88.1" fill="none" stroke="#4d4dff" stroke-width="3.1"/>
<line x1="1335.6" y1="1093.8" x2="1350.2" y2="1093.8" stroke="#4d4dff" stroke-width="2.6"/>
<circle cx="1342.9" cy="1070" r="4.7" fill="#4d4dff"/>
<circle cx="1342.9" cy="1081.9" r="4.7" fill="#4d4dff"/>
<circle cx="1342.9" cy="1093.8" r="4.7" fill="#4d4dff"/>
<circle cx="1342.9" cy="1153.2" r="4.7" fill="#4d4dff"/>
<circle cx="1342.9" cy="1176.9" r="4.7" fill="#4d4dff"/>
<line x1="1368.3" y1="1034.4" x2="1368.3" y2="1039.7" stroke="#ff0a78" stroke-width="2.6"/>
<line x1="1368.3" y1="1119.9" x2="1368.3" y2="1129.4" stroke="#ff0a78" stroke-width="2.6"/>
<rect x="1361" y="1039.7" width="14.7" height="80.2" fill="none" stroke="#ff0a78" stroke-width="3.1"/>
<line x1="1361" y1="1040.3" x2="1375.6" y2="1040.3" stroke="#ff0a78" stroke-width="2.6"/>
<circle cx="1368.3" cy="1034.4" r="4.7" fill="#ff0a78"/>
<circle cx="1363.3" cy="1039.1" r="4.7" fill="#ff0a78"/>
<circle cx="1373.3" cy="1040.3" r="4.7" fill="#ff0a78"/>
<circle cx="1368.3" cy="1111.6" r="4.7" fill="#ff0a78"/>
<circle cx="1368.3" cy="1129.4" r="4.7" fill="#ff0a78"/>
<line x1="1031.2" y1="1261.6" x2="1031.2" y2="1022.5" stroke="#000" stroke-width="3.2"/>
<line x1="1023.7" y1="1260.1" x2="1031.2" y2="1260.1" stroke="#000" stroke-width="3"/>
<text x="1022.7" y="1266.8" font-size="18.9" font-weight="bold" text-anchor="end">0.0</text>
<line x1="1023.7" y1="1200.7" x2="1031.2" y2="1200.7" stroke="#000" stroke-width="3"/>
<text x="1022.7" y="1207.4" font-size="18.9" font-weight="bold" text-anchor="end">0.1</text>
<line x1="1023.7" y1="1141.3" x2="1031.2" y2="1141.3" stroke="#000" stroke-width="3"/>
<text x="1022.7" y="1148" font-size="18.9" font-weight="bold" text-anchor="end">0.2</text>
<line x1="1023.7" y1="1081.9" x2="1031.2" y2="1081.9" stroke="#000" stroke-width="3"/>
<text x="1022.7" y="1088.6" font-size="18.9" font-weight="bold" text-anchor="end">0.3</text>
<line x1="1023.7" y1="1022.5" x2="1031.2" y2="1022.5" stroke="#000" stroke-width="3"/>
<text x="1022.7" y="1029.2" font-size="18.9" font-weight="bold" text-anchor="end">0.4</text>
<line x1="1029.7" y1="1260.1" x2="1389" y2="1260.1" stroke="#000" stroke-width="3.2"/>
<line x1="1089.8" y1="1260.1" x2="1089.8" y2="1267.1" stroke="#000" stroke-width="3"/>
<line x1="1210" y1="1260.1" x2="1210" y2="1267.1" stroke="#000" stroke-width="3"/>
<line x1="1330.2" y1="1260.1" x2="1330.2" y2="1267.1" stroke="#000" stroke-width="3"/>
<text x="927.7" y="1294.5" font-size="18.75" font-weight="bold">Stimulation:</text>
<text x="1089.8" y="1294.5" font-size="18.72" font-weight="bold" text-anchor="middle">NT</text>
<text x="1210" y="1294.5" font-size="18.89" font-weight="bold" text-anchor="middle">H1N1</text>
<text x="1330.2" y="1294.5" font-size="18.98" font-weight="bold" text-anchor="middle">H3N2</text>
<text x="985.1" y="1134" font-size="21" font-weight="bold" text-anchor="middle" transform="rotate(-90 985.1 1134)">% IFN-γ<tspan dy="-8.5" font-size="13.5">+</tspan><tspan dy="8.5">CD4</tspan><tspan dy="-8.5" font-size="13.5">+</tspan><tspan dy="8.5"> T cells</tspan></text>
<text x="1184.8" y="1064.2" font-size="14.93" font-weight="bold"><tspan font-style="italic">P</tspan> &lt; 0.0001</text>
<line x1="1197.2" y1="1071" x2="1248.1" y2="1071" stroke="#000" stroke-width="2"/>
<text x="1224.5" y="1090.9" font-size="17.36" font-weight="bold">ns</text>
<line x1="1222.6" y1="1096.9" x2="1248.1" y2="1096.9" stroke="#000" stroke-width="2"/>
<text x="1158.6" y="1117.5" font-size="14.99" font-weight="bold"><tspan font-style="italic">P</tspan> &lt; 0.0001</text>
<line x1="1197.2" y1="1122.9" x2="1222.6" y2="1122.9" stroke="#000" stroke-width="2"/>
<text x="1173.6" y="1214.5" font-size="16.7" font-weight="bold">ns</text>
<line x1="1171.3" y1="1219.8" x2="1197.2" y2="1219.8" stroke="#000" stroke-width="2"/>
<text x="1304.9" y="994.7" font-size="15.24" font-weight="bold"><tspan font-style="italic">P</tspan> &lt; 0.0001</text>
<line x1="1318.3" y1="1000.9" x2="1369.2" y2="1000.9" stroke="#000" stroke-width="2"/>
<text x="1345.7" y="1019.5" font-size="16.41" font-weight="bold">ns</text>
<line x1="1343.6" y1="1024" x2="1369.2" y2="1024" stroke="#000" stroke-width="2"/>
<text x="1275.9" y="1054.3" font-size="15.32" font-weight="bold"><tspan font-style="italic">P</tspan> = 0.0002</text>
<line x1="1318.3" y1="1060.5" x2="1343.6" y2="1060.5" stroke="#000" stroke-width="2"/>
<text x="1292.4" y="1184.5" font-size="17.07" font-weight="bold">ns</text>
<line x1="1289.8" y1="1189.5" x2="1315.8" y2="1189.5" stroke="#000" stroke-width="2"/>
<rect x="1445" y="1033.7" width="22.7" height="10.5" fill="none" stroke="#000000" stroke-width="2.8"/>
<text x="1482.8" y="1046" font-size="20.3">Mock</text>
<rect x="1445" y="1066.1" width="22.7" height="10.5" fill="none" stroke="#4a9bff" stroke-width="2.8"/>
<text x="1482.8" y="1078.4" font-size="20.3">H3N2 (<tspan font-style="italic">i.m.</tspan>)</text>
<rect x="1445" y="1098.5" width="22.7" height="10.5" fill="none" stroke="#4d4dff" stroke-width="2.8"/>
<text x="1482.8" y="1110.8" font-size="20.3">H3N2+NVT (<tspan font-style="italic">i.m.</tspan>)</text>
<rect x="1445" y="1130.9" width="22.7" height="10.5" fill="none" stroke="#ff0a78" stroke-width="2.8"/>
<text x="1482.8" y="1143.2" font-size="20.3">H3N2+NVT (<tspan font-style="italic">i.n.</tspan>)</text>
<text x="-1" y="1399.1" font-size="38" font-weight="bold">c</text>
<line x1="94.7" y1="1673.5" x2="278.4" y2="1673.5" stroke="#ff1a1a" stroke-width="3" stroke-dasharray="7.7 4.1"/>
<line x1="142.5" y1="1592.1" x2="180.8" y2="1592.1" stroke="#000" stroke-width="3"/>
<circle cx="155" cy="1592.1" r="5.6" fill="#8fc0f0" stroke="#000" stroke-width="1.2"/>
<circle cx="160.7" cy="1592.1" r="5.6" fill="#8fc0f0" stroke="#000" stroke-width="1.2"/>
<circle cx="167.4" cy="1592.1" r="5.6" fill="#8fc0f0" stroke="#000" stroke-width="1.2"/>
<line x1="142.5" y1="1592.1" x2="180.8" y2="1592.1" stroke="#000" stroke-width="2.2"/>
<circle cx="200.9" cy="1499.2" r="5.6" fill="#5858e8" stroke="#000" stroke-width="1.2"/>
<circle cx="203.8" cy="1499.2" r="5.6" fill="#5858e8" stroke="#000" stroke-width="1.2"/>
<circle cx="206.6" cy="1499.2" r="5.6" fill="#5858e8" stroke="#000" stroke-width="1.2"/>
<circle cx="212.4" cy="1499.2" r="5.6" fill="#5858e8" stroke="#000" stroke-width="1.2"/>
<line x1="188.4" y1="1499.2" x2="226.7" y2="1499.2" stroke="#000" stroke-width="2.4"/>
<circle cx="244.9" cy="1499.2" r="5.6" fill="#f0147f" stroke="#000" stroke-width="1.2"/>
<circle cx="250.6" cy="1499.2" r="5.6" fill="#f0147f" stroke="#000" stroke-width="1.2"/>
<circle cx="256.4" cy="1499.2" r="5.6" fill="#f0147f" stroke="#000" stroke-width="1.2"/>
<circle cx="262.1" cy="1499.2" r="5.6" fill="#f0147f" stroke="#000" stroke-width="1.2"/>
<line x1="234.9" y1="1499.2" x2="273.6" y2="1499.2" stroke="#000" stroke-width="2.4"/>
<circle cx="254.1" cy="1592.1" r="5.6" fill="#f0147f" stroke="#000" stroke-width="1.2"/>
<line x1="91.8" y1="1686.6" x2="91.8" y2="1452.7" stroke="#000" stroke-width="3.2"/>
<line x1="84.3" y1="1685.1" x2="91.8" y2="1685.1" stroke="#000" stroke-width="3"/>
<text x="82.8" y="1691.5" font-size="17.8" font-weight="bold" text-anchor="end">0</text>
<line x1="84.3" y1="1627" x2="91.8" y2="1627" stroke="#000" stroke-width="3"/>
<text x="82.8" y="1633.4" font-size="17.8" font-weight="bold" text-anchor="end">200</text>
<line x1="84.3" y1="1568.9" x2="91.8" y2="1568.9" stroke="#000" stroke-width="3"/>
<text x="82.8" y="1575.3" font-size="17.8" font-weight="bold" text-anchor="end">400</text>
<line x1="84.3" y1="1510.8" x2="91.8" y2="1510.8" stroke="#000" stroke-width="3"/>
<text x="82.8" y="1517.2" font-size="17.8" font-weight="bold" text-anchor="end">600</text>
<line x1="84.3" y1="1452.7" x2="91.8" y2="1452.7" stroke="#000" stroke-width="3"/>
<text x="82.8" y="1459.1" font-size="17.8" font-weight="bold" text-anchor="end">800</text>
<line x1="90.3" y1="1685.1" x2="278.4" y2="1685.1" stroke="#000" stroke-width="3.2"/>
<line x1="114.8" y1="1685.1" x2="114.8" y2="1692.1" stroke="#000" stroke-width="3"/>
<line x1="161.3" y1="1685.1" x2="161.3" y2="1692.1" stroke="#000" stroke-width="3"/>
<line x1="207.6" y1="1685.1" x2="207.6" y2="1692.1" stroke="#000" stroke-width="3"/>
<line x1="254.1" y1="1685.1" x2="254.1" y2="1692.1" stroke="#000" stroke-width="3"/>
<text x="123.4" y="1653.6" font-size="19.53" font-weight="bold" text-anchor="middle" transform="rotate(-90 123.4 1653.6)">N.D.</text>
<text x="119.6" y="1706.3" font-size="17.3" font-weight="bold" text-anchor="end" transform="rotate(-45 119.6 1706.3)">Mock</text>
<text x="166.1" y="1706.3" font-size="17.3" font-weight="bold" text-anchor="end" transform="rotate(-45 166.1 1706.3)">H3N2 (<tspan font-style="italic">i.m.</tspan>)</text>
<text x="212.4" y="1706.3" font-size="17.3" font-weight="bold" text-anchor="end" transform="rotate(-45 212.4 1706.3)">H3N2+NVT (<tspan font-style="italic">i.m.</tspan>)</text>
<text x="258.9" y="1706.3" font-size="17.3" font-weight="bold" text-anchor="end" transform="rotate(-45 258.9 1706.3)">H3N2+NVT (<tspan font-style="italic">i.n.</tspan>)</text>
<text x="43" y="1568.5" font-size="19.59" font-weight="bold" text-anchor="middle" transform="rotate(-90 43 1568.5)">H3N2 HAI titer</text>
<text x="147.3" y="1479.9" font-size="15.03" font-weight="bold"><tspan font-style="italic">P</tspan> = 0.0001</text>
<line x1="159.7" y1="1484.3" x2="208.9" y2="1484.3" stroke="#000" stroke-width="2"/>
<text x="222.7" y="1453.7" font-size="17.17" font-weight="bold">ns</text>
<line x1="208.2" y1="1458.4" x2="257.7" y2="1458.4" stroke="#000" stroke-width="2"/>
<line x1="369.4" y1="1500.7" x2="555.9" y2="1500.7" stroke="#ff1a1a" stroke-width="3" stroke-dasharray="7.7 4.1"/>
<line x1="368.1" y1="1688.4" x2="368.1" y2="1454.1" stroke="#000" stroke-width="3.2"/>
<line x1="360.6" y1="1686.9" x2="368.1" y2="1686.9" stroke="#000" stroke-width="3"/>
<text x="358.7" y="1693.3" font-size="17.8" font-weight="bold" text-anchor="end">0</text>
<line x1="360.6" y1="1640.3" x2="368.1" y2="1640.3" stroke="#000" stroke-width="3"/>
<text x="358.7" y="1646.7" font-size="17.8" font-weight="bold" text-anchor="end">10</text>
<line x1="360.6" y1="1593.8" x2="368.1" y2="1593.8" stroke="#000" stroke-width="3"/>
<text x="358.7" y="1600.2" font-size="17.8" font-weight="bold" text-anchor="end">20</text>
<line x1="360.6" y1="1547.2" x2="368.1" y2="1547.2" stroke="#000" stroke-width="3"/>
<text x="358.7" y="1553.6" font-size="17.8" font-weight="bold" text-anchor="end">30</text>
<line x1="360.6" y1="1500.7" x2="368.1" y2="1500.7" stroke="#000" stroke-width="3"/>
<text x="358.7" y="1507.1" font-size="17.8" font-weight="bold" text-anchor="end">40</text>
<line x1="360.6" y1="1454.1" x2="368.1" y2="1454.1" stroke="#000" stroke-width="3"/>
<text x="358.7" y="1460.5" font-size="17.8" font-weight="bold" text-anchor="end">50</text>
<line x1="366.6" y1="1686.9" x2="555.9" y2="1686.9" stroke="#000" stroke-width="3.2"/>
<line x1="391.4" y1="1686.9" x2="391.4" y2="1693.9" stroke="#000" stroke-width="3"/>
<line x1="437.7" y1="1686.9" x2="437.7" y2="1693.9" stroke="#000" stroke-width="3"/>
<line x1="484.8" y1="1686.9" x2="484.8" y2="1693.9" stroke="#000" stroke-width="3"/>
<line x1="531.4" y1="1686.9" x2="531.4" y2="1693.9" stroke="#000" stroke-width="3"/>
<text x="401" y="1655.3" font-size="20.12" font-weight="bold" text-anchor="middle" transform="rotate(-90 401 1655.3)">N.D.</text>
<text x="447.3" y="1655.3" font-size="20.12" font-weight="bold" text-anchor="middle" transform="rotate(-90 447.3 1655.3)">N.D.</text>
<text x="494.4" y="1655.3" font-size="20.12" font-weight="bold" text-anchor="middle" transform="rotate(-90 494.4 1655.3)">N.D.</text>
<text x="541" y="1655.3" font-size="20.12" font-weight="bold" text-anchor="middle" transform="rotate(-90 541 1655.3)">N.D.</text>
<text x="396.2" y="1708.1" font-size="17.3" font-weight="bold" text-anchor="end" transform="rotate(-45 396.2 1708.1)">Mock</text>
<text x="442.5" y="1708.1" font-size="17.3" font-weight="bold" text-anchor="end" transform="rotate(-45 442.5 1708.1)">H3N2 (<tspan font-style="italic">i.m.</tspan>)</text>
<text x="489.6" y="1708.1" font-size="17.3" font-weight="bold" text-anchor="end" transform="rotate(-45 489.6 1708.1)">H3N2+NVT (<tspan font-style="italic">i.m.</tspan>)</text>
<text x="536.2" y="1708.1" font-size="17.3" font-weight="bold" text-anchor="end" transform="rotate(-45 536.2 1708.1)">H3N2+NVT (<tspan font-style="italic">i.n.</tspan>)</text>
<text x="326.3" y="1570.6" font-size="19.74" font-weight="bold" text-anchor="middle" transform="rotate(-90 326.3 1570.6)">H1N1 HAI titer</text>
<text x="604.6" y="1399.1" font-size="38" font-weight="bold">d</text>
<polyline points="680.1,1498.5 706.6,1500.9 733.1,1532.4 759.7,1563.8 786.2,1592.9 812.7,1605 839.2,1606.9 865.7,1594.3 892.3,1577.4 918.8,1570.6 945.3,1558 971.8,1551.3" fill="none" stroke="#ff0a78" stroke-width="3"/>
<line x1="706.6" y1="1493.7" x2="706.6" y2="1508.2" stroke="#ff0a78" stroke-width="2.4"/>
<line x1="701.6" y1="1493.7" x2="711.6" y2="1493.7" stroke="#ff0a78" stroke-width="2.4"/>
<line x1="701.6" y1="1508.2" x2="711.6" y2="1508.2" stroke="#ff0a78" stroke-width="2.4"/>
<line x1="733.1" y1="1522.7" x2="733.1" y2="1542.1" stroke="#ff0a78" stroke-width="2.4"/>
<line x1="728.1" y1="1522.7" x2="738.1" y2="1522.7" stroke="#ff0a78" stroke-width="2.4"/>
<line x1="728.1" y1="1542.1" x2="738.1" y2="1542.1" stroke="#ff0a78" stroke-width="2.4"/>
<line x1="759.7" y1="1551.3" x2="759.7" y2="1576.4" stroke="#ff0a78" stroke-width="2.4"/>
<line x1="754.7" y1="1551.3" x2="764.7" y2="1551.3" stroke="#ff0a78" stroke-width="2.4"/>
<line x1="754.7" y1="1576.4" x2="764.7" y2="1576.4" stroke="#ff0a78" stroke-width="2.4"/>
<line x1="786.2" y1="1582.2" x2="786.2" y2="1603.5" stroke="#ff0a78" stroke-width="2.4"/>
<line x1="781.2" y1="1582.2" x2="791.2" y2="1582.2" stroke="#ff0a78" stroke-width="2.4"/>
<line x1="781.2" y1="1603.5" x2="791.2" y2="1603.5" stroke="#ff0a78" stroke-width="2.4"/>
<line x1="812.7" y1="1596.3" x2="812.7" y2="1613.7" stroke="#ff0a78" stroke-width="2.4"/>
<line x1="807.7" y1="1596.3" x2="817.7" y2="1596.3" stroke="#ff0a78" stroke-width="2.4"/>
<line x1="807.7" y1="1613.7" x2="817.7" y2="1613.7" stroke="#ff0a78" stroke-width="2.4"/>
<line x1="839.2" y1="1595.8" x2="839.2" y2="1618" stroke="#ff0a78" stroke-width="2.4"/>
<line x1="834.2" y1="1595.8" x2="844.2" y2="1595.8" stroke="#ff0a78" stroke-width="2.4"/>
<line x1="834.2" y1="1618" x2="844.2" y2="1618" stroke="#ff0a78" stroke-width="2.4"/>
<line x1="865.7" y1="1576.9" x2="865.7" y2="1611.8" stroke="#ff0a78" stroke-width="2.4"/>
<line x1="860.7" y1="1576.9" x2="870.7" y2="1576.9" stroke="#ff0a78" stroke-width="2.4"/>
<line x1="860.7" y1="1611.8" x2="870.7" y2="1611.8" stroke="#ff0a78" stroke-width="2.4"/>
<line x1="892.3" y1="1557.5" x2="892.3" y2="1597.2" stroke="#ff0a78" stroke-width="2.4"/>
<line x1="887.3" y1="1557.5" x2="897.3" y2="1557.5" stroke="#ff0a78" stroke-width="2.4"/>
<line x1="887.3" y1="1597.2" x2="897.3" y2="1597.2" stroke="#ff0a78" stroke-width="2.4"/>
<line x1="918.8" y1="1553.2" x2="918.8" y2="1588" stroke="#ff0a78" stroke-width="2.4"/>
<line x1="913.8" y1="1553.2" x2="923.8" y2="1553.2" stroke="#ff0a78" stroke-width="2.4"/>
<line x1="913.8" y1="1588" x2="923.8" y2="1588" stroke="#ff0a78" stroke-width="2.4"/>
<line x1="945.3" y1="1538.7" x2="945.3" y2="1577.4" stroke="#ff0a78" stroke-width="2.4"/>
<line x1="940.3" y1="1538.7" x2="950.3" y2="1538.7" stroke="#ff0a78" stroke-width="2.4"/>
<line x1="940.3" y1="1577.4" x2="950.3" y2="1577.4" stroke="#ff0a78" stroke-width="2.4"/>
<line x1="971.8" y1="1529" x2="971.8" y2="1573.5" stroke="#ff0a78" stroke-width="2.4"/>
<line x1="966.8" y1="1529" x2="976.8" y2="1529" stroke="#ff0a78" stroke-width="2.4"/>
<line x1="966.8" y1="1573.5" x2="976.8" y2="1573.5" stroke="#ff0a78" stroke-width="2.4"/>
<circle cx="680.1" cy="1498.5" r="5.3" fill="#ff0a78"/>
<circle cx="706.6" cy="1500.9" r="5.3" fill="#ff0a78"/>
<circle cx="733.1" cy="1532.4" r="5.3" fill="#ff0a78"/>
<circle cx="759.7" cy="1563.8" r="5.3" fill="#ff0a78"/>
<circle cx="786.2" cy="1592.9" r="5.3" fill="#ff0a78"/>
<circle cx="812.7" cy="1605" r="5.3" fill="#ff0a78"/>
<circle cx="839.2" cy="1606.9" r="5.3" fill="#ff0a78"/>
<circle cx="865.7" cy="1594.3" r="5.3" fill="#ff0a78"/>
<circle cx="892.3" cy="1577.4" r="5.3" fill="#ff0a78"/>
<circle cx="918.8" cy="1570.6" r="5.3" fill="#ff0a78"/>
<circle cx="945.3" cy="1558" r="5.3" fill="#ff0a78"/>
<circle cx="971.8" cy="1551.3" r="5.3" fill="#ff0a78"/>
<polyline points="680.1,1498.5 706.6,1499.5 733.1,1527.5 759.7,1561.4 786.2,1588 812.7,1605 839.2,1607.4" fill="none" stroke="#4d4dff" stroke-width="3"/>
<line x1="706.6" y1="1494.6" x2="706.6" y2="1504.3" stroke="#4d4dff" stroke-width="2.4"/>
<line x1="701.6" y1="1494.6" x2="711.6" y2="1494.6" stroke="#4d4dff" stroke-width="2.4"/>
<line x1="701.6" y1="1504.3" x2="711.6" y2="1504.3" stroke="#4d4dff" stroke-width="2.4"/>
<line x1="733.1" y1="1514" x2="733.1" y2="1541.1" stroke="#4d4dff" stroke-width="2.4"/>
<line x1="728.1" y1="1514" x2="738.1" y2="1514" stroke="#4d4dff" stroke-width="2.4"/>
<line x1="728.1" y1="1541.1" x2="738.1" y2="1541.1" stroke="#4d4dff" stroke-width="2.4"/>
<line x1="759.7" y1="1549.3" x2="759.7" y2="1573.5" stroke="#4d4dff" stroke-width="2.4"/>
<line x1="754.7" y1="1549.3" x2="764.7" y2="1549.3" stroke="#4d4dff" stroke-width="2.4"/>
<line x1="754.7" y1="1573.5" x2="764.7" y2="1573.5" stroke="#4d4dff" stroke-width="2.4"/>
<line x1="786.2" y1="1578.4" x2="786.2" y2="1597.7" stroke="#4d4dff" stroke-width="2.4"/>
<line x1="781.2" y1="1578.4" x2="791.2" y2="1578.4" stroke="#4d4dff" stroke-width="2.4"/>
<line x1="781.2" y1="1597.7" x2="791.2" y2="1597.7" stroke="#4d4dff" stroke-width="2.4"/>
<line x1="812.7" y1="1592.9" x2="812.7" y2="1617.1" stroke="#4d4dff" stroke-width="2.4"/>
<line x1="807.7" y1="1592.9" x2="817.7" y2="1592.9" stroke="#4d4dff" stroke-width="2.4"/>
<line x1="807.7" y1="1617.1" x2="817.7" y2="1617.1" stroke="#4d4dff" stroke-width="2.4"/>
<circle cx="680.1" cy="1498.5" r="5.3" fill="#4d4dff"/>
<circle cx="706.6" cy="1499.5" r="5.3" fill="#4d4dff"/>
<circle cx="733.1" cy="1527.5" r="5.3" fill="#4d4dff"/>
<circle cx="759.7" cy="1561.4" r="5.3" fill="#4d4dff"/>
<circle cx="786.2" cy="1588" r="5.3" fill="#4d4dff"/>
<circle cx="812.7" cy="1605" r="5.3" fill="#4d4dff"/>
<circle cx="839.2" cy="1607.4" r="5.3" fill="#4d4dff"/>
<polyline points="680.1,1498.5 706.6,1501.9 733.1,1532.4 759.7,1559 786.2,1588 812.7,1607.4" fill="none" stroke="#8fc0f5" stroke-width="3"/>
<line x1="706.6" y1="1493.2" x2="706.6" y2="1510.6" stroke="#8fc0f5" stroke-width="2.4"/>
<line x1="701.6" y1="1493.2" x2="711.6" y2="1493.2" stroke="#8fc0f5" stroke-width="2.4"/>
<line x1="701.6" y1="1510.6" x2="711.6" y2="1510.6" stroke="#8fc0f5" stroke-width="2.4"/>
<line x1="733.1" y1="1523.7" x2="733.1" y2="1541.1" stroke="#8fc0f5" stroke-width="2.4"/>
<line x1="728.1" y1="1523.7" x2="738.1" y2="1523.7" stroke="#8fc0f5" stroke-width="2.4"/>
<line x1="728.1" y1="1541.1" x2="738.1" y2="1541.1" stroke="#8fc0f5" stroke-width="2.4"/>
<line x1="759.7" y1="1548.4" x2="759.7" y2="1569.6" stroke="#8fc0f5" stroke-width="2.4"/>
<line x1="754.7" y1="1548.4" x2="764.7" y2="1548.4" stroke="#8fc0f5" stroke-width="2.4"/>
<line x1="754.7" y1="1569.6" x2="764.7" y2="1569.6" stroke="#8fc0f5" stroke-width="2.4"/>
<line x1="786.2" y1="1578.4" x2="786.2" y2="1597.7" stroke="#8fc0f5" stroke-width="2.4"/>
<line x1="781.2" y1="1578.4" x2="791.2" y2="1578.4" stroke="#8fc0f5" stroke-width="2.4"/>
<line x1="781.2" y1="1597.7" x2="791.2" y2="1597.7" stroke="#8fc0f5" stroke-width="2.4"/>
<line x1="812.7" y1="1595.3" x2="812.7" y2="1619.5" stroke="#8fc0f5" stroke-width="2.4"/>
<line x1="807.7" y1="1595.3" x2="817.7" y2="1595.3" stroke="#8fc0f5" stroke-width="2.4"/>
<line x1="807.7" y1="1619.5" x2="817.7" y2="1619.5" stroke="#8fc0f5" stroke-width="2.4"/>
<circle cx="680.1" cy="1498.5" r="5.3" fill="#8fc0f5"/>
<circle cx="706.6" cy="1501.9" r="5.3" fill="#8fc0f5"/>
<circle cx="733.1" cy="1532.4" r="5.3" fill="#8fc0f5"/>
<circle cx="759.7" cy="1559" r="5.3" fill="#8fc0f5"/>
<circle cx="786.2" cy="1588" r="5.3" fill="#8fc0f5"/>
<circle cx="812.7" cy="1607.4" r="5.3" fill="#8fc0f5"/>
<polyline points="680.1,1498.5 706.6,1495.1 733.1,1528.5 759.7,1560.5 786.2,1597.7 812.7,1614.7" fill="none" stroke="#000000" stroke-width="3"/>
<line x1="706.6" y1="1492.7" x2="706.6" y2="1497.5" stroke="#000000" stroke-width="2.4"/>
<line x1="701.6" y1="1492.7" x2="711.6" y2="1492.7" stroke="#000000" stroke-width="2.4"/>
<line x1="701.6" y1="1497.5" x2="711.6" y2="1497.5" stroke="#000000" stroke-width="2.4"/>
<line x1="733.1" y1="1521.2" x2="733.1" y2="1535.8" stroke="#000000" stroke-width="2.4"/>
<line x1="728.1" y1="1521.2" x2="738.1" y2="1521.2" stroke="#000000" stroke-width="2.4"/>
<line x1="728.1" y1="1535.8" x2="738.1" y2="1535.8" stroke="#000000" stroke-width="2.4"/>
<line x1="759.7" y1="1553.7" x2="759.7" y2="1567.2" stroke="#000000" stroke-width="2.4"/>
<line x1="754.7" y1="1553.7" x2="764.7" y2="1553.7" stroke="#000000" stroke-width="2.4"/>
<line x1="754.7" y1="1567.2" x2="764.7" y2="1567.2" stroke="#000000" stroke-width="2.4"/>
<line x1="786.2" y1="1593.8" x2="786.2" y2="1601.6" stroke="#000000" stroke-width="2.4"/>
<line x1="781.2" y1="1593.8" x2="791.2" y2="1593.8" stroke="#000000" stroke-width="2.4"/>
<line x1="781.2" y1="1601.6" x2="791.2" y2="1601.6" stroke="#000000" stroke-width="2.4"/>
<line x1="812.7" y1="1611.8" x2="812.7" y2="1617.6" stroke="#000000" stroke-width="2.4"/>
<line x1="807.7" y1="1611.8" x2="817.7" y2="1611.8" stroke="#000000" stroke-width="2.4"/>
<line x1="807.7" y1="1617.6" x2="817.7" y2="1617.6" stroke="#000000" stroke-width="2.4"/>
<circle cx="680.1" cy="1498.5" r="5.3" fill="#000000"/>
<circle cx="706.6" cy="1495.1" r="5.3" fill="#000000"/>
<circle cx="733.1" cy="1528.5" r="5.3" fill="#000000"/>
<circle cx="759.7" cy="1560.5" r="5.3" fill="#000000"/>
<circle cx="786.2" cy="1597.7" r="5.3" fill="#000000"/>
<circle cx="812.7" cy="1614.7" r="5.3" fill="#000000"/>
<line x1="680.1" y1="1693.6" x2="680.1" y2="1450.1" stroke="#000" stroke-width="3.2"/>
<line x1="673.1" y1="1692.1" x2="680.1" y2="1692.1" stroke="#000" stroke-width="3"/>
<text x="670.8" y="1698.9" font-size="18.8" font-weight="bold" text-anchor="end">60</text>
<line x1="673.1" y1="1643.7" x2="680.1" y2="1643.7" stroke="#000" stroke-width="3"/>
<text x="670.8" y="1650.5" font-size="18.8" font-weight="bold" text-anchor="end">70</text>
<line x1="673.1" y1="1595.3" x2="680.1" y2="1595.3" stroke="#000" stroke-width="3"/>
<text x="670.8" y="1602.1" font-size="18.8" font-weight="bold" text-anchor="end">80</text>
<line x1="673.1" y1="1546.9" x2="680.1" y2="1546.9" stroke="#000" stroke-width="3"/>
<text x="670.8" y="1553.7" font-size="18.8" font-weight="bold" text-anchor="end">90</text>
<line x1="673.1" y1="1498.5" x2="680.1" y2="1498.5" stroke="#000" stroke-width="3"/>
<text x="670.8" y="1505.3" font-size="18.8" font-weight="bold" text-anchor="end">100</text>
<line x1="673.1" y1="1450.1" x2="680.1" y2="1450.1" stroke="#000" stroke-width="3"/>
<text x="670.8" y="1456.9" font-size="18.8" font-weight="bold" text-anchor="end">110</text>
<line x1="678.6" y1="1692.1" x2="971.8" y2="1692.1" stroke="#000" stroke-width="3.2"/>
<line x1="680.1" y1="1692.1" x2="680.1" y2="1699.1" stroke="#000" stroke-width="3"/>
<text x="680.1" y="1721" font-size="19.6" font-weight="bold" text-anchor="middle">0</text>
<line x1="706.6" y1="1692.1" x2="706.6" y2="1699.1" stroke="#000" stroke-width="3"/>
<text x="706.6" y="1721" font-size="19.6" font-weight="bold" text-anchor="middle">1</text>
<line x1="733.1" y1="1692.1" x2="733.1" y2="1699.1" stroke="#000" stroke-width="3"/>
<text x="733.1" y="1721" font-size="19.6" font-weight="bold" text-anchor="middle">2</text>
<line x1="759.7" y1="1692.1" x2="759.7" y2="1699.1" stroke="#000" stroke-width="3"/>
<text x="759.7" y="1721" font-size="19.6" font-weight="bold" text-anchor="middle">3</text>
<line x1="786.2" y1="1692.1" x2="786.2" y2="1699.1" stroke="#000" stroke-width="3"/>
<text x="786.2" y="1721" font-size="19.6" font-weight="bold" text-anchor="middle">4</text>
<line x1="812.7" y1="1692.1" x2="812.7" y2="1699.1" stroke="#000" stroke-width="3"/>
<text x="812.7" y="1721" font-size="19.6" font-weight="bold" text-anchor="middle">5</text>
<line x1="839.2" y1="1692.1" x2="839.2" y2="1699.1" stroke="#000" stroke-width="3"/>
<text x="839.2" y="1721" font-size="19.6" font-weight="bold" text-anchor="middle">6</text>
<line x1="865.7" y1="1692.1" x2="865.7" y2="1699.1" stroke="#000" stroke-width="3"/>
<text x="865.7" y="1721" font-size="19.6" font-weight="bold" text-anchor="middle">7</text>
<line x1="892.3" y1="1692.1" x2="892.3" y2="1699.1" stroke="#000" stroke-width="3"/>
<text x="892.3" y="1721" font-size="19.6" font-weight="bold" text-anchor="middle">8</text>
<line x1="918.8" y1="1692.1" x2="918.8" y2="1699.1" stroke="#000" stroke-width="3"/>
<text x="918.8" y="1721" font-size="19.6" font-weight="bold" text-anchor="middle">9</text>
<line x1="945.3" y1="1692.1" x2="945.3" y2="1699.1" stroke="#000" stroke-width="3"/>
<text x="945.3" y="1721" font-size="19.6" font-weight="bold" text-anchor="middle">10</text>
<line x1="971.8" y1="1692.1" x2="971.8" y2="1699.1" stroke="#000" stroke-width="3"/>
<text x="971.8" y="1721" font-size="19.6" font-weight="bold" text-anchor="middle">11</text>
<text x="825.7" y="1751.3" font-size="20.39" font-weight="bold" text-anchor="middle">Days post infection</text>
<text x="631.7" y="1570.3" font-size="20.95" font-weight="bold" text-anchor="middle" transform="rotate(-90 631.7 1570.3)">% Body Weight</text>
<line x1="1071.6" y1="1477.8" x2="1361.1" y2="1477.8" stroke="#ff0a78" stroke-width="3"/>
<circle cx="1361.1" cy="1477.8" r="5.3" fill="#ff0a78"/>
<path d="M1071.6 1469.5H1203.2V1512.8H1229.5V1688.9" fill="none" stroke="#4d4dff" stroke-width="3"/>
<circle cx="1203.2" cy="1512.8" r="5.3" fill="#4d4dff"/>
<circle cx="1229.5" cy="1687.8" r="5.3" fill="#4d4dff"/>
<path d="M1203.2 1475.6V1560.9H1229.5V1691.1" fill="none" stroke="#8fc0f5" stroke-width="3"/>
<circle cx="1203.2" cy="1560.9" r="5.3" fill="#8fc0f5"/>
<path d="M1071.6 1473.4H1203.2L1204 1604.7H1229.5V1692.2" fill="none" stroke="#000000" stroke-width="3.2"/>
<circle cx="1203.2" cy="1604.7" r="5.3" fill="#000000"/>
<circle cx="1229.5" cy="1692.2" r="5.3" fill="#000000"/>
<line x1="1071.6" y1="1693.7" x2="1071.6" y2="1450.5" stroke="#000" stroke-width="3.2"/>
<line x1="1064.6" y1="1692.2" x2="1071.6" y2="1692.2" stroke="#000" stroke-width="3"/>
<text x="1059.2" y="1699" font-size="18.8" font-weight="bold" text-anchor="end">0</text>
<line x1="1064.6" y1="1648.4" x2="1071.6" y2="1648.4" stroke="#000" stroke-width="3"/>
<text x="1059.2" y="1655.2" font-size="18.8" font-weight="bold" text-anchor="end">20</text>
<line x1="1064.6" y1="1604.7" x2="1071.6" y2="1604.7" stroke="#000" stroke-width="3"/>
<text x="1059.2" y="1611.5" font-size="18.8" font-weight="bold" text-anchor="end">40</text>
<line x1="1064.6" y1="1560.9" x2="1071.6" y2="1560.9" stroke="#000" stroke-width="3"/>
<text x="1059.2" y="1567.7" font-size="18.8" font-weight="bold" text-anchor="end">60</text>
<line x1="1064.6" y1="1517.2" x2="1071.6" y2="1517.2" stroke="#000" stroke-width="3"/>
<text x="1059.2" y="1524" font-size="18.8" font-weight="bold" text-anchor="end">80</text>
<line x1="1064.6" y1="1473.4" x2="1071.6" y2="1473.4" stroke="#000" stroke-width="3"/>
<text x="1059.2" y="1480.2" font-size="18.8" font-weight="bold" text-anchor="end">100</text>
<line x1="1070.1" y1="1692.2" x2="1361.1" y2="1692.2" stroke="#000" stroke-width="3.2"/>
<line x1="1071.6" y1="1692.2" x2="1071.6" y2="1699.2" stroke="#000" stroke-width="3"/>
<text x="1071.6" y="1721" font-size="19.6" font-weight="bold" text-anchor="middle">0</text>
<line x1="1097.9" y1="1692.2" x2="1097.9" y2="1699.2" stroke="#000" stroke-width="3"/>
<text x="1097.9" y="1721" font-size="19.6" font-weight="bold" text-anchor="middle">1</text>
<line x1="1124.2" y1="1692.2" x2="1124.2" y2="1699.2" stroke="#000" stroke-width="3"/>
<text x="1124.2" y="1721" font-size="19.6" font-weight="bold" text-anchor="middle">2</text>
<line x1="1150.6" y1="1692.2" x2="1150.6" y2="1699.2" stroke="#000" stroke-width="3"/>
<text x="1150.6" y="1721" font-size="19.6" font-weight="bold" text-anchor="middle">3</text>
<line x1="1176.9" y1="1692.2" x2="1176.9" y2="1699.2" stroke="#000" stroke-width="3"/>
<text x="1176.9" y="1721" font-size="19.6" font-weight="bold" text-anchor="middle">4</text>
<line x1="1203.2" y1="1692.2" x2="1203.2" y2="1699.2" stroke="#000" stroke-width="3"/>
<text x="1203.2" y="1721" font-size="19.6" font-weight="bold" text-anchor="middle">5</text>
<line x1="1229.5" y1="1692.2" x2="1229.5" y2="1699.2" stroke="#000" stroke-width="3"/>
<text x="1229.5" y="1721" font-size="19.6" font-weight="bold" text-anchor="middle">6</text>
<line x1="1255.8" y1="1692.2" x2="1255.8" y2="1699.2" stroke="#000" stroke-width="3"/>
<text x="1255.8" y="1721" font-size="19.6" font-weight="bold" text-anchor="middle">7</text>
<line x1="1282.2" y1="1692.2" x2="1282.2" y2="1699.2" stroke="#000" stroke-width="3"/>
<text x="1282.2" y="1721" font-size="19.6" font-weight="bold" text-anchor="middle">8</text>
<line x1="1308.5" y1="1692.2" x2="1308.5" y2="1699.2" stroke="#000" stroke-width="3"/>
<text x="1308.5" y="1721" font-size="19.6" font-weight="bold" text-anchor="middle">9</text>
<line x1="1334.8" y1="1692.2" x2="1334.8" y2="1699.2" stroke="#000" stroke-width="3"/>
<text x="1334.8" y="1721" font-size="19.6" font-weight="bold" text-anchor="middle">10</text>
<line x1="1361.1" y1="1692.2" x2="1361.1" y2="1699.2" stroke="#000" stroke-width="3"/>
<text x="1361.1" y="1721" font-size="19.6" font-weight="bold" text-anchor="middle">11</text>
<text x="1216.4" y="1751.3" font-size="20.24" font-weight="bold" text-anchor="middle">Days post infection</text>
<text x="1022.3" y="1571.6" font-size="20.05" font-weight="bold" text-anchor="middle" transform="rotate(-90 1022.3 1571.6)">% Survival</text>
<line x1="1386.4" y1="1467.7" x2="1412.7" y2="1467.7" stroke="#000000" stroke-width="2.4"/>
<circle cx="1399.7" cy="1467.7" r="5.3" fill="#000000"/>
<text x="1427" y="1474.9" font-size="20.3">Mock</text>
<line x1="1386.4" y1="1497" x2="1412.7" y2="1497" stroke="#8fc0f5" stroke-width="2.4"/>
<circle cx="1399.7" cy="1497" r="5.3" fill="#8fc0f5"/>
<text x="1427" y="1504.2" font-size="20.3">H3N2 (<tspan font-style="italic">i.m.</tspan>)</text>
<line x1="1386.4" y1="1526.3" x2="1412.7" y2="1526.3" stroke="#4d4dff" stroke-width="2.4"/>
<circle cx="1399.7" cy="1526.3" r="5.3" fill="#4d4dff"/>
<text x="1427" y="1533.5" font-size="20.3">H3N2+NVT (<tspan font-style="italic">i.m.</tspan>)</text>
<line x1="1386.4" y1="1555.6" x2="1412.7" y2="1555.6" stroke="#ff0a78" stroke-width="2.4"/>
<circle cx="1399.7" cy="1555.6" r="5.3" fill="#ff0a78"/>
<text x="1427" y="1562.8" font-size="20.3">H3N2+NVT (<tspan font-style="italic">i.n.</tspan>)</text>
<line x1="1586.2" y1="1522.3" x2="1586.2" y2="1561.5" stroke="#000" stroke-width="1.8"/>
<text x="1591.5" y="1541.5" font-size="13.48" font-weight="bold" text-anchor="middle" transform="rotate(90 1591.5 1541.5)"><tspan font-style="italic">P</tspan> = 0.0035</text>
<line x1="1610.6" y1="1491.2" x2="1610.6" y2="1561.5" stroke="#000" stroke-width="1.8"/>
<text x="1616.3" y="1525" font-size="13.48" font-weight="bold" text-anchor="middle" transform="rotate(90 1616.3 1525)"><tspan font-style="italic">P</tspan> = 0.0031</text>
<line x1="1635.5" y1="1460.9" x2="1635.5" y2="1561.5" stroke="#000" stroke-width="1.8"/>
<text x="1640.6" y="1510.8" font-size="13.5" font-weight="bold" text-anchor="middle" transform="rotate(90 1640.6 1510.8)"><tspan font-style="italic">P</tspan> = 0.0023</text>
<text x="-1" y="1886.4" font-size="38" font-weight="bold">e</text>
<text x="151.7" y="1903.3" font-size="20.5">Gated in CD4<tspan dy="-8" font-size="13">+</tspan><tspan dy="8"> cells</tspan></text>
<text x="151.4" y="2221.6" font-size="20.5">Gated in CD8<tspan dy="-8" font-size="13">+</tspan><tspan dy="8"> cells</tspan></text>
<path d="M236.8 2127.4L193.3 2127.7L172.8 2126.4L167.8 2125.1L162.8 2122.5L158.8 2118.9L156.2 2114.9L155.2 2110.9L155.7 2106.9L157.5 2102.4L162.1 2093.9L163.4 2088.4L163.5 2049.9L162.8 2032.6L159.8 2010.4L157.3 2004.9L149.6 1992.4L146.5 1986.4L144.1 1979.9L143.3 1973.9L143.7 1970.9L147.6 1965.9L152.3 1961.8L157.8 1958.6L165.3 1956L174.3 1955.2L182.8 1956.3L191.3 1959.2L200.3 1964.3L208.7 1970.9L216 1979.4L220.1 1986.9L221.8 1991.9L222.7 1997.4L222.9 2003.4L222.3 2009.9L220 2018.4L212.5 2036.4L211.2 2041.9L210.4 2047.9L210.1 2083.4L210.6 2087.9L211.9 2090.4L215.3 2092.4L222.3 2093.6L270.3 2094.4L279.3 2095.1L283.8 2096.5L287.8 2098.9L291.3 2102.4L293.6 2106.4L294.2 2108.9L294.2 2111.9L292.5 2116.9L290.7 2119.4L288.1 2121.9L282.3 2125.1L278.3 2126.1L273.3 2126.5L236.8 2127.4Z" fill="#3c3cff" filter="url(#spkA)"/>
<path d="M225.8 2124.4L193.8 2124.5L177.8 2123L171.8 2121.7L167.8 2120.1L164.3 2117.4L162 2113.9L161.4 2109.4L163.1 2104.4L166.3 2100.4L174.1 2093.9L176.5 2089.9L177.2 2084.4L177.2 2065.4L176.6 2042.9L175.6 2035.4L173.8 2028.4L172.1 2024.4L167.1 2016.4L164.6 2010.9L152.6 1991.4L150 1985.4L148.6 1979.9L148.6 1974.9L149.8 1970.9L155.3 1965.7L161.8 1962.2L169.3 1960.3L176.8 1960.2L184.8 1962.2L191.8 1965.7L198.1 1970.9L203.3 1981.6L209.1 1989.9L211.1 1994.9L211.9 1998.9L212.1 2003.9L211.9 2008.9L211.1 2012.9L208.5 2019.4L200 2034.9L198.1 2040.4L197.1 2045.9L196.5 2057.4L196.4 2084.9L197 2089.4L198.7 2092.4L200.6 2093.9L204 2095.4L212.5 2096.9L241.8 2097.7L277.3 2099.7L281.3 2100.9L284.3 2102.8L286.6 2105.4L287.9 2108.4L287.9 2112.4L286.1 2116.4L282.8 2119.3L278.8 2121L272.8 2121.8L257.8 2122.3L241.8 2123.8L225.8 2124.4Z" fill="#1e1eff" filter="url(#spkB)"/>
<path d="M190.8 2020L188.8 2020L186.8 2019.3L181.3 2015.1L174.8 2015.5L170.8 2014L165.6 2007.9L157.9 1996.4L153.5 1986.9L152.3 1982.4L152.1 1978.4L152.7 1974.9L154.4 1971.4L159.8 1967.2L163.8 1965.3L168.3 1964.1L172.8 1963.7L177.8 1964.1L182.3 1965.2L186.8 1967.3L191.8 1970.8L193.4 1972.9L195 1976.4L195.8 1980.9L195.3 1996.9L198.8 2005.5L199.6 2009.9L198.8 2013.2L196.8 2016.3L193.8 2018.8L190.8 2020ZM230.8 2121.9L197.3 2122.3L188.8 2121.9L182.3 2121L174.8 2119.1L169.8 2116.7L166.9 2113.4L166.3 2111.4L166.3 2109.4L167.2 2106.9L168.7 2104.9L173.3 2101.7L181.3 2099L189.3 2098.1L210.8 2099.6L240.8 2100.3L258.8 2102.9L273.3 2103.8L276.8 2104.5L279.3 2105.6L281.3 2107.4L282.2 2109.4L282.1 2111.9L281 2113.9L278.8 2115.7L275.8 2116.7L258.8 2118.2L242.8 2121.1L230.8 2121.9Z" fill="#0808ff" filter="url(#spkC)"/>
<path d="M174.8 2010.5L172.3 2010.5L169.8 2009.1L166.8 2006.1L163.6 2001.9L157.5 1991.4L155.9 1986.9L155 1982.4L155.1 1979.4L155.7 1976.4L156.9 1973.9L158.8 1971.6L164.3 1968.4L170.8 1966.8L174.8 1966.7L178.8 1967.4L182.8 1968.7L186.3 1970.6L188.3 1972.4L190.1 1974.9L191.4 1977.9L191.9 1980.9L191.8 1984.4L191.1 1988.4L187.6 1996.4L180.2 2006.4L177.3 2009.1L174.8 2010.5ZM220.3 2120.4L195.8 2120.4L184.3 2119.1L178.6 2117.4L174.3 2115.1L171.9 2112.4L171.6 2109.9L172.5 2107.9L174 2106.4L179.3 2103.6L186.8 2101.7L195.3 2101.3L235.8 2102.3L242.8 2102.8L248.3 2104L253.3 2105.9L257.8 2108.4L259.5 2110.4L258.9 2111.9L255.4 2114.4L250.8 2116.6L246.3 2118.1L237.8 2119.5L220.3 2120.4Z" fill="#0038ff"/>
<path d="M173.8 2006.9L171.8 2006.7L169.3 2005.3L164.1 1999.4L159.5 1990.9L158.2 1986.9L157.7 1983.4L158.5 1977.9L161.2 1973.9L165.8 1971L171.8 1969.7L178.3 1970.3L183.8 1972.9L187.3 1976.9L188.3 1979.4L188.7 1982.4L188.5 1985.9L187.7 1989.4L184.2 1996.9L178.3 2004.4L175.8 2006.3L173.8 2006.9ZM223.3 2118.4L200.3 2118.6L188.3 2117.7L183.8 2116.5L180.4 2114.9L178.3 2112.9L177.7 2110.4L178.3 2108.9L179.8 2107.4L184.3 2105.2L189.8 2104L197.8 2103.6L221.8 2103.9L239.8 2104.8L243.8 2105.6L246.8 2106.7L249.2 2108.4L250.2 2109.9L250.1 2111.9L249 2113.4L246.9 2114.9L243.8 2116.2L237.3 2117.4L223.3 2118.4Z" fill="#0090ff"/>
<path d="M174.8 2003.9L172.8 2004.2L170.8 2003.7L166.5 1999.9L162.2 1992.9L160 1985.9L160.2 1980.9L162 1976.9L165.8 1973.7L170.8 1972.2L176.3 1972.4L181.3 1974.4L184.7 1977.9L186.3 1982.4L185.9 1987.9L183.4 1994.4L179.3 2000.5L176.8 2002.8L174.8 2003.9ZM218.8 2116.9L200.8 2117L190.8 2116.3L184.8 2114.4L183 2112.9L182.3 2110.9L182.9 2109.4L183.9 2108.4L187.8 2106.6L192.8 2105.7L200.8 2105.4L219.8 2105.6L236.8 2106.6L242.5 2107.9L244.1 2108.9L245.2 2110.4L244.9 2111.9L244.1 2112.9L239.8 2114.8L230.3 2116.1L218.8 2116.9Z" fill="#00e0f0"/>
<path d="M174.3 2001.5L172.8 2001.7L170.8 2001.2L166.8 1997.6L163.5 1991.9L162 1985.9L162.5 1981.4L164.3 1978.1L167.8 1975.5L171.8 1974.5L176.3 1974.9L180.3 1976.8L182.9 1979.9L184.1 1983.9L183.6 1988.9L181.4 1994.4L177.8 1999.3L174.3 2001.5ZM220.3 2114.9L205.8 2115.2L194.8 2114.7L189.5 2113.4L188 2112.4L187.5 2110.9L189.3 2109.1L192.8 2108L205.8 2107.3L218.8 2107.5L228.8 2108.4L235 2109.4L236.4 2109.9L237.4 2110.9L236.8 2111.9L233.3 2113.1L220.3 2114.9Z" fill="#18ff80"/>
<path d="M174.3 1998.9L171.3 1998.8L168.3 1996.5L165.7 1992.4L164.2 1987.4L164.4 1983.4L165.7 1980.4L168.3 1978.1L171.8 1977L175.3 1977.3L178.7 1978.9L180.8 1981.4L181.9 1984.9L181.6 1988.9L179.8 1993.4L177.3 1996.9L174.3 1998.9ZM211.8 2111.4L207.3 2111.8L203.1 2111.4L204.2 2110.9L207.3 2110.8L210.7 2110.9L211.8 2111.4Z" fill="#90ff10"/>
<path d="M173.8 1996.5L171.3 1996.2L169 1994.4L167 1990.9L166.1 1987.4L166.4 1984.4L167.6 1981.9L169.8 1980.2L172.3 1979.5L174.8 1979.7L177.3 1981L178.9 1982.9L179.8 1985.9L179.6 1988.9L178.3 1992.4L176.3 1995.1L173.8 1996.5Z" fill="#ffe000"/>
<path d="M174.3 1993L172.8 1993.4L171.3 1992.8L169.8 1991.2L168.9 1988.9L168.7 1986.9L169.3 1984.9L170.3 1983.6L171.8 1982.8L174.8 1983.1L176.3 1984.4L177 1985.9L177.2 1987.9L176.7 1989.9L175.8 1991.6L174.3 1993Z" fill="#ff7000"/>
<path d="M173.3 1991L172.3 1990.9L171.3 1990.1L170.6 1987.9L171.1 1985.9L172.8 1985L174.3 1985.5L175.3 1987.4L174.8 1989.7L173.3 1991Z" fill="#ff2000"/>
<path d="M168.5 2062.5h0M208.4 1993.3h0M147.4 1993.4h0M206.1 2057.9h0M152.1 1989.4h0M182.5 2080.3h0M183.5 2078.8h0M211.9 1977.4h0M203 1988.9h0M265 2122.2h0M183.9 2029.4h0M224.2 2021.7h0M205.2 2064.9h0M208.7 2001.1h0M157.4 1997.7h0M178.8 2070.2h0M271.4 2120.8h0M197.5 2054.6h0M196.6 2027.5h0M197.9 2044.7h0M166.8 2119.7h0M174.6 2024.1h0M184 2078.7h0M219.9 2092.9h0M176.2 2034.3h0M177.1 2127.1h0M273.7 2091.9h0M211.5 1992.6h0M187.5 1964.8h0M206.8 2055.6h0M193.6 2056h0M173.8 2020.9h0M203.3 1990.6h0M164.6 2015.5h0M139.2 1970.8h0M205.1 2061.2h0M187.4 2094.7h0M179.7 2054.2h0M156.9 2083.3h0M222 2014.5h0M155.2 2002.5h0M193.3 2091h0M191.3 2042.9h0M262.5 2091.1h0M158.3 2071.8h0M204.6 1996.4h0M182 2073.4h0M179.9 2050.3h0M292 2098.4h0M257.2 2100.5h0M188.7 2062.4h0M194.6 2039.8h0M151.5 2113.9h0M147.4 1968.1h0M220.5 1994.6h0M216 2098.5h0M206.1 2126.6h0M209.5 2046.8h0M263.7 2127.4h0M252.1 2125h0M196.8 2030h0M186.8 1955.5h0M290.9 2114.7h0M211.5 2069.7h0M163.6 2068.8h0M280 2102.8h0M144.6 1971.6h0M210.6 2051.6h0M273.6 2101h0M208.6 1972.3h0M230.4 2094.4h0M172.4 1960.8h0M170.7 2041.7h0M188.7 2050.7h0M219 1980.8h0M195.7 2051.1h0M176.1 2077.9h0M188.7 2086.5h0M197 1973.3h0M242.5 2123.1h0M193 1959.5h0M209.2 2064.5h0M185.8 2080.1h0M233.2 2095.8h0M244.6 2098.2h0M179.2 2085.3h0M196.2 2054.5h0M251 2121.2h0M172.9 2051.5h0M286.8 2105.2h0M200 2085.3h0M254 2099.5h0M217.4 2011.1h0M197.9 2036h0M264.9 2125.3h0M205.8 1980.2h0M218.2 2089.1h0M159.2 2060h0M212.9 2033.2h0M188 2058.9h0M204.4 2052.4h0M182.6 2122.9h0M209.2 2028.5h0M204.6 2088.1h0M196 2091.2h0M158.6 2123.8h0M192.9 2030.9h0M271.1 2130.3h0M159.3 2020.4h0M272.6 2100.7h0M193.3 2071.7h0M293.5 2115.2h0M292.5 2106.5h0M185.1 2043.5h0M176.7 2049.6h0M203.8 2028.3h0M203 1972.3h0M235.4 2127.5h0M197.2 2066.6h0M152.8 1994.8h0M170.1 2023.4h0M198.1 2073h0M210 2012.9h0M165.2 2054h0M202.5 2063.4h0M208.6 1993.5h0M198.1 2060h0M202.6 1989.9h0M229.1 2098.8h0M273.9 2101.4h0M217.8 2013.7h0M148.9 1984.1h0M206.8 2128.9h0M206.5 2077.1h0M207.6 2014h0M170.5 2062.7h0M187.6 2127h0M283.8 2094.1h0M222.1 2006.9h0M227.1 2096.3h0M163.5 2012.3h0M176.6 2077.7h0M201.2 1971.1h0M186 2059h0M187.9 2043.7h0M198.5 1963.8h0M207.2 2090.6h0M208.9 2072h0M153.3 1969h0M196.6 2032.2h0M173.6 2030.9h0M287.7 2101.9h0M164.5 1961.4h0M202.1 1987.4h0M176.2 2056.6h0M198.9 2047.5h0M170.6 2065.2h0M170.8 2033.8h0M200.6 2044.7h0M200.1 2093.1h0M198.4 2061.9h0M202.4 1986.7h0M197.7 1969.7h0M197.1 1969.4h0M249.1 2129.8h0M165.7 2010.3h0M168 2084.7h0M175.1 2059.8h0M182.7 2084.9h0M208.1 2042h0M198 2073.7h0M178.7 2025.3h0M162.9 2006.2h0M175.7 2047.1h0M168.4 2018.3h0M176.9 2072.1h0M265.3 2101.2h0M208.3 2092.7h0M194.2 2063.2h0M205 2062.7h0M274.4 2100.5h0M203.5 2056.7h0M179.1 2061h0M198.8 1982.7h0M174.5 2070.1h0M205.1 2096.5h0M178.5 2057.8h0M163.5 2111.5h0M284.8 2123.3h0M188.5 2039.4h0M189.7 2033.4h0M202 2023.3h0M288.4 2114.3h0M144.6 1970.3h0M193.8 2053.3h0M173.9 2057.3h0M165.9 2065.3h0M270.8 2101.1h0M239.2 2123.2h0M185.3 2129.9h0M205.2 2058.3h0M206.2 1995.1h0M181.2 2040.2h0M288.4 2117.1h0M181.3 2050.6h0M191.6 1955.8h0M208.6 2000.5h0M165.2 2103.3h0M229.2 2126.4h0M201.7 2027.9h0M216.5 1970.1h0M201.6 2034.5h0M202 1982.2h0M174.8 2019.7h0M185.3 2070.9h0M249.4 2098.3h0M206 1973.9h0M162.7 2094.9h0M208.2 2032.7h0M202 2089.4h0M166.3 2067.9h0M211.5 2074.4h0M179 2027.1h0M222.7 2015.1h0M233.8 2097.9h0M185.3 2073.1h0M221.6 2124.4h0M182.9 2033.9h0M181.2 2128.2h0M181 2089.3h0M261 2097.5h0M166.7 2015.9h0M199.6 1974.5h0M209 1987.5h0M221.9 1987.2h0M167.7 2024.4h0M248.5 2122.9h0M263.6 2122.3h0M288.5 2108h0M200.4 2036.9h0M163.3 2041.4h0M192.8 1964.1h0M203 1967.6h0M232.1 2123.7h0M170.5 2081.1h0M221.9 1997.2h0M198.4 1972h0M209.1 2009h0M198.8 2079.7h0M167.8 2018.3h0M183.2 2047.2h0M235.3 2129.5h0M180.2 2089.8h0M190.3 2053.1h0M191.7 2065.7h0M211.7 2046.9h0M216 1988.9h0M205.7 1989.2h0M176.7 2029.2h0M279.4 2122.9h0M198.6 2076.9h0M253.3 2092.8h0M178.9 2035.4h0M222.5 2003.4h0M275.8 2127.7h0M255.4 2095.3h0M163.3 2018.4h0M226.2 2008.3h0M219.3 1975.8h0M180.3 2057.5h0M155.1 2031.6h0M292.3 2099.8h0M151 1970.2h0M189.1 2067.3h0M182.2 2044.7h0M201.8 2024.8h0M222.2 2009.7h0M219.9 1987.9h0M157.8 2056.2h0M284.5 2106.8h0M254.6 2099.6h0M281.8 2095h0M208.8 2026.9h0M205 2030.5h0M213.8 2089.7h0M178 2079.4h0M204.3 2031.2h0M173.1 2027.5h0M214 2060.1h0M163.9 2107.2h0M162.9 2122.9h0M154.6 2029.2h0M161.3 2114.1h0M182.4 2125.4h0M182.5 2074.3h0M180.7 2032.1h0M223.9 1987.4h0M181.2 2053.9h0M206 1992.9h0M184 2083.2h0M208 1981h0M191.3 2044.6h0M180.6 2068h0M169.4 2075.5h0M285 2112.2h0M285.5 2107.1h0M183.4 2070.7h0M292.1 2105.6h0M187.6 2035.4h0M164.8 2094.5h0M173.7 1960h0M297.5 2110.5h0M176.7 2091.8h0M228.3 2098.9h0M196.4 2066h0M161.2 1954h0M255.2 2099.2h0M169.5 2049.8h0M201.3 2077.6h0M177.1 2066.3h0M174.2 1955.3h0M183.8 2058.4h0M272.4 2094.7h0M176.7 2077.4h0M208.4 1984.1h0M202.4 2130.1h0M205.2 2027.3h0M272.1 2127.4h0M226.8 2097.7h0M191.1 2081.5h0M216.9 1982.2h0M189.2 1958.5h0M239.6 2093.3h0M195.5 2063.8h0M266 2099.5h0M161.1 2123.3h0M236.2 2096.8h0M202.4 2019.9h0M182.4 2086.2h0M204.9 2095.3h0M200.3 2053.8h0M156 1961.3h0M177.9 2124.4h0M188.5 2054h0M208.5 2045.2h0M210.3 2069.2h0M198.5 2064.3h0M177.2 2129.8h0M264.1 2094.5h0M165.4 2076.4h0M194 2071.5h0M193.7 2048.1h0M187.6 2086h0M212.7 2089.1h0M275.7 2125.7h0M169.1 2029.5h0M216.7 1979.4h0M208 2030.5h0M183.2 2094.5h0M195.8 2123.4h0M208.7 2095.5h0M188.2 2069.3h0M204.6 2094.4h0M164.7 2059.8h0M222.2 2127.9h0M175.3 1959.2h0M183.8 2057.2h0M205.2 2021.7h0M266.6 2093.5h0M292.2 2113.5h0M200.6 2023.8h0M167.6 1958.6h0M167.2 2071.1h0M219.8 2002.4h0M222.9 2003.2h0M150.3 1996h0M198.9 2078h0M255.5 2122.1h0M190.4 2068.5h0M276 2098.1h0M256.6 2121h0M146.9 1967.1h0M197.8 2065.7h0M199.9 2126.8h0M218.6 2031.5h0M176.2 2045.1h0M211.2 2095.1h0M196.8 2096.6h0M198.5 2093.9h0M181 2078.3h0M191 2088.5h0M204.4 2020.5h0M146.9 1984.3h0M200.6 2021.5h0M196.7 2045.7h0M194 2079.3h0M157.6 1960.9h0M215.7 1998.7h0M204 2094.5h0M203.2 1983.9h0M250.1 2125.9h0M199.3 2052.1h0M161.4 2099.2h0M207.8 2039.2h0M216.5 1992.1h0M212.9 2058.6h0M188.8 2081.6h0M294.7 2117.8h0M211.8 1968.8h0M186.5 2035.1h0M199.2 2045.4h0M155.7 2092h0M278 2095.5h0M282.6 2121.8h0M270.7 2120.8h0M176.4 2072.1h0M189.6 2079.3h0M188.7 2049.5h0M185.8 2063.4h0M173.6 2076.2h0M161.7 2007.9h0M207.8 2097h0M278.5 2120.3h0M209.1 1998.7h0M174.6 2036h0M294.6 2100.6h0M183.7 2067.6h0M147.1 1982.8h0M183.5 1962.5h0M206.9 2037.6h0M172.7 2048.9h0M190.8 2095h0M195.4 2044.5h0M182.3 2039.6h0M257.6 2099.6h0M209.8 2124.8h0M209.6 2124.7h0M195.6 2123.9h0M220.8 1998.8h0M203.3 2057.8h0M202.8 1980.1h0M173.1 2025.8h0M175 2048.1h0M159.5 2074.9h0M278 2102h0M221.7 2022.1h0M254.4 2129.6h0M190 1967.2h0M205.6 1968.8h0M162.4 2007.5h0M208.6 2032.3h0M159 1964.2h0M164.1 2047h0M162 2005.3h0M211.8 2016.4h0M181 2072.3h0M209.3 2058.4h0M214.1 1987.5h0M200.6 2054.4h0M217.4 1997.6h0M269 2098.1h0M184.4 2038h0M183 2057.8h0M184.1 2053.3h0M240.2 2090.9h0M176.3 2050.9h0M201.7 2070.6h0M198.7 2057.4h0M186.6 2087.6h0M205.8 1994.9h0M186.8 2080.3h0M216.1 1990.4h0M207.2 2093.4h0M199.2 2035.8h0M219.7 2097.5h0M168.9 2028.8h0M268.1 2098.7h0M215.2 2008.8h0M260.1 2121.6h0M161.6 2077.4h0" stroke="#2020ff" stroke-width="1.4" stroke-linecap="round" stroke-opacity="0.85"/>
<path d="M192.9 2088.2h0M185.1 2000.2h0M251 2118.1h0M187.1 2089.9h0M202.9 2121.7h0M185.7 2120.4h0M178.1 2095.9h0M185.4 2067.8h0M189.6 1980h0M196.2 2022.7h0M197.1 2039.9h0M199.6 1999.6h0M191.7 2049.6h0M198.5 2037.2h0M193.2 2096.3h0M195.9 2016.9h0M268.6 2114.9h0M207.4 1988.1h0M214.7 2122.6h0M217 2098.1h0M254.7 2120.5h0M235.2 2098.4h0M242.6 2117h0M271 2113.5h0M268.3 2111.3h0M280.1 2112.1h0M186.2 2055.6h0M183.9 2062.3h0M191.9 2101.2h0M170.5 2015.3h0M189 2103.1h0M185.6 2017.8h0M252.2 2118.6h0M184.1 2070.1h0M157.6 1971.3h0M187.2 1968.4h0M182.6 2023.7h0M198 2103.1h0M168.2 2118.3h0M258.7 2101.4h0M175.3 2027.7h0M176.3 2120.7h0M195.2 2007.3h0M167.3 2004.2h0M188.8 2071.4h0M186.5 2045.5h0M206.6 1996.9h0M269.8 2102.3h0M197.4 2121.2h0M263.5 2121.5h0M185.6 2091.6h0M177 2026.2h0M181.3 2003.8h0M198.1 1999.2h0M196.3 2032.6h0M196.5 2009.5h0M179.9 2008.9h0M203.8 2124h0M253.9 2115.6h0M235.6 2102.8h0M177.3 2046.2h0M217.2 2122.4h0M201.8 1985.1h0M172.9 2011h0M186.7 2036.2h0M277.3 2110.6h0M193.8 2101h0M186.2 1969.9h0M167.5 2007.2h0M173.8 2116.5h0M184 2094.5h0M156.5 1968.7h0M155.2 1978.7h0M209.2 2006.1h0M197.2 2119.8h0M182.3 2001h0M177.9 2013.1h0M198.9 1998.5h0M174.9 1967.9h0M191.3 2027.7h0M199 1999.2h0M243.2 2100h0M240.9 2119h0M185.7 1971.8h0M192.3 2000h0M252.6 2112.3h0M216.5 2120.6h0M221.2 2124h0M181.3 2006h0M213.4 2103h0M156.2 1972.3h0M184.4 2055.2h0M203.9 2008.3h0M197.4 2122.3h0M177 2010h0M276.3 2120.6h0M194.7 1978.4h0M165.5 2109.3h0M165 2008.7h0M187.8 2016.6h0M254.7 2112h0M181.1 2072.7h0M272.8 2117.6h0M265.6 2110.7h0M226 2119.3h0M203.9 2004.3h0M196.6 2012.3h0M181.8 2121.8h0M178.7 2062.2h0M189.1 2064.1h0M187.5 2082.7h0M178.3 2011.9h0M196.1 2046.3h0M190.3 2000.9h0M183 2089h0M271.2 2112h0M265.7 2105.2h0M201.3 2020.8h0M191.8 2036.8h0M198.2 1987.8h0M243 2120h0M182.1 1965.2h0M209.6 2007.3h0M181.6 2051.3h0M250.1 2098.9h0M256.9 2106.8h0M172.4 2101.5h0M175 2119.6h0M175.3 2008.4h0M195.6 2120.8h0M263 2112.8h0M197.4 2098.3h0M172.5 2010.2h0M196.4 2099.3h0M280.1 2106.6h0M191 2029.3h0M184 2045.2h0M191.5 2024.8h0M188.6 2045h0M259.7 2117.1h0M151 1979.9h0M172.7 2015.5h0M272.2 2119.4h0M219 2097.8h0M177.1 2014.5h0M191.6 2054.4h0M178.1 2019.6h0M195.2 1991.8h0M245 2099.4h0M209.7 1993.1h0M184.9 2085.8h0M196.9 2010.3h0M189.1 2103.1h0M168.6 2005.9h0M234.8 2102.1h0M180.8 2019.1h0M186.9 2097.8h0M193.1 1986.9h0M185 2100.9h0M255.4 2110.7h0M179 2080.8h0M156.5 1994.3h0M192.2 2014.9h0M207.6 2120.2h0M189 1974h0M193.5 1992.5h0M193.8 2018.8h0M191.4 2071.9h0M191.4 2012.3h0M248.7 2122.9h0M252.6 2105.3h0M182.9 2052h0M192.6 2020.6h0M207.5 2003.8h0M159.7 2002.9h0M161.7 1971.4h0M194.9 2120h0M193.8 2063.2h0M190.6 2015.5h0M169.8 2113.7h0M258.2 2103.1h0M255.7 2118h0M157.7 1999.2h0M222.1 2119.4h0M191.9 2119.4h0M188.5 2046.8h0M178.1 2106.7h0M153 1987.2h0M189.8 1967.2h0M237.9 2102.1h0M183.9 1962.3h0M179.1 2101.8h0M184.3 2068.6h0M250.7 2104.8h0M286.7 2115h0M166 2113h0M179.2 2041.1h0M192.6 1981.5h0M178.6 2100.3h0M209.7 2101.3h0" stroke="#3070ff" stroke-width="1.3" stroke-linecap="round" stroke-opacity="0.9"/>
<path d="M247.7 2017.4h0M244.8 1997.2h0M259 1998.3h0M233.4 2034.5h0M252.6 2042.9h0M259.5 1999.6h0M240.8 1979.4h0M234.8 2056.7h0M255.6 2050.6h0M259.2 1982.3h0M243 1998.3h0M259.6 2001.1h0M257.8 2003.8h0M265.8 2031.3h0M268.4 2000.7h0M248.7 2020h0M260.6 2010.3h0M227.7 2056h0M239.1 2021.6h0M234.4 1988.2h0M266.5 2019.6h0M268.4 2034.6h0M236.5 1975.6h0M275 2040.4h0M237.2 2050.4h0M265.1 1985.7h0M272.8 1981.4h0M249.7 2005.6h0M259.9 2040h0M261.8 2002.3h0M264.9 2024h0M257 2010.8h0M264.5 2000.8h0M264.8 1978.4h0M250 2009.6h0M230.2 2038.8h0M248.7 2033.8h0M252.5 2029.7h0M273.5 2005.9h0M253.8 2037.1h0M260.9 2053.8h0M229.4 2000.8h0M242.6 2023.8h0M235.6 1972.9h0M239.1 1992.5h0M271.2 2048.7h0M241.1 2005.1h0M230.1 2005.1h0M259.2 2049.5h0M254.4 2057.7h0M227.8 2037h0M237.7 2037.4h0M242.9 2021h0M242.4 2035.9h0M258.4 2028.2h0M253.5 2034.4h0M241.2 2004h0M242.9 2014.8h0M251.7 2056.3h0M241.8 2056h0M269.8 1979.4h0M259.8 2021.5h0M275 2023.2h0M266.9 2032.9h0M276.3 2016.9h0M251.5 2006.3h0M240.6 1973.7h0M275.4 2009.4h0M241.8 2031.6h0M262.8 2003.1h0M273.2 2037.4h0M269.6 1998.5h0M241.9 2044.4h0M236.1 1987.8h0M227.8 1986.7h0M271.2 2016.7h0M234.9 2048.1h0M248.8 2030.5h0M235.2 1996h0M250.6 2014.6h0M241.9 2016.4h0M250.7 2006.4h0M236.6 1988.2h0M234.6 2045.4h0M252.1 2042.3h0M272.4 2004.5h0M248.3 2028h0M227.9 2013.8h0M271.9 1984.1h0M234.2 2047.7h0M259 2031h0M268.6 2050.5h0M251.5 2052.2h0M257.1 2001.3h0M239.1 2003h0M233.9 2031.8h0M259.9 2021.3h0M234.7 2012.7h0M263 1990.1h0M236.9 2034.4h0M275.1 2052h0M254.8 1991.2h0M244.3 2013h0M226.9 2031.4h0M268.8 2019.1h0M237.3 2005.9h0M238 2018.9h0M238.6 2049.9h0M273.9 2038.9h0M240 1989.5h0M256.1 1983.5h0M232 2040.3h0M276.4 2050.2h0M254.1 1974.2h0M276.7 2038.2h0M227.5 2017.3h0M232.9 1995.3h0M274.7 2037.6h0M250.2 1993.9h0M231.7 1990h0M275.4 2042.1h0M244.8 2035.7h0M250.3 2044h0M268.7 1999h0M233.7 1997.8h0M251.7 1974.4h0M247.6 1979.6h0M247.3 1994.1h0M244.6 2048.8h0M226.9 2018.1h0M251.6 1997.1h0M267.5 2043.1h0M232.4 2015.8h0M274 2044.2h0M227.5 2009.5h0M265.6 1979h0M237.1 2057.4h0M266 2055h0M264.9 2001.6h0M248.1 1972.9h0M253.1 2029.8h0M240.7 2040.9h0M265.8 2039h0M267.3 2030.2h0M252 2016.2h0M276.4 2026.7h0M233.8 2024h0M268 1979.4h0M269.7 2044.7h0M266.2 1999.7h0M291.2 2012.7h0M317.1 2026.3h0M277.3 2039.5h0M315.9 1995.4h0M316.5 1988.9h0M287.5 1992h0M273.8 2019.4h0M273 2012.6h0M314.8 2040h0M298.7 2042.6h0M320.1 1987.7h0M313.4 2005.3h0M317 1995.8h0M293 1971.8h0M274.5 2048.1h0M311.2 2026.9h0M306.8 2051.5h0M287.8 2035.8h0M272.8 2017.7h0M302.1 1988h0M297 2040.4h0M301.6 2022.1h0M315.1 2029.1h0M281.6 1998.5h0M316.2 1985.1h0M287.2 2008.7h0M272.5 1984h0M304.3 2030.8h0M314.5 2008.2h0M285.9 2001.4h0M300.1 1988.8h0M284.6 2032.5h0M319.7 2022.4h0M291.4 2039.4h0M308.1 2015h0M319.5 1970.5h0M311.9 1984.5h0M319.7 1994.6h0M292.6 1975.6h0M277 2042.5h0M279.2 2036.6h0M272.7 2042.8h0M308.1 1995.4h0M300.7 1998.9h0M321.1 2003.4h0M298.7 1987.4h0M284 1996.4h0M303.7 2000.6h0M278.8 2030.2h0M281.4 2048.3h0M311.9 2036.8h0M307.1 1977.6h0M299.4 1968.4h0M287.3 2006.9h0M273.2 1988.6h0M284.8 1999.7h0M279.1 2035.8h0M287.2 1972.9h0M273.4 2020.3h0M291.8 1994.9h0M300.8 2067.5h0M232.2 2063.1h0M227.3 2086.3h0M280.9 2073.8h0M269.9 2085.7h0M228.5 2065.1h0M287.4 2079.1h0M302.2 2099.3h0M283.2 2074h0M234.6 2093.2h0M254.9 2095.9h0M265.7 2078.5h0M239.9 2070.5h0M295.5 2076.6h0M236.2 2089.3h0M227.4 2100.2h0M266.3 2082.1h0M292.8 2080.8h0M239.3 2081.6h0M249 2086.7h0M274.4 2086.1h0M250.9 2079.3h0M264.5 2091.6h0M282.2 2082.9h0M270.1 2095.5h0M245.5 2073.6h0M235.7 2078.7h0M257.5 2092.2h0M245.3 2096.6h0M271.7 2096.1h0M279 2068.2h0M272.5 2098.2h0M240.9 2082h0M259.5 2074.4h0M228.5 2068.1h0M289.7 2077.2h0M262.3 2073.3h0M279.6 2079h0M286.4 2091.8h0M244.7 2099.7h0M244.8 2082h0M285.6 2079.4h0M227.6 2077.9h0M265 2095.8h0M278.1 2098.8h0M287 2081.6h0M256.1 2068.6h0M289.3 2093.9h0M244.8 2092.9h0M268.2 2082.1h0M268.6 2063.7h0M244.6 2093.2h0M265.3 2090.3h0M260.5 2095.3h0M302.5 2075.3h0M293.9 2087.2h0M254.9 2067h0M298.8 2085.2h0M237.9 2097.8h0M279.3 2095.3h0M226.5 1971.8h0M160.8 1951.8h0M182.5 1967.3h0M205.3 1960.9h0M207.4 1953.2h0M179.1 1949.4h0M187.8 1966.6h0M218.3 1970.6h0M197 1947h0M183.1 1947h0M157.2 1953.2h0M205.5 1970.3h0M177.4 1970.8h0M216.4 1958.3h0M213.7 1951.1h0M181.3 1970.2h0M205 1970.1h0M225.3 1950.9h0M192.6 1968h0M225.7 1955.4h0M298.7 2118.2h0M301 2120.7h0M307.8 2097h0M309.3 2119.4h0M303.3 2105.5h0M297.8 2106.1h0M303 2102h0M305.7 2102.2h0M295.9 2118.6h0M308.3 2116.1h0M293.1 2105.8h0M300.7 2097.1h0M306.7 2096.1h0M304.1 2121.2h0M310.2 2097.6h0M293.3 2117h0M303.3 2097.9h0M311.3 2113.9h0M305.8 2121h0M299.1 2107.3h0" stroke="#2a2aff" stroke-width="1.5" stroke-linecap="round" stroke-opacity="0.85"/>
<line x1="226.8" y1="1922.9" x2="226.8" y2="2143.7" stroke="#333" stroke-width="1.4"/>
<line x1="131.8" y1="2058.6" x2="354" y2="2058.6" stroke="#333" stroke-width="1.4"/>
<rect x="131.8" y="1922.9" width="222.2" height="220.8" fill="none" stroke="#333" stroke-width="1.6"/>
<path d="M131.8 2138.1h-2M131.8 2132.5h-2M131.8 2126.9h-2M131.8 2121.3h-2M131.8 2115.7h-3.5M131.8 2110.1h-2M131.8 2104.5h-2M131.8 2098.9h-2M131.8 2093.3h-2M131.8 2087.7h-3.5M131.8 2082.1h-2M131.8 2076.5h-2M131.8 2070.9h-2M131.8 2065.3h-2M131.8 2059.7h-3.5M131.8 2054.1h-2M131.8 2048.5h-2M131.8 2042.9h-2M131.8 2037.3h-2M131.8 2031.7h-3.5M131.8 2026.1h-2M131.8 2020.5h-2M131.8 2014.9h-2M131.8 2009.3h-2M131.8 2003.7h-3.5M131.8 1998.1h-2M131.8 1992.5h-2M131.8 1986.9h-2M131.8 1981.3h-2M131.8 1975.7h-3.5M131.8 1970.1h-2M131.8 1964.5h-2M131.8 1958.9h-2M131.8 1953.3h-2M131.8 1947.7h-3.5M131.8 1942.1h-2M131.8 1936.5h-2M131.8 1930.9h-2M131.8 1925.3h-2M137.4 2143.7v2M143 2143.7v2M148.6 2143.7v2M154.2 2143.7v2M159.8 2143.7v3.5M165.4 2143.7v2M171 2143.7v2M176.6 2143.7v2M182.2 2143.7v2M187.8 2143.7v3.5M193.4 2143.7v2M199 2143.7v2M204.6 2143.7v2M210.2 2143.7v2M215.8 2143.7v3.5M221.4 2143.7v2M227 2143.7v2M232.6 2143.7v2M238.2 2143.7v2M243.8 2143.7v3.5M249.4 2143.7v2M255 2143.7v2M260.6 2143.7v2M266.2 2143.7v2M271.8 2143.7v3.5M277.4 2143.7v2M283 2143.7v2M288.6 2143.7v2M294.2 2143.7v2M299.8 2143.7v3.5M305.4 2143.7v2M311 2143.7v2M316.6 2143.7v2M322.2 2143.7v2M327.8 2143.7v3.5M333.4 2143.7v2M339 2143.7v2M344.6 2143.7v2M350.2 2143.7v2" stroke="#333" stroke-width="0.8"/>
<text x="117.5" y="2030" font-size="22.81" text-anchor="middle" transform="rotate(-90 117.5 2030)">CD62L</text>
<text x="213.4" y="2170.8" font-size="22.53">CD44</text>
<rect x="301.7" y="2099.8" width="92.3" height="4" fill="#000"/>
<path d="M392 2094.3L412 2101.8L392 2109.3Z" fill="#000"/>
<path d="M178.9 2451.4L175.4 2451.8L172.4 2451.5L168.9 2450.1L165.9 2448.1L162.6 2444.9L160 2441.4L158.3 2437.9L157.2 2433.9L156.1 2421.9L158.4 2393.9L158.5 2348.4L158 2333.9L157.4 2329.4L156.2 2325.9L149.2 2312.4L146.7 2306.4L145.3 2301.4L144.7 2296.9L144.7 2294.4L147 2289.4L149.8 2285.4L153.4 2281.7L156.9 2279.2L160.9 2277.1L165.4 2275.8L169.9 2275.2L176.4 2275.6L182.9 2277.6L196.2 2284.9L206.4 2289.3L211.4 2292.2L216.2 2296.4L219.9 2301.4L222.2 2306.9L223.3 2312.9L223 2318.4L221.7 2323.4L219.3 2328.4L215.9 2332.7L212.9 2335.5L208.9 2338.2L203.4 2340.6L195.2 2342.9L193.4 2344.1L192.1 2345.9L191 2349.9L190.4 2355.4L190.3 2381.9L191.1 2389.4L191.9 2391.7L193.4 2393.4L195.9 2394.5L205.4 2396.6L210.9 2398.7L217.4 2402.7L222.1 2407.4L225.2 2412.4L226.8 2417.4L227.1 2422.9L226.2 2427.9L224.2 2432.4L220.8 2436.9L216.9 2440.5L211.9 2443.6L203.4 2446.8L197.9 2447.7L188.4 2448.5L178.9 2451.4Z" fill="#3c3cff" filter="url(#spkA)"/>
<path d="M178.4 2446.9L175.4 2447.4L172.9 2447.1L169.9 2446.1L167.4 2444.4L164.9 2442L163 2439.4L160.8 2432.9L160.1 2426.9L160.1 2420.9L162 2403.4L162.5 2392.9L162.5 2347.9L162.1 2334.9L161.4 2329.9L160.3 2326.4L151.2 2308.9L149.6 2303.9L148.9 2299.4L149.2 2294.4L151.7 2289.9L154.9 2286.1L157.9 2283.7L161.9 2281.4L165.9 2280.1L169.9 2279.6L173.9 2279.7L178.4 2280.7L182.4 2282.3L186.4 2284.8L198.9 2295.6L206.9 2301.4L209.9 2304.9L211.9 2308.9L212.8 2312.9L212.6 2317.4L211.3 2321.4L209.2 2324.9L206.4 2327.8L202.9 2330.1L191.4 2334L189.4 2336L187.9 2339.2L186.9 2344L186.4 2351.9L186.4 2388.9L187.4 2395.6L189.4 2399.3L192.4 2401L203.9 2403.6L210.4 2407L213.6 2409.9L215.9 2412.9L217.6 2416.4L218.3 2420.4L218 2424.9L216.2 2429.4L213.2 2433.4L209.4 2436.5L205.4 2438.6L201.4 2440L188.9 2442.1L178.4 2446.9Z" fill="#1e1eff" filter="url(#spkB)"/>
<path d="M176.9 2444L172.4 2443.8L167.9 2441.2L164.8 2436.9L163.2 2431.4L162.7 2425.9L162.8 2420.4L165.4 2403.9L166 2394.9L166.1 2349.4L165.7 2335.9L164.9 2330.9L163.6 2326.9L156.6 2314.9L154 2309.4L152.6 2304.9L151.9 2300.4L152.6 2294.4L154.5 2291.4L157.1 2288.4L159.9 2286.2L163.4 2284.3L166.9 2283.2L170.4 2282.8L174.9 2283.2L179.4 2284.6L183.4 2286.8L187.1 2289.9L190.9 2294.4L194.9 2304.8L199.9 2312.4L200 2315.9L198.4 2318.7L195.9 2320.4L190.4 2322.5L187.9 2324.9L185.6 2329.4L184.1 2334.9L183.1 2341.9L182.8 2350.9L183.1 2393.9L184.4 2400.6L186.9 2404.9L189.9 2406.9L199.4 2408.8L204.4 2411.1L206.9 2413.2L208.7 2415.4L209.9 2417.9L210.5 2420.9L210.2 2423.9L209.3 2426.4L207.4 2429.1L204.8 2431.4L199.4 2434L189.4 2436.2L181.4 2442.2L176.9 2444Z" fill="#0808ff" filter="url(#spkC)"/>
<path d="M177.4 2441L173.4 2441.2L169.4 2439.1L166.8 2435.4L165.2 2429.9L164.9 2424.4L165.3 2418.9L169.2 2402.9L170.2 2394.9L170.4 2354.4L170 2338.4L169.3 2333.4L168 2329.4L157.3 2311.9L155.2 2306.4L154.4 2301.4L154.6 2297.9L155.4 2294.9L158.4 2290.8L160.9 2288.7L163.9 2287L166.9 2286L170.4 2285.5L173.9 2285.8L177.4 2286.7L180.4 2288.1L183.4 2290.3L187.1 2294.4L188.5 2297.9L189.1 2301.4L188.5 2308.4L182.4 2322.9L180.3 2330.9L179 2338.9L178.5 2351.4L178.4 2384.4L178.7 2393.4L179.5 2398.9L181.9 2405.5L186.4 2411.9L189.9 2414.5L195.4 2415.9L197.9 2417.1L199.7 2418.9L200.4 2421.4L200 2423.4L198.4 2425.3L196.4 2426.5L191.4 2428L189.4 2429.1L182.3 2437.9L179.9 2439.9L177.4 2441Z" fill="#0038ff"/>
<path d="M174.9 2326.5L172.9 2326.8L170.9 2325.8L164.4 2319.1L159.5 2311.9L157.1 2304.9L156.9 2299.4L158.7 2294.4L162.9 2290.6L168.4 2288.4L171.4 2288.2L174.4 2288.6L179.8 2290.9L183.6 2294.4L184.9 2296.9L185.8 2299.9L185.9 2304.9L184.4 2310.4L177.6 2323.4L174.9 2326.5ZM175.4 2438.4L171.9 2437.5L169.4 2434.9L167.8 2430.9L167.1 2425.4L167.6 2419.4L169.4 2413.3L172.4 2408.3L174.9 2406.8L176.4 2407.2L177.9 2408.3L181.6 2412.9L184.2 2418.4L185 2422.9L184.1 2428.4L181.7 2433.9L178.9 2437.1L175.4 2438.4Z" fill="#0090ff"/>
<path d="M173.4 2321.4L171.4 2321.5L169.4 2320.7L164.4 2316.2L160.6 2310.4L158.9 2304.4L159 2299.4L161.1 2294.9L164.9 2291.9L169.4 2290.5L174.4 2290.8L178.9 2293L182.1 2296.4L183.6 2300.9L183.5 2305.9L181.6 2311.4L176.9 2318.7L174.9 2320.7L173.4 2321.4ZM175.4 2435.4L172.9 2434.8L170.9 2432.7L169.6 2429.4L169 2424.9L169.5 2420.4L170.9 2416.5L172.9 2413.7L175.4 2412.8L177.9 2413.9L179.9 2416.4L181.4 2419.9L181.9 2423.9L181.5 2427.9L179.9 2431.9L177.9 2434.3L175.4 2435.4Z" fill="#00e0f0"/>
<path d="M172.9 2317.9L171.4 2318.1L169.4 2317.6L165.4 2314.6L162.3 2309.9L160.8 2304.9L160.9 2300.4L162.4 2296.9L165.4 2294.1L169.4 2292.7L173.4 2292.8L177.4 2294.5L180.1 2297.4L181.5 2301.4L181.5 2305.9L179.7 2310.9L176.4 2315.6L172.9 2317.9ZM176.4 2431L174.9 2431.4L173.4 2430.7L172.2 2428.9L171.6 2426.4L171.6 2423.4L172.2 2420.9L173.4 2418.9L174.9 2418L176.4 2418.3L177.4 2419.2L178.4 2421L179 2423.4L178.5 2427.9L177.5 2429.9L176.4 2431Z" fill="#18ff80"/>
<path d="M172.9 2315L169.9 2315L166.9 2313.3L164.3 2309.9L162.7 2305.4L162.7 2301.9L163.9 2298.7L166.4 2296.1L169.4 2295L172.9 2295L175.9 2296.3L178.3 2298.9L179.5 2301.9L179.4 2305.9L178 2309.9L175.9 2312.9L172.9 2315Z" fill="#90ff10"/>
<path d="M172.9 2312.4L170.4 2312.7L168.4 2311.9L166.1 2309.4L164.8 2306.4L164.5 2303.4L165.4 2300.4L167.1 2298.4L169.4 2297.3L171.9 2297.1L174.4 2298L176.4 2299.9L177.5 2302.4L177.6 2305.4L176.7 2308.4L175 2310.9L172.9 2312.4Z" fill="#ffe000"/>
<path d="M172.4 2309.4L170.9 2309.7L169.4 2309.2L168 2307.9L167.1 2305.9L167.4 2302.4L168.4 2301L169.9 2300.1L171.4 2300L172.9 2300.5L174 2301.4L174.9 2303L175.1 2304.9L174.7 2306.9L173.7 2308.4L172.4 2309.4Z" fill="#ff7000"/>
<path d="M171.4 2307.5L169.6 2306.9L168.7 2304.9L169.3 2302.9L170.9 2302.1L172.4 2302.6L173.3 2304.4L172.9 2306.4L171.4 2307.5Z" fill="#ff2000"/>
<path d="M189.9 2358.2h0M214.4 2343h0M198.1 2288.6h0M177.7 2449.7h0M161.5 2282.1h0M159.5 2374.1h0M185.1 2348.7h0M160.7 2341.3h0M163.1 2401.8h0M202.5 2326.6h0M163.3 2382.2h0M185.1 2341h0M215.2 2421.5h0M187.2 2382.1h0M209.9 2285.3h0M207.6 2320.6h0M190.1 2337.6h0M185.4 2338.7h0M162.6 2363.2h0M197.3 2332.8h0M199.5 2402.9h0M224.5 2298.1h0M207.7 2401.3h0M194.1 2399.6h0M211.1 2313.7h0M213.2 2312.9h0M203.3 2449.7h0M150.2 2300.4h0M164.1 2449.2h0M204.4 2436.2h0M191.3 2372h0M205.6 2403.9h0M144.2 2296.5h0M194 2336.4h0M213.9 2331.4h0M200.8 2325.7h0M213.6 2405.6h0M169.5 2274.2h0M198 2297.5h0M214.3 2338.1h0M160.1 2415.6h0M188 2349.5h0M155.7 2281.6h0M210.8 2322.7h0M189.9 2349.9h0M197.2 2343.8h0M164.6 2448h0M148.4 2294.5h0M165.3 2440.4h0M197.4 2439.4h0M220.6 2296.5h0M152 2417.3h0M224.7 2437.9h0M205.1 2336.7h0M158.9 2370h0M161.9 2447.5h0M158.1 2433.3h0M155.6 2284.6h0M157.1 2278.3h0M218.8 2417h0M153.3 2312.3h0M212.1 2303.8h0M155.2 2316.5h0M161.3 2349h0M163.1 2443.2h0M210.5 2436h0M190 2290.8h0M163.1 2405.5h0M164.3 2342h0M210.4 2393h0M164.5 2352.5h0M204 2298.5h0M206.3 2298.1h0M205.7 2281.9h0M156.9 2280.4h0M157.2 2404.6h0M194.8 2403.8h0M197.5 2291.8h0M209 2320.7h0M209 2289.3h0M218 2320.6h0M162.6 2278.4h0M154.5 2419h0M215.6 2421.1h0M161.8 2332.5h0M213.2 2404.5h0M225.5 2309.7h0M193.6 2391.3h0M200.2 2403.6h0M218.9 2435.4h0M186.5 2336.8h0M162.5 2355.5h0M208.5 2448.8h0M217.9 2434.1h0M202.4 2449.7h0M201.6 2439.4h0M225 2433.4h0M197.8 2400.1h0M166.4 2280.8h0M210 2436h0M212.9 2291.8h0M187.3 2370.8h0M159.9 2322.7h0M211.6 2409.5h0M160.4 2427h0M209.9 2440.8h0M162.2 2436h0M218.5 2327.6h0M185.7 2354.2h0M226.8 2439.8h0M205.6 2399.3h0M212.9 2328.6h0M210.1 2307.2h0M209.5 2307.5h0M187 2374.2h0M212.5 2436.5h0M197.2 2285.5h0M158.8 2422.8h0M184.6 2378.8h0M218.3 2413h0M207.1 2312.3h0M156.4 2347.9h0M157.6 2336.6h0M199.7 2300.7h0M150.7 2294.8h0M161.5 2429.6h0M188.7 2348.3h0M221.1 2326.6h0M147.8 2299.1h0M189.1 2442.7h0M153.2 2422.5h0M198.7 2400.5h0M214.6 2336.8h0M169.1 2271.2h0M197.4 2405.4h0M216.9 2409.7h0M164.5 2364.6h0M158.6 2417.6h0M204 2296.1h0M187.2 2361.7h0M164.3 2373h0M205.8 2343.2h0M228.2 2419.6h0M161.8 2435.1h0M220.9 2401.3h0M203.7 2407h0M231 2415.5h0M230 2415h0M187 2361.6h0M200.7 2332.8h0M205.9 2305.4h0M205.2 2324.1h0M219.4 2429.5h0M197.6 2332.6h0M155.3 2315.9h0M160.4 2432.5h0M222.4 2431.3h0M161.3 2335.5h0M213 2416.1h0M214 2403.7h0M198.9 2441h0M155 2422.3h0M194.6 2438.5h0M156.8 2274.9h0M197 2346.5h0M190.3 2442h0M229.7 2410.1h0M155.9 2373.2h0M201.5 2406.3h0M173 2447.8h0M201.5 2286h0M185.1 2354.6h0M195.8 2290.9h0M208.7 2442.3h0M161.6 2359.6h0M184.8 2283.3h0M161.7 2420.3h0M188.7 2356.7h0M213.3 2405.7h0M158 2331.3h0M187.2 2451.7h0M168.8 2277.5h0M203.5 2297.3h0M230.7 2433.4h0M158.7 2334.8h0M164.8 2280.7h0M161.3 2335.3h0M148.7 2302.7h0M160.7 2356.9h0M202.3 2402.8h0M202.5 2326.4h0M206 2447.8h0M157.3 2379h0M222.1 2296.6h0M196.5 2328.1h0M182.5 2446.1h0M168.7 2448.7h0M185.7 2446.3h0M227.9 2429.4h0M213.9 2433.2h0M211.6 2444.5h0M190.8 2370.6h0M154.6 2416.9h0M198.1 2291.4h0M220.3 2317.2h0M224.4 2330.8h0M159.3 2444.1h0M194.4 2331.5h0M186.7 2345.9h0M219.1 2319.3h0M160.7 2383.5h0M162.6 2387.4h0M214.4 2305.5h0M197.7 2342h0M152.1 2289.9h0M199.3 2450.5h0M187.8 2361.5h0M208.4 2331.5h0M198.4 2397.6h0M193.8 2328.4h0M158.7 2395.7h0M161.2 2282.1h0M158.4 2341.8h0M212.4 2336.2h0M213.3 2414.8h0M156.9 2277.5h0M207.7 2297.6h0M147.9 2303.3h0M207.9 2342.2h0M204.7 2439.3h0M161.7 2333.8h0M203.4 2289.8h0M162.9 2335.6h0M156.8 2319h0M205.9 2326.3h0M178.7 2447.9h0M187.8 2339.9h0M195.2 2451.1h0M221.5 2309.6h0M196.9 2285.7h0M215.9 2428.9h0M187.8 2339.8h0M161.5 2359.7h0M214.4 2413.9h0M215.3 2290.8h0M163.9 2383.3h0M164.1 2439h0M209.4 2298.5h0M189.2 2332.3h0M213.4 2427.1h0M159.4 2284.8h0M188.4 2399.2h0M158.6 2356.4h0M204.1 2399.3h0M225.3 2423.3h0M167.8 2281.6h0M195.4 2342.1h0M191.9 2331.9h0M209.7 2322.7h0M160.1 2446.6h0M210.8 2321.3h0M203.9 2338.1h0M206.7 2332.5h0M155.6 2321.8h0M224.5 2420.5h0M150.9 2290.8h0M162.6 2409.1h0M202.4 2443.4h0M208.1 2323.2h0M207.9 2438.6h0M149.5 2295.2h0M213.3 2414.8h0M211.3 2302.5h0M204.6 2437.2h0M203.8 2324.7h0M210.6 2313h0M204.8 2327.8h0M205.3 2405.1h0M160.9 2416.3h0M191.4 2366h0M210.3 2303.6h0M162.3 2401.6h0M194.9 2395.7h0M203.1 2284.8h0M225.5 2422.9h0M211.2 2311.9h0M152 2420.6h0M190.8 2452.3h0M155.6 2318.7h0M207.7 2405.5h0M228.5 2308h0M152.4 2319.7h0M208.7 2313.2h0M187 2352.7h0M206.1 2324.9h0M230.1 2311h0M203.2 2348.3h0M217.2 2417.8h0M215.5 2425.5h0M209.7 2329.6h0M223.7 2411.5h0M163.5 2361h0M162.9 2281.8h0M200.1 2338.5h0M203.4 2301.8h0M150.1 2310.8h0M160.5 2356.6h0M214.2 2403.8h0M196.7 2347.9h0M219.1 2396.3h0M188.8 2281.8h0M164.5 2447.2h0M191.5 2341.5h0M202.9 2398.9h0M196.2 2344.2h0M215.5 2433.3h0M201 2404.7h0M223.2 2310h0M225 2310.5h0M196.6 2444.3h0M207.7 2326h0M210.6 2310.1h0M152.9 2425.7h0M216.9 2408.4h0M191.5 2337.5h0M158.6 2320.7h0M202.2 2325.1h0M211.4 2324.8h0M189 2453.3h0M163.5 2337.7h0M165.7 2444h0M224.1 2439.9h0M180.6 2283.3h0M210.1 2448h0M190.4 2330.9h0M228.4 2322.9h0M192.1 2282.5h0M211.5 2326.2h0M197.6 2451.1h0M222.9 2422.1h0M223.8 2405.5h0M206.9 2340.2h0M222.8 2334.7h0M222 2301.2h0M190 2379.6h0M155.9 2324.3h0M162.9 2361.3h0M208.7 2324h0M205.5 2327.9h0M208.2 2305.9h0M177.8 2448.2h0M201.7 2340.9h0M205.7 2285.2h0M213.2 2305.1h0M186.5 2380.6h0M160.2 2377.9h0M193.3 2286.1h0M198.1 2400.3h0M184.4 2375.5h0M199.6 2335.1h0M164.4 2383.3h0M221.9 2308.1h0M186.9 2386.7h0M153.9 2287.5h0M153.8 2286.6h0M197.2 2327.7h0M214.1 2412.3h0M149.3 2312h0M187.8 2281.3h0M159.7 2418.6h0M210.5 2396.6h0M226.7 2423.4h0M202.7 2297.5h0M202.1 2296.7h0M214.4 2296.4h0M160 2417.9h0M195.6 2328.7h0M209.9 2309.4h0M201.7 2446.3h0M160.5 2390.8h0M198 2336.7h0M171.8 2274.6h0M156 2366.5h0M188.1 2395.2h0M186.5 2280.7h0M190.4 2338.2h0M216.6 2317.6h0M160.3 2447h0M205 2308h0M145.1 2300.9h0M206.3 2396.5h0M205.5 2281.9h0M160.4 2279.5h0M189 2331.6h0M207.7 2311.6h0M201.4 2325.4h0M199.8 2301h0M215.8 2314.9h0M159.6 2405.6h0M154.5 2435.4h0M193.6 2401h0M205 2435.8h0M221.6 2297.2h0M189.5 2397h0M205.4 2326h0M184.5 2390.3h0M194.7 2295h0M216.1 2420.6h0M149.1 2295.8h0M179.6 2454.4h0M158.1 2420.4h0M183.4 2445.5h0M157.9 2339.3h0M155.4 2409.5h0M212.3 2304.8h0M164.4 2378.4h0M215 2314.9h0M217.1 2328.7h0M203.7 2335.2h0M208.6 2441.9h0M152.4 2429.8h0M188.4 2360.3h0M200.9 2437.6h0M160.9 2339.3h0M158.5 2427.1h0M163.9 2377.6h0M198.7 2437.5h0M170.5 2276.9h0M154.8 2404.8h0M171.5 2447.6h0M194.1 2351.3h0M207.9 2448.6h0M191.7 2291.9h0M205.6 2406.4h0M212.3 2324h0M207.7 2406.4h0M158.9 2341.7h0M195.8 2285.3h0M206 2295.3h0M163.1 2355.7h0M189.6 2384.5h0M159.9 2383.1h0M162.1 2326.9h0M214.7 2319.6h0M163.1 2406.2h0M195.5 2343.4h0M205 2303.4h0M163.4 2393h0M161.3 2373.4h0M162.5 2399.4h0M186.2 2386.6h0M185.9 2384.2h0M191.8 2367.6h0M208.4 2395h0M185.9 2384.1h0M195.4 2327.4h0M160.8 2350.8h0M211.2 2401.3h0M157.8 2338.2h0M169.8 2450.1h0M190.3 2286.3h0M218.9 2430.5h0M220.6 2400.7h0M157.1 2325.7h0M163.5 2372.7h0M158.1 2285.2h0M218.5 2425.9h0M200.1 2392.8h0M200.8 2334.9h0M156.9 2429.1h0M190.6 2343.3h0M162.6 2411.4h0M207.2 2293.7h0M142.7 2301.1h0M206.7 2314.6h0M154.7 2288.6h0M189.1 2337.5h0M223.6 2412.1h0M219.1 2439.9h0M217.1 2423.2h0" stroke="#2020ff" stroke-width="1.4" stroke-linecap="round" stroke-opacity="0.85"/>
<path d="M187.6 2433h0M176.9 2381.7h0M186.1 2428.4h0M161.2 2428.8h0M185.8 2294h0M182.7 2318.5h0M179.1 2378.3h0M180.8 2283.9h0M184.1 2289h0M163.4 2354.2h0M163.3 2351.8h0M196.6 2319.4h0M177.5 2390.2h0M168.9 2359.9h0M186.4 2320.2h0M184.5 2416.5h0M182.1 2389h0M200.3 2305.9h0M196.9 2327.4h0M204.4 2407.8h0M218.1 2423.9h0M193.7 2426.6h0M191.4 2313.7h0M168.5 2399.6h0M206.8 2425.4h0M200 2433.5h0M213.9 2423h0M181.2 2402.1h0M161 2282h0M156.9 2310h0M173.8 2395.4h0M195.1 2416h0M176.5 2446.9h0M169.8 2371.5h0M184.9 2293.8h0M208.2 2434.9h0M163.7 2400.6h0M198.6 2415.9h0M182.9 2291.5h0M198.2 2408.6h0M164.7 2343.2h0M165.7 2400.3h0M176.6 2402.2h0M181.7 2406.5h0M205.6 2418.7h0M173.7 2344.5h0M191.6 2434h0M172.6 2389h0M187.9 2438.9h0M194.3 2293.7h0M197 2426h0M188.6 2436h0M190.9 2418.4h0M208.5 2305.5h0M173 2363.4h0M184.7 2430.5h0M200.8 2426.7h0M176.3 2384.5h0M170.3 2385h0M188.1 2408.8h0M185 2380h0M169.3 2379h0M192.8 2434.1h0M177.4 2345.8h0M175.1 2403.4h0M166.5 2440.2h0M156.1 2302.8h0M176.9 2405.5h0M194.7 2319.5h0M176.5 2400.7h0M166.1 2438.6h0M182.2 2389.5h0M205.3 2426h0M167.2 2444.3h0M199.1 2412.4h0M196.3 2415.2h0M178 2439.8h0M179.9 2322.1h0M171.9 2369.5h0M157.8 2312.7h0M186.6 2285.9h0M169.8 2333.5h0M195.6 2405.1h0M191.2 2426.6h0M186.2 2421.6h0M191.2 2430.1h0M201.6 2431h0M170.6 2378.6h0M184.3 2356.9h0M178.3 2356h0M164.7 2345.9h0M174.2 2282.3h0M163.5 2320.6h0M174.2 2439.5h0M199.8 2415.2h0M171 2438.2h0M187.1 2303.7h0M158 2290.4h0M174.5 2360.8h0M150.3 2306.5h0M169.5 2285.6h0M165.3 2346.7h0M208.4 2405.9h0M170 2373.6h0M204.8 2307.4h0M166.4 2375.7h0M211 2424.8h0M187.2 2328.4h0M181.8 2366.3h0M200.9 2324.7h0M195.5 2407.6h0M177 2347.3h0M180.9 2284.8h0M184.4 2409.2h0M187.3 2434.8h0M165.7 2405.3h0M188 2422.7h0M180.5 2328.9h0M152.7 2307.3h0M174.6 2344.1h0M167.7 2281.5h0M182.8 2362h0M181 2394.3h0M170.7 2282.1h0M165.5 2404.8h0M180.8 2363h0M172.3 2440.5h0M170.7 2368.8h0M152.9 2301.3h0M193.5 2314.5h0M181.3 2436h0M200.5 2422.6h0M203.3 2312.7h0M167.7 2400.5h0M177 2388.8h0M165.3 2397.8h0M166.2 2284.4h0M198.7 2306.7h0M166.5 2385.1h0M204.3 2417.9h0M191.2 2317.3h0M160.4 2421.8h0M179.9 2352.3h0M178.1 2286.9h0M191.8 2316h0M180.3 2357.3h0M190.7 2410.1h0M203.8 2411.1h0M187.4 2306.7h0M191.5 2319.1h0M166 2339.1h0M164.9 2427.3h0M185.2 2427.3h0M209.3 2427.4h0M171.8 2352.8h0M166.7 2372h0M178.2 2360.6h0M172 2336h0M179.1 2288.4h0M179.1 2339.8h0M176.2 2404.5h0M201.2 2318.9h0M207.4 2428.5h0M173.7 2382.6h0M162.9 2394.1h0M175.6 2333.8h0M159.3 2314.5h0M197 2405.5h0M166.3 2381.2h0M178.2 2328.4h0M176.5 2343.3h0M183.5 2408.6h0M193.4 2417.8h0M172.6 2349.9h0M194.2 2323.4h0M179 2345.9h0M168.4 2340.3h0M185.1 2330.6h0M180.9 2335.5h0M175.9 2384.7h0M165.3 2386.7h0M164.8 2413.5h0M194.6 2434.5h0M207.3 2421.3h0M172.1 2378.3h0M157.2 2308.6h0M200.9 2411.9h0M169.6 2401.9h0M190.7 2409.5h0M172.5 2397.1h0M180.9 2383.6h0M166.5 2282.3h0M197.8 2439.7h0M172.3 2342h0M194.2 2433.3h0M184.3 2403.7h0M197.4 2431.6h0M173 2331.6h0M186.2 2406.1h0M182.3 2356.8h0" stroke="#3070ff" stroke-width="1.3" stroke-linecap="round" stroke-opacity="0.9"/>
<path d="M251.3 2352.8h0M236.8 2317.9h0M268.1 2356h0M247.8 2307.9h0M241.1 2319.3h0M269 2304.5h0M269.6 2357.5h0M242 2322.4h0M216.2 2298.2h0M220.7 2358.8h0M230.5 2316.9h0M236.3 2308.1h0M272.3 2343.7h0M236.8 2334.7h0M274 2333.9h0M209.4 2304.1h0M235.4 2326.3h0M266.4 2290.4h0M274.4 2341.3h0M245.1 2340.1h0M255.9 2297.4h0M246.8 2290.7h0M258.7 2344.3h0M242 2287.1h0M263.9 2359.5h0M229.2 2356.6h0M264.3 2350.7h0M220.5 2283.8h0M266.5 2304.7h0M214.4 2333h0M242.4 2339.8h0M256.8 2311.5h0M226.9 2350.2h0M256 2340.1h0M268 2288.6h0M207.2 2360.9h0M261.4 2348.2h0M269.9 2305.4h0M258.7 2326h0M234.8 2319.8h0M272.5 2354.3h0M250.2 2333.3h0M227.2 2293.8h0M260.1 2317.7h0M213.3 2341.6h0M235.2 2287.9h0M241.4 2361.8h0M252.3 2330.3h0M236.2 2322.1h0M269 2298.2h0M235.3 2304h0M217.8 2288.8h0M219.7 2341.2h0M256.9 2352.9h0M260.6 2314.8h0M246.2 2358.3h0M251.9 2344.6h0M259.4 2339.7h0M263.3 2290.4h0M259.7 2306.2h0M207.2 2326h0M213.5 2304.1h0M220.2 2331.7h0M215.7 2296.7h0M257.3 2284h0M251.3 2323.5h0M208 2336h0M261.7 2303.3h0M222.7 2334.4h0M247.7 2279.5h0M247.3 2359.5h0M223.2 2284.5h0M233.6 2314.6h0M242.4 2359.4h0M246.6 2330.9h0M271.8 2313.2h0M263.4 2327h0M233.4 2365.2h0M267.4 2290.4h0M251.7 2331.6h0M224.7 2348.8h0M259.9 2321.3h0M240.3 2335.3h0M228.4 2324.9h0M216.9 2347.4h0M246.3 2361.9h0M242.8 2323.8h0M212 2322.2h0M228.4 2344.1h0M232.8 2360.4h0M274.9 2293.8h0M252.4 2357.6h0M271.7 2297.4h0M234.7 2293.4h0M270.2 2319.5h0M243.6 2359.2h0M214.5 2315.1h0M217.9 2324.6h0M254.1 2350.3h0M230.9 2346.2h0M264.8 2317.2h0M223 2299.8h0M272.5 2361.2h0M272.4 2337.5h0M215.6 2320.1h0M228.6 2367.6h0M250.5 2347.8h0M231.1 2346.6h0M255.3 2346.1h0M275.6 2294.1h0M244.4 2351.5h0M269.5 2356.5h0M238 2287h0M275.9 2367.4h0M259.8 2293.1h0M219.5 2281.4h0M207.6 2326.6h0M240.8 2312.7h0M272.2 2295.2h0M233.7 2313.1h0M208.1 2307.6h0M228.4 2312.4h0M209 2315.9h0M258.6 2321.8h0M243.3 2282.1h0M236.9 2305.6h0M274.5 2300h0M213.3 2338.4h0M217.8 2304.5h0M241.1 2291h0M224.8 2321.5h0M245.7 2281.1h0M234.1 2363h0M254.5 2291.4h0M268 2335.2h0M211.9 2303.7h0M211.4 2301.2h0M208.3 2283.9h0M240.5 2289.2h0M242.3 2292h0M211.3 2314.2h0M264.9 2324.5h0M235.1 2288.1h0M209.3 2335.2h0M230.5 2359.3h0M251.8 2319.9h0M275.8 2323.7h0M225.6 2333.4h0M250.6 2327.9h0M210.3 2316h0M260.4 2341.9h0M242.8 2339h0M256.4 2301.9h0M268.7 2346.1h0M237.3 2320.1h0M221.3 2357.1h0M271.2 2366.4h0M246.6 2321.6h0M213.9 2351h0M220.8 2358.7h0M223.9 2342.3h0M250.3 2366.4h0M206.4 2286.3h0M224.3 2341.6h0M227.9 2324.1h0M220.5 2311.1h0M249 2341h0M253.9 2344.4h0M253.3 2352h0M220.4 2296.9h0M276.6 2299h0M298.9 2300.3h0M313.4 2349h0M307.3 2285.4h0M282.9 2347.8h0M295.2 2314.6h0M297.9 2311.8h0M293.7 2313h0M292.1 2326.7h0M283.6 2327.6h0M282.5 2313.3h0M283.4 2303.4h0M294.4 2334.2h0M293.6 2282.1h0M310 2280.6h0M283.6 2321.9h0M297.3 2306.9h0M312.8 2310.9h0M311.5 2322.9h0M301.9 2297.9h0M279.4 2316h0M291.9 2330.8h0M274.6 2300.6h0M279.9 2282.6h0M286 2353.6h0M278.8 2341.7h0M289.3 2304h0M287.5 2286.2h0M290.3 2284.3h0M296.2 2312.8h0M298.8 2336.6h0M311.9 2296.8h0M309 2311.2h0M277 2327.2h0M276 2329.1h0M299.9 2310.6h0M298.9 2324.6h0M307 2356.3h0M305.3 2295.8h0M310 2322.8h0M306.9 2316.2h0M291.8 2317.2h0M310.4 2292.6h0M278.2 2335.1h0M303.5 2329.4h0M302.3 2299.9h0M281.2 2357h0M306.2 2304.4h0M304.7 2279.6h0M287.5 2304.5h0M313.1 2300.9h0M295.3 2281.6h0M296 2317.3h0M284 2312.5h0M272.9 2298.7h0M283.4 2319.7h0M303.7 2329.2h0M305.9 2332.8h0M303.9 2315.3h0M279.1 2289h0M259.5 2398h0M231.3 2390.1h0M210.6 2435.8h0M278.3 2442.3h0M294.2 2383.1h0M295.3 2397.7h0M249 2403.8h0M220.2 2409.4h0M233 2399.9h0M263.8 2412.9h0M227.3 2400.9h0M224.6 2427.1h0M245.6 2424.3h0M282.3 2400.5h0M237.5 2433.4h0M210.1 2420.1h0M266.8 2383.1h0M273.3 2390.8h0M249.3 2435.6h0M296.1 2420.9h0M224.7 2403.6h0M207.6 2389.9h0M204.3 2401.7h0M273.3 2433.4h0M243.3 2412.8h0M262.7 2397.2h0M266.6 2431.5h0M226.5 2376h0M282.4 2407.1h0M244.8 2408.6h0M222.4 2382.6h0M285.5 2382.5h0M206 2379.6h0M271.3 2405.3h0M266.4 2383.1h0M238.7 2374.5h0M228.5 2398.3h0M222.4 2370h0M224.1 2379.4h0M267 2397.8h0M201.9 2437.4h0M256 2380.1h0M258.8 2390.7h0M242.5 2416h0M216.3 2375h0M239.7 2402.2h0M210.6 2375.6h0M269.9 2416.8h0M288.4 2390.6h0M264 2439.1h0M270.8 2436.7h0M238.8 2373.5h0M236.9 2422.2h0M242.8 2406.4h0M229.1 2403.4h0M227.9 2396.4h0M257.6 2440.1h0M247.7 2407.8h0M215.1 2370.3h0M207.4 2427h0M242.3 2439.3h0M243 2391.5h0M206.4 2377.9h0M204.4 2387.6h0M268.3 2407.5h0M278 2405.2h0M270.9 2430.6h0M278.8 2382.7h0M202.1 2439.5h0M275.5 2442.2h0M295.2 2425.2h0M292.6 2392.9h0M218.6 2424.8h0M210.4 2442.9h0M285.4 2428.3h0M249.5 2372.4h0M283.9 2427.3h0M267.7 2370.5h0M292.6 2405.5h0M223.3 2410.6h0M277.1 2390.2h0M235.6 2408.7h0M209 2437.6h0M232.6 2381.9h0M277.8 2407.6h0M266.9 2425.7h0M221.3 2411.5h0M273 2416.1h0M228.3 2372h0M209.7 2408.8h0M247.3 2407h0M220.2 2429.9h0M272.6 2422.8h0M258.1 2429.4h0M202.9 2434.9h0M257.9 2387h0M227.2 2389h0M294.1 2400.4h0M256.9 2416.9h0M259.8 2411.4h0M285.8 2420.1h0M229.3 2427.1h0M231.8 2380.8h0M204.7 2410.3h0M207.1 2400.7h0M258.1 2381h0M222.3 2422.6h0M253 2412.5h0M238.4 2433.4h0M284 2416.4h0M228.6 2415.2h0M292.7 2409h0M283 2383.1h0M287 2380.9h0M271.9 2417.3h0M209 2423.9h0M238.9 2398.3h0M280.3 2378.8h0M280.2 2403h0M284.4 2412h0M212.5 2391h0M224.6 2395.1h0M201.9 2400.6h0M228.1 2389.2h0M214.6 2435.9h0M292.4 2399.6h0M290.1 2384h0M215.3 2417.8h0M253.5 2428.1h0M236 2425.9h0M207.4 2401.5h0M282.7 2374.4h0M258.1 2404.1h0M226.2 2416.4h0M267 2375.9h0M242.6 2406.3h0M226.8 2434.4h0M232.8 2412.1h0M288 2391.5h0M281.8 2397.3h0M253.2 2388.7h0M279.2 2418.8h0M252.1 2389.2h0M269.1 2395.7h0M240.1 2420.7h0M240.8 2397.1h0M261.6 2415.2h0M290.5 2398.8h0M262.5 2387.7h0M232.3 2425.7h0M198 2456.9h0M176.7 2461.3h0M209.9 2450.4h0M184.4 2451.3h0M194.9 2457.2h0M190 2454.1h0M187.4 2450.2h0M166.3 2444.8h0M165.4 2448.5h0M174 2444.7h0M191.6 2452.3h0M178.1 2460.9h0" stroke="#2a2aff" stroke-width="1.5" stroke-linecap="round" stroke-opacity="0.85"/>
<line x1="225.5" y1="2239.4" x2="225.5" y2="2462" stroke="#333" stroke-width="1.4"/>
<line x1="131.4" y1="2372.7" x2="353.6" y2="2372.7" stroke="#333" stroke-width="1.4"/>
<rect x="131.4" y="2239.4" width="222.2" height="222.6" fill="none" stroke="#333" stroke-width="1.6"/>
<path d="M131.4 2456.4h-2M131.4 2450.8h-2M131.4 2445.2h-2M131.4 2439.6h-2M131.4 2434h-3.5M131.4 2428.4h-2M131.4 2422.8h-2M131.4 2417.2h-2M131.4 2411.6h-2M131.4 2406h-3.5M131.4 2400.4h-2M131.4 2394.8h-2M131.4 2389.2h-2M131.4 2383.6h-2M131.4 2378h-3.5M131.4 2372.4h-2M131.4 2366.8h-2M131.4 2361.2h-2M131.4 2355.6h-2M131.4 2350h-3.5M131.4 2344.4h-2M131.4 2338.8h-2M131.4 2333.2h-2M131.4 2327.6h-2M131.4 2322h-3.5M131.4 2316.4h-2M131.4 2310.8h-2M131.4 2305.2h-2M131.4 2299.6h-2M131.4 2294h-3.5M131.4 2288.4h-2M131.4 2282.8h-2M131.4 2277.2h-2M131.4 2271.6h-2M131.4 2266h-3.5M131.4 2260.4h-2M131.4 2254.8h-2M131.4 2249.2h-2M131.4 2243.6h-2M137 2462v2M142.6 2462v2M148.2 2462v2M153.8 2462v2M159.4 2462v3.5M165 2462v2M170.6 2462v2M176.2 2462v2M181.8 2462v2M187.4 2462v3.5M193 2462v2M198.6 2462v2M204.2 2462v2M209.8 2462v2M215.4 2462v3.5M221 2462v2M226.6 2462v2M232.2 2462v2M237.8 2462v2M243.4 2462v3.5M249 2462v2M254.6 2462v2M260.2 2462v2M265.8 2462v2M271.4 2462v3.5M277 2462v2M282.6 2462v2M288.2 2462v2M293.8 2462v2M299.4 2462v3.5M305 2462v2M310.6 2462v2M316.2 2462v2M321.8 2462v2M327.4 2462v3.5M333 2462v2M338.6 2462v2M344.2 2462v2M349.8 2462v2" stroke="#333" stroke-width="0.8"/>
<text x="116.6" y="2349.4" font-size="22.62" text-anchor="middle" transform="rotate(-90 116.6 2349.4)">CD62L</text>
<text x="213.2" y="2488.5" font-size="22.69">CD44</text>
<rect x="302.2" y="2417.3" width="91.2" height="4" fill="#000"/>
<path d="M391.4 2411.8L411.4 2419.3L391.4 2426.8Z" fill="#000"/>
<path d="M586.5 2121L578 2121.4L569 2120.8L561.5 2119.7L544.9 2116L539 2115.2L532 2114.8L522.5 2114.8L514.5 2115.2L506.3 2116L494 2117.8L488.5 2118.4L483.5 2118.4L478.5 2117.9L473.5 2116.8L469.5 2115.3L465.5 2113.2L462.5 2111.1L459.8 2108.5L458 2106L456.9 2103L456.9 2100.5L457.9 2097.5L459.6 2095L462.1 2092.5L465.5 2090.1L469 2088.3L473.5 2086.7L478 2085.6L483 2085.1L491 2085.2L504.5 2087.1L514.4 2088L523.5 2088.3L533 2088.1L538.5 2087.7L543 2087L559.5 2082.7L567 2081.3L575 2080.6L583.5 2080.6L593.5 2081.8L598 2082.8L603 2084.4L607.5 2086.2L611 2088.1L614 2090.2L616.5 2092.5L618.1 2094.5L619.5 2097L620.2 2099L620.4 2101.5L619.9 2104L619.1 2106L617.8 2108L616 2110L613.5 2112.1L610.5 2114.1L603.5 2117.3L595 2119.8L586.5 2121M582 2119L575 2119L568 2118.4L561.5 2117.2L544.9 2113.5L539 2112.8L532.5 2112.4L524 2112.3L517 2112.7L489 2116.2L484 2116.3L479.5 2115.9L476 2115.1L472 2113.8L468.5 2112.1L465.5 2110L463.5 2108L461.8 2105.5L460.9 2103L460.9 2100.5L461.7 2098L462.9 2096L464.8 2094L467 2092.3L469.5 2090.8L473 2089.2L479.5 2087.6L484 2087.1L488.5 2087.2L506.9 2089.5L516 2090.4L524.5 2090.7L534 2090.5L540 2090L545.5 2089.1L559.5 2085.3L564.5 2084.2L570.5 2083.3L576 2082.9L581.5 2082.9L587.5 2083.3L593 2084.2L598.5 2085.6L603 2087.3L607 2089.4L610.5 2091.8L613.2 2094.5L614.5 2096.5L615.3 2098.5L615.7 2100.5L615.6 2102.5L615 2104.5L613.9 2106.5L612.3 2108.5L610.1 2110.5L605 2113.7L598.5 2116.3L590.5 2118.1L582 2119M584.5 2117L577 2117.3L569.5 2116.7L561.5 2115.3L545 2111.4L539 2110.6L532 2110.2L525 2110.2L519 2110.5L490 2114.5L485.5 2114.7L481 2114.3L477.5 2113.7L473.5 2112.4L470.5 2110.9L468 2109.1L465.9 2107L464.6 2105L463.9 2102.5L463.9 2100.5L464.5 2098.5L465.8 2096.5L467.5 2094.6L469.5 2093.1L474.5 2090.7L480.5 2089.2L485 2088.8L490 2089L519.5 2092.6L526 2092.8L533.5 2092.7L539 2092.3L544 2091.5L564 2086.2L570 2085.2L576 2084.7L581.5 2084.7L586.5 2085.1L591 2085.8L595.5 2086.9L599.5 2088.2L603.5 2090.1L606.5 2092.1L609.2 2094.5L610.4 2096L611.4 2098L611.9 2099.5L612 2101.5L611.8 2103L611 2105L609.6 2107L608.2 2108.5L606 2110.3L603.5 2111.8L598 2114.3L591 2116.1L584.5 2117M585.5 2115.5L577.5 2115.9L569.5 2115.3L561.5 2113.8L544.3 2109.5L538 2108.7L531 2108.3L525 2108.3L520 2108.7L507 2110.8L490.5 2113.1L486 2113.3L482 2113.1L476 2111.7L473 2110.5L470.5 2108.9L468.4 2107L467 2105L466.3 2103L466.2 2101L466.7 2099L467.9 2097L469.5 2095.3L471.5 2093.8L474 2092.5L477 2091.4L480 2090.6L484 2090.2L491.5 2090.4L520 2094.4L525.5 2094.7L532.5 2094.6L539 2094.1L545 2093.1L560.5 2088.6L567 2087.1L574 2086.2L581 2086.1L588 2086.8L595 2088.4L601 2090.8L603.5 2092.4L605.6 2094L608 2097L608.7 2098.5L609.2 2100.5L609.1 2102L608.5 2104L606.6 2107L603 2110L598 2112.5L592.5 2114.3L585.5 2115.5M584.5 2114.5L577 2114.8L569 2114.1L562 2112.7L544 2107.9L538 2107L531 2106.6L525.5 2106.6L521 2107L507.5 2109.7L491.5 2111.9L486.5 2112.3L482.5 2112.1L479.5 2111.6L476.5 2110.7L473.8 2109.5L471.5 2108L470 2106.5L468.6 2104.5L468.1 2103L468 2101L468.6 2099L469.5 2097.5L471 2095.8L473 2094.4L475.5 2093.1L478 2092.2L481 2091.6L484.5 2091.2L488.5 2091.2L493.5 2091.7L507.5 2093.8L521.5 2096.2L526.5 2096.5L532 2096.4L538.5 2095.9L544.5 2094.8L560.5 2089.8L567 2088.3L574 2087.3L580.5 2087.2L587.5 2087.8L594 2089.3L600 2091.9L602.5 2093.5L604.2 2095L606.3 2098L607 2101L606.3 2104L604.2 2107L601 2109.5L596.5 2111.8L590.5 2113.6L584.5 2114.5M583.5 2113.5L575.5 2113.7L567.5 2112.7L559.5 2110.8L542.5 2105.6L536 2104.4L530 2103.9L526 2104L522.5 2104.5L510.5 2107.9L504 2109.1L490 2111L486.5 2111.2L483 2111L477.5 2109.8L475 2108.6L473.2 2107.5L471.6 2106L470.6 2104.5L470 2103L469.9 2101L470.3 2099.5L471.1 2098L472.5 2096.5L474 2095.3L478 2093.5L483 2092.4L488 2092.3L493.5 2092.8L508.5 2095.2L523 2098.7L526.5 2099.1L530.5 2099.1L537 2098.4L542.5 2097.2L547.5 2095.7L559.5 2091.4L565.5 2089.8L571 2088.8L576.5 2088.3L584.5 2088.6L591.5 2089.9L597.5 2092.1L600 2093.6L602.2 2095.5L604.1 2098L604.6 2099.5L604.8 2101L604.6 2102.5L604.1 2104L602 2106.8L598.5 2109.3L594.5 2111.2L589 2112.7L583.5 2113.5M584 2112.5L579 2112.8L573.5 2112.6L568 2111.8L562.5 2110.6L555 2108.2L546 2104.5L542.5 2102.5L541.9 2101.5L542 2101L542.9 2100L545.6 2098.5L558.5 2092.9L566 2090.7L573.5 2089.4L581.5 2089.3L589 2090.3L592.5 2091.3L595.5 2092.5L598 2093.8L600.2 2095.5L602.2 2098L602.9 2100.5L602.9 2102L602.4 2103.5L600.7 2106L598 2108.2L594 2110.2L589 2111.7L584 2112.5M490.5 2110L486 2110.2L482 2109.9L478.5 2109L475.5 2107.6L473 2105.5L471.8 2103.5L471.5 2101L472.2 2099L474.5 2096.5L478.3 2094.5L483 2093.4L488 2093.2L494 2093.9L509 2096.4L515.1 2098.5L517.7 2100L518.6 2101L518.7 2102L517.3 2103.5L514.7 2105L510.9 2106.5L504.5 2108L490.5 2110M579 2112L574 2111.8L569.5 2111.3L564.5 2110.2L559.5 2108.7L554.1 2106.5L550.2 2104.5L547.8 2102.5L547.5 2101L548.5 2099.5L550.5 2098L554.1 2096L559 2093.8L567 2091.3L575 2090.1L583 2090.2L587 2090.8L590.5 2091.6L593.5 2092.7L596.5 2094.2L598.5 2095.7L600.1 2097.5L601.2 2100L601.1 2102.5L599.8 2105L597.1 2107.5L593.5 2109.4L589 2110.8L584 2111.7L579 2112M491.5 2109L487 2109.4L483.5 2109.2L480.5 2108.6L477.5 2107.5L475.2 2106L473.6 2104L473 2102L473.5 2099.5L475.5 2097.2L478.5 2095.5L482.5 2094.4L487.5 2094.1L493.5 2094.7L507 2097L510.2 2098L512.3 2099L513.7 2100L514.5 2101L514.6 2102L513.6 2103.5L511.5 2104.9L509 2105.9L503.5 2107.3L491.5 2109M583.5 2111L578.5 2111.3L573 2111L568 2110.2L562.5 2108.7L557 2106.6L553.2 2104.5L551.2 2102.5L550.8 2101.5L551 2100.5L552.1 2099L554.1 2097.5L560.5 2094.3L567.5 2092L574.5 2090.9L581.5 2090.9L588 2091.8L593.5 2093.7L595.9 2095L597.7 2096.5L599.2 2098.5L599.9 2101L599.2 2103.5L597.8 2105.5L595.2 2107.5L592 2109L588 2110.3L583.5 2111M488 2108.5L485 2108.5L482 2108.1L479 2107.1L477 2106L475.4 2104.5L474.4 2102.5L474.5 2100.5L475.3 2099L477.5 2097.1L480.5 2095.7L484 2095L488.5 2094.9L494 2095.6L505.5 2097.7L509.2 2099L510.7 2100L511.5 2101L511.5 2102.5L510.7 2103.5L509.2 2104.5L506.7 2105.5L501 2106.8L488 2108.5M584.5 2110L579.5 2110.4L574.5 2110.3L569.5 2109.6L564.5 2108.4L559.6 2106.5L556.1 2104.5L554.2 2102.5L553.9 2101.5L554 2100.5L554.6 2099.5L556.1 2098L561 2095.2L567 2093.1L573.5 2091.9L580 2091.6L586 2092.3L591 2093.7L595.2 2096L597.2 2098L598.1 2100L598 2102.5L596.9 2104.5L594.7 2106.5L592 2108L588.5 2109.2L584.5 2110M488.5 2107.5L483 2107.2L480.5 2106.5L478.5 2105.5L476.9 2104L476.1 2102.5L476.1 2101L476.8 2099.5L478.5 2097.9L481.5 2096.5L485 2095.9L488.5 2095.9L493.5 2096.5L503.6 2098.5L507.2 2100L508.4 2101.5L508.2 2102.5L507.3 2103.5L504 2104.9L494.5 2106.7L488.5 2107.5M582 2109.5L577.5 2109.7L573 2109.4L568.5 2108.6L564.5 2107.4L561 2105.9L558 2104L556.8 2102.5L556.4 2101.5L556.5 2100.5L557 2099.5L558.5 2098L563 2095.4L569 2093.5L575.5 2092.5L581.5 2092.5L587 2093.3L591.6 2095L593.5 2096.1L595.1 2097.5L596.4 2099.5L596.7 2101.5L596 2103.5L594.7 2105L592.5 2106.6L589.5 2108L586 2109L582 2109.5M488.5 2106.5L483.5 2106.3L480 2105L478.8 2104L477.9 2102.5L477.9 2101L478.3 2100L479.9 2098.5L482 2097.5L485 2096.9L488 2096.9L492.9 2097.5L501 2099.3L504 2100.5L504.8 2101.5L504.6 2102.5L504.1 2103L501.9 2104L494 2105.7L488.5 2106.5M583 2108.6L579 2108.8L574.5 2108.7L570.5 2108.1L566.5 2107L562.9 2105.5L560.6 2104L559.3 2102.5L559 2101.5L559.1 2100.5L559.6 2099.5L561.1 2098L564.5 2096L569.5 2094.3L575 2093.4L580.5 2093.3L585.5 2093.9L590 2095.4L593.2 2097.5L594.4 2099L595 2101L594.7 2102.5L593.5 2104.3L591.5 2105.9L589.3 2107L586.5 2107.9L583 2108.6M490.5 2105L486 2105.3L482.5 2104.5L480.5 2103L480.1 2102L480.2 2101L481 2099.9L482.5 2098.9L485 2098.2L487.5 2098.1L490.9 2098.5L494.9 2099.5L497.5 2100.5L498.8 2101.5L498.8 2102L497.5 2103L494.8 2104L490.5 2105M579.5 2108L575.5 2107.9L572 2107.5L568.5 2106.6L565.6 2105.5L563.5 2104.3L562 2103L561.3 2101.5L561.6 2100L563.4 2098L567.5 2095.9L572.5 2094.6L577.5 2094.1L582.5 2094.3L587 2095.3L590.6 2097L592.6 2099L593.2 2100.5L593.1 2102L592.3 2103.5L590.7 2105L588.5 2106.2L586 2107.1L583 2107.7L579.5 2108M488.5 2103.5L486 2103.5L484.5 2103.1L483.6 2102.5L483.3 2101.5L483.6 2101L484.5 2100.3L487 2099.8L490.5 2100.4L492 2101.5L492 2102L491.5 2102.5L488.5 2103.5M580 2107L573.5 2106.7L570.3 2106L567.6 2105L565.8 2104L564.3 2102.5L563.9 2101.5L564.1 2100L564.9 2099L566.2 2098L569.3 2096.5L573.1 2095.5L577.5 2095L581.5 2095.2L585.5 2096L588.5 2097.3L590.5 2099L591.1 2100L591.3 2101.5L590.6 2103L589.5 2104.2L588 2105.1L585.5 2106.1L580 2107M580 2106L574.5 2105.8L570 2104.6L567.9 2103.5L566.9 2102.5L566.4 2101.5L566.5 2100.5L567.6 2099L570.2 2097.5L573.6 2096.5L577.5 2096.1L581 2096.2L584.5 2096.9L587 2098L588.7 2099.5L589.1 2100.5L589.2 2101.5L588.8 2102.5L587.5 2103.8L584.5 2105.2L580 2106M582 2104.6L577 2104.9L572.5 2104.1L571.1 2103.5L569.7 2102.5L569.2 2101.5L569.2 2100.5L570 2099.5L571.5 2098.5L575 2097.4L579.5 2097.2L583.5 2097.9L586.2 2099.5L586.8 2100.5L586.8 2101.5L586.3 2102.5L585 2103.5L582 2104.6" fill="none" stroke="#111" stroke-width="1.0"/>
<path d="M459.3 2113.5h0M576.3 2120.3h0M621.3 2098.1h0M547.1 2085.3h0M577.3 2079.4h0M607.9 2120.2h0M569.7 2078.1h0M479.2 2084.9h0M622.9 2094.6h0M596.5 2081.6h0M491.4 2119.6h0M494 2086h0M596.5 2082.3h0M468.3 2115.7h0M519.6 2115.2h0M616.1 2113.6h0M621.4 2098.9h0M477.7 2119.2h0M478.5 2119.3h0M462.7 2089.4h0M474 2118.4h0M502.9 2117.2h0M551.5 2116.4h0M602.9 2084.4h0M608.8 2113.6h0M556.9 2119.5h0M522.4 2116.9h0M540 2088.6h0M458.8 2094.4h0M622.8 2097.9h0M455.3 2109.9h0M540.3 2087h0M473.4 2116.4h0M496.9 2116.4h0M621.2 2093.9h0M509.3 2085.9h0M571.7 2081.5h0M623 2102.9h0M534.8 2116.4h0M617.5 2110.9h0M468.8 2088.1h0M561.9 2081.4h0M617.8 2112.7h0M569.7 2120.8h0M536.4 2115h0M622.8 2106.2h0M505.7 2088h0M606.5 2115.8h0M566 2080.9h0M567.4 2079.9h0M565.1 2120.3h0M573.1 2079.4h0M461.7 2108.5h0M603 2120.5h0M598.1 2083.5h0M596.3 2082.5h0M462.9 2092.9h0M591.4 2079.1h0M498.9 2118h0M624.3 2100.2h0M455.1 2099.8h0M596.9 2118.4h0M618.8 2105.1h0M623.8 2100.8h0M549.5 2082.8h0M456.6 2109.8h0M568.6 2079.7h0M455.7 2104.2h0M590 2120.3h0M497.5 2086.8h0M613.8 2115.4h0M507.8 2118.3h0M483 2082.1h0M488.6 2084.9h0M613.5 2113.1h0M547.5 2083.4h0M626.2 2104.8h0M470.6 2088.5h0M531.3 2086.7h0M459 2103.9h0M565.3 2120.9h0M576.5 2120.2h0M611.2 2088.9h0M459.3 2106.3h0M549.3 2117.3h0M496.9 2086.4h0M552.3 2082.5h0M614.5 2110.7h0M617.9 2104h0M537.7 2115.6h0M498.8 2117.8h0M612 2086.9h0M621.7 2096.5h0M516 2085.9h0M613.6 2089.5h0M618.3 2107.4h0M578.5 2079.4h0M621.3 2102h0M492 2117.2h0M620.1 2106.4h0M491.4 2084.7h0M534.7 2115.3h0M528.7 2088.9h0M512.9 2086.2h0M519 2117.2h0M537.7 2085.4h0M464.4 2112.3h0M489.9 2084h0M606.8 2119.6h0M460.6 2107.6h0M456.6 2111.3h0M462.4 2111.1h0M619.1 2092.4h0M499.9 2120.3h0M458.6 2101.5h0M542.5 2087.9h0M561.4 2121.9h0M569.2 2123h0M579.2 2081.3h0M464.4 2092.3h0M572 2081.3h0M452.3 2107.7h0M555.8 2122.6h0M622.4 2097.5h0M450.1 2099.3h0M606.7 2116.3h0M586.3 2123.8h0M615.3 2089.2h0M514.9 2116.7h0M492.1 2085.4h0M458.7 2099.4h0M459.8 2096.4h0M483.2 2117.7h0M478 2117.4h0M452.1 2102.1h0M566.9 2122.3h0M511.1 2115h0M619.6 2113.4h0M455.2 2096h0M615.9 2109.2h0M590.6 2079.9h0M607.1 2085.5h0M456.4 2100.3h0M494.9 2085.6h0M544.6 2087.2h0M587.4 2120.2h0M593.5 2080.7h0M540.2 2088.1h0M477.5 2117.8h0M457.7 2110.8h0M597 2120.5h0M484.7 2121.2h0M490.2 2085.4h0M561.1 2121.3h0M458.7 2101.3h0M508.3 2119.1h0M467.5 2114.3h0M580.1 2123.6h0M559.9 2123.3h0M588.3 2122.3h0M551.5 2117h0M546.2 2119.8h0M617.2 2108h0M601.7 2116.9h0M618.5 2089.6h0M489.3 2085.8h0M551.4 2117.1h0M619.5 2111.2h0M570.5 2081.3h0M525.2 2116.7h0M506.6 2115.3h0M523.6 2114.6h0M574.5 2080.4h0M478.4 2085.9h0M489.4 2086.1h0M604.5 2084.8h0M611.8 2116.6h0M621.8 2103.2h0M458.7 2093.6h0M560.8 2082.7h0M568.2 2123.9h0M614.1 2092.1h0M510.4 2118.1h0M481.8 2118.1h0M591.8 2119.4h0M511.3 2116.4h0M454.2 2094.5h0M467.6 2090.2h0M582.4 2080.4h0M524.9 2116.2h0M537.5 2088.1h0M483 2082.8h0M581.6 2123h0M500.8 2084.9h0M465.5 2114.8h0M549.1 2116.5h0M507.8 2115.3h0M504.9 2086h0M526 2086.5h0M618.3 2090.1h0" stroke="#222" stroke-width="1.1" stroke-linecap="round" stroke-opacity="0.9"/>
<rect x="527.6" y="1974.6" width="116.7" height="157.3" fill="none" stroke="#4d4df5" stroke-width="1.6"/>
<rect x="444" y="1923" width="220.4" height="219.6" fill="none" stroke="#777" stroke-width="2"/>
<path d="M444 2137h-2M444 2131.4h-2M444 2125.8h-2M444 2120.2h-2M444 2114.6h-3.5M444 2109h-2M444 2103.4h-2M444 2097.8h-2M444 2092.2h-2M444 2086.6h-3.5M444 2081h-2M444 2075.4h-2M444 2069.8h-2M444 2064.2h-2M444 2058.6h-3.5M444 2053h-2M444 2047.4h-2M444 2041.8h-2M444 2036.2h-2M444 2030.6h-3.5M444 2025h-2M444 2019.4h-2M444 2013.8h-2M444 2008.2h-2M444 2002.6h-3.5M444 1997h-2M444 1991.4h-2M444 1985.8h-2M444 1980.2h-2M444 1974.6h-3.5M444 1969h-2M444 1963.4h-2M444 1957.8h-2M444 1952.2h-2M444 1946.6h-3.5M444 1941h-2M444 1935.4h-2M444 1929.8h-2M449.6 2142.6v2M455.2 2142.6v2M460.8 2142.6v2M466.4 2142.6v2M472 2142.6v3.5M477.6 2142.6v2M483.2 2142.6v2M488.8 2142.6v2M494.4 2142.6v2M500 2142.6v3.5M505.6 2142.6v2M511.2 2142.6v2M516.8 2142.6v2M522.4 2142.6v2M528 2142.6v3.5M533.6 2142.6v2M539.2 2142.6v2M544.8 2142.6v2M550.4 2142.6v2M556 2142.6v3.5M561.6 2142.6v2M567.2 2142.6v2M572.8 2142.6v2M578.4 2142.6v2M584 2142.6v3.5M589.6 2142.6v2M595.2 2142.6v2M600.8 2142.6v2M606.4 2142.6v2M612 2142.6v3.5M617.6 2142.6v2M623.2 2142.6v2M628.8 2142.6v2M634.4 2142.6v2M640 2142.6v3.5M645.6 2142.6v2M651.2 2142.6v2M656.8 2142.6v2" stroke="#777" stroke-width="0.8"/>
<text x="546.4" y="2005.2" font-size="17.5" font-weight="bold" textLength="78.5" lengthAdjust="spacingAndGlyphs">T<tspan font-size="12" dy="4.5">RM</tspan><tspan dy="-4.5"> cells</tspan></text>
<text x="427.7" y="2030.1" font-size="22.8" text-anchor="middle" transform="rotate(-90 427.7 2030.1)">CD103</text>
<text x="524.2" y="2171.7" font-size="22.57">CD69</text>
<path d="M488 2437.6L484 2438.1L480 2437.8L476 2436.9L472 2435.3L469 2433.4L466 2430.6L463.8 2427.6L462.2 2424.1L461.3 2420.1L461.4 2416.6L462.2 2413.1L463.8 2409.6L466 2406.6L468.6 2404.1L472 2401.9L475.5 2400.4L480 2399.3L485 2399.1L490 2399.8L494.5 2401.3L499 2403.6L503 2406.7L506 2410.1L507.8 2413.6L508.5 2417.1L508.2 2420.6L506.7 2424.6L504.3 2428.1L501 2431.4L497 2434.2L492.5 2436.4L488 2437.6M487.5 2435.1L484 2435.5L480.5 2435.3L477 2434.5L474 2433.3L471 2431.5L468.4 2429.1L466.5 2426.6L465.1 2423.6L464.4 2420.6L464.3 2417.1L464.9 2414.1L466.2 2411.1L468 2408.5L470.5 2406.1L473 2404.4L476.5 2402.8L480.5 2401.8L484.5 2401.6L489 2402.2L493 2403.4L497 2405.4L500.5 2408L503.3 2411.1L504.8 2414.1L505.4 2417.1L505.2 2420.6L504 2423.6L502 2426.6L499 2429.6L495.5 2432.1L491.5 2434L487.5 2435.1M486 2433.2L482.5 2433.3L479.5 2432.9L476.5 2432L474 2430.7L471.5 2428.9L469.4 2426.6L467.9 2424.1L467.1 2421.6L466.7 2419.1L467 2416.1L467.9 2413.1L469.4 2410.6L471.5 2408.3L474 2406.4L476.5 2405.2L479.5 2404.2L483 2403.8L486.5 2403.9L490.5 2404.7L493.5 2405.9L497 2408L499.5 2410.1L501.4 2412.6L502.6 2415.6L502.9 2418.6L502.4 2421.1L501.3 2423.6L499 2426.6L496.2 2429.1L493 2431L489.5 2432.4L486 2433.2M487.5 2431.2L485 2431.6L482 2431.5L479.5 2431.1L477 2430.2L474.5 2428.9L472.5 2427.3L470.7 2425.1L469.6 2423.1L468.9 2420.6L468.7 2418.1L469.1 2415.6L469.8 2413.6L471 2411.6L472.8 2409.6L474.7 2408.1L477 2406.8L480 2405.9L483.5 2405.4L487 2405.6L490.5 2406.5L493.5 2407.8L496.5 2409.8L498.8 2412.1L500.2 2414.6L500.8 2417.1L500.7 2419.6L499.9 2422.1L498.4 2424.6L496 2427L493.5 2428.8L490.5 2430.3L487.5 2431.2M484 2430.1L481 2429.9L478.5 2429.2L476 2428L474.2 2426.6L472.4 2424.6L471.3 2422.6L470.6 2420.6L470.4 2418.1L470.9 2415.6L471.7 2413.6L473.1 2411.6L475 2409.8L477 2408.5L479.5 2407.5L482 2407L485 2406.9L488 2407.3L490.5 2408L493 2409.2L495.1 2410.6L497.1 2412.6L498.3 2414.6L499 2416.6L499.1 2418.6L498.7 2420.6L497.8 2422.6L496.3 2424.6L494.1 2426.6L491.5 2428.2L489 2429.3L486.5 2429.9L484 2430.1M485.5 2428.6L483 2428.7L481 2428.4L479 2427.8L477 2426.8L475.3 2425.6L474 2424.1L472.8 2422.1L472.2 2420.1L472.1 2418.1L472.4 2416.1L473.2 2414.1L474.3 2412.6L475.8 2411.1L477.5 2409.9L481.5 2408.5L484 2408.2L486.5 2408.4L489 2408.9L491.5 2409.9L493.5 2411.2L495.5 2413.1L496.5 2414.6L497.3 2416.6L497.4 2418.6L497 2420.6L496 2422.6L494.5 2424.4L492.5 2426L490.5 2427.2L488 2428.1L485.5 2428.6M486.5 2427.1L482.5 2427.3L479 2426.3L476 2424.2L474.3 2421.6L473.8 2420.1L473.7 2418.1L474.5 2415.1L476.5 2412.4L479.5 2410.5L481.5 2409.8L484 2409.5L486.5 2409.7L488.5 2410.1L490.5 2410.9L492.5 2412.2L494 2413.6L495.3 2415.6L495.7 2417.1L495.7 2419.1L495.1 2421.1L494.1 2422.6L492.7 2424.1L491 2425.4L489 2426.4L486.5 2427.1M487 2425.6L484 2426L481 2425.5L478.2 2424.1L476.3 2422.1L475.4 2419.6L475.3 2418.1L475.6 2416.6L477 2414.1L479 2412.4L482.5 2411L484.5 2410.9L486.9 2411.1L489 2411.8L490.6 2412.6L492 2413.7L493.2 2415.1L493.9 2416.6L494.1 2418.1L493.9 2419.6L493.3 2421.1L492.2 2422.6L490.5 2424L487 2425.6M487 2424.1L484.5 2424.5L482 2424.2L479.6 2423.1L478.1 2421.6L477.2 2419.6L477.1 2417.6L477.9 2415.6L479.5 2413.9L482.5 2412.5L486 2412.4L489.4 2413.6L491.5 2415.6L492 2416.6L492.3 2418.1L491.6 2420.6L489.9 2422.6L487 2424.1M486.5 2422.6L484.5 2423L483 2422.8L481.2 2422.1L480 2421.1L479.1 2419.6L479 2418.1L479.4 2416.6L480.7 2415.1L483 2414L485.5 2413.9L487.8 2414.6L489.6 2416.1L490.3 2418.1L490 2419.7L488.5 2421.6L486.5 2422.6M485.5 2421.2L483 2421.1L482 2420.5L481.2 2419.6L480.9 2418.6L481.1 2417.6L481.7 2416.6L482.5 2416L484 2415.5L485.5 2415.5L487 2416.1L488 2417.1L488.3 2418.1L487.9 2419.6L487 2420.6L485.5 2421.2" fill="none" stroke="#111" stroke-width="1.0"/>
<path d="M477.2 2441.8h0M465.8 2438h0M457.7 2411.4h0M471.8 2400.4h0M502.8 2399.5h0M476.3 2440.5h0M459.2 2431.2h0M500.6 2431.9h0M494 2400.4h0M474.1 2439.2h0M467.6 2398.6h0M465.7 2431.3h0M505.7 2432.5h0M504.5 2431.3h0" stroke="#222" stroke-width="1.1" stroke-linecap="round" stroke-opacity="0.9"/>
<path d="M494 2392h0M502 2389h0M511 2393h0M520 2420h0M527 2418h0M534 2412h0M538 2398h0" stroke="#222" stroke-width="1.2" stroke-linecap="round" stroke-opacity="0.9"/>
<rect x="527.6" y="2292" width="116.7" height="158.2" fill="none" stroke="#4d4df5" stroke-width="1.6"/>
<rect x="443" y="2240.6" width="221.4" height="221.4" fill="none" stroke="#333" stroke-width="1.6"/>
<path d="M443 2456.4h-2M443 2450.8h-2M443 2445.2h-2M443 2439.6h-2M443 2434h-3.5M443 2428.4h-2M443 2422.8h-2M443 2417.2h-2M443 2411.6h-2M443 2406h-3.5M443 2400.4h-2M443 2394.8h-2M443 2389.2h-2M443 2383.6h-2M443 2378h-3.5M443 2372.4h-2M443 2366.8h-2M443 2361.2h-2M443 2355.6h-2M443 2350h-3.5M443 2344.4h-2M443 2338.8h-2M443 2333.2h-2M443 2327.6h-2M443 2322h-3.5M443 2316.4h-2M443 2310.8h-2M443 2305.2h-2M443 2299.6h-2M443 2294h-3.5M443 2288.4h-2M443 2282.8h-2M443 2277.2h-2M443 2271.6h-2M443 2266h-3.5M443 2260.4h-2M443 2254.8h-2M443 2249.2h-2M443 2243.6h-2M448.6 2462v2M454.2 2462v2M459.8 2462v2M465.4 2462v2M471 2462v3.5M476.6 2462v2M482.2 2462v2M487.8 2462v2M493.4 2462v2M499 2462v3.5M504.6 2462v2M510.2 2462v2M515.8 2462v2M521.4 2462v2M527 2462v3.5M532.6 2462v2M538.2 2462v2M543.8 2462v2M549.4 2462v2M555 2462v3.5M560.6 2462v2M566.2 2462v2M571.8 2462v2M577.4 2462v2M583 2462v3.5M588.6 2462v2M594.2 2462v2M599.8 2462v2M605.4 2462v2M611 2462v3.5M616.6 2462v2M622.2 2462v2M627.8 2462v2M633.4 2462v2M639 2462v3.5M644.6 2462v2M650.2 2462v2M655.8 2462v2M661.4 2462v2" stroke="#333" stroke-width="0.8"/>
<text x="545.8" y="2322.5" font-size="17.5" font-weight="bold" textLength="78.5" lengthAdjust="spacingAndGlyphs">T<tspan font-size="12" dy="4.5">RM</tspan><tspan dy="-4.5"> cells</tspan></text>
<text x="428" y="2349.4" font-size="22.46" text-anchor="middle" transform="rotate(-90 428 2349.4)">CD103</text>
<text x="523.6" y="2488.5" font-size="22.86">CD69</text>
<line x1="827.2" y1="2153.1" x2="827.2" y2="2153.4" stroke="#000000" stroke-width="2.4"/>
<line x1="827.2" y1="2154.4" x2="827.2" y2="2154.7" stroke="#000000" stroke-width="2.4"/>
<line x1="818.9" y1="2153.1" x2="835.5" y2="2153.1" stroke="#000000" stroke-width="2.4"/>
<line x1="818.9" y1="2154.7" x2="835.5" y2="2154.7" stroke="#000000" stroke-width="2.4"/>
<rect x="811.9" y="2153.4" width="30.6" height="0.9" fill="none" stroke="#000000" stroke-width="2.8"/>
<line x1="811.9" y1="2153.7" x2="842.5" y2="2153.7" stroke="#000000" stroke-width="2.4"/>
<circle cx="814.2" cy="2153.7" r="4.5" fill="#000000"/>
<circle cx="820.7" cy="2154" r="4.5" fill="#000000"/>
<circle cx="827.2" cy="2153.7" r="4.5" fill="#000000"/>
<circle cx="833.7" cy="2154" r="4.5" fill="#000000"/>
<circle cx="840.2" cy="2153.7" r="4.5" fill="#000000"/>
<line x1="877.2" y1="2151.5" x2="877.2" y2="2151.9" stroke="#88bbf5" stroke-width="2.4"/>
<line x1="877.2" y1="2152.8" x2="877.2" y2="2153.1" stroke="#88bbf5" stroke-width="2.4"/>
<line x1="868.9" y1="2151.5" x2="885.5" y2="2151.5" stroke="#88bbf5" stroke-width="2.4"/>
<line x1="868.9" y1="2153.1" x2="885.5" y2="2153.1" stroke="#88bbf5" stroke-width="2.4"/>
<rect x="861.9" y="2151.9" width="30.6" height="0.9" fill="none" stroke="#88bbf5" stroke-width="2.8"/>
<line x1="861.9" y1="2152.5" x2="892.5" y2="2152.5" stroke="#88bbf5" stroke-width="2.4"/>
<circle cx="864.2" cy="2152.2" r="4.5" fill="#88bbf5"/>
<circle cx="870.7" cy="2152.5" r="4.5" fill="#88bbf5"/>
<circle cx="877.2" cy="2152.5" r="4.5" fill="#88bbf5"/>
<circle cx="883.7" cy="2152.2" r="4.5" fill="#88bbf5"/>
<circle cx="890.2" cy="2152.2" r="4.5" fill="#88bbf5"/>
<line x1="927.2" y1="2148.4" x2="927.2" y2="2148.7" stroke="#4d4dff" stroke-width="2.4"/>
<line x1="927.2" y1="2149.3" x2="927.2" y2="2149.7" stroke="#4d4dff" stroke-width="2.4"/>
<line x1="918.9" y1="2148.4" x2="935.5" y2="2148.4" stroke="#4d4dff" stroke-width="2.4"/>
<line x1="918.9" y1="2149.7" x2="935.5" y2="2149.7" stroke="#4d4dff" stroke-width="2.4"/>
<rect x="911.9" y="2148.7" width="30.6" height="0.6" fill="none" stroke="#4d4dff" stroke-width="2.8"/>
<line x1="911.9" y1="2149" x2="942.5" y2="2149" stroke="#4d4dff" stroke-width="2.4"/>
<circle cx="914.2" cy="2149" r="4.5" fill="#4d4dff"/>
<circle cx="920.7" cy="2149" r="4.5" fill="#4d4dff"/>
<circle cx="927.2" cy="2149" r="4.5" fill="#4d4dff"/>
<circle cx="933.7" cy="2149" r="4.5" fill="#4d4dff"/>
<circle cx="940.2" cy="2148.7" r="4.5" fill="#4d4dff"/>
<line x1="977" y1="1973.1" x2="977" y2="1976.8" stroke="#ff0a78" stroke-width="2.4"/>
<line x1="977" y1="1985.6" x2="977" y2="1988.7" stroke="#ff0a78" stroke-width="2.4"/>
<line x1="968.7" y1="1973.1" x2="985.3" y2="1973.1" stroke="#ff0a78" stroke-width="2.4"/>
<line x1="968.7" y1="1988.7" x2="985.3" y2="1988.7" stroke="#ff0a78" stroke-width="2.4"/>
<rect x="961.7" y="1976.8" width="30.6" height="8.8" fill="none" stroke="#ff0a78" stroke-width="2.8"/>
<line x1="961.7" y1="1980.9" x2="992.3" y2="1980.9" stroke="#ff0a78" stroke-width="2.4"/>
<circle cx="977" cy="1973.1" r="4.5" fill="#ff0a78"/>
<circle cx="968" cy="1976.8" r="4.5" fill="#ff0a78"/>
<circle cx="985" cy="1980.9" r="4.5" fill="#ff0a78"/>
<circle cx="972" cy="1985.6" r="4.5" fill="#ff0a78"/>
<circle cx="974" cy="1988.7" r="4.5" fill="#ff0a78"/>
<line x1="802.6" y1="2159.3" x2="802.6" y2="1907.3" stroke="#000" stroke-width="3.2"/>
<line x1="795.6" y1="2157.8" x2="802.6" y2="2157.8" stroke="#000" stroke-width="3"/>
<text x="792.8" y="2165.4" font-size="21.3" font-weight="bold" text-anchor="end">0</text>
<line x1="795.6" y1="2095.2" x2="802.6" y2="2095.2" stroke="#000" stroke-width="3"/>
<text x="792.8" y="2102.8" font-size="21.3" font-weight="bold" text-anchor="end">2</text>
<line x1="795.6" y1="2032.6" x2="802.6" y2="2032.6" stroke="#000" stroke-width="3"/>
<text x="792.8" y="2040.2" font-size="21.3" font-weight="bold" text-anchor="end">4</text>
<line x1="795.6" y1="1969.9" x2="802.6" y2="1969.9" stroke="#000" stroke-width="3"/>
<text x="792.8" y="1977.6" font-size="21.3" font-weight="bold" text-anchor="end">6</text>
<line x1="795.6" y1="1907.3" x2="802.6" y2="1907.3" stroke="#000" stroke-width="3"/>
<text x="792.8" y="1914.9" font-size="21.3" font-weight="bold" text-anchor="end">8</text>
<line x1="801.1" y1="2157.8" x2="1003.7" y2="2157.8" stroke="#000" stroke-width="3.2"/>
<line x1="827.2" y1="2157.8" x2="827.2" y2="2165.8" stroke="#000" stroke-width="3"/>
<line x1="877.2" y1="2157.8" x2="877.2" y2="2165.8" stroke="#000" stroke-width="3"/>
<line x1="927.2" y1="2157.8" x2="927.2" y2="2165.8" stroke="#000" stroke-width="3"/>
<line x1="977" y1="2157.8" x2="977" y2="2165.8" stroke="#000" stroke-width="3"/>
<text x="763.3" y="2033.2" font-size="21" font-weight="bold" text-anchor="middle" textLength="239.2" lengthAdjust="spacingAndGlyphs" transform="rotate(-90 763.3 2033.2)" style="white-space:pre">% CD4<tspan dy="-8.5" font-size="13.5">+</tspan><tspan dy="8.5"> T</tspan><tspan font-size="14" dy="5">RM</tspan><tspan dy="-5">  cells / lung</tspan></text>
<text x="864.2" y="1901.4" font-size="16.16" font-weight="bold"><tspan font-style="italic">P</tspan> &lt; 0.0001</text>
<line x1="829.3" y1="1906.1" x2="979" y2="1906.1" stroke="#000" stroke-width="2"/>
<text x="887.9" y="1929.4" font-size="16.37" font-weight="bold"><tspan font-style="italic">P</tspan> &lt; 0.0001</text>
<line x1="877.6" y1="1934" x2="979" y2="1934" stroke="#000" stroke-width="2"/>
<text x="913.6" y="1957.5" font-size="16.58" font-weight="bold"><tspan font-style="italic">P</tspan> &lt; 0.0001</text>
<line x1="928.2" y1="1961.7" x2="979" y2="1961.7" stroke="#000" stroke-width="2"/>
<text x="842.3" y="2128.7" font-size="19.53" font-weight="bold">ns</text>
<line x1="828.3" y1="2134.6" x2="878.8" y2="2134.6" stroke="#000" stroke-width="2"/>
<text x="891.3" y="2105.4" font-size="19.62" font-weight="bold">ns</text>
<line x1="877.6" y1="2110.3" x2="928.2" y2="2110.3" stroke="#000" stroke-width="2"/>
<line x1="1191.9" y1="2151.9" x2="1191.9" y2="2152.3" stroke="#000000" stroke-width="2.4"/>
<line x1="1191.9" y1="2152.9" x2="1191.9" y2="2153.3" stroke="#000000" stroke-width="2.4"/>
<line x1="1183.6" y1="2151.9" x2="1200.2" y2="2151.9" stroke="#000000" stroke-width="2.4"/>
<line x1="1183.6" y1="2153.3" x2="1200.2" y2="2153.3" stroke="#000000" stroke-width="2.4"/>
<rect x="1176.6" y="2152.3" width="30.6" height="0.6" fill="none" stroke="#000000" stroke-width="2.8"/>
<line x1="1176.6" y1="2152.7" x2="1207.2" y2="2152.7" stroke="#000000" stroke-width="2.4"/>
<circle cx="1178.9" cy="2152.7" r="4.5" fill="#000000"/>
<circle cx="1185.4" cy="2152.5" r="4.5" fill="#000000"/>
<circle cx="1191.9" cy="2152.7" r="4.5" fill="#000000"/>
<circle cx="1198.4" cy="2152.5" r="4.5" fill="#000000"/>
<circle cx="1204.9" cy="2152.7" r="4.5" fill="#000000"/>
<line x1="1242" y1="2150.2" x2="1242" y2="2150.4" stroke="#88bbf5" stroke-width="2.4"/>
<line x1="1242" y1="2151.2" x2="1242" y2="2151.4" stroke="#88bbf5" stroke-width="2.4"/>
<line x1="1233.7" y1="2150.2" x2="1250.3" y2="2150.2" stroke="#88bbf5" stroke-width="2.4"/>
<line x1="1233.7" y1="2151.4" x2="1250.3" y2="2151.4" stroke="#88bbf5" stroke-width="2.4"/>
<rect x="1226.7" y="2150.4" width="30.6" height="0.7" fill="none" stroke="#88bbf5" stroke-width="2.8"/>
<line x1="1226.7" y1="2150.8" x2="1257.3" y2="2150.8" stroke="#88bbf5" stroke-width="2.4"/>
<circle cx="1229" cy="2150.8" r="4.5" fill="#88bbf5"/>
<circle cx="1235.5" cy="2150.9" r="4.5" fill="#88bbf5"/>
<circle cx="1242" cy="2150.7" r="4.5" fill="#88bbf5"/>
<circle cx="1248.5" cy="2150.8" r="4.5" fill="#88bbf5"/>
<circle cx="1255" cy="2150.9" r="4.5" fill="#88bbf5"/>
<line x1="1291.7" y1="2145.4" x2="1291.7" y2="2145.9" stroke="#4d4dff" stroke-width="2.4"/>
<line x1="1291.7" y1="2146.9" x2="1291.7" y2="2147.4" stroke="#4d4dff" stroke-width="2.4"/>
<line x1="1283.4" y1="2145.4" x2="1300" y2="2145.4" stroke="#4d4dff" stroke-width="2.4"/>
<line x1="1283.4" y1="2147.4" x2="1300" y2="2147.4" stroke="#4d4dff" stroke-width="2.4"/>
<rect x="1276.4" y="2145.9" width="30.6" height="1" fill="none" stroke="#4d4dff" stroke-width="2.8"/>
<line x1="1276.4" y1="2146.4" x2="1307" y2="2146.4" stroke="#4d4dff" stroke-width="2.4"/>
<circle cx="1278.7" cy="2146.4" r="4.5" fill="#4d4dff"/>
<circle cx="1285.2" cy="2146.2" r="4.5" fill="#4d4dff"/>
<circle cx="1291.7" cy="2146.7" r="4.5" fill="#4d4dff"/>
<circle cx="1298.2" cy="2146.4" r="4.5" fill="#4d4dff"/>
<circle cx="1304.7" cy="2146.2" r="4.5" fill="#4d4dff"/>
<line x1="1342.4" y1="1988.5" x2="1342.4" y2="1989.3" stroke="#ff0a78" stroke-width="2.4"/>
<line x1="1342.4" y1="2005.4" x2="1342.4" y2="2012.6" stroke="#ff0a78" stroke-width="2.4"/>
<line x1="1334.1" y1="1988.5" x2="1350.7" y2="1988.5" stroke="#ff0a78" stroke-width="2.4"/>
<line x1="1334.1" y1="2012.6" x2="1350.7" y2="2012.6" stroke="#ff0a78" stroke-width="2.4"/>
<rect x="1327.1" y="1989.3" width="30.6" height="16.1" fill="none" stroke="#ff0a78" stroke-width="2.8"/>
<line x1="1327.1" y1="1996.3" x2="1357.7" y2="1996.3" stroke="#ff0a78" stroke-width="2.4"/>
<circle cx="1329.4" cy="1988.5" r="4.5" fill="#ff0a78"/>
<circle cx="1355" cy="1989.8" r="4.5" fill="#ff0a78"/>
<circle cx="1338" cy="1996.2" r="4.5" fill="#ff0a78"/>
<circle cx="1346.4" cy="2000.3" r="4.5" fill="#ff0a78"/>
<circle cx="1342.4" cy="2012.6" r="4.5" fill="#ff0a78"/>
<line x1="1166.2" y1="2157.9" x2="1166.2" y2="1906.8" stroke="#000" stroke-width="3.2"/>
<line x1="1159.2" y1="2156.4" x2="1166.2" y2="2156.4" stroke="#000" stroke-width="3"/>
<text x="1157.7" y="2164" font-size="21.3" font-weight="bold" text-anchor="end">0</text>
<line x1="1159.2" y1="2094" x2="1166.2" y2="2094" stroke="#000" stroke-width="3"/>
<text x="1157.7" y="2101.6" font-size="21.3" font-weight="bold" text-anchor="end">500</text>
<line x1="1159.2" y1="2031.6" x2="1166.2" y2="2031.6" stroke="#000" stroke-width="3"/>
<text x="1157.7" y="2039.2" font-size="21.3" font-weight="bold" text-anchor="end">1000</text>
<line x1="1159.2" y1="1969.2" x2="1166.2" y2="1969.2" stroke="#000" stroke-width="3"/>
<text x="1157.7" y="1976.8" font-size="21.3" font-weight="bold" text-anchor="end">1500</text>
<line x1="1159.2" y1="1906.8" x2="1166.2" y2="1906.8" stroke="#000" stroke-width="3"/>
<text x="1157.7" y="1914.4" font-size="21.3" font-weight="bold" text-anchor="end">2000</text>
<line x1="1164.7" y1="2156.4" x2="1367.5" y2="2156.4" stroke="#000" stroke-width="3.2"/>
<line x1="1191.9" y1="2156.4" x2="1191.9" y2="2164.4" stroke="#000" stroke-width="3"/>
<line x1="1242" y1="2156.4" x2="1242" y2="2164.4" stroke="#000" stroke-width="3"/>
<line x1="1291.7" y1="2156.4" x2="1291.7" y2="2164.4" stroke="#000" stroke-width="3"/>
<line x1="1342.4" y1="2156.4" x2="1342.4" y2="2164.4" stroke="#000" stroke-width="3"/>
<text x="1097.6" y="2030.6" font-size="21" font-weight="bold" text-anchor="middle" textLength="231.8" lengthAdjust="spacingAndGlyphs" transform="rotate(-90 1097.6 2030.6)" style="white-space:pre"># CD4<tspan dy="-8.5" font-size="13.5">+</tspan><tspan dy="8.5"> T</tspan><tspan font-size="14" dy="5">RM</tspan><tspan dy="-5">  cells / lung</tspan></text>
<text x="1226.3" y="1911.6" font-size="16.96" font-weight="bold"><tspan font-style="italic">P</tspan> &lt; 0.0001</text>
<line x1="1193.8" y1="1916.3" x2="1343.9" y2="1916.3" stroke="#000" stroke-width="2"/>
<text x="1251.9" y="1939.2" font-size="16.56" font-weight="bold"><tspan font-style="italic">P</tspan> &lt; 0.0001</text>
<line x1="1242.4" y1="1944" x2="1343.9" y2="1944" stroke="#000" stroke-width="2"/>
<text x="1278.4" y="1967.6" font-size="16.39" font-weight="bold"><tspan font-style="italic">P</tspan> &lt; 0.0001</text>
<line x1="1292.5" y1="1972" x2="1343.9" y2="1972" stroke="#000" stroke-width="2"/>
<text x="1204.4" y="2126.7" font-size="20.47" font-weight="bold">ns</text>
<line x1="1191" y1="2131.5" x2="1242" y2="2131.5" stroke="#000" stroke-width="2"/>
<text x="1253.7" y="2102.3" font-size="20.47" font-weight="bold">ns</text>
<line x1="1242" y1="2107.8" x2="1291.4" y2="2107.8" stroke="#000" stroke-width="2"/>
<rect x="1393.8" y="1917.2" width="26.8" height="12.8" fill="none" stroke="#000000" stroke-width="2.8"/>
<text x="1434.9" y="1931.3" font-size="21">Mock</text>
<rect x="1393.8" y="1946.8" width="26.8" height="12.8" fill="none" stroke="#88bbf5" stroke-width="2.8"/>
<text x="1434.9" y="1960.9" font-size="21">H3N2 (<tspan font-style="italic">i.m.</tspan>)</text>
<rect x="1393.8" y="1976.4" width="26.8" height="12.8" fill="none" stroke="#4d4dff" stroke-width="2.8"/>
<text x="1434.9" y="1990.5" font-size="21">H3N2+NVT (<tspan font-style="italic">i.m.</tspan>)</text>
<rect x="1393.8" y="2006" width="26.8" height="12.8" fill="none" stroke="#ff0a78" stroke-width="2.8"/>
<text x="1434.9" y="2020.1" font-size="21">H3N2+NVT (<tspan font-style="italic">i.n.</tspan>)</text>
<line x1="827.2" y1="2462.8" x2="827.2" y2="2464.1" stroke="#000000" stroke-width="2.4"/>
<line x1="827.2" y1="2473.8" x2="827.2" y2="2475.3" stroke="#000000" stroke-width="2.4"/>
<line x1="818.9" y1="2462.8" x2="835.5" y2="2462.8" stroke="#000000" stroke-width="2.4"/>
<line x1="818.9" y1="2475.3" x2="835.5" y2="2475.3" stroke="#000000" stroke-width="2.4"/>
<rect x="811.9" y="2464.1" width="30.6" height="9.7" fill="none" stroke="#000000" stroke-width="2.8"/>
<line x1="811.9" y1="2468.8" x2="842.5" y2="2468.8" stroke="#000000" stroke-width="2.4"/>
<circle cx="816.2" cy="2462.8" r="4.5" fill="#000000"/>
<circle cx="835.2" cy="2467.8" r="4.5" fill="#000000"/>
<circle cx="821.2" cy="2472.8" r="4.5" fill="#000000"/>
<circle cx="829.2" cy="2475.3" r="4.5" fill="#000000"/>
<circle cx="839.2" cy="2470.3" r="4.5" fill="#000000"/>
<line x1="877.2" y1="2467.8" x2="877.2" y2="2467.8" stroke="#88bbf5" stroke-width="2.4"/>
<line x1="877.2" y1="2472.8" x2="877.2" y2="2472.8" stroke="#88bbf5" stroke-width="2.4"/>
<line x1="868.9" y1="2467.8" x2="885.5" y2="2467.8" stroke="#88bbf5" stroke-width="2.4"/>
<line x1="868.9" y1="2472.8" x2="885.5" y2="2472.8" stroke="#88bbf5" stroke-width="2.4"/>
<rect x="861.9" y="2467.8" width="30.6" height="5" fill="none" stroke="#88bbf5" stroke-width="2.8"/>
<line x1="861.9" y1="2470.3" x2="892.5" y2="2470.3" stroke="#88bbf5" stroke-width="2.4"/>
<circle cx="865.2" cy="2467.8" r="4.5" fill="#88bbf5"/>
<circle cx="871.2" cy="2467.8" r="4.5" fill="#88bbf5"/>
<circle cx="889.2" cy="2467.8" r="4.5" fill="#88bbf5"/>
<circle cx="877.2" cy="2472.8" r="4.5" fill="#88bbf5"/>
<circle cx="883.2" cy="2472.8" r="4.5" fill="#88bbf5"/>
<line x1="927.2" y1="2447.9" x2="927.2" y2="2453" stroke="#4d4dff" stroke-width="2.4"/>
<line x1="927.2" y1="2468.9" x2="927.2" y2="2467.8" stroke="#4d4dff" stroke-width="2.4"/>
<line x1="918.9" y1="2447.9" x2="935.5" y2="2447.9" stroke="#4d4dff" stroke-width="2.4"/>
<line x1="918.9" y1="2467.8" x2="935.5" y2="2467.8" stroke="#4d4dff" stroke-width="2.4"/>
<rect x="911.9" y="2453" width="30.6" height="15.9" fill="none" stroke="#4d4dff" stroke-width="2.8"/>
<line x1="911.9" y1="2467.8" x2="942.5" y2="2467.8" stroke="#4d4dff" stroke-width="2.4"/>
<circle cx="927.2" cy="2447.9" r="4.5" fill="#4d4dff"/>
<circle cx="939.2" cy="2457.8" r="4.5" fill="#4d4dff"/>
<circle cx="915.2" cy="2467.8" r="4.5" fill="#4d4dff"/>
<circle cx="924.2" cy="2467.8" r="4.5" fill="#4d4dff"/>
<circle cx="933.2" cy="2467.8" r="4.5" fill="#4d4dff"/>
<line x1="977" y1="2452.9" x2="977" y2="2455.3" stroke="#ff0a78" stroke-width="2.4"/>
<line x1="977" y1="2473.8" x2="977" y2="2473.8" stroke="#ff0a78" stroke-width="2.4"/>
<line x1="968.7" y1="2452.9" x2="985.3" y2="2452.9" stroke="#ff0a78" stroke-width="2.4"/>
<line x1="968.7" y1="2473.8" x2="985.3" y2="2473.8" stroke="#ff0a78" stroke-width="2.4"/>
<rect x="961.7" y="2455.3" width="30.6" height="18.5" fill="none" stroke="#ff0a78" stroke-width="2.8"/>
<line x1="961.7" y1="2472.8" x2="992.3" y2="2472.8" stroke="#ff0a78" stroke-width="2.4"/>
<circle cx="971" cy="2452.9" r="4.5" fill="#ff0a78"/>
<circle cx="983" cy="2457.8" r="4.5" fill="#ff0a78"/>
<circle cx="965" cy="2472.8" r="4.5" fill="#ff0a78"/>
<circle cx="977" cy="2473.8" r="4.5" fill="#ff0a78"/>
<circle cx="989" cy="2473.8" r="4.5" fill="#ff0a78"/>
<line x1="802.6" y1="2479.3" x2="802.6" y2="2228.3" stroke="#000" stroke-width="3.2"/>
<line x1="795.6" y1="2477.8" x2="802.6" y2="2477.8" stroke="#000" stroke-width="3"/>
<text x="792.7" y="2484.7" font-size="19.2" font-weight="bold" text-anchor="end">0.0</text>
<line x1="795.6" y1="2427.9" x2="802.6" y2="2427.9" stroke="#000" stroke-width="3"/>
<text x="792.7" y="2434.8" font-size="19.2" font-weight="bold" text-anchor="end">0.1</text>
<line x1="795.6" y1="2378" x2="802.6" y2="2378" stroke="#000" stroke-width="3"/>
<text x="792.7" y="2384.9" font-size="19.2" font-weight="bold" text-anchor="end">0.2</text>
<line x1="795.6" y1="2328.1" x2="802.6" y2="2328.1" stroke="#000" stroke-width="3"/>
<text x="792.7" y="2335" font-size="19.2" font-weight="bold" text-anchor="end">0.3</text>
<line x1="795.6" y1="2278.2" x2="802.6" y2="2278.2" stroke="#000" stroke-width="3"/>
<text x="792.7" y="2285.1" font-size="19.2" font-weight="bold" text-anchor="end">0.4</text>
<line x1="795.6" y1="2228.3" x2="802.6" y2="2228.3" stroke="#000" stroke-width="3"/>
<text x="792.7" y="2235.2" font-size="19.2" font-weight="bold" text-anchor="end">0.5</text>
<line x1="801.1" y1="2477.8" x2="1003.7" y2="2477.8" stroke="#000" stroke-width="3.2"/>
<line x1="827.2" y1="2477.8" x2="827.2" y2="2485.8" stroke="#000" stroke-width="3"/>
<line x1="877.2" y1="2477.8" x2="877.2" y2="2485.8" stroke="#000" stroke-width="3"/>
<line x1="927.2" y1="2477.8" x2="927.2" y2="2485.8" stroke="#000" stroke-width="3"/>
<line x1="977" y1="2477.8" x2="977" y2="2485.8" stroke="#000" stroke-width="3"/>
<text x="750.9" y="2352.7" font-size="21" font-weight="bold" text-anchor="middle" textLength="240.2" lengthAdjust="spacingAndGlyphs" transform="rotate(-90 750.9 2352.7)" style="white-space:pre">% CD8<tspan dy="-8.5" font-size="13.5">+</tspan><tspan dy="8.5"> T</tspan><tspan font-size="14" dy="5">RM</tspan><tspan dy="-5">  cells / lung</tspan></text>
<line x1="1191.9" y1="2431.5" x2="1191.9" y2="2439" stroke="#000000" stroke-width="2.4"/>
<line x1="1191.9" y1="2461.4" x2="1191.9" y2="2461.4" stroke="#000000" stroke-width="2.4"/>
<line x1="1183.6" y1="2431.5" x2="1200.2" y2="2431.5" stroke="#000000" stroke-width="2.4"/>
<line x1="1183.6" y1="2461.4" x2="1200.2" y2="2461.4" stroke="#000000" stroke-width="2.4"/>
<rect x="1176.6" y="2439" width="30.6" height="22.5" fill="none" stroke="#000000" stroke-width="2.8"/>
<line x1="1176.6" y1="2458.9" x2="1207.2" y2="2458.9" stroke="#000000" stroke-width="2.4"/>
<circle cx="1191.9" cy="2431.5" r="4.5" fill="#000000"/>
<circle cx="1191.9" cy="2446.5" r="4.5" fill="#000000"/>
<circle cx="1180.9" cy="2461.4" r="4.5" fill="#000000"/>
<circle cx="1191.9" cy="2461.4" r="4.5" fill="#000000"/>
<circle cx="1202.9" cy="2461.4" r="4.5" fill="#000000"/>
<line x1="1242" y1="2441.5" x2="1242" y2="2444" stroke="#88bbf5" stroke-width="2.4"/>
<line x1="1242" y1="2461.4" x2="1242" y2="2461.4" stroke="#88bbf5" stroke-width="2.4"/>
<line x1="1233.7" y1="2441.5" x2="1250.3" y2="2441.5" stroke="#88bbf5" stroke-width="2.4"/>
<line x1="1233.7" y1="2461.4" x2="1250.3" y2="2461.4" stroke="#88bbf5" stroke-width="2.4"/>
<rect x="1226.7" y="2444" width="30.6" height="17.5" fill="none" stroke="#88bbf5" stroke-width="2.8"/>
<line x1="1226.7" y1="2451.5" x2="1257.3" y2="2451.5" stroke="#88bbf5" stroke-width="2.4"/>
<circle cx="1253" cy="2441.5" r="4.5" fill="#88bbf5"/>
<circle cx="1234" cy="2446.5" r="4.5" fill="#88bbf5"/>
<circle cx="1245" cy="2446.5" r="4.5" fill="#88bbf5"/>
<circle cx="1239" cy="2461.4" r="4.5" fill="#88bbf5"/>
<circle cx="1248" cy="2461.4" r="4.5" fill="#88bbf5"/>
<line x1="1291.7" y1="2421.5" x2="1291.7" y2="2424" stroke="#4d4dff" stroke-width="2.4"/>
<line x1="1291.7" y1="2453.9" x2="1291.7" y2="2456.4" stroke="#4d4dff" stroke-width="2.4"/>
<line x1="1283.4" y1="2421.5" x2="1300" y2="2421.5" stroke="#4d4dff" stroke-width="2.4"/>
<line x1="1283.4" y1="2456.4" x2="1300" y2="2456.4" stroke="#4d4dff" stroke-width="2.4"/>
<rect x="1276.4" y="2424" width="30.6" height="29.9" fill="none" stroke="#4d4dff" stroke-width="2.8"/>
<line x1="1276.4" y1="2436.5" x2="1307" y2="2436.5" stroke="#4d4dff" stroke-width="2.4"/>
<circle cx="1291.7" cy="2421.5" r="4.5" fill="#4d4dff"/>
<circle cx="1285.7" cy="2426.5" r="4.5" fill="#4d4dff"/>
<circle cx="1299.7" cy="2436.5" r="4.5" fill="#4d4dff"/>
<circle cx="1299.7" cy="2449" r="4.5" fill="#4d4dff"/>
<circle cx="1286.7" cy="2456.4" r="4.5" fill="#4d4dff"/>
<line x1="1342.4" y1="2406.5" x2="1342.4" y2="2414" stroke="#ff0a78" stroke-width="2.4"/>
<line x1="1342.4" y1="2460.4" x2="1342.4" y2="2461.4" stroke="#ff0a78" stroke-width="2.4"/>
<line x1="1334.1" y1="2406.5" x2="1350.7" y2="2406.5" stroke="#ff0a78" stroke-width="2.4"/>
<line x1="1334.1" y1="2461.4" x2="1350.7" y2="2461.4" stroke="#ff0a78" stroke-width="2.4"/>
<rect x="1327.1" y="2414" width="30.6" height="46.4" fill="none" stroke="#ff0a78" stroke-width="2.8"/>
<line x1="1327.1" y1="2456.4" x2="1357.7" y2="2456.4" stroke="#ff0a78" stroke-width="2.4"/>
<circle cx="1342.4" cy="2406.5" r="4.5" fill="#ff0a78"/>
<circle cx="1342.4" cy="2421.5" r="4.5" fill="#ff0a78"/>
<circle cx="1334.4" cy="2456.4" r="4.5" fill="#ff0a78"/>
<circle cx="1344.4" cy="2461.4" r="4.5" fill="#ff0a78"/>
<circle cx="1354.4" cy="2461.4" r="4.5" fill="#ff0a78"/>
<line x1="1167.4" y1="2477.9" x2="1167.4" y2="2226.9" stroke="#000" stroke-width="3.2"/>
<line x1="1160.4" y1="2476.4" x2="1167.4" y2="2476.4" stroke="#000" stroke-width="3"/>
<text x="1158.6" y="2483.3" font-size="19.2" font-weight="bold" text-anchor="end">0</text>
<line x1="1160.4" y1="2426.5" x2="1167.4" y2="2426.5" stroke="#000" stroke-width="3"/>
<text x="1158.6" y="2433.4" font-size="19.2" font-weight="bold" text-anchor="end">10</text>
<line x1="1160.4" y1="2376.6" x2="1167.4" y2="2376.6" stroke="#000" stroke-width="3"/>
<text x="1158.6" y="2383.5" font-size="19.2" font-weight="bold" text-anchor="end">20</text>
<line x1="1160.4" y1="2326.7" x2="1167.4" y2="2326.7" stroke="#000" stroke-width="3"/>
<text x="1158.6" y="2333.6" font-size="19.2" font-weight="bold" text-anchor="end">30</text>
<line x1="1160.4" y1="2276.8" x2="1167.4" y2="2276.8" stroke="#000" stroke-width="3"/>
<text x="1158.6" y="2283.7" font-size="19.2" font-weight="bold" text-anchor="end">40</text>
<line x1="1160.4" y1="2226.9" x2="1167.4" y2="2226.9" stroke="#000" stroke-width="3"/>
<text x="1158.6" y="2233.8" font-size="19.2" font-weight="bold" text-anchor="end">50</text>
<line x1="1165.9" y1="2476.4" x2="1367.5" y2="2476.4" stroke="#000" stroke-width="3.2"/>
<line x1="1191.9" y1="2476.4" x2="1191.9" y2="2484.4" stroke="#000" stroke-width="3"/>
<line x1="1242" y1="2476.4" x2="1242" y2="2484.4" stroke="#000" stroke-width="3"/>
<line x1="1291.7" y1="2476.4" x2="1291.7" y2="2484.4" stroke="#000" stroke-width="3"/>
<line x1="1342.4" y1="2476.4" x2="1342.4" y2="2484.4" stroke="#000" stroke-width="3"/>
<text x="1119.5" y="2353" font-size="21" font-weight="bold" text-anchor="middle" textLength="231" lengthAdjust="spacingAndGlyphs" transform="rotate(-90 1119.5 2353)" style="white-space:pre"># CD8<tspan dy="-8.5" font-size="13.5">+</tspan><tspan dy="8.5"> T</tspan><tspan font-size="14" dy="5">RM</tspan><tspan dy="-5">  cells / lung</tspan></text>
<rect x="1393.8" y="2237.8" width="26.8" height="12.8" fill="none" stroke="#000000" stroke-width="2.8"/>
<text x="1434.9" y="2251.9" font-size="21">Mock</text>
<rect x="1393.8" y="2267.3" width="26.8" height="12.8" fill="none" stroke="#88bbf5" stroke-width="2.8"/>
<text x="1434.9" y="2281.4" font-size="21">H3N2 (<tspan font-style="italic">i.m.</tspan>)</text>
<rect x="1393.8" y="2296.8" width="26.8" height="12.8" fill="none" stroke="#4d4dff" stroke-width="2.8"/>
<text x="1434.9" y="2310.9" font-size="21">H3N2+NVT (<tspan font-style="italic">i.m.</tspan>)</text>
<rect x="1393.8" y="2326.3" width="26.8" height="12.8" fill="none" stroke="#ff0a78" stroke-width="2.8"/>
<text x="1434.9" y="2340.4" font-size="21">H3N2+NVT (<tspan font-style="italic">i.n.</tspan>)</text>
</svg>
</body></html>
